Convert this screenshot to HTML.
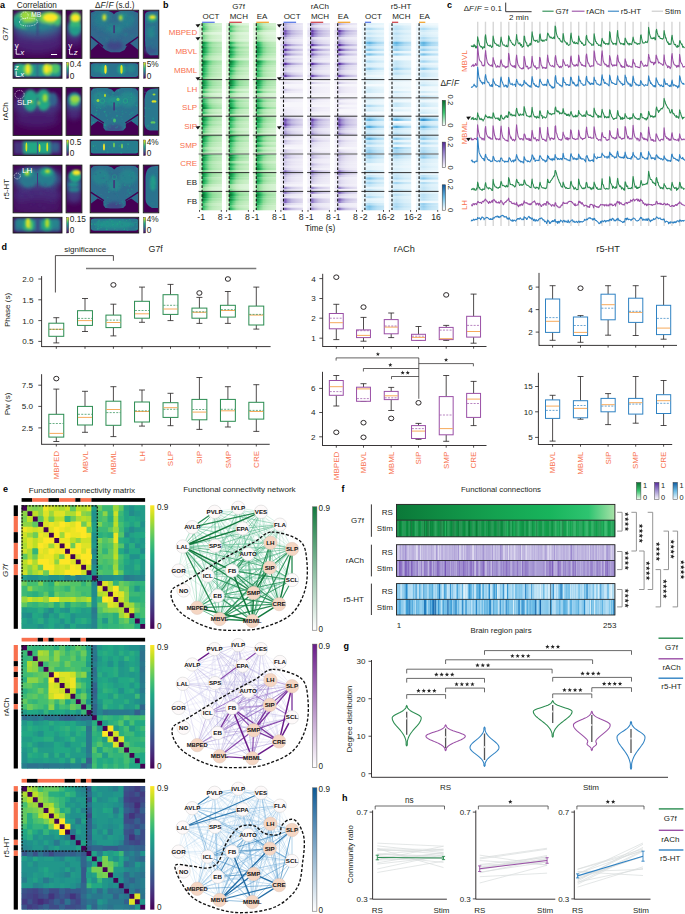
<!DOCTYPE html>
<html><head><meta charset="utf-8"><style>
html,body{margin:0;padding:0;background:#fff;}
body{width:685px;height:914px;overflow:hidden;}
svg{display:block;font-family:"Liberation Sans",sans-serif;}
</style></head><body>
<svg width="685" height="914" viewBox="0 0 685 914" font-size="8" fill="#231f20">
<defs><linearGradient id="rsg"><stop offset="0" stop-color="#0b7838"/><stop offset="0.2" stop-color="#0f8c43"/><stop offset="0.45" stop-color="#14a250"/><stop offset="0.7" stop-color="#18b45c"/><stop offset="0.88" stop-color="#2ec470"/><stop offset="1" stop-color="#a8e2a8"/></linearGradient><linearGradient id="mcb636" x1="0" y1="1" x2="0" y2="0"><stop offset="0" stop-color="#eefaed"/><stop offset="0.5" stop-color="#3cc470"/><stop offset="1" stop-color="#077130"/></linearGradient><linearGradient id="mcb654" x1="0" y1="1" x2="0" y2="0"><stop offset="0" stop-color="#f7f6fb"/><stop offset="0.5" stop-color="#a394d2"/><stop offset="1" stop-color="#56299c"/></linearGradient><linearGradient id="mcb673" x1="0" y1="1" x2="0" y2="0"><stop offset="0" stop-color="#f3fafd"/><stop offset="0.5" stop-color="#6cbce6"/><stop offset="1" stop-color="#0d5a9f"/></linearGradient><linearGradient id="vircb" x1="0" y1="1" x2="0" y2="0"><stop offset="0" stop-color="#440154"/><stop offset="0.1" stop-color="#482475"/><stop offset="0.2" stop-color="#414487"/><stop offset="0.3" stop-color="#355f8d"/><stop offset="0.4" stop-color="#2a788e"/><stop offset="0.5" stop-color="#21918c"/><stop offset="0.6" stop-color="#22a884"/><stop offset="0.7" stop-color="#44bf70"/><stop offset="0.8" stop-color="#7ad151"/><stop offset="0.9" stop-color="#bddf26"/><stop offset="1" stop-color="#fde725"/></linearGradient><clipPath id="cp1"><rect x="13.1" y="10.2" width="48.9" height="48.2"/></clipPath><filter id="b35" x="-30%" y="-30%" width="160%" height="160%"><feGaussianBlur stdDeviation="3.5"/></filter><filter id="b18" x="-30%" y="-30%" width="160%" height="160%"><feGaussianBlur stdDeviation="1.8"/></filter><filter id="b12" x="-30%" y="-30%" width="160%" height="160%"><feGaussianBlur stdDeviation="1.2"/></filter><clipPath id="cp2"><rect x="66.1" y="10.2" width="15.8" height="48.2"/></clipPath><filter id="b30" x="-30%" y="-30%" width="160%" height="160%"><feGaussianBlur stdDeviation="3"/></filter><filter id="b15" x="-30%" y="-30%" width="160%" height="160%"><feGaussianBlur stdDeviation="1.5"/></filter><filter id="b10" x="-30%" y="-30%" width="160%" height="160%"><feGaussianBlur stdDeviation="1"/></filter><clipPath id="cp3"><rect x="13.1" y="62.4" width="48.9" height="15.9"/></clipPath><filter id="b08" x="-30%" y="-30%" width="160%" height="160%"><feGaussianBlur stdDeviation="0.8"/></filter><clipPath id="bc4"><path d="M90.8,12.7 L95.2,11 L101.2,10.6 L108.2,11 L112.2,12.4 L114,14.2 L115.8,12.4 L120.2,11 L127.2,10.6 L133.2,11 L138,12.7 L138.4,50 L129,42.4 L124.5,50 L119.9,52.3 L110.8,52.3 L105.5,50 L98.3,43.6 L90.5,50.8Z"/></clipPath><clipPath id="cp5"><rect x="90.2" y="10.2" width="48.5" height="48.1"/></clipPath><filter id="b05" x="-30%" y="-30%" width="160%" height="160%"><feGaussianBlur stdDeviation="0.5"/></filter><filter id="b20" x="-30%" y="-30%" width="160%" height="160%"><feGaussianBlur stdDeviation="2"/></filter><clipPath id="cp6"><rect x="143.3" y="10.2" width="15.5" height="48.1"/></clipPath><filter id="b06" x="-30%" y="-30%" width="160%" height="160%"><feGaussianBlur stdDeviation="0.6"/></filter><clipPath id="cp7"><rect x="90.2" y="62.4" width="48.5" height="15.9"/></clipPath><clipPath id="cp8"><rect x="13.1" y="87.4" width="48.9" height="48"/></clipPath><filter id="b16" x="-30%" y="-30%" width="160%" height="160%"><feGaussianBlur stdDeviation="1.6"/></filter><clipPath id="cp9"><rect x="66.1" y="87.4" width="15.8" height="48"/></clipPath><filter id="b25" x="-30%" y="-30%" width="160%" height="160%"><feGaussianBlur stdDeviation="2.5"/></filter><clipPath id="cp10"><rect x="13.1" y="140" width="48.9" height="15.5"/></clipPath><clipPath id="bc11"><path d="M91,90.89 L93.2,88.6 L99.2,87.7 L107.2,88 L111.7,89.59 L114.2,91.88 L116.7,89.59 L121.2,88 L129.2,87.7 L135.7,88.6 L138,90.89 L138,125.94 L131.2,120.96 L125.8,123.75 L125.8,127.73 L123.2,130.52 L118.2,130.72 L110.2,130.72 L105.4,130.52 L103.4,127.73 L103.4,123.75 L97.7,120.96 L91,125.94Z"/></clipPath><clipPath id="cp12"><rect x="90.2" y="87.4" width="48.5" height="47.9"/></clipPath><filter id="b04" x="-30%" y="-30%" width="160%" height="160%"><feGaussianBlur stdDeviation="0.4"/></filter><clipPath id="cp13"><rect x="143.3" y="87.4" width="15.5" height="47.9"/></clipPath><clipPath id="cp14"><rect x="90.2" y="140" width="48.5" height="15.5"/></clipPath><clipPath id="cp15"><rect x="13.1" y="165.1" width="48.9" height="47.7"/></clipPath><clipPath id="cp16"><rect x="66.1" y="165.1" width="15.8" height="47.7"/></clipPath><clipPath id="cp17"><rect x="13.1" y="217.3" width="48.9" height="15.7"/></clipPath><clipPath id="bc18"><path d="M91,168.57 L93.2,166.29 L99.2,165.4 L107.2,165.7 L111.7,167.28 L114.2,169.56 L116.7,167.28 L121.2,165.7 L129.2,165.4 L135.7,166.29 L138,168.57 L138,203.48 L131.2,198.52 L125.8,201.3 L125.8,205.26 L123.2,208.04 L118.2,208.24 L110.2,208.24 L105.4,208.04 L103.4,205.26 L103.4,201.3 L97.7,198.52 L91,203.48Z"/></clipPath><clipPath id="cp19"><rect x="90.2" y="165.1" width="48.5" height="47.7"/></clipPath><clipPath id="cp20"><rect x="143.3" y="165.1" width="15.5" height="47.7"/></clipPath><clipPath id="cp21"><rect x="90.2" y="217.3" width="48.5" height="15.7"/></clipPath><linearGradient id="hmG79"><stop offset="0" stop-color="#e1f6df"/><stop offset="0.12" stop-color="#def5dc"/><stop offset="0.15" stop-color="#8adb96"/><stop offset="0.2" stop-color="#5acd7e"/><stop offset="0.3" stop-color="#8fdc99"/><stop offset="0.45" stop-color="#b5e8b5"/><stop offset="0.6" stop-color="#c5edc2"/><stop offset="0.8" stop-color="#cff0cb"/><stop offset="1" stop-color="#d4f2d1"/></linearGradient><linearGradient id="hmG710"><stop offset="0" stop-color="#dff5dd"/><stop offset="0.12" stop-color="#dcf4da"/><stop offset="0.15" stop-color="#7ad68e"/><stop offset="0.2" stop-color="#44c674"/><stop offset="0.3" stop-color="#80d891"/><stop offset="0.45" stop-color="#aee6b0"/><stop offset="0.6" stop-color="#c0ecbe"/><stop offset="0.8" stop-color="#cbefc7"/><stop offset="1" stop-color="#d1f1cd"/></linearGradient><linearGradient id="hmG711"><stop offset="0" stop-color="#ddf5db"/><stop offset="0.12" stop-color="#daf4d7"/><stop offset="0.15" stop-color="#6ad186"/><stop offset="0.2" stop-color="#36bf6b"/><stop offset="0.3" stop-color="#71d38a"/><stop offset="0.45" stop-color="#a7e4ab"/><stop offset="0.6" stop-color="#bbeaba"/><stop offset="0.8" stop-color="#c7eec3"/><stop offset="1" stop-color="#cdf0ca"/></linearGradient><linearGradient id="hmG74"><stop offset="0" stop-color="#eaf8e8"/><stop offset="0.12" stop-color="#e8f8e7"/><stop offset="0.15" stop-color="#c5edc2"/><stop offset="0.2" stop-color="#b5e8b6"/><stop offset="0.3" stop-color="#c7eec3"/><stop offset="0.45" stop-color="#d6f2d3"/><stop offset="0.6" stop-color="#ddf5db"/><stop offset="0.8" stop-color="#e1f6df"/><stop offset="1" stop-color="#e4f7e2"/></linearGradient><linearGradient id="hmG78"><stop offset="0" stop-color="#e3f6e0"/><stop offset="0.12" stop-color="#e0f5de"/><stop offset="0.15" stop-color="#97df9f"/><stop offset="0.2" stop-color="#6fd389"/><stop offset="0.3" stop-color="#9ae0a1"/><stop offset="0.45" stop-color="#bceabb"/><stop offset="0.6" stop-color="#caefc6"/><stop offset="0.8" stop-color="#d2f1cf"/><stop offset="1" stop-color="#d7f3d4"/></linearGradient><linearGradient id="hmG77"><stop offset="0" stop-color="#e4f7e2"/><stop offset="0.12" stop-color="#e2f6e0"/><stop offset="0.15" stop-color="#a2e2a7"/><stop offset="0.2" stop-color="#85d994"/><stop offset="0.3" stop-color="#a6e3aa"/><stop offset="0.45" stop-color="#c2ecc0"/><stop offset="0.6" stop-color="#cff0cb"/><stop offset="0.8" stop-color="#d6f2d3"/><stop offset="1" stop-color="#daf4d7"/></linearGradient><linearGradient id="hmG717"><stop offset="0" stop-color="#d3f1d0"/><stop offset="0.12" stop-color="#cef0ca"/><stop offset="0.15" stop-color="#24b05d"/><stop offset="0.2" stop-color="#0e9143"/><stop offset="0.3" stop-color="#29b561"/><stop offset="0.45" stop-color="#77d58d"/><stop offset="0.6" stop-color="#9de1a3"/><stop offset="0.8" stop-color="#afe6b1"/><stop offset="1" stop-color="#b9e9b9"/></linearGradient><linearGradient id="hmG715"><stop offset="0" stop-color="#d6f2d3"/><stop offset="0.12" stop-color="#d2f1cf"/><stop offset="0.15" stop-color="#33bd69"/><stop offset="0.2" stop-color="#149f4e"/><stop offset="0.3" stop-color="#38c06d"/><stop offset="0.45" stop-color="#8adb96"/><stop offset="0.6" stop-color="#a7e4ab"/><stop offset="0.8" stop-color="#b7e9b7"/><stop offset="1" stop-color="#c0ecbe"/></linearGradient><linearGradient id="hmG718"><stop offset="0" stop-color="#d1f1ce"/><stop offset="0.12" stop-color="#ccefc8"/><stop offset="0.15" stop-color="#1daa57"/><stop offset="0.2" stop-color="#0b893e"/><stop offset="0.3" stop-color="#22af5b"/><stop offset="0.45" stop-color="#6dd288"/><stop offset="0.6" stop-color="#98df9f"/><stop offset="0.8" stop-color="#abe5ae"/><stop offset="1" stop-color="#b6e8b6"/></linearGradient><linearGradient id="hmG716"><stop offset="0" stop-color="#d5f2d2"/><stop offset="0.12" stop-color="#d0f0cd"/><stop offset="0.15" stop-color="#2cb763"/><stop offset="0.2" stop-color="#119848"/><stop offset="0.3" stop-color="#30bb67"/><stop offset="0.45" stop-color="#80d891"/><stop offset="0.6" stop-color="#a2e2a7"/><stop offset="0.8" stop-color="#b3e7b4"/><stop offset="1" stop-color="#bdebbb"/></linearGradient><linearGradient id="hmG714"><stop offset="0" stop-color="#d8f3d5"/><stop offset="0.12" stop-color="#d4f2d1"/><stop offset="0.15" stop-color="#3bc36f"/><stop offset="0.2" stop-color="#18a653"/><stop offset="0.3" stop-color="#42c673"/><stop offset="0.45" stop-color="#92dd9b"/><stop offset="0.6" stop-color="#ace5af"/><stop offset="0.8" stop-color="#bbeaba"/><stop offset="1" stop-color="#c4edc1"/></linearGradient><linearGradient id="hmG720"><stop offset="0" stop-color="#cef0ca"/><stop offset="0.12" stop-color="#c8eec4"/><stop offset="0.15" stop-color="#149f4e"/><stop offset="0.2" stop-color="#087633"/><stop offset="0.3" stop-color="#15a351"/><stop offset="0.45" stop-color="#5acd7e"/><stop offset="0.6" stop-color="#8ddc98"/><stop offset="0.8" stop-color="#a3e3a8"/><stop offset="1" stop-color="#afe6b1"/></linearGradient><linearGradient id="hmG712"><stop offset="0" stop-color="#dcf4d9"/><stop offset="0.12" stop-color="#d8f3d5"/><stop offset="0.15" stop-color="#5acd7e"/><stop offset="0.2" stop-color="#2cb763"/><stop offset="0.3" stop-color="#61cf82"/><stop offset="0.45" stop-color="#a0e2a6"/><stop offset="0.6" stop-color="#b6e8b6"/><stop offset="0.8" stop-color="#c3ecc0"/><stop offset="1" stop-color="#caefc6"/></linearGradient><linearGradient id="hmG76"><stop offset="0" stop-color="#e6f7e4"/><stop offset="0.12" stop-color="#e4f7e2"/><stop offset="0.15" stop-color="#aee6b0"/><stop offset="0.2" stop-color="#97df9f"/><stop offset="0.3" stop-color="#b1e7b2"/><stop offset="0.45" stop-color="#c9eec5"/><stop offset="0.6" stop-color="#d4f2d1"/><stop offset="0.8" stop-color="#daf4d7"/><stop offset="1" stop-color="#ddf5db"/></linearGradient><linearGradient id="hmG713"><stop offset="0" stop-color="#daf4d7"/><stop offset="0.12" stop-color="#d6f2d3"/><stop offset="0.15" stop-color="#49c876"/><stop offset="0.2" stop-color="#22ae5b"/><stop offset="0.3" stop-color="#52ca7b"/><stop offset="0.45" stop-color="#99dfa0"/><stop offset="0.6" stop-color="#b1e7b3"/><stop offset="0.8" stop-color="#bfebbd"/><stop offset="1" stop-color="#c7eec3"/></linearGradient><linearGradient id="hmG75"><stop offset="0" stop-color="#e8f8e6"/><stop offset="0.12" stop-color="#e6f7e5"/><stop offset="0.15" stop-color="#b9e9b9"/><stop offset="0.2" stop-color="#a6e3aa"/><stop offset="0.3" stop-color="#bceabb"/><stop offset="0.45" stop-color="#d0f0cc"/><stop offset="0.6" stop-color="#d9f3d6"/><stop offset="0.8" stop-color="#def5db"/><stop offset="1" stop-color="#e1f6de"/></linearGradient><linearGradient id="hmG719"><stop offset="0" stop-color="#cff0cc"/><stop offset="0.12" stop-color="#caefc6"/><stop offset="0.15" stop-color="#16a451"/><stop offset="0.2" stop-color="#098038"/><stop offset="0.3" stop-color="#1ba956"/><stop offset="0.45" stop-color="#63cf83"/><stop offset="0.6" stop-color="#93dd9c"/><stop offset="0.8" stop-color="#a7e4ab"/><stop offset="1" stop-color="#b3e7b4"/></linearGradient><linearGradient id="hmrA8"><stop offset="0" stop-color="#edebf7"/><stop offset="0.12" stop-color="#edebf7"/><stop offset="0.15" stop-color="#c0b8e0"/><stop offset="0.22" stop-color="#b1a5d9"/><stop offset="0.32" stop-color="#c8c0e4"/><stop offset="0.5" stop-color="#dad5ed"/><stop offset="0.7" stop-color="#e3dff1"/><stop offset="1" stop-color="#eae7f5"/></linearGradient><linearGradient id="hmrA7"><stop offset="0" stop-color="#efecf7"/><stop offset="0.12" stop-color="#efecf7"/><stop offset="0.15" stop-color="#c8c0e4"/><stop offset="0.22" stop-color="#bbb1de"/><stop offset="0.32" stop-color="#cec7e7"/><stop offset="0.5" stop-color="#ded9ef"/><stop offset="0.7" stop-color="#e6e2f3"/><stop offset="1" stop-color="#ebe9f6"/></linearGradient><linearGradient id="hmrA15"><stop offset="0" stop-color="#e5e1f2"/><stop offset="0.12" stop-color="#e5e1f2"/><stop offset="0.15" stop-color="#8d75c5"/><stop offset="0.22" stop-color="#7554b6"/><stop offset="0.32" stop-color="#9a88cd"/><stop offset="0.5" stop-color="#bdb4df"/><stop offset="0.7" stop-color="#cec7e7"/><stop offset="1" stop-color="#ddd8ee"/></linearGradient><linearGradient id="hmrA16"><stop offset="0" stop-color="#e4dff2"/><stop offset="0.12" stop-color="#e4dff2"/><stop offset="0.15" stop-color="#866bc1"/><stop offset="0.22" stop-color="#6e4ab1"/><stop offset="0.32" stop-color="#947fc9"/><stop offset="0.5" stop-color="#b9afdd"/><stop offset="0.7" stop-color="#cbc4e5"/><stop offset="1" stop-color="#dbd6ed"/></linearGradient><linearGradient id="hmrA11"><stop offset="0" stop-color="#eae7f5"/><stop offset="0.12" stop-color="#eae7f5"/><stop offset="0.15" stop-color="#aa9cd5"/><stop offset="0.22" stop-color="#9682ca"/><stop offset="0.32" stop-color="#b4a9da"/><stop offset="0.5" stop-color="#cec7e7"/><stop offset="0.7" stop-color="#dad4ed"/><stop offset="1" stop-color="#e5e1f2"/></linearGradient><linearGradient id="hmrA5"><stop offset="0" stop-color="#f1eff8"/><stop offset="0.12" stop-color="#f1eff8"/><stop offset="0.15" stop-color="#d6d1eb"/><stop offset="0.22" stop-color="#cdc6e7"/><stop offset="0.32" stop-color="#dbd6ed"/><stop offset="0.5" stop-color="#e6e2f3"/><stop offset="0.7" stop-color="#ebe8f5"/><stop offset="1" stop-color="#efecf7"/></linearGradient><linearGradient id="hmrA17"><stop offset="0" stop-color="#e2def1"/><stop offset="0.12" stop-color="#e2def1"/><stop offset="0.15" stop-color="#8062bd"/><stop offset="0.22" stop-color="#663fab"/><stop offset="0.32" stop-color="#8e76c6"/><stop offset="0.5" stop-color="#b5a9db"/><stop offset="0.7" stop-color="#c8c0e4"/><stop offset="1" stop-color="#d9d3ec"/></linearGradient><linearGradient id="hmrA6"><stop offset="0" stop-color="#f0eef8"/><stop offset="0.12" stop-color="#f0eef8"/><stop offset="0.15" stop-color="#cfc8e8"/><stop offset="0.22" stop-color="#c4bce2"/><stop offset="0.32" stop-color="#d5cfea"/><stop offset="0.5" stop-color="#e2def1"/><stop offset="0.7" stop-color="#e8e5f4"/><stop offset="1" stop-color="#edebf6"/></linearGradient><linearGradient id="hmrA18"><stop offset="0" stop-color="#e1dcf0"/><stop offset="0.12" stop-color="#e1dcf0"/><stop offset="0.15" stop-color="#7a5ab9"/><stop offset="0.22" stop-color="#5e34a3"/><stop offset="0.32" stop-color="#886dc2"/><stop offset="0.5" stop-color="#b0a4d9"/><stop offset="0.7" stop-color="#c5bde2"/><stop offset="1" stop-color="#d7d1eb"/></linearGradient><linearGradient id="hmrA4"><stop offset="0" stop-color="#f2f1f9"/><stop offset="0.12" stop-color="#f2f1f9"/><stop offset="0.15" stop-color="#ded9ef"/><stop offset="0.22" stop-color="#d6d1eb"/><stop offset="0.32" stop-color="#e1ddf1"/><stop offset="0.5" stop-color="#e9e6f5"/><stop offset="0.7" stop-color="#edebf6"/><stop offset="1" stop-color="#f1eef8"/></linearGradient><linearGradient id="hmrA19"><stop offset="0" stop-color="#dfdbf0"/><stop offset="0.12" stop-color="#dfdbf0"/><stop offset="0.15" stop-color="#7452b5"/><stop offset="0.22" stop-color="#56299c"/><stop offset="0.32" stop-color="#8265bf"/><stop offset="0.5" stop-color="#ac9fd6"/><stop offset="0.7" stop-color="#c2b9e1"/><stop offset="1" stop-color="#d5cfea"/></linearGradient><linearGradient id="hmrA9"><stop offset="0" stop-color="#ece9f6"/><stop offset="0.12" stop-color="#ece9f6"/><stop offset="0.15" stop-color="#b9afdd"/><stop offset="0.22" stop-color="#a89ad4"/><stop offset="0.32" stop-color="#c1b9e1"/><stop offset="0.5" stop-color="#d6d0eb"/><stop offset="0.7" stop-color="#e0dbf0"/><stop offset="1" stop-color="#e8e5f4"/></linearGradient><linearGradient id="hmrA1"><stop offset="0" stop-color="#f6f5fb"/><stop offset="0.12" stop-color="#f6f5fb"/><stop offset="0.15" stop-color="#f1eff8"/><stop offset="0.22" stop-color="#f0edf8"/><stop offset="0.32" stop-color="#f2f0f9"/><stop offset="0.5" stop-color="#f4f2fa"/><stop offset="0.7" stop-color="#f5f3fa"/><stop offset="1" stop-color="#f6f4fa"/></linearGradient><linearGradient id="hmrA3"><stop offset="0" stop-color="#f4f2fa"/><stop offset="0.12" stop-color="#f4f2fa"/><stop offset="0.15" stop-color="#e5e1f2"/><stop offset="0.22" stop-color="#e0dbf0"/><stop offset="0.32" stop-color="#e7e4f4"/><stop offset="0.5" stop-color="#edeaf6"/><stop offset="0.7" stop-color="#f0edf8"/><stop offset="1" stop-color="#f2f0f9"/></linearGradient><linearGradient id="hmrA0"><stop offset="0" stop-color="#f7f6fb"/><stop offset="0.12" stop-color="#f7f6fb"/><stop offset="0.15" stop-color="#f7f6fb"/><stop offset="0.22" stop-color="#f7f6fb"/><stop offset="0.32" stop-color="#f7f6fb"/><stop offset="0.5" stop-color="#f7f6fb"/><stop offset="0.7" stop-color="#f7f6fb"/><stop offset="1" stop-color="#f7f6fb"/></linearGradient><linearGradient id="hmrA2"><stop offset="0" stop-color="#f5f3fa"/><stop offset="0.12" stop-color="#f5f3fa"/><stop offset="0.15" stop-color="#ebe8f5"/><stop offset="0.22" stop-color="#e8e4f4"/><stop offset="0.32" stop-color="#edeaf6"/><stop offset="0.5" stop-color="#f0eef8"/><stop offset="0.7" stop-color="#f2f0f9"/><stop offset="1" stop-color="#f4f2fa"/></linearGradient><linearGradient id="hmrA14"><stop offset="0" stop-color="#e6e2f3"/><stop offset="0.12" stop-color="#e6e2f3"/><stop offset="0.15" stop-color="#947fc9"/><stop offset="0.22" stop-color="#7d5ebb"/><stop offset="0.32" stop-color="#a191d1"/><stop offset="0.5" stop-color="#c1b9e1"/><stop offset="0.7" stop-color="#d1cae8"/><stop offset="1" stop-color="#dfdaef"/></linearGradient><linearGradient id="hmrA10"><stop offset="0" stop-color="#ebe8f5"/><stop offset="0.12" stop-color="#ebe8f5"/><stop offset="0.15" stop-color="#b1a5d9"/><stop offset="0.22" stop-color="#9f8ed0"/><stop offset="0.32" stop-color="#bbb1de"/><stop offset="0.5" stop-color="#d2cce9"/><stop offset="0.7" stop-color="#ddd8ee"/><stop offset="1" stop-color="#e6e3f3"/></linearGradient><linearGradient id="hmrA13"><stop offset="0" stop-color="#e7e4f4"/><stop offset="0.12" stop-color="#e7e4f4"/><stop offset="0.15" stop-color="#9b89ce"/><stop offset="0.22" stop-color="#8468c0"/><stop offset="0.32" stop-color="#a799d4"/><stop offset="0.5" stop-color="#c6bee3"/><stop offset="0.7" stop-color="#d4ceea"/><stop offset="1" stop-color="#e1dcf0"/></linearGradient><linearGradient id="hmrA12"><stop offset="0" stop-color="#e9e5f4"/><stop offset="0.12" stop-color="#e9e5f4"/><stop offset="0.15" stop-color="#a293d2"/><stop offset="0.22" stop-color="#8d75c5"/><stop offset="0.32" stop-color="#aea1d7"/><stop offset="0.5" stop-color="#cac2e5"/><stop offset="0.7" stop-color="#d7d1eb"/><stop offset="1" stop-color="#e3dff1"/></linearGradient><linearGradient id="hmrA20"><stop offset="0" stop-color="#ded9ef"/><stop offset="0.12" stop-color="#ded9ef"/><stop offset="0.15" stop-color="#6e4ab1"/><stop offset="0.22" stop-color="#4e1f94"/><stop offset="0.32" stop-color="#7d5ebb"/><stop offset="0.5" stop-color="#a89ad4"/><stop offset="0.7" stop-color="#bfb5df"/><stop offset="1" stop-color="#d3cde9"/></linearGradient><linearGradient id="hmr53"><stop offset="0" stop-color="#f1f9fd"/><stop offset="0.12" stop-color="#f1f9fd"/><stop offset="0.16" stop-color="#e4f4fb"/><stop offset="0.25" stop-color="#dcf0fa"/><stop offset="0.35" stop-color="#d9eff9"/><stop offset="0.5" stop-color="#def1fa"/><stop offset="0.7" stop-color="#e4f4fb"/><stop offset="1" stop-color="#e8f6fc"/></linearGradient><linearGradient id="hmr52"><stop offset="0" stop-color="#f3fafd"/><stop offset="0.12" stop-color="#f3fafd"/><stop offset="0.16" stop-color="#eaf6fc"/><stop offset="0.25" stop-color="#e4f4fb"/><stop offset="0.35" stop-color="#e2f3fb"/><stop offset="0.5" stop-color="#e6f5fb"/><stop offset="0.7" stop-color="#eaf6fc"/><stop offset="1" stop-color="#edf7fc"/></linearGradient><linearGradient id="hmr57"><stop offset="0" stop-color="#ebf7fc"/><stop offset="0.12" stop-color="#ebf7fc"/><stop offset="0.16" stop-color="#cce9f7"/><stop offset="0.25" stop-color="#b5def4"/><stop offset="0.35" stop-color="#aedbf3"/><stop offset="0.5" stop-color="#bde2f5"/><stop offset="0.7" stop-color="#cce9f7"/><stop offset="1" stop-color="#d7eef9"/></linearGradient><linearGradient id="hmr55"><stop offset="0" stop-color="#eef8fd"/><stop offset="0.12" stop-color="#eef8fd"/><stop offset="0.16" stop-color="#d9eff9"/><stop offset="0.25" stop-color="#c9e8f7"/><stop offset="0.35" stop-color="#c3e5f6"/><stop offset="0.5" stop-color="#ceeaf8"/><stop offset="0.7" stop-color="#d9eff9"/><stop offset="1" stop-color="#e0f2fa"/></linearGradient><linearGradient id="hmr56"><stop offset="0" stop-color="#edf7fc"/><stop offset="0.12" stop-color="#edf7fc"/><stop offset="0.16" stop-color="#d2ecf8"/><stop offset="0.25" stop-color="#bfe3f6"/><stop offset="0.35" stop-color="#b9e0f5"/><stop offset="0.5" stop-color="#c6e6f6"/><stop offset="0.7" stop-color="#d2ecf8"/><stop offset="1" stop-color="#dcf0fa"/></linearGradient><linearGradient id="hmr513"><stop offset="0" stop-color="#e3f3fb"/><stop offset="0.12" stop-color="#e3f3fb"/><stop offset="0.16" stop-color="#a4d6f1"/><stop offset="0.25" stop-color="#6ebde6"/><stop offset="0.35" stop-color="#5db2e0"/><stop offset="0.5" stop-color="#80c5ea"/><stop offset="0.7" stop-color="#a4d6f1"/><stop offset="1" stop-color="#bae1f5"/></linearGradient><linearGradient id="hmr59"><stop offset="0" stop-color="#e8f6fc"/><stop offset="0.12" stop-color="#e8f6fc"/><stop offset="0.16" stop-color="#bfe3f6"/><stop offset="0.25" stop-color="#a0d4f0"/><stop offset="0.35" stop-color="#94ceee"/><stop offset="0.5" stop-color="#acdaf3"/><stop offset="0.7" stop-color="#bfe3f6"/><stop offset="1" stop-color="#ceeaf8"/></linearGradient><linearGradient id="hmr510"><stop offset="0" stop-color="#e7f5fb"/><stop offset="0.12" stop-color="#e7f5fb"/><stop offset="0.16" stop-color="#b9e0f5"/><stop offset="0.25" stop-color="#94ceee"/><stop offset="0.35" stop-color="#86c8eb"/><stop offset="0.5" stop-color="#a2d5f1"/><stop offset="0.7" stop-color="#b9e0f5"/><stop offset="1" stop-color="#c9e8f7"/></linearGradient><linearGradient id="hmr511"><stop offset="0" stop-color="#e6f4fb"/><stop offset="0.12" stop-color="#e6f4fb"/><stop offset="0.16" stop-color="#b2ddf4"/><stop offset="0.25" stop-color="#87c9eb"/><stop offset="0.35" stop-color="#78c1e8"/><stop offset="0.5" stop-color="#96d0ee"/><stop offset="0.7" stop-color="#b2ddf4"/><stop offset="1" stop-color="#c4e5f6"/></linearGradient><linearGradient id="hmr54"><stop offset="0" stop-color="#f0f9fd"/><stop offset="0.12" stop-color="#f0f9fd"/><stop offset="0.16" stop-color="#def1fa"/><stop offset="0.25" stop-color="#d2ecf8"/><stop offset="0.35" stop-color="#ceeaf8"/><stop offset="0.5" stop-color="#d7eef9"/><stop offset="0.7" stop-color="#def1fa"/><stop offset="1" stop-color="#e4f4fb"/></linearGradient><linearGradient id="hmr51"><stop offset="0" stop-color="#f4fafd"/><stop offset="0.12" stop-color="#f4fafd"/><stop offset="0.16" stop-color="#f0f9fd"/><stop offset="0.25" stop-color="#edf7fc"/><stop offset="0.35" stop-color="#ecf7fc"/><stop offset="0.5" stop-color="#eef8fc"/><stop offset="0.7" stop-color="#f0f9fd"/><stop offset="1" stop-color="#f1f9fd"/></linearGradient><linearGradient id="hmr50"><stop offset="0" stop-color="#f5fbfe"/><stop offset="0.12" stop-color="#f5fbfe"/><stop offset="0.16" stop-color="#f5fbfe"/><stop offset="0.25" stop-color="#f5fbfe"/><stop offset="0.35" stop-color="#f5fbfe"/><stop offset="0.5" stop-color="#f5fbfe"/><stop offset="0.7" stop-color="#f5fbfe"/><stop offset="1" stop-color="#f5fbfe"/></linearGradient><linearGradient id="hmr58"><stop offset="0" stop-color="#eaf6fc"/><stop offset="0.12" stop-color="#eaf6fc"/><stop offset="0.16" stop-color="#c6e6f6"/><stop offset="0.25" stop-color="#acdaf3"/><stop offset="0.35" stop-color="#a2d5f1"/><stop offset="0.5" stop-color="#b4def4"/><stop offset="0.7" stop-color="#c6e6f6"/><stop offset="1" stop-color="#d2ecf8"/></linearGradient><linearGradient id="hmr514"><stop offset="0" stop-color="#e1f3fb"/><stop offset="0.12" stop-color="#e1f3fb"/><stop offset="0.16" stop-color="#9cd2f0"/><stop offset="0.25" stop-color="#62b5e2"/><stop offset="0.35" stop-color="#50a9dc"/><stop offset="0.5" stop-color="#75c0e8"/><stop offset="0.7" stop-color="#9cd2f0"/><stop offset="1" stop-color="#b5def4"/></linearGradient><linearGradient id="hmr512"><stop offset="0" stop-color="#e4f4fb"/><stop offset="0.12" stop-color="#e4f4fb"/><stop offset="0.16" stop-color="#acdaf3"/><stop offset="0.25" stop-color="#7ac3e9"/><stop offset="0.35" stop-color="#6abae5"/><stop offset="0.5" stop-color="#8bcbec"/><stop offset="0.7" stop-color="#acdaf3"/><stop offset="1" stop-color="#bfe3f6"/></linearGradient><linearGradient id="hmr517"><stop offset="0" stop-color="#ddf1fa"/><stop offset="0.12" stop-color="#ddf1fa"/><stop offset="0.16" stop-color="#83c7eb"/><stop offset="0.25" stop-color="#3f9dd6"/><stop offset="0.35" stop-color="#2e8ecd"/><stop offset="0.5" stop-color="#55acde"/><stop offset="0.7" stop-color="#83c7eb"/><stop offset="1" stop-color="#a7d7f2"/></linearGradient><linearGradient id="cbG" x1="0" y1="1" x2="0" y2="0"><stop offset="0" stop-color="#ffffff"/><stop offset="0.5" stop-color="#3cc470"/><stop offset="1" stop-color="#066c2e"/></linearGradient><linearGradient id="cbP" x1="0" y1="1" x2="0" y2="0"><stop offset="0" stop-color="#ffffff"/><stop offset="0.5" stop-color="#a394d2"/><stop offset="1" stop-color="#532599"/></linearGradient><linearGradient id="cbB" x1="0" y1="1" x2="0" y2="0"><stop offset="0" stop-color="#ffffff"/><stop offset="0.5" stop-color="#6cbce6"/><stop offset="1" stop-color="#0c559b"/></linearGradient><linearGradient id="ngG" x1="0" y1="1" x2="0" y2="0"><stop offset="0" stop-color="#fff"/><stop offset="1" stop-color="#137a3e"/></linearGradient><linearGradient id="ngP" x1="0" y1="1" x2="0" y2="0"><stop offset="0" stop-color="#fff"/><stop offset="1" stop-color="#6a1b8a"/></linearGradient><linearGradient id="ngB" x1="0" y1="1" x2="0" y2="0"><stop offset="0" stop-color="#fff"/><stop offset="1" stop-color="#0d5a96"/></linearGradient></defs>
<text x="0" y="7.5" font-size="9" fill="#000" font-weight="bold">a</text>
<text x="163" y="7.5" font-size="9" fill="#000" font-weight="bold">b</text>
<text x="447" y="7.5" font-size="9" fill="#000" font-weight="bold">c</text>
<text x="1.5" y="250" font-size="9" fill="#000" font-weight="bold">d</text>
<text x="3" y="491.5" font-size="9" fill="#000" font-weight="bold">e</text>
<text x="341.5" y="492" font-size="9" fill="#000" font-weight="bold">f</text>
<text x="343.5" y="649" font-size="9" fill="#000" font-weight="bold">g</text>
<text x="342" y="800.5" font-size="9" fill="#000" font-weight="bold">h</text>
<line x1="41.6" y1="276.1" x2="41.6" y2="347" stroke="#231f20" stroke-width="0.9"/>
<line x1="41.6" y1="346.6" x2="270.6" y2="346.6" stroke="#231f20" stroke-width="0.9"/>
<line x1="38.3" y1="279" x2="41.6" y2="279" stroke="#231f20" stroke-width="0.8"/>
<text x="33.4" y="281.9" text-anchor="end" font-size="8.1">2.0</text>
<line x1="38.3" y1="299.8" x2="41.6" y2="299.8" stroke="#231f20" stroke-width="0.8"/>
<text x="33.4" y="302.7" text-anchor="end" font-size="8.1">1.5</text>
<line x1="38.3" y1="320.6" x2="41.6" y2="320.6" stroke="#231f20" stroke-width="0.8"/>
<text x="33.4" y="323.5" text-anchor="end" font-size="8.1">1.0</text>
<line x1="38.3" y1="341.4" x2="41.6" y2="341.4" stroke="#231f20" stroke-width="0.8"/>
<text x="33.4" y="344.3" text-anchor="end" font-size="8.1">0.5</text>
<line x1="56.3" y1="346.6" x2="56.3" y2="348.8" stroke="#231f20" stroke-width="0.8"/>
<line x1="85" y1="346.6" x2="85" y2="348.8" stroke="#231f20" stroke-width="0.8"/>
<line x1="113.4" y1="346.6" x2="113.4" y2="348.8" stroke="#231f20" stroke-width="0.8"/>
<line x1="142" y1="346.6" x2="142" y2="348.8" stroke="#231f20" stroke-width="0.8"/>
<line x1="170.5" y1="346.6" x2="170.5" y2="348.8" stroke="#231f20" stroke-width="0.8"/>
<line x1="199.4" y1="346.6" x2="199.4" y2="348.8" stroke="#231f20" stroke-width="0.8"/>
<line x1="227.9" y1="346.6" x2="227.9" y2="348.8" stroke="#231f20" stroke-width="0.8"/>
<line x1="256.3" y1="346.6" x2="256.3" y2="348.8" stroke="#231f20" stroke-width="0.8"/>
<line x1="41.6" y1="374.2" x2="41.6" y2="444.7" stroke="#231f20" stroke-width="0.9"/>
<line x1="41.6" y1="444.3" x2="269.7" y2="444.3" stroke="#231f20" stroke-width="0.9"/>
<line x1="38.3" y1="385.2" x2="41.6" y2="385.2" stroke="#231f20" stroke-width="0.8"/>
<text x="33" y="388.1" text-anchor="end" font-size="8.1">7.5</text>
<line x1="38.3" y1="406.4" x2="41.6" y2="406.4" stroke="#231f20" stroke-width="0.8"/>
<text x="33" y="409.3" text-anchor="end" font-size="8.1">5.0</text>
<line x1="38.3" y1="427.9" x2="41.6" y2="427.9" stroke="#231f20" stroke-width="0.8"/>
<text x="33" y="430.8" text-anchor="end" font-size="8.1">2.5</text>
<line x1="56.3" y1="444.3" x2="56.3" y2="446.5" stroke="#231f20" stroke-width="0.8"/>
<line x1="85" y1="444.3" x2="85" y2="446.5" stroke="#231f20" stroke-width="0.8"/>
<line x1="113.4" y1="444.3" x2="113.4" y2="446.5" stroke="#231f20" stroke-width="0.8"/>
<line x1="142" y1="444.3" x2="142" y2="446.5" stroke="#231f20" stroke-width="0.8"/>
<line x1="170.5" y1="444.3" x2="170.5" y2="446.5" stroke="#231f20" stroke-width="0.8"/>
<line x1="199.4" y1="444.3" x2="199.4" y2="446.5" stroke="#231f20" stroke-width="0.8"/>
<line x1="227.9" y1="444.3" x2="227.9" y2="446.5" stroke="#231f20" stroke-width="0.8"/>
<line x1="256.3" y1="444.3" x2="256.3" y2="446.5" stroke="#231f20" stroke-width="0.8"/>
<line x1="56.3" y1="317.7" x2="56.3" y2="323.2" stroke="#231f20" stroke-width="0.8"/>
<line x1="56.3" y1="336.3" x2="56.3" y2="342.9" stroke="#231f20" stroke-width="0.8"/>
<line x1="53.3" y1="317.7" x2="59.3" y2="317.7" stroke="#231f20" stroke-width="0.8"/>
<line x1="53.3" y1="342.9" x2="59.3" y2="342.9" stroke="#231f20" stroke-width="0.8"/>
<rect x="48.85" y="323.2" width="14.9" height="13.1" fill="#fff" stroke="#2a8c50" stroke-width="1"/>
<line x1="49.25" y1="329.3" x2="63.35" y2="329.3" stroke="#f5a04a" stroke-width="0.9"/>
<line x1="49.25" y1="329.3" x2="63.35" y2="329.3" stroke="#2a8c50" stroke-width="0.7" stroke-dasharray="2 1.3"/>
<line x1="56.3" y1="389.1" x2="56.3" y2="414.3" stroke="#231f20" stroke-width="0.8"/>
<line x1="56.3" y1="437.1" x2="56.3" y2="441.5" stroke="#231f20" stroke-width="0.8"/>
<line x1="53.3" y1="389.1" x2="59.3" y2="389.1" stroke="#231f20" stroke-width="0.8"/>
<line x1="53.3" y1="441.5" x2="59.3" y2="441.5" stroke="#231f20" stroke-width="0.8"/>
<rect x="48.85" y="414.3" width="14.9" height="22.8" fill="#fff" stroke="#2a8c50" stroke-width="1"/>
<line x1="49.25" y1="433.4" x2="63.35" y2="433.4" stroke="#f5a04a" stroke-width="0.9"/>
<line x1="49.25" y1="423.5" x2="63.35" y2="423.5" stroke="#2a8c50" stroke-width="0.7" stroke-dasharray="2 1.3"/>
<ellipse cx="56.3" cy="378.6" rx="2.6" ry="2.3" fill="none" stroke="#231f20" stroke-width="0.95"/>
<text x="59.1" y="451" text-anchor="end" fill="#f8704e" transform="rotate(-90 59.1 451)">MBPED</text>
<line x1="85" y1="298.5" x2="85" y2="310.7" stroke="#231f20" stroke-width="0.8"/>
<line x1="85" y1="325.4" x2="85" y2="331.5" stroke="#231f20" stroke-width="0.8"/>
<line x1="82" y1="298.5" x2="88" y2="298.5" stroke="#231f20" stroke-width="0.8"/>
<line x1="82" y1="331.5" x2="88" y2="331.5" stroke="#231f20" stroke-width="0.8"/>
<rect x="77.55" y="310.7" width="14.9" height="14.7" fill="#fff" stroke="#2a8c50" stroke-width="1"/>
<line x1="77.95" y1="320.6" x2="92.05" y2="320.6" stroke="#f5a04a" stroke-width="0.9"/>
<line x1="77.95" y1="318.4" x2="92.05" y2="318.4" stroke="#2a8c50" stroke-width="0.7" stroke-dasharray="2 1.3"/>
<line x1="85" y1="391.3" x2="85" y2="406.4" stroke="#231f20" stroke-width="0.8"/>
<line x1="85" y1="425" x2="85" y2="432.3" stroke="#231f20" stroke-width="0.8"/>
<line x1="82" y1="391.3" x2="88" y2="391.3" stroke="#231f20" stroke-width="0.8"/>
<line x1="82" y1="432.3" x2="88" y2="432.3" stroke="#231f20" stroke-width="0.8"/>
<rect x="77.55" y="406.4" width="14.9" height="18.6" fill="#fff" stroke="#2a8c50" stroke-width="1"/>
<line x1="77.95" y1="417.4" x2="92.05" y2="417.4" stroke="#f5a04a" stroke-width="0.9"/>
<line x1="77.95" y1="414.3" x2="92.05" y2="414.3" stroke="#2a8c50" stroke-width="0.7" stroke-dasharray="2 1.3"/>
<text x="87.8" y="451" text-anchor="end" fill="#f8704e" transform="rotate(-90 87.8 451)">MBVL</text>
<line x1="113.4" y1="304.2" x2="113.4" y2="315.1" stroke="#231f20" stroke-width="0.8"/>
<line x1="113.4" y1="327.6" x2="113.4" y2="335.9" stroke="#231f20" stroke-width="0.8"/>
<line x1="110.4" y1="304.2" x2="116.4" y2="304.2" stroke="#231f20" stroke-width="0.8"/>
<line x1="110.4" y1="335.9" x2="116.4" y2="335.9" stroke="#231f20" stroke-width="0.8"/>
<rect x="105.95" y="315.1" width="14.9" height="12.5" fill="#fff" stroke="#2a8c50" stroke-width="1"/>
<line x1="106.35" y1="322.5" x2="120.45" y2="322.5" stroke="#f5a04a" stroke-width="0.9"/>
<line x1="106.35" y1="320.1" x2="120.45" y2="320.1" stroke="#2a8c50" stroke-width="0.7" stroke-dasharray="2 1.3"/>
<ellipse cx="113.4" cy="284.9" rx="2.6" ry="2.3" fill="none" stroke="#231f20" stroke-width="0.95"/>
<line x1="113.4" y1="386.7" x2="113.4" y2="401.2" stroke="#231f20" stroke-width="0.8"/>
<line x1="113.4" y1="425.3" x2="113.4" y2="436.6" stroke="#231f20" stroke-width="0.8"/>
<line x1="110.4" y1="386.7" x2="116.4" y2="386.7" stroke="#231f20" stroke-width="0.8"/>
<line x1="110.4" y1="436.6" x2="116.4" y2="436.6" stroke="#231f20" stroke-width="0.8"/>
<rect x="105.95" y="401.2" width="14.9" height="24.1" fill="#fff" stroke="#2a8c50" stroke-width="1"/>
<line x1="106.35" y1="409.5" x2="120.45" y2="409.5" stroke="#f5a04a" stroke-width="0.9"/>
<line x1="106.35" y1="412.6" x2="120.45" y2="412.6" stroke="#2a8c50" stroke-width="0.7" stroke-dasharray="2 1.3"/>
<text x="116.2" y="451" text-anchor="end" fill="#f8704e" transform="rotate(-90 116.2 451)">MBML</text>
<line x1="142" y1="287.1" x2="142" y2="301.3" stroke="#231f20" stroke-width="0.8"/>
<line x1="142" y1="318.2" x2="142" y2="322.3" stroke="#231f20" stroke-width="0.8"/>
<line x1="139" y1="287.1" x2="145" y2="287.1" stroke="#231f20" stroke-width="0.8"/>
<line x1="139" y1="322.3" x2="145" y2="322.3" stroke="#231f20" stroke-width="0.8"/>
<rect x="134.55" y="301.3" width="14.9" height="16.9" fill="#fff" stroke="#2a8c50" stroke-width="1"/>
<line x1="134.95" y1="313.8" x2="149.05" y2="313.8" stroke="#f5a04a" stroke-width="0.9"/>
<line x1="134.95" y1="310.5" x2="149.05" y2="310.5" stroke="#2a8c50" stroke-width="0.7" stroke-dasharray="2 1.3"/>
<line x1="142" y1="390" x2="142" y2="402" stroke="#231f20" stroke-width="0.8"/>
<line x1="142" y1="422" x2="142" y2="426.1" stroke="#231f20" stroke-width="0.8"/>
<line x1="139" y1="390" x2="145" y2="390" stroke="#231f20" stroke-width="0.8"/>
<line x1="139" y1="426.1" x2="145" y2="426.1" stroke="#231f20" stroke-width="0.8"/>
<rect x="134.55" y="402" width="14.9" height="20" fill="#fff" stroke="#2a8c50" stroke-width="1"/>
<line x1="134.95" y1="411.5" x2="149.05" y2="411.5" stroke="#f5a04a" stroke-width="0.9"/>
<line x1="134.95" y1="410.8" x2="149.05" y2="410.8" stroke="#2a8c50" stroke-width="0.7" stroke-dasharray="2 1.3"/>
<text x="144.8" y="451" text-anchor="end" fill="#f8704e" transform="rotate(-90 144.8 451)">LH</text>
<line x1="170.5" y1="284.4" x2="170.5" y2="294.7" stroke="#231f20" stroke-width="0.8"/>
<line x1="170.5" y1="314.4" x2="170.5" y2="320.6" stroke="#231f20" stroke-width="0.8"/>
<line x1="167.5" y1="284.4" x2="173.5" y2="284.4" stroke="#231f20" stroke-width="0.8"/>
<line x1="167.5" y1="320.6" x2="173.5" y2="320.6" stroke="#231f20" stroke-width="0.8"/>
<rect x="163.05" y="294.7" width="14.9" height="19.7" fill="#fff" stroke="#2a8c50" stroke-width="1"/>
<line x1="163.45" y1="309" x2="177.55" y2="309" stroke="#f5a04a" stroke-width="0.9"/>
<line x1="163.45" y1="305.3" x2="177.55" y2="305.3" stroke="#2a8c50" stroke-width="0.7" stroke-dasharray="2 1.3"/>
<line x1="170.5" y1="393.3" x2="170.5" y2="402.7" stroke="#231f20" stroke-width="0.8"/>
<line x1="170.5" y1="417.4" x2="170.5" y2="425.7" stroke="#231f20" stroke-width="0.8"/>
<line x1="167.5" y1="393.3" x2="173.5" y2="393.3" stroke="#231f20" stroke-width="0.8"/>
<line x1="167.5" y1="425.7" x2="173.5" y2="425.7" stroke="#231f20" stroke-width="0.8"/>
<rect x="163.05" y="402.7" width="14.9" height="14.7" fill="#fff" stroke="#2a8c50" stroke-width="1"/>
<line x1="163.45" y1="407.7" x2="177.55" y2="407.7" stroke="#f5a04a" stroke-width="0.9"/>
<line x1="163.45" y1="409.3" x2="177.55" y2="409.3" stroke="#2a8c50" stroke-width="0.7" stroke-dasharray="2 1.3"/>
<text x="173.3" y="451" text-anchor="end" fill="#f8704e" transform="rotate(-90 173.3 451)">SLP</text>
<line x1="199.4" y1="297.4" x2="199.4" y2="308.1" stroke="#231f20" stroke-width="0.8"/>
<line x1="199.4" y1="318.2" x2="199.4" y2="323.4" stroke="#231f20" stroke-width="0.8"/>
<line x1="196.4" y1="297.4" x2="202.4" y2="297.4" stroke="#231f20" stroke-width="0.8"/>
<line x1="196.4" y1="323.4" x2="202.4" y2="323.4" stroke="#231f20" stroke-width="0.8"/>
<rect x="191.95" y="308.1" width="14.9" height="10.1" fill="#fff" stroke="#2a8c50" stroke-width="1"/>
<line x1="192.35" y1="312.3" x2="206.45" y2="312.3" stroke="#f5a04a" stroke-width="0.9"/>
<line x1="192.35" y1="311.8" x2="206.45" y2="311.8" stroke="#2a8c50" stroke-width="0.7" stroke-dasharray="2 1.3"/>
<ellipse cx="199.4" cy="293" rx="2.6" ry="2.3" fill="none" stroke="#231f20" stroke-width="0.95"/>
<line x1="199.4" y1="377.5" x2="199.4" y2="399.4" stroke="#231f20" stroke-width="0.8"/>
<line x1="199.4" y1="419.8" x2="199.4" y2="429.4" stroke="#231f20" stroke-width="0.8"/>
<line x1="196.4" y1="377.5" x2="202.4" y2="377.5" stroke="#231f20" stroke-width="0.8"/>
<line x1="196.4" y1="429.4" x2="202.4" y2="429.4" stroke="#231f20" stroke-width="0.8"/>
<rect x="191.95" y="399.4" width="14.9" height="20.4" fill="#fff" stroke="#2a8c50" stroke-width="1"/>
<line x1="192.35" y1="412.1" x2="206.45" y2="412.1" stroke="#f5a04a" stroke-width="0.9"/>
<line x1="192.35" y1="409.5" x2="206.45" y2="409.5" stroke="#2a8c50" stroke-width="0.7" stroke-dasharray="2 1.3"/>
<text x="202.2" y="451" text-anchor="end" fill="#f8704e" transform="rotate(-90 202.2 451)">SIP</text>
<line x1="227.9" y1="291.5" x2="227.9" y2="305.3" stroke="#231f20" stroke-width="0.8"/>
<line x1="227.9" y1="317.1" x2="227.9" y2="323.4" stroke="#231f20" stroke-width="0.8"/>
<line x1="224.9" y1="291.5" x2="230.9" y2="291.5" stroke="#231f20" stroke-width="0.8"/>
<line x1="224.9" y1="323.4" x2="230.9" y2="323.4" stroke="#231f20" stroke-width="0.8"/>
<rect x="220.45" y="305.3" width="14.9" height="11.8" fill="#fff" stroke="#2a8c50" stroke-width="1"/>
<line x1="220.85" y1="310.5" x2="234.95" y2="310.5" stroke="#f5a04a" stroke-width="0.9"/>
<line x1="220.85" y1="309.6" x2="234.95" y2="309.6" stroke="#2a8c50" stroke-width="0.7" stroke-dasharray="2 1.3"/>
<ellipse cx="227.9" cy="279" rx="2.6" ry="2.3" fill="none" stroke="#231f20" stroke-width="0.95"/>
<line x1="227.9" y1="386.7" x2="227.9" y2="399.4" stroke="#231f20" stroke-width="0.8"/>
<line x1="227.9" y1="421.3" x2="227.9" y2="427" stroke="#231f20" stroke-width="0.8"/>
<line x1="224.9" y1="386.7" x2="230.9" y2="386.7" stroke="#231f20" stroke-width="0.8"/>
<line x1="224.9" y1="427" x2="230.9" y2="427" stroke="#231f20" stroke-width="0.8"/>
<rect x="220.45" y="399.4" width="14.9" height="21.9" fill="#fff" stroke="#2a8c50" stroke-width="1"/>
<line x1="220.85" y1="410.8" x2="234.95" y2="410.8" stroke="#f5a04a" stroke-width="0.9"/>
<line x1="220.85" y1="409.3" x2="234.95" y2="409.3" stroke="#2a8c50" stroke-width="0.7" stroke-dasharray="2 1.3"/>
<text x="230.7" y="451" text-anchor="end" fill="#f8704e" transform="rotate(-90 230.7 451)">SMP</text>
<line x1="256.3" y1="287.1" x2="256.3" y2="306.1" stroke="#231f20" stroke-width="0.8"/>
<line x1="256.3" y1="325" x2="256.3" y2="329.1" stroke="#231f20" stroke-width="0.8"/>
<line x1="253.3" y1="287.1" x2="259.3" y2="287.1" stroke="#231f20" stroke-width="0.8"/>
<line x1="253.3" y1="329.1" x2="259.3" y2="329.1" stroke="#231f20" stroke-width="0.8"/>
<rect x="248.85" y="306.1" width="14.9" height="18.9" fill="#fff" stroke="#2a8c50" stroke-width="1"/>
<line x1="249.25" y1="315.1" x2="263.35" y2="315.1" stroke="#f5a04a" stroke-width="0.9"/>
<line x1="249.25" y1="314.4" x2="263.35" y2="314.4" stroke="#2a8c50" stroke-width="0.7" stroke-dasharray="2 1.3"/>
<line x1="256.3" y1="384.7" x2="256.3" y2="402.3" stroke="#231f20" stroke-width="0.8"/>
<line x1="256.3" y1="419.1" x2="256.3" y2="431.4" stroke="#231f20" stroke-width="0.8"/>
<line x1="253.3" y1="384.7" x2="259.3" y2="384.7" stroke="#231f20" stroke-width="0.8"/>
<line x1="253.3" y1="431.4" x2="259.3" y2="431.4" stroke="#231f20" stroke-width="0.8"/>
<rect x="248.85" y="402.3" width="14.9" height="16.8" fill="#fff" stroke="#2a8c50" stroke-width="1"/>
<line x1="249.25" y1="411.5" x2="263.35" y2="411.5" stroke="#f5a04a" stroke-width="0.9"/>
<line x1="249.25" y1="410.4" x2="263.35" y2="410.4" stroke="#2a8c50" stroke-width="0.7" stroke-dasharray="2 1.3"/>
<text x="259.1" y="451" text-anchor="end" fill="#f8704e" transform="rotate(-90 259.1 451)">CRE</text>
<text x="10" y="310" text-anchor="middle" transform="rotate(-90 10 310)">Phase (s)</text>
<text x="10" y="404" text-anchor="middle" transform="rotate(-90 10 404)">Pw (s)</text>
<text x="155.7" y="252.2" text-anchor="middle" font-size="8.9">G7f</text>
<text x="85.2" y="252.3" text-anchor="middle">significance</text>
<polyline points="55.4,292.5 55.4,255.6 113.4,255.6 113.4,260.8" stroke="#231f20" stroke-width="0.8" fill="none"/>
<line x1="86" y1="268.5" x2="256.3" y2="268.5" stroke="#7a7a7a" stroke-width="1.3"/>
<line x1="322.7" y1="273.8" x2="322.7" y2="346.9" stroke="#231f20" stroke-width="0.9"/>
<line x1="322.7" y1="346.5" x2="486.5" y2="346.5" stroke="#231f20" stroke-width="0.9"/>
<line x1="319.4" y1="278.6" x2="322.7" y2="278.6" stroke="#231f20" stroke-width="0.8"/>
<text x="315.7" y="281.5" text-anchor="end" font-size="8.1">4</text>
<line x1="319.4" y1="298.5" x2="322.7" y2="298.5" stroke="#231f20" stroke-width="0.8"/>
<text x="315.7" y="301.4" text-anchor="end" font-size="8.1">3</text>
<line x1="319.4" y1="318.2" x2="322.7" y2="318.2" stroke="#231f20" stroke-width="0.8"/>
<text x="315.7" y="321.1" text-anchor="end" font-size="8.1">2</text>
<line x1="319.4" y1="338.2" x2="322.7" y2="338.2" stroke="#231f20" stroke-width="0.8"/>
<text x="315.7" y="341.1" text-anchor="end" font-size="8.1">1</text>
<line x1="336.3" y1="346.5" x2="336.3" y2="348.7" stroke="#231f20" stroke-width="0.8"/>
<line x1="363.5" y1="346.5" x2="363.5" y2="348.7" stroke="#231f20" stroke-width="0.8"/>
<line x1="391.2" y1="346.5" x2="391.2" y2="348.7" stroke="#231f20" stroke-width="0.8"/>
<line x1="418.5" y1="346.5" x2="418.5" y2="348.7" stroke="#231f20" stroke-width="0.8"/>
<line x1="446.2" y1="346.5" x2="446.2" y2="348.7" stroke="#231f20" stroke-width="0.8"/>
<line x1="473.6" y1="346.5" x2="473.6" y2="348.7" stroke="#231f20" stroke-width="0.8"/>
<line x1="322.5" y1="371.8" x2="322.5" y2="445.9" stroke="#231f20" stroke-width="0.9"/>
<line x1="322.5" y1="445.5" x2="486.5" y2="445.5" stroke="#231f20" stroke-width="0.9"/>
<line x1="319.2" y1="388.4" x2="322.5" y2="388.4" stroke="#231f20" stroke-width="0.8"/>
<text x="315.5" y="391.3" text-anchor="end" font-size="8.1">6</text>
<line x1="319.2" y1="412.5" x2="322.5" y2="412.5" stroke="#231f20" stroke-width="0.8"/>
<text x="315.5" y="415.4" text-anchor="end" font-size="8.1">4</text>
<line x1="319.2" y1="436.8" x2="322.5" y2="436.8" stroke="#231f20" stroke-width="0.8"/>
<text x="315.5" y="439.7" text-anchor="end" font-size="8.1">2</text>
<line x1="336.3" y1="445.5" x2="336.3" y2="447.7" stroke="#231f20" stroke-width="0.8"/>
<line x1="363.5" y1="445.5" x2="363.5" y2="447.7" stroke="#231f20" stroke-width="0.8"/>
<line x1="391.2" y1="445.5" x2="391.2" y2="447.7" stroke="#231f20" stroke-width="0.8"/>
<line x1="418.5" y1="445.5" x2="418.5" y2="447.7" stroke="#231f20" stroke-width="0.8"/>
<line x1="446.2" y1="445.5" x2="446.2" y2="447.7" stroke="#231f20" stroke-width="0.8"/>
<line x1="473.6" y1="445.5" x2="473.6" y2="447.7" stroke="#231f20" stroke-width="0.8"/>
<line x1="336.3" y1="304.3" x2="336.3" y2="313.5" stroke="#231f20" stroke-width="0.8"/>
<line x1="336.3" y1="328.8" x2="336.3" y2="339.6" stroke="#231f20" stroke-width="0.8"/>
<line x1="333.3" y1="304.3" x2="339.3" y2="304.3" stroke="#231f20" stroke-width="0.8"/>
<line x1="333.3" y1="339.6" x2="339.3" y2="339.6" stroke="#231f20" stroke-width="0.8"/>
<rect x="329.35" y="313.5" width="13.9" height="15.3" fill="#fff" stroke="#9a4fa6" stroke-width="1"/>
<line x1="329.75" y1="322.7" x2="342.85" y2="322.7" stroke="#f5a04a" stroke-width="0.9"/>
<line x1="329.75" y1="318.2" x2="342.85" y2="318.2" stroke="#9a4fa6" stroke-width="0.7" stroke-dasharray="2 1.3"/>
<ellipse cx="336.3" cy="277.2" rx="2.6" ry="2.3" fill="none" stroke="#231f20" stroke-width="0.95"/>
<line x1="336.3" y1="375.5" x2="336.3" y2="380.5" stroke="#231f20" stroke-width="0.8"/>
<line x1="336.3" y1="395.3" x2="336.3" y2="406" stroke="#231f20" stroke-width="0.8"/>
<line x1="333.3" y1="375.5" x2="339.3" y2="375.5" stroke="#231f20" stroke-width="0.8"/>
<line x1="333.3" y1="406" x2="339.3" y2="406" stroke="#231f20" stroke-width="0.8"/>
<rect x="329.35" y="380.5" width="13.9" height="14.8" fill="#fff" stroke="#9a4fa6" stroke-width="1"/>
<line x1="329.75" y1="386.7" x2="342.85" y2="386.7" stroke="#f5a04a" stroke-width="0.9"/>
<line x1="329.75" y1="391.6" x2="342.85" y2="391.6" stroke="#9a4fa6" stroke-width="0.7" stroke-dasharray="2 1.3"/>
<ellipse cx="336.3" cy="432.3" rx="2.6" ry="2.3" fill="none" stroke="#231f20" stroke-width="0.95"/>
<text x="339.1" y="451.7" text-anchor="end" fill="#f8704e" transform="rotate(-90 339.1 451.7)">MBPED</text>
<line x1="363.5" y1="317.4" x2="363.5" y2="329.9" stroke="#231f20" stroke-width="0.8"/>
<line x1="363.5" y1="337.6" x2="363.5" y2="341.2" stroke="#231f20" stroke-width="0.8"/>
<line x1="360.5" y1="317.4" x2="366.5" y2="317.4" stroke="#231f20" stroke-width="0.8"/>
<line x1="360.5" y1="341.2" x2="366.5" y2="341.2" stroke="#231f20" stroke-width="0.8"/>
<rect x="356.55" y="329.9" width="13.9" height="7.7" fill="#fff" stroke="#9a4fa6" stroke-width="1"/>
<line x1="356.95" y1="335.4" x2="370.05" y2="335.4" stroke="#f5a04a" stroke-width="0.9"/>
<line x1="356.95" y1="330.7" x2="370.05" y2="330.7" stroke="#9a4fa6" stroke-width="0.7" stroke-dasharray="2 1.3"/>
<ellipse cx="363.5" cy="307.1" rx="2.6" ry="2.3" fill="none" stroke="#231f20" stroke-width="0.95"/>
<line x1="363.5" y1="383.7" x2="363.5" y2="387.2" stroke="#231f20" stroke-width="0.8"/>
<line x1="363.5" y1="401.3" x2="363.5" y2="401.3" stroke="#231f20" stroke-width="0.8"/>
<line x1="360.5" y1="383.7" x2="366.5" y2="383.7" stroke="#231f20" stroke-width="0.8"/>
<line x1="360.5" y1="401.3" x2="366.5" y2="401.3" stroke="#231f20" stroke-width="0.8"/>
<rect x="356.55" y="387.2" width="13.9" height="14.1" fill="#fff" stroke="#9a4fa6" stroke-width="1"/>
<line x1="356.95" y1="388.9" x2="370.05" y2="388.9" stroke="#f5a04a" stroke-width="0.9"/>
<line x1="356.95" y1="398.6" x2="370.05" y2="398.6" stroke="#9a4fa6" stroke-width="0.7" stroke-dasharray="2 1.3"/>
<ellipse cx="363.5" cy="422.7" rx="2.6" ry="2.3" fill="none" stroke="#231f20" stroke-width="0.95"/>
<ellipse cx="363.5" cy="437.3" rx="2.6" ry="2.3" fill="none" stroke="#231f20" stroke-width="0.95"/>
<text x="366.3" y="451.7" text-anchor="end" fill="#f8704e" transform="rotate(-90 366.3 451.7)">MBVL</text>
<line x1="391.2" y1="313" x2="391.2" y2="319.6" stroke="#231f20" stroke-width="0.8"/>
<line x1="391.2" y1="333.8" x2="391.2" y2="337.6" stroke="#231f20" stroke-width="0.8"/>
<line x1="388.2" y1="313" x2="394.2" y2="313" stroke="#231f20" stroke-width="0.8"/>
<line x1="388.2" y1="337.6" x2="394.2" y2="337.6" stroke="#231f20" stroke-width="0.8"/>
<rect x="384.25" y="319.6" width="13.9" height="14.2" fill="#fff" stroke="#9a4fa6" stroke-width="1"/>
<line x1="384.65" y1="327.1" x2="397.75" y2="327.1" stroke="#f5a04a" stroke-width="0.9"/>
<line x1="384.65" y1="326" x2="397.75" y2="326" stroke="#9a4fa6" stroke-width="0.7" stroke-dasharray="2 1.3"/>
<line x1="391.2" y1="387.4" x2="391.2" y2="391.4" stroke="#231f20" stroke-width="0.8"/>
<line x1="391.2" y1="399.6" x2="391.2" y2="410.5" stroke="#231f20" stroke-width="0.8"/>
<line x1="388.2" y1="387.4" x2="394.2" y2="387.4" stroke="#231f20" stroke-width="0.8"/>
<line x1="388.2" y1="410.5" x2="394.2" y2="410.5" stroke="#231f20" stroke-width="0.8"/>
<rect x="384.25" y="391.4" width="13.9" height="8.2" fill="#fff" stroke="#9a4fa6" stroke-width="1"/>
<line x1="384.65" y1="395.8" x2="397.75" y2="395.8" stroke="#f5a04a" stroke-width="0.9"/>
<line x1="384.65" y1="397.8" x2="397.75" y2="397.8" stroke="#9a4fa6" stroke-width="0.7" stroke-dasharray="2 1.3"/>
<ellipse cx="391.2" cy="418.4" rx="2.6" ry="2.3" fill="none" stroke="#231f20" stroke-width="0.95"/>
<text x="394" y="451.7" text-anchor="end" fill="#f8704e" transform="rotate(-90 394 451.7)">MBML</text>
<line x1="418.5" y1="326.5" x2="418.5" y2="334.3" stroke="#231f20" stroke-width="0.8"/>
<line x1="418.5" y1="340.4" x2="418.5" y2="340.4" stroke="#231f20" stroke-width="0.8"/>
<line x1="415.5" y1="326.5" x2="421.5" y2="326.5" stroke="#231f20" stroke-width="0.8"/>
<line x1="415.5" y1="340.4" x2="421.5" y2="340.4" stroke="#231f20" stroke-width="0.8"/>
<rect x="411.55" y="334.3" width="13.9" height="6.1" fill="#fff" stroke="#9a4fa6" stroke-width="1"/>
<line x1="411.95" y1="337.4" x2="425.05" y2="337.4" stroke="#f5a04a" stroke-width="0.9"/>
<line x1="411.95" y1="336.2" x2="425.05" y2="336.2" stroke="#9a4fa6" stroke-width="0.7" stroke-dasharray="2 1.3"/>
<line x1="418.5" y1="423.4" x2="418.5" y2="425.6" stroke="#231f20" stroke-width="0.8"/>
<line x1="418.5" y1="438.5" x2="418.5" y2="439.3" stroke="#231f20" stroke-width="0.8"/>
<line x1="415.5" y1="423.4" x2="421.5" y2="423.4" stroke="#231f20" stroke-width="0.8"/>
<line x1="415.5" y1="439.3" x2="421.5" y2="439.3" stroke="#231f20" stroke-width="0.8"/>
<rect x="411.55" y="425.6" width="13.9" height="12.9" fill="#fff" stroke="#9a4fa6" stroke-width="1"/>
<line x1="411.95" y1="431.1" x2="425.05" y2="431.1" stroke="#f5a04a" stroke-width="0.9"/>
<line x1="411.95" y1="428.6" x2="425.05" y2="428.6" stroke="#9a4fa6" stroke-width="0.7" stroke-dasharray="2 1.3"/>
<ellipse cx="418.5" cy="402.8" rx="2.6" ry="2.3" fill="none" stroke="#231f20" stroke-width="0.95"/>
<text x="421.3" y="451.7" text-anchor="end" fill="#f8704e" transform="rotate(-90 421.3 451.7)">SIP</text>
<line x1="446.2" y1="325.4" x2="446.2" y2="327.4" stroke="#231f20" stroke-width="0.8"/>
<line x1="446.2" y1="339.6" x2="446.2" y2="340.4" stroke="#231f20" stroke-width="0.8"/>
<line x1="443.2" y1="325.4" x2="449.2" y2="325.4" stroke="#231f20" stroke-width="0.8"/>
<line x1="443.2" y1="340.4" x2="449.2" y2="340.4" stroke="#231f20" stroke-width="0.8"/>
<rect x="439.25" y="327.4" width="13.9" height="12.2" fill="#fff" stroke="#9a4fa6" stroke-width="1"/>
<line x1="439.65" y1="338.7" x2="452.75" y2="338.7" stroke="#f5a04a" stroke-width="0.9"/>
<line x1="439.65" y1="330.1" x2="452.75" y2="330.1" stroke="#9a4fa6" stroke-width="0.7" stroke-dasharray="2 1.3"/>
<ellipse cx="446.2" cy="294.9" rx="2.6" ry="2.3" fill="none" stroke="#231f20" stroke-width="0.95"/>
<line x1="446.2" y1="375.5" x2="446.2" y2="396.6" stroke="#231f20" stroke-width="0.8"/>
<line x1="446.2" y1="434.8" x2="446.2" y2="441.3" stroke="#231f20" stroke-width="0.8"/>
<line x1="443.2" y1="375.5" x2="449.2" y2="375.5" stroke="#231f20" stroke-width="0.8"/>
<line x1="443.2" y1="441.3" x2="449.2" y2="441.3" stroke="#231f20" stroke-width="0.8"/>
<rect x="439.25" y="396.6" width="13.9" height="38.2" fill="#fff" stroke="#9a4fa6" stroke-width="1"/>
<line x1="439.65" y1="428.6" x2="452.75" y2="428.6" stroke="#f5a04a" stroke-width="0.9"/>
<line x1="439.65" y1="415" x2="452.75" y2="415" stroke="#9a4fa6" stroke-width="0.7" stroke-dasharray="2 1.3"/>
<text x="449" y="451.7" text-anchor="end" fill="#f8704e" transform="rotate(-90 449 451.7)">SMP</text>
<line x1="473.6" y1="294.1" x2="473.6" y2="316.3" stroke="#231f20" stroke-width="0.8"/>
<line x1="473.6" y1="337.1" x2="473.6" y2="343.2" stroke="#231f20" stroke-width="0.8"/>
<line x1="470.6" y1="294.1" x2="476.6" y2="294.1" stroke="#231f20" stroke-width="0.8"/>
<line x1="470.6" y1="343.2" x2="476.6" y2="343.2" stroke="#231f20" stroke-width="0.8"/>
<rect x="466.65" y="316.3" width="13.9" height="20.8" fill="#fff" stroke="#9a4fa6" stroke-width="1"/>
<line x1="467.05" y1="331.5" x2="480.15" y2="331.5" stroke="#f5a04a" stroke-width="0.9"/>
<line x1="467.05" y1="325.4" x2="480.15" y2="325.4" stroke="#9a4fa6" stroke-width="0.7" stroke-dasharray="2 1.3"/>
<line x1="473.6" y1="381.4" x2="473.6" y2="393.4" stroke="#231f20" stroke-width="0.8"/>
<line x1="473.6" y1="417.4" x2="473.6" y2="425.6" stroke="#231f20" stroke-width="0.8"/>
<line x1="470.6" y1="381.4" x2="476.6" y2="381.4" stroke="#231f20" stroke-width="0.8"/>
<line x1="470.6" y1="425.6" x2="476.6" y2="425.6" stroke="#231f20" stroke-width="0.8"/>
<rect x="466.65" y="393.4" width="13.9" height="24" fill="#fff" stroke="#9a4fa6" stroke-width="1"/>
<line x1="467.05" y1="399.1" x2="480.15" y2="399.1" stroke="#f5a04a" stroke-width="0.9"/>
<line x1="467.05" y1="403.5" x2="480.15" y2="403.5" stroke="#9a4fa6" stroke-width="0.7" stroke-dasharray="2 1.3"/>
<text x="476.4" y="451.7" text-anchor="end" fill="#f8704e" transform="rotate(-90 476.4 451.7)">CRE</text>
<text x="404.3" y="252.2" text-anchor="middle" font-size="9.2">rACh</text>
<polyline points="336.1,360.6 336.1,357.9 418.8,357.9 418.8,398.8" stroke="#231f20" stroke-width="0.7" fill="none"/>
<polyline points="363.4,371.5 363.4,368.5 418.8,368.5" stroke="#231f20" stroke-width="0.7" fill="none"/>
<polyline points="391.5,379.2 391.5,376.5 418.8,376.5" stroke="#231f20" stroke-width="0.7" fill="none"/>
<polyline points="418.8,363.6 473.4,363.6 473.4,366.3" stroke="#231f20" stroke-width="0.7" fill="none"/>
<path d="M377.9,352 L378.44,353.45 L379.99,353.52 L378.78,354.49 L379.19,355.98 L377.9,355.12 L376.61,355.98 L377.02,354.49 L375.81,353.52 L377.36,353.45Z" fill="#222"/>
<path d="M390.3,362.8 L390.84,364.25 L392.39,364.32 L391.18,365.29 L391.59,366.78 L390.3,365.92 L389.01,366.78 L389.42,365.29 L388.21,364.32 L389.76,364.25Z" fill="#222"/>
<path d="M402.65,370.6 L403.19,372.05 L404.74,372.12 L403.53,373.09 L403.94,374.58 L402.65,373.72 L401.36,374.58 L401.77,373.09 L400.56,372.12 L402.11,372.05ZM407.75,370.6 L408.29,372.05 L409.84,372.12 L408.63,373.09 L409.04,374.58 L407.75,373.72 L406.46,374.58 L406.87,373.09 L405.66,372.12 L407.21,372.05Z" fill="#222"/>
<path d="M446.1,357.7 L446.64,359.15 L448.19,359.22 L446.98,360.19 L447.39,361.68 L446.1,360.82 L444.81,361.68 L445.22,360.19 L444.01,359.22 L445.56,359.15Z" fill="#222"/>
<line x1="539" y1="272.9" x2="539" y2="345.8" stroke="#231f20" stroke-width="0.9"/>
<line x1="539" y1="345.4" x2="677" y2="345.4" stroke="#231f20" stroke-width="0.9"/>
<line x1="535.7" y1="287.1" x2="539" y2="287.1" stroke="#231f20" stroke-width="0.8"/>
<text x="532.7" y="290" text-anchor="end" font-size="8.1">6</text>
<line x1="535.7" y1="309.6" x2="539" y2="309.6" stroke="#231f20" stroke-width="0.8"/>
<text x="532.7" y="312.5" text-anchor="end" font-size="8.1">4</text>
<line x1="535.7" y1="332.1" x2="539" y2="332.1" stroke="#231f20" stroke-width="0.8"/>
<text x="532.7" y="335" text-anchor="end" font-size="8.1">2</text>
<line x1="552.6" y1="345.4" x2="552.6" y2="347.6" stroke="#231f20" stroke-width="0.8"/>
<line x1="580.5" y1="345.4" x2="580.5" y2="347.6" stroke="#231f20" stroke-width="0.8"/>
<line x1="608.1" y1="345.4" x2="608.1" y2="347.6" stroke="#231f20" stroke-width="0.8"/>
<line x1="635.7" y1="345.4" x2="635.7" y2="347.6" stroke="#231f20" stroke-width="0.8"/>
<line x1="663.6" y1="345.4" x2="663.6" y2="347.6" stroke="#231f20" stroke-width="0.8"/>
<line x1="538.4" y1="372.8" x2="538.4" y2="444.9" stroke="#231f20" stroke-width="0.9"/>
<line x1="538.4" y1="444.5" x2="672.2" y2="444.5" stroke="#231f20" stroke-width="0.9"/>
<line x1="535.1" y1="386.5" x2="538.4" y2="386.5" stroke="#231f20" stroke-width="0.8"/>
<text x="532.7" y="389.4" text-anchor="end" font-size="8.1">15</text>
<line x1="535.1" y1="411.8" x2="538.4" y2="411.8" stroke="#231f20" stroke-width="0.8"/>
<text x="532.7" y="414.7" text-anchor="end" font-size="8.1">10</text>
<line x1="535.1" y1="437.4" x2="538.4" y2="437.4" stroke="#231f20" stroke-width="0.8"/>
<text x="532.7" y="440.3" text-anchor="end" font-size="8.1">5</text>
<line x1="552.6" y1="444.5" x2="552.6" y2="446.7" stroke="#231f20" stroke-width="0.8"/>
<line x1="580.5" y1="444.5" x2="580.5" y2="446.7" stroke="#231f20" stroke-width="0.8"/>
<line x1="608.1" y1="444.5" x2="608.1" y2="446.7" stroke="#231f20" stroke-width="0.8"/>
<line x1="635.7" y1="444.5" x2="635.7" y2="446.7" stroke="#231f20" stroke-width="0.8"/>
<line x1="663.6" y1="444.5" x2="663.6" y2="446.7" stroke="#231f20" stroke-width="0.8"/>
<line x1="552.6" y1="285.7" x2="552.6" y2="299" stroke="#231f20" stroke-width="0.8"/>
<line x1="552.6" y1="332.4" x2="552.6" y2="340.3" stroke="#231f20" stroke-width="0.8"/>
<line x1="549.6" y1="285.7" x2="555.6" y2="285.7" stroke="#231f20" stroke-width="0.8"/>
<line x1="549.6" y1="340.3" x2="555.6" y2="340.3" stroke="#231f20" stroke-width="0.8"/>
<rect x="545.5" y="299" width="14.2" height="33.4" fill="#fff" stroke="#2f82c3" stroke-width="1"/>
<line x1="545.9" y1="321.3" x2="559.3" y2="321.3" stroke="#f5a04a" stroke-width="0.9"/>
<line x1="545.9" y1="317.6" x2="559.3" y2="317.6" stroke="#2f82c3" stroke-width="0.7" stroke-dasharray="2 1.3"/>
<line x1="552.6" y1="395.3" x2="552.6" y2="399.9" stroke="#231f20" stroke-width="0.8"/>
<line x1="552.6" y1="418.4" x2="552.6" y2="441.1" stroke="#231f20" stroke-width="0.8"/>
<line x1="549.6" y1="395.3" x2="555.6" y2="395.3" stroke="#231f20" stroke-width="0.8"/>
<line x1="549.6" y1="441.1" x2="555.6" y2="441.1" stroke="#231f20" stroke-width="0.8"/>
<rect x="545.5" y="399.9" width="14.2" height="18.5" fill="#fff" stroke="#2f82c3" stroke-width="1"/>
<line x1="545.9" y1="406.1" x2="559.3" y2="406.1" stroke="#f5a04a" stroke-width="0.9"/>
<line x1="545.9" y1="410.4" x2="559.3" y2="410.4" stroke="#2f82c3" stroke-width="0.7" stroke-dasharray="2 1.3"/>
<text x="555.4" y="451.7" text-anchor="end" fill="#f8704e" transform="rotate(-90 555.4 451.7)">MBVL</text>
<line x1="580.5" y1="315.6" x2="580.5" y2="317" stroke="#231f20" stroke-width="0.8"/>
<line x1="580.5" y1="335.5" x2="580.5" y2="342.3" stroke="#231f20" stroke-width="0.8"/>
<line x1="577.5" y1="315.6" x2="583.5" y2="315.6" stroke="#231f20" stroke-width="0.8"/>
<line x1="577.5" y1="342.3" x2="583.5" y2="342.3" stroke="#231f20" stroke-width="0.8"/>
<rect x="573.4" y="317" width="14.2" height="18.5" fill="#fff" stroke="#2f82c3" stroke-width="1"/>
<line x1="573.8" y1="332.4" x2="587.2" y2="332.4" stroke="#f5a04a" stroke-width="0.9"/>
<line x1="573.8" y1="325.5" x2="587.2" y2="325.5" stroke="#2f82c3" stroke-width="0.7" stroke-dasharray="2 1.3"/>
<ellipse cx="580.5" cy="288.2" rx="2.6" ry="2.3" fill="none" stroke="#231f20" stroke-width="0.95"/>
<line x1="580.5" y1="376.5" x2="580.5" y2="400.7" stroke="#231f20" stroke-width="0.8"/>
<line x1="580.5" y1="417.8" x2="580.5" y2="419.2" stroke="#231f20" stroke-width="0.8"/>
<line x1="577.5" y1="376.5" x2="583.5" y2="376.5" stroke="#231f20" stroke-width="0.8"/>
<line x1="577.5" y1="419.2" x2="583.5" y2="419.2" stroke="#231f20" stroke-width="0.8"/>
<rect x="573.4" y="400.7" width="14.2" height="17.1" fill="#fff" stroke="#2f82c3" stroke-width="1"/>
<line x1="573.8" y1="408.4" x2="587.2" y2="408.4" stroke="#f5a04a" stroke-width="0.9"/>
<line x1="573.8" y1="405.5" x2="587.2" y2="405.5" stroke="#2f82c3" stroke-width="0.7" stroke-dasharray="2 1.3"/>
<text x="583.3" y="451.7" text-anchor="end" fill="#f8704e" transform="rotate(-90 583.3 451.7)">MBML</text>
<line x1="608.1" y1="285.7" x2="608.1" y2="294.2" stroke="#231f20" stroke-width="0.8"/>
<line x1="608.1" y1="319.8" x2="608.1" y2="335.2" stroke="#231f20" stroke-width="0.8"/>
<line x1="605.1" y1="285.7" x2="611.1" y2="285.7" stroke="#231f20" stroke-width="0.8"/>
<line x1="605.1" y1="335.2" x2="611.1" y2="335.2" stroke="#231f20" stroke-width="0.8"/>
<rect x="601" y="294.2" width="14.2" height="25.6" fill="#fff" stroke="#2f82c3" stroke-width="1"/>
<line x1="601.4" y1="304.7" x2="614.8" y2="304.7" stroke="#f5a04a" stroke-width="0.9"/>
<line x1="601.4" y1="308.2" x2="614.8" y2="308.2" stroke="#2f82c3" stroke-width="0.7" stroke-dasharray="2 1.3"/>
<line x1="608.1" y1="393.6" x2="608.1" y2="398.4" stroke="#231f20" stroke-width="0.8"/>
<line x1="608.1" y1="411.8" x2="608.1" y2="424.6" stroke="#231f20" stroke-width="0.8"/>
<line x1="605.1" y1="393.6" x2="611.1" y2="393.6" stroke="#231f20" stroke-width="0.8"/>
<line x1="605.1" y1="424.6" x2="611.1" y2="424.6" stroke="#231f20" stroke-width="0.8"/>
<rect x="601" y="398.4" width="14.2" height="13.4" fill="#fff" stroke="#2f82c3" stroke-width="1"/>
<line x1="601.4" y1="404.7" x2="614.8" y2="404.7" stroke="#f5a04a" stroke-width="0.9"/>
<line x1="601.4" y1="406.1" x2="614.8" y2="406.1" stroke="#2f82c3" stroke-width="0.7" stroke-dasharray="2 1.3"/>
<text x="610.9" y="451.7" text-anchor="end" fill="#f8704e" transform="rotate(-90 610.9 451.7)">SIP</text>
<line x1="635.7" y1="285.7" x2="635.7" y2="298.2" stroke="#231f20" stroke-width="0.8"/>
<line x1="635.7" y1="322.4" x2="635.7" y2="335.5" stroke="#231f20" stroke-width="0.8"/>
<line x1="632.7" y1="285.7" x2="638.7" y2="285.7" stroke="#231f20" stroke-width="0.8"/>
<line x1="632.7" y1="335.5" x2="638.7" y2="335.5" stroke="#231f20" stroke-width="0.8"/>
<rect x="628.6" y="298.2" width="14.2" height="24.2" fill="#fff" stroke="#2f82c3" stroke-width="1"/>
<line x1="629" y1="312.4" x2="642.4" y2="312.4" stroke="#f5a04a" stroke-width="0.9"/>
<line x1="629" y1="311.3" x2="642.4" y2="311.3" stroke="#2f82c3" stroke-width="0.7" stroke-dasharray="2 1.3"/>
<line x1="635.7" y1="376.5" x2="635.7" y2="398.4" stroke="#231f20" stroke-width="0.8"/>
<line x1="635.7" y1="414.1" x2="635.7" y2="423.2" stroke="#231f20" stroke-width="0.8"/>
<line x1="632.7" y1="376.5" x2="638.7" y2="376.5" stroke="#231f20" stroke-width="0.8"/>
<line x1="632.7" y1="423.2" x2="638.7" y2="423.2" stroke="#231f20" stroke-width="0.8"/>
<rect x="628.6" y="398.4" width="14.2" height="15.7" fill="#fff" stroke="#2f82c3" stroke-width="1"/>
<line x1="629" y1="402.7" x2="642.4" y2="402.7" stroke="#f5a04a" stroke-width="0.9"/>
<line x1="629" y1="404.1" x2="642.4" y2="404.1" stroke="#2f82c3" stroke-width="0.7" stroke-dasharray="2 1.3"/>
<text x="638.5" y="451.7" text-anchor="end" fill="#f8704e" transform="rotate(-90 638.5 451.7)">SMP</text>
<line x1="663.6" y1="276.3" x2="663.6" y2="305.3" stroke="#231f20" stroke-width="0.8"/>
<line x1="663.6" y1="334.6" x2="663.6" y2="339.2" stroke="#231f20" stroke-width="0.8"/>
<line x1="660.6" y1="276.3" x2="666.6" y2="276.3" stroke="#231f20" stroke-width="0.8"/>
<line x1="660.6" y1="339.2" x2="666.6" y2="339.2" stroke="#231f20" stroke-width="0.8"/>
<rect x="656.5" y="305.3" width="14.2" height="29.3" fill="#fff" stroke="#2f82c3" stroke-width="1"/>
<line x1="656.9" y1="328.1" x2="670.3" y2="328.1" stroke="#f5a04a" stroke-width="0.9"/>
<line x1="656.9" y1="318.4" x2="670.3" y2="318.4" stroke="#2f82c3" stroke-width="0.7" stroke-dasharray="2 1.3"/>
<line x1="663.6" y1="380.5" x2="663.6" y2="394.7" stroke="#231f20" stroke-width="0.8"/>
<line x1="663.6" y1="413.5" x2="663.6" y2="425.5" stroke="#231f20" stroke-width="0.8"/>
<line x1="660.6" y1="380.5" x2="666.6" y2="380.5" stroke="#231f20" stroke-width="0.8"/>
<line x1="660.6" y1="425.5" x2="666.6" y2="425.5" stroke="#231f20" stroke-width="0.8"/>
<rect x="656.5" y="394.7" width="14.2" height="18.8" fill="#fff" stroke="#2f82c3" stroke-width="1"/>
<line x1="656.9" y1="400.7" x2="670.3" y2="400.7" stroke="#f5a04a" stroke-width="0.9"/>
<line x1="656.9" y1="403.3" x2="670.3" y2="403.3" stroke="#2f82c3" stroke-width="0.7" stroke-dasharray="2 1.3"/>
<text x="666.4" y="451.7" text-anchor="end" fill="#f8704e" transform="rotate(-90 666.4 451.7)">CRE</text>
<text x="608.1" y="252.4" text-anchor="middle" font-size="9.2">r5-HT</text>
<text x="501" y="492" text-anchor="middle" font-size="7.8">Functional connections</text>
<rect x="396.5" y="504.4" width="218.4" height="15.8" fill="url(#rsg)"/>
<path fill="#077432" d="M396.5 520.2h1.16v16.6h-1.16zM422.4 520.2h1.16v16.6h-1.16zM440.53 520.2h1.16v16.6h-1.16zM460.38 520.2h1.16v16.6h-1.16z"/>
<path fill="#0a8139" d="M397.36 520.2h1.16v16.6h-1.16zM399.95 520.2h1.16v16.6h-1.16zM402.54 520.2h1.16v16.6h-1.16zM416.35 520.2h1.16v16.6h-1.16zM441.39 520.2h1.16v16.6h-1.16zM472.47 520.2h1.16v16.6h-1.16zM479.37 520.2h1.16v16.6h-1.16zM503.54 520.2h1.16v16.6h-1.16zM508.72 520.2h1.16v16.6h-1.16z"/>
<path fill="#0a863c" d="M398.23 520.2h1.16v16.6h-1.16zM399.09 520.2h1.16v16.6h-1.16zM406.86 520.2h1.16v16.6h-1.16zM413.76 520.2h1.16v16.6h-1.16zM429.3 520.2h1.16v16.6h-1.16zM430.17 520.2h1.16v16.6h-1.16zM433.62 520.2h1.16v16.6h-1.16zM436.21 520.2h1.16v16.6h-1.16zM449.16 520.2h1.16v16.6h-1.16zM450.88 520.2h1.16v16.6h-1.16zM467.29 520.2h1.16v16.6h-1.16zM468.15 520.2h1.16v16.6h-1.16zM487.14 520.2h1.16v16.6h-1.16zM490.59 520.2h1.16v16.6h-1.16zM499.23 520.2h1.16v16.6h-1.16zM509.58 520.2h1.16v16.6h-1.16z"/>
<path fill="#0c8d40" d="M400.82 520.2h1.16v16.6h-1.16zM407.72 520.2h1.16v16.6h-1.16zM418.94 520.2h1.16v16.6h-1.16zM421.53 520.2h1.16v16.6h-1.16zM431.03 520.2h1.16v16.6h-1.16zM437.94 520.2h1.16v16.6h-1.16zM442.25 520.2h1.16v16.6h-1.16zM456.06 520.2h1.16v16.6h-1.16zM459.52 520.2h1.16v16.6h-1.16zM463.83 520.2h1.16v16.6h-1.16zM465.56 520.2h1.16v16.6h-1.16zM478.51 520.2h1.16v16.6h-1.16zM482.82 520.2h1.16v16.6h-1.16zM492.32 520.2h1.16v16.6h-1.16zM500.09 520.2h1.16v16.6h-1.16zM517.35 520.2h1.16v16.6h-1.16zM532.03 520.2h1.16v16.6h-1.16zM554.47 520.2h1.16v16.6h-1.16zM563.11 520.2h1.16v16.6h-1.16zM597.64 520.2h1.16v16.6h-1.16zM599.36 520.2h1.16v16.6h-1.16z"/>
<path fill="#109848" d="M401.68 520.2h1.16v16.6h-1.16zM412.04 520.2h1.16v16.6h-1.16zM415.49 520.2h1.16v16.6h-1.16zM417.22 520.2h1.16v16.6h-1.16zM448.29 520.2h1.16v16.6h-1.16zM466.42 520.2h1.16v16.6h-1.16zM473.33 520.2h1.16v16.6h-1.16zM480.23 520.2h1.16v16.6h-1.16zM488.87 520.2h1.16v16.6h-1.16zM498.36 520.2h1.16v16.6h-1.16zM506.13 520.2h1.16v16.6h-1.16zM514.76 520.2h1.16v16.6h-1.16zM516.49 520.2h1.16v16.6h-1.16zM520.81 520.2h1.16v16.6h-1.16zM524.26 520.2h1.16v16.6h-1.16zM531.17 520.2h1.16v16.6h-1.16zM533.76 520.2h1.16v16.6h-1.16zM542.39 520.2h1.16v16.6h-1.16zM551.02 520.2h1.16v16.6h-1.16zM553.61 520.2h1.16v16.6h-1.16zM574.33 520.2h1.16v16.6h-1.16zM579.51 520.2h1.16v16.6h-1.16zM582.96 520.2h1.16v16.6h-1.16zM594.18 520.2h1.16v16.6h-1.16zM602.81 520.2h1.16v16.6h-1.16z"/>
<path fill="#0e9143" d="M403.41 520.2h1.16v16.6h-1.16zM408.59 520.2h1.16v16.6h-1.16zM423.26 520.2h1.16v16.6h-1.16zM428.44 520.2h1.16v16.6h-1.16zM437.07 520.2h1.16v16.6h-1.16zM443.98 520.2h1.16v16.6h-1.16zM447.43 520.2h1.16v16.6h-1.16zM450.02 520.2h1.16v16.6h-1.16zM455.2 520.2h1.16v16.6h-1.16zM458.65 520.2h1.16v16.6h-1.16zM461.24 520.2h1.16v16.6h-1.16zM462.97 520.2h1.16v16.6h-1.16zM470.74 520.2h1.16v16.6h-1.16zM474.19 520.2h1.16v16.6h-1.16zM481.1 520.2h1.16v16.6h-1.16zM491.46 520.2h1.16v16.6h-1.16zM493.18 520.2h1.16v16.6h-1.16zM494.05 520.2h1.16v16.6h-1.16zM494.91 520.2h1.16v16.6h-1.16zM504.41 520.2h1.16v16.6h-1.16zM507.86 520.2h1.16v16.6h-1.16zM511.31 520.2h1.16v16.6h-1.16zM512.17 520.2h1.16v16.6h-1.16zM539.8 520.2h1.16v16.6h-1.16zM544.11 520.2h1.16v16.6h-1.16zM551.88 520.2h1.16v16.6h-1.16zM562.24 520.2h1.16v16.6h-1.16zM565.7 520.2h1.16v16.6h-1.16zM576.05 520.2h1.16v16.6h-1.16zM593.32 520.2h1.16v16.6h-1.16zM609.72 520.2h1.16v16.6h-1.16z"/>
<path fill="#0b8a3e" d="M404.27 520.2h1.16v16.6h-1.16zM406 520.2h1.16v16.6h-1.16zM409.45 520.2h1.16v16.6h-1.16zM410.31 520.2h1.16v16.6h-1.16zM412.9 520.2h1.16v16.6h-1.16zM418.08 520.2h1.16v16.6h-1.16zM425.85 520.2h1.16v16.6h-1.16zM431.89 520.2h1.16v16.6h-1.16zM432.76 520.2h1.16v16.6h-1.16zM445.7 520.2h1.16v16.6h-1.16zM446.57 520.2h1.16v16.6h-1.16zM454.34 520.2h1.16v16.6h-1.16zM462.11 520.2h1.16v16.6h-1.16zM464.7 520.2h1.16v16.6h-1.16zM471.6 520.2h1.16v16.6h-1.16zM476.78 520.2h1.16v16.6h-1.16zM484.55 520.2h1.16v16.6h-1.16zM488 520.2h1.16v16.6h-1.16zM489.73 520.2h1.16v16.6h-1.16zM495.77 520.2h1.16v16.6h-1.16zM500.95 520.2h1.16v16.6h-1.16zM501.82 520.2h1.16v16.6h-1.16zM515.63 520.2h1.16v16.6h-1.16zM527.71 520.2h1.16v16.6h-1.16zM588.14 520.2h1.16v16.6h-1.16z"/>
<path fill="#0f9446" d="M405.13 520.2h1.16v16.6h-1.16zM419.81 520.2h1.16v16.6h-1.16zM420.67 520.2h1.16v16.6h-1.16zM434.48 520.2h1.16v16.6h-1.16zM451.75 520.2h1.16v16.6h-1.16zM456.93 520.2h1.16v16.6h-1.16zM475.05 520.2h1.16v16.6h-1.16zM477.64 520.2h1.16v16.6h-1.16zM481.96 520.2h1.16v16.6h-1.16zM483.69 520.2h1.16v16.6h-1.16zM502.68 520.2h1.16v16.6h-1.16zM521.67 520.2h1.16v16.6h-1.16zM522.53 520.2h1.16v16.6h-1.16zM523.4 520.2h1.16v16.6h-1.16zM525.99 520.2h1.16v16.6h-1.16zM526.85 520.2h1.16v16.6h-1.16zM535.48 520.2h1.16v16.6h-1.16zM549.29 520.2h1.16v16.6h-1.16zM558.79 520.2h1.16v16.6h-1.16zM572.6 520.2h1.16v16.6h-1.16zM600.22 520.2h1.16v16.6h-1.16zM611.45 520.2h1.16v16.6h-1.16z"/>
<path fill="#066f2f" d="M411.18 520.2h1.16v16.6h-1.16zM424.12 520.2h1.16v16.6h-1.16zM427.58 520.2h1.16v16.6h-1.16z"/>
<path fill="#15a250" d="M414.63 520.2h1.16v16.6h-1.16zM510.45 520.2h1.16v16.6h-1.16zM534.62 520.2h1.16v16.6h-1.16zM538.07 520.2h1.16v16.6h-1.16zM543.25 520.2h1.16v16.6h-1.16zM544.98 520.2h1.16v16.6h-1.16zM559.65 520.2h1.16v16.6h-1.16zM570.01 520.2h1.16v16.6h-1.16zM577.78 520.2h1.16v16.6h-1.16zM581.23 520.2h1.16v16.6h-1.16zM595.05 520.2h1.16v16.6h-1.16zM596.77 520.2h1.16v16.6h-1.16zM601.09 520.2h1.16v16.6h-1.16zM608.86 520.2h1.16v16.6h-1.16zM613.17 520.2h1.16v16.6h-1.16z"/>
<path fill="#129b4a" d="M424.99 520.2h1.16v16.6h-1.16zM435.35 520.2h1.16v16.6h-1.16zM438.8 520.2h1.16v16.6h-1.16zM469.88 520.2h1.16v16.6h-1.16zM485.41 520.2h1.16v16.6h-1.16zM486.28 520.2h1.16v16.6h-1.16zM496.64 520.2h1.16v16.6h-1.16zM505.27 520.2h1.16v16.6h-1.16zM529.44 520.2h1.16v16.6h-1.16zM538.93 520.2h1.16v16.6h-1.16zM540.66 520.2h1.16v16.6h-1.16zM541.52 520.2h1.16v16.6h-1.16zM545.84 520.2h1.16v16.6h-1.16zM546.7 520.2h1.16v16.6h-1.16zM547.57 520.2h1.16v16.6h-1.16zM548.43 520.2h1.16v16.6h-1.16zM552.75 520.2h1.16v16.6h-1.16zM569.15 520.2h1.16v16.6h-1.16zM582.1 520.2h1.16v16.6h-1.16zM595.91 520.2h1.16v16.6h-1.16zM598.5 520.2h1.16v16.6h-1.16zM607.13 520.2h1.16v16.6h-1.16z"/>
<path fill="#087834" d="M426.71 520.2h1.16v16.6h-1.16zM439.66 520.2h1.16v16.6h-1.16zM452.61 520.2h1.16v16.6h-1.16zM469.01 520.2h1.16v16.6h-1.16zM536.35 520.2h1.16v16.6h-1.16z"/>
<path fill="#097c36" d="M443.12 520.2h1.16v16.6h-1.16zM453.47 520.2h1.16v16.6h-1.16zM457.79 520.2h1.16v16.6h-1.16zM475.92 520.2h1.16v16.6h-1.16zM497.5 520.2h1.16v16.6h-1.16zM561.38 520.2h1.16v16.6h-1.16z"/>
<path fill="#24b15d" d="M444.84 520.2h1.16v16.6h-1.16zM506.99 520.2h1.16v16.6h-1.16zM555.34 520.2h1.16v16.6h-1.16zM573.46 520.2h1.16v16.6h-1.16zM591.59 520.2h1.16v16.6h-1.16zM605.4 520.2h1.16v16.6h-1.16z"/>
<path fill="#139e4d" d="M513.04 520.2h1.16v16.6h-1.16zM519.08 520.2h1.16v16.6h-1.16zM519.94 520.2h1.16v16.6h-1.16zM525.12 520.2h1.16v16.6h-1.16zM530.3 520.2h1.16v16.6h-1.16zM532.89 520.2h1.16v16.6h-1.16zM537.21 520.2h1.16v16.6h-1.16zM550.16 520.2h1.16v16.6h-1.16zM556.2 520.2h1.16v16.6h-1.16zM563.97 520.2h1.16v16.6h-1.16zM564.83 520.2h1.16v16.6h-1.16zM571.74 520.2h1.16v16.6h-1.16zM580.37 520.2h1.16v16.6h-1.16zM589 520.2h1.16v16.6h-1.16zM589.87 520.2h1.16v16.6h-1.16zM607.99 520.2h1.16v16.6h-1.16zM612.31 520.2h1.16v16.6h-1.16z"/>
<path fill="#1ba956" d="M513.9 520.2h1.16v16.6h-1.16zM567.42 520.2h1.16v16.6h-1.16zM568.28 520.2h1.16v16.6h-1.16zM576.92 520.2h1.16v16.6h-1.16zM584.69 520.2h1.16v16.6h-1.16zM603.68 520.2h1.16v16.6h-1.16zM610.58 520.2h1.16v16.6h-1.16z"/>
<path fill="#16a552" d="M518.22 520.2h1.16v16.6h-1.16zM557.06 520.2h1.16v16.6h-1.16zM578.64 520.2h1.16v16.6h-1.16zM586.41 520.2h1.16v16.6h-1.16zM592.46 520.2h1.16v16.6h-1.16zM614.04 520.2h1.16v16.6h-1.16z"/>
<path fill="#20ad5a" d="M528.58 520.2h1.16v16.6h-1.16zM557.93 520.2h1.16v16.6h-1.16zM560.52 520.2h1.16v16.6h-1.16zM570.87 520.2h1.16v16.6h-1.16zM575.19 520.2h1.16v16.6h-1.16zM583.82 520.2h1.16v16.6h-1.16zM585.55 520.2h1.16v16.6h-1.16zM587.28 520.2h1.16v16.6h-1.16zM590.73 520.2h1.16v16.6h-1.16zM601.95 520.2h1.16v16.6h-1.16zM606.27 520.2h1.16v16.6h-1.16z"/>
<path fill="#29b461" d="M566.56 520.2h1.16v16.6h-1.16zM604.54 520.2h1.16v16.6h-1.16z"/>
<path fill="#ab9ed6" d="M396.5 544.7h1.16v15.8h-1.16zM403.41 544.7h1.16v15.8h-1.16zM418.94 544.7h1.16v15.8h-1.16zM461.24 544.7h1.16v15.8h-1.16zM474.19 544.7h1.16v15.8h-1.16zM491.46 544.7h1.16v15.8h-1.16zM492.32 544.7h1.16v15.8h-1.16zM533.76 544.7h1.16v15.8h-1.16zM538.07 544.7h1.16v15.8h-1.16zM544.98 544.7h1.16v15.8h-1.16zM560.52 544.7h1.16v15.8h-1.16zM589.87 544.7h1.16v15.8h-1.16zM595.91 544.7h1.16v15.8h-1.16zM597.64 544.7h1.16v15.8h-1.16z"/>
<path fill="#c8c0e4" d="M397.36 544.7h1.16v15.8h-1.16zM422.4 544.7h1.16v15.8h-1.16zM424.12 544.7h1.16v15.8h-1.16zM442.25 544.7h1.16v15.8h-1.16zM443.98 544.7h1.16v15.8h-1.16zM448.29 544.7h1.16v15.8h-1.16zM455.2 544.7h1.16v15.8h-1.16zM465.56 544.7h1.16v15.8h-1.16zM481.1 544.7h1.16v15.8h-1.16zM513.04 544.7h1.16v15.8h-1.16zM532.89 544.7h1.16v15.8h-1.16zM534.62 544.7h1.16v15.8h-1.16zM551.02 544.7h1.16v15.8h-1.16zM555.34 544.7h1.16v15.8h-1.16zM571.74 544.7h1.16v15.8h-1.16zM583.82 544.7h1.16v15.8h-1.16zM596.77 544.7h1.16v15.8h-1.16zM599.36 544.7h1.16v15.8h-1.16z"/>
<path fill="#d0cae8" d="M398.23 544.7h1.16v15.8h-1.16zM456.93 544.7h1.16v15.8h-1.16zM458.65 544.7h1.16v15.8h-1.16zM502.68 544.7h1.16v15.8h-1.16zM514.76 544.7h1.16v15.8h-1.16zM527.71 544.7h1.16v15.8h-1.16zM549.29 544.7h1.16v15.8h-1.16zM564.83 544.7h1.16v15.8h-1.16zM569.15 544.7h1.16v15.8h-1.16zM580.37 544.7h1.16v15.8h-1.16z"/>
<path fill="#c4bce2" d="M399.09 544.7h1.16v15.8h-1.16zM414.63 544.7h1.16v15.8h-1.16zM415.49 544.7h1.16v15.8h-1.16zM417.22 544.7h1.16v15.8h-1.16zM430.17 544.7h1.16v15.8h-1.16zM437.07 544.7h1.16v15.8h-1.16zM438.8 544.7h1.16v15.8h-1.16zM443.12 544.7h1.16v15.8h-1.16zM450.02 544.7h1.16v15.8h-1.16zM460.38 544.7h1.16v15.8h-1.16zM464.7 544.7h1.16v15.8h-1.16zM469.88 544.7h1.16v15.8h-1.16zM475.05 544.7h1.16v15.8h-1.16zM476.78 544.7h1.16v15.8h-1.16zM499.23 544.7h1.16v15.8h-1.16zM526.85 544.7h1.16v15.8h-1.16zM530.3 544.7h1.16v15.8h-1.16zM539.8 544.7h1.16v15.8h-1.16zM543.25 544.7h1.16v15.8h-1.16zM554.47 544.7h1.16v15.8h-1.16zM557.93 544.7h1.16v15.8h-1.16zM562.24 544.7h1.16v15.8h-1.16zM577.78 544.7h1.16v15.8h-1.16zM594.18 544.7h1.16v15.8h-1.16zM601.09 544.7h1.16v15.8h-1.16zM611.45 544.7h1.16v15.8h-1.16z"/>
<path fill="#afa3d8" d="M399.95 544.7h1.16v15.8h-1.16zM409.45 544.7h1.16v15.8h-1.16zM418.08 544.7h1.16v15.8h-1.16zM451.75 544.7h1.16v15.8h-1.16zM475.92 544.7h1.16v15.8h-1.16zM480.23 544.7h1.16v15.8h-1.16zM483.69 544.7h1.16v15.8h-1.16zM506.99 544.7h1.16v15.8h-1.16zM509.58 544.7h1.16v15.8h-1.16zM516.49 544.7h1.16v15.8h-1.16zM524.26 544.7h1.16v15.8h-1.16zM540.66 544.7h1.16v15.8h-1.16zM556.2 544.7h1.16v15.8h-1.16zM576.92 544.7h1.16v15.8h-1.16zM590.73 544.7h1.16v15.8h-1.16z"/>
<path fill="#ccc5e6" d="M400.82 544.7h1.16v15.8h-1.16zM426.71 544.7h1.16v15.8h-1.16zM493.18 544.7h1.16v15.8h-1.16zM494.05 544.7h1.16v15.8h-1.16zM495.77 544.7h1.16v15.8h-1.16zM519.08 544.7h1.16v15.8h-1.16zM525.12 544.7h1.16v15.8h-1.16zM529.44 544.7h1.16v15.8h-1.16zM542.39 544.7h1.16v15.8h-1.16zM558.79 544.7h1.16v15.8h-1.16zM576.05 544.7h1.16v15.8h-1.16zM591.59 544.7h1.16v15.8h-1.16zM613.17 544.7h1.16v15.8h-1.16z"/>
<path fill="#bcb2de" d="M401.68 544.7h1.16v15.8h-1.16zM406 544.7h1.16v15.8h-1.16zM424.99 544.7h1.16v15.8h-1.16zM444.84 544.7h1.16v15.8h-1.16zM446.57 544.7h1.16v15.8h-1.16zM452.61 544.7h1.16v15.8h-1.16zM478.51 544.7h1.16v15.8h-1.16zM498.36 544.7h1.16v15.8h-1.16zM504.41 544.7h1.16v15.8h-1.16zM511.31 544.7h1.16v15.8h-1.16zM515.63 544.7h1.16v15.8h-1.16zM528.58 544.7h1.16v15.8h-1.16zM532.03 544.7h1.16v15.8h-1.16zM544.11 544.7h1.16v15.8h-1.16zM551.88 544.7h1.16v15.8h-1.16zM557.06 544.7h1.16v15.8h-1.16zM563.97 544.7h1.16v15.8h-1.16zM573.46 544.7h1.16v15.8h-1.16zM578.64 544.7h1.16v15.8h-1.16zM587.28 544.7h1.16v15.8h-1.16zM588.14 544.7h1.16v15.8h-1.16zM598.5 544.7h1.16v15.8h-1.16zM607.99 544.7h1.16v15.8h-1.16zM612.31 544.7h1.16v15.8h-1.16zM614.04 544.7h1.16v15.8h-1.16z"/>
<path fill="#a799d4" d="M402.54 544.7h1.16v15.8h-1.16zM435.35 544.7h1.16v15.8h-1.16zM436.21 544.7h1.16v15.8h-1.16zM518.22 544.7h1.16v15.8h-1.16zM519.94 544.7h1.16v15.8h-1.16zM567.42 544.7h1.16v15.8h-1.16zM572.6 544.7h1.16v15.8h-1.16zM606.27 544.7h1.16v15.8h-1.16zM607.13 544.7h1.16v15.8h-1.16z"/>
<path fill="#b4a8da" d="M404.27 544.7h1.16v15.8h-1.16zM412.04 544.7h1.16v15.8h-1.16zM423.26 544.7h1.16v15.8h-1.16zM431.03 544.7h1.16v15.8h-1.16zM439.66 544.7h1.16v15.8h-1.16zM449.16 544.7h1.16v15.8h-1.16zM453.47 544.7h1.16v15.8h-1.16zM467.29 544.7h1.16v15.8h-1.16zM468.15 544.7h1.16v15.8h-1.16zM469.01 544.7h1.16v15.8h-1.16zM470.74 544.7h1.16v15.8h-1.16zM487.14 544.7h1.16v15.8h-1.16zM500.95 544.7h1.16v15.8h-1.16zM501.82 544.7h1.16v15.8h-1.16zM505.27 544.7h1.16v15.8h-1.16zM508.72 544.7h1.16v15.8h-1.16zM523.4 544.7h1.16v15.8h-1.16zM545.84 544.7h1.16v15.8h-1.16zM563.11 544.7h1.16v15.8h-1.16zM565.7 544.7h1.16v15.8h-1.16zM570.01 544.7h1.16v15.8h-1.16zM574.33 544.7h1.16v15.8h-1.16zM581.23 544.7h1.16v15.8h-1.16zM600.22 544.7h1.16v15.8h-1.16zM602.81 544.7h1.16v15.8h-1.16zM608.86 544.7h1.16v15.8h-1.16zM609.72 544.7h1.16v15.8h-1.16z"/>
<path fill="#9b89ce" d="M405.13 544.7h1.16v15.8h-1.16zM500.09 544.7h1.16v15.8h-1.16zM553.61 544.7h1.16v15.8h-1.16zM570.87 544.7h1.16v15.8h-1.16z"/>
<path fill="#c0b7e0" d="M406.86 544.7h1.16v15.8h-1.16zM410.31 544.7h1.16v15.8h-1.16zM411.18 544.7h1.16v15.8h-1.16zM413.76 544.7h1.16v15.8h-1.16zM420.67 544.7h1.16v15.8h-1.16zM421.53 544.7h1.16v15.8h-1.16zM425.85 544.7h1.16v15.8h-1.16zM427.58 544.7h1.16v15.8h-1.16zM428.44 544.7h1.16v15.8h-1.16zM431.89 544.7h1.16v15.8h-1.16zM432.76 544.7h1.16v15.8h-1.16zM433.62 544.7h1.16v15.8h-1.16zM450.88 544.7h1.16v15.8h-1.16zM471.6 544.7h1.16v15.8h-1.16zM473.33 544.7h1.16v15.8h-1.16zM484.55 544.7h1.16v15.8h-1.16zM490.59 544.7h1.16v15.8h-1.16zM496.64 544.7h1.16v15.8h-1.16zM497.5 544.7h1.16v15.8h-1.16zM506.13 544.7h1.16v15.8h-1.16zM512.17 544.7h1.16v15.8h-1.16zM517.35 544.7h1.16v15.8h-1.16zM521.67 544.7h1.16v15.8h-1.16zM531.17 544.7h1.16v15.8h-1.16zM535.48 544.7h1.16v15.8h-1.16zM537.21 544.7h1.16v15.8h-1.16zM538.93 544.7h1.16v15.8h-1.16zM546.7 544.7h1.16v15.8h-1.16zM552.75 544.7h1.16v15.8h-1.16zM559.65 544.7h1.16v15.8h-1.16zM568.28 544.7h1.16v15.8h-1.16zM575.19 544.7h1.16v15.8h-1.16zM582.96 544.7h1.16v15.8h-1.16zM586.41 544.7h1.16v15.8h-1.16zM593.32 544.7h1.16v15.8h-1.16zM603.68 544.7h1.16v15.8h-1.16z"/>
<path fill="#d8d2ec" d="M407.72 544.7h1.16v15.8h-1.16zM434.48 544.7h1.16v15.8h-1.16z"/>
<path fill="#b8addc" d="M408.59 544.7h1.16v15.8h-1.16zM412.9 544.7h1.16v15.8h-1.16zM429.3 544.7h1.16v15.8h-1.16zM445.7 544.7h1.16v15.8h-1.16zM447.43 544.7h1.16v15.8h-1.16zM456.06 544.7h1.16v15.8h-1.16zM462.11 544.7h1.16v15.8h-1.16zM463.83 544.7h1.16v15.8h-1.16zM477.64 544.7h1.16v15.8h-1.16zM479.37 544.7h1.16v15.8h-1.16zM481.96 544.7h1.16v15.8h-1.16zM485.41 544.7h1.16v15.8h-1.16zM486.28 544.7h1.16v15.8h-1.16zM488 544.7h1.16v15.8h-1.16zM488.87 544.7h1.16v15.8h-1.16zM489.73 544.7h1.16v15.8h-1.16zM494.91 544.7h1.16v15.8h-1.16zM522.53 544.7h1.16v15.8h-1.16zM536.35 544.7h1.16v15.8h-1.16zM541.52 544.7h1.16v15.8h-1.16zM548.43 544.7h1.16v15.8h-1.16zM561.38 544.7h1.16v15.8h-1.16zM566.56 544.7h1.16v15.8h-1.16zM579.51 544.7h1.16v15.8h-1.16zM582.1 544.7h1.16v15.8h-1.16zM584.69 544.7h1.16v15.8h-1.16zM585.55 544.7h1.16v15.8h-1.16zM595.05 544.7h1.16v15.8h-1.16zM601.95 544.7h1.16v15.8h-1.16z"/>
<path fill="#e0dcf0" d="M416.35 544.7h1.16v15.8h-1.16zM507.86 544.7h1.16v15.8h-1.16zM547.57 544.7h1.16v15.8h-1.16z"/>
<path fill="#dcd7ee" d="M419.81 544.7h1.16v15.8h-1.16zM437.94 544.7h1.16v15.8h-1.16zM513.9 544.7h1.16v15.8h-1.16zM520.81 544.7h1.16v15.8h-1.16zM525.99 544.7h1.16v15.8h-1.16z"/>
<path fill="#e4e0f2" d="M440.53 544.7h1.16v15.8h-1.16zM472.47 544.7h1.16v15.8h-1.16z"/>
<path fill="#9f8ed0" d="M441.39 544.7h1.16v15.8h-1.16zM466.42 544.7h1.16v15.8h-1.16zM592.46 544.7h1.16v15.8h-1.16z"/>
<path fill="#a394d2" d="M454.34 544.7h1.16v15.8h-1.16zM457.79 544.7h1.16v15.8h-1.16zM482.82 544.7h1.16v15.8h-1.16zM605.4 544.7h1.16v15.8h-1.16z"/>
<path fill="#d4ceea" d="M459.52 544.7h1.16v15.8h-1.16zM462.97 544.7h1.16v15.8h-1.16zM503.54 544.7h1.16v15.8h-1.16zM510.45 544.7h1.16v15.8h-1.16zM550.16 544.7h1.16v15.8h-1.16zM589 544.7h1.16v15.8h-1.16zM604.54 544.7h1.16v15.8h-1.16zM610.58 544.7h1.16v15.8h-1.16z"/>
<path fill="#8c73c4" d="M396.5 560.5h1.16v15.9h-1.16zM429.3 560.5h1.16v15.9h-1.16zM437.94 560.5h1.16v15.9h-1.16zM446.57 560.5h1.16v15.9h-1.16zM454.34 560.5h1.16v15.9h-1.16zM456.93 560.5h1.16v15.9h-1.16zM464.7 560.5h1.16v15.9h-1.16zM469.88 560.5h1.16v15.9h-1.16zM475.92 560.5h1.16v15.9h-1.16zM477.64 560.5h1.16v15.9h-1.16zM492.32 560.5h1.16v15.9h-1.16zM521.67 560.5h1.16v15.9h-1.16zM522.53 560.5h1.16v15.9h-1.16zM542.39 560.5h1.16v15.9h-1.16zM550.16 560.5h1.16v15.9h-1.16zM560.52 560.5h1.16v15.9h-1.16zM596.77 560.5h1.16v15.9h-1.16zM598.5 560.5h1.16v15.9h-1.16zM605.4 560.5h1.16v15.9h-1.16z"/>
<path fill="#9b89ce" d="M397.36 560.5h1.16v15.9h-1.16zM410.31 560.5h1.16v15.9h-1.16zM424.99 560.5h1.16v15.9h-1.16zM443.98 560.5h1.16v15.9h-1.16zM445.7 560.5h1.16v15.9h-1.16zM471.6 560.5h1.16v15.9h-1.16zM480.23 560.5h1.16v15.9h-1.16zM481.1 560.5h1.16v15.9h-1.16zM500.09 560.5h1.16v15.9h-1.16zM523.4 560.5h1.16v15.9h-1.16zM525.99 560.5h1.16v15.9h-1.16zM526.85 560.5h1.16v15.9h-1.16zM532.89 560.5h1.16v15.9h-1.16zM533.76 560.5h1.16v15.9h-1.16zM545.84 560.5h1.16v15.9h-1.16zM558.79 560.5h1.16v15.9h-1.16zM562.24 560.5h1.16v15.9h-1.16zM566.56 560.5h1.16v15.9h-1.16zM569.15 560.5h1.16v15.9h-1.16zM591.59 560.5h1.16v15.9h-1.16zM592.46 560.5h1.16v15.9h-1.16zM595.91 560.5h1.16v15.9h-1.16zM597.64 560.5h1.16v15.9h-1.16zM602.81 560.5h1.16v15.9h-1.16z"/>
<path fill="#ab9ed6" d="M398.23 560.5h1.16v15.9h-1.16zM436.21 560.5h1.16v15.9h-1.16zM453.47 560.5h1.16v15.9h-1.16zM457.79 560.5h1.16v15.9h-1.16zM462.11 560.5h1.16v15.9h-1.16zM499.23 560.5h1.16v15.9h-1.16zM514.76 560.5h1.16v15.9h-1.16zM519.08 560.5h1.16v15.9h-1.16zM532.03 560.5h1.16v15.9h-1.16zM538.07 560.5h1.16v15.9h-1.16zM538.93 560.5h1.16v15.9h-1.16zM571.74 560.5h1.16v15.9h-1.16zM580.37 560.5h1.16v15.9h-1.16zM581.23 560.5h1.16v15.9h-1.16z"/>
<path fill="#7a5ab9" d="M399.09 560.5h1.16v15.9h-1.16zM407.72 560.5h1.16v15.9h-1.16z"/>
<path fill="#8468c0" d="M399.95 560.5h1.16v15.9h-1.16zM426.71 560.5h1.16v15.9h-1.16zM459.52 560.5h1.16v15.9h-1.16zM461.24 560.5h1.16v15.9h-1.16zM462.97 560.5h1.16v15.9h-1.16zM470.74 560.5h1.16v15.9h-1.16zM487.14 560.5h1.16v15.9h-1.16zM502.68 560.5h1.16v15.9h-1.16zM525.12 560.5h1.16v15.9h-1.16zM548.43 560.5h1.16v15.9h-1.16zM568.28 560.5h1.16v15.9h-1.16zM587.28 560.5h1.16v15.9h-1.16zM604.54 560.5h1.16v15.9h-1.16z"/>
<path fill="#9078c7" d="M400.82 560.5h1.16v15.9h-1.16zM403.41 560.5h1.16v15.9h-1.16zM423.26 560.5h1.16v15.9h-1.16zM448.29 560.5h1.16v15.9h-1.16zM466.42 560.5h1.16v15.9h-1.16zM476.78 560.5h1.16v15.9h-1.16zM497.5 560.5h1.16v15.9h-1.16zM504.41 560.5h1.16v15.9h-1.16zM508.72 560.5h1.16v15.9h-1.16zM516.49 560.5h1.16v15.9h-1.16zM517.35 560.5h1.16v15.9h-1.16zM527.71 560.5h1.16v15.9h-1.16zM531.17 560.5h1.16v15.9h-1.16zM557.06 560.5h1.16v15.9h-1.16zM559.65 560.5h1.16v15.9h-1.16zM574.33 560.5h1.16v15.9h-1.16zM575.19 560.5h1.16v15.9h-1.16zM578.64 560.5h1.16v15.9h-1.16zM590.73 560.5h1.16v15.9h-1.16zM601.95 560.5h1.16v15.9h-1.16zM610.58 560.5h1.16v15.9h-1.16z"/>
<path fill="#886ec2" d="M401.68 560.5h1.16v15.9h-1.16zM406 560.5h1.16v15.9h-1.16zM408.59 560.5h1.16v15.9h-1.16zM420.67 560.5h1.16v15.9h-1.16zM424.12 560.5h1.16v15.9h-1.16zM435.35 560.5h1.16v15.9h-1.16zM467.29 560.5h1.16v15.9h-1.16zM482.82 560.5h1.16v15.9h-1.16zM491.46 560.5h1.16v15.9h-1.16zM554.47 560.5h1.16v15.9h-1.16zM557.93 560.5h1.16v15.9h-1.16zM606.27 560.5h1.16v15.9h-1.16zM607.13 560.5h1.16v15.9h-1.16z"/>
<path fill="#afa3d8" d="M402.54 560.5h1.16v15.9h-1.16zM418.94 560.5h1.16v15.9h-1.16zM433.62 560.5h1.16v15.9h-1.16zM485.41 560.5h1.16v15.9h-1.16zM498.36 560.5h1.16v15.9h-1.16zM530.3 560.5h1.16v15.9h-1.16zM563.97 560.5h1.16v15.9h-1.16zM579.51 560.5h1.16v15.9h-1.16zM582.1 560.5h1.16v15.9h-1.16zM584.69 560.5h1.16v15.9h-1.16zM585.55 560.5h1.16v15.9h-1.16zM609.72 560.5h1.16v15.9h-1.16zM613.17 560.5h1.16v15.9h-1.16z"/>
<path fill="#947ec9" d="M404.27 560.5h1.16v15.9h-1.16zM416.35 560.5h1.16v15.9h-1.16zM417.22 560.5h1.16v15.9h-1.16zM421.53 560.5h1.16v15.9h-1.16zM428.44 560.5h1.16v15.9h-1.16zM432.76 560.5h1.16v15.9h-1.16zM438.8 560.5h1.16v15.9h-1.16zM441.39 560.5h1.16v15.9h-1.16zM449.16 560.5h1.16v15.9h-1.16zM452.61 560.5h1.16v15.9h-1.16zM463.83 560.5h1.16v15.9h-1.16zM481.96 560.5h1.16v15.9h-1.16zM489.73 560.5h1.16v15.9h-1.16zM495.77 560.5h1.16v15.9h-1.16zM505.27 560.5h1.16v15.9h-1.16zM509.58 560.5h1.16v15.9h-1.16zM512.17 560.5h1.16v15.9h-1.16zM524.26 560.5h1.16v15.9h-1.16zM546.7 560.5h1.16v15.9h-1.16zM552.75 560.5h1.16v15.9h-1.16zM563.11 560.5h1.16v15.9h-1.16zM564.83 560.5h1.16v15.9h-1.16zM599.36 560.5h1.16v15.9h-1.16zM614.04 560.5h1.16v15.9h-1.16z"/>
<path fill="#7452b5" d="M405.13 560.5h1.16v15.9h-1.16zM483.69 560.5h1.16v15.9h-1.16z"/>
<path fill="#9784cb" d="M406.86 560.5h1.16v15.9h-1.16zM413.76 560.5h1.16v15.9h-1.16zM415.49 560.5h1.16v15.9h-1.16zM425.85 560.5h1.16v15.9h-1.16zM431.03 560.5h1.16v15.9h-1.16zM439.66 560.5h1.16v15.9h-1.16zM442.25 560.5h1.16v15.9h-1.16zM447.43 560.5h1.16v15.9h-1.16zM450.88 560.5h1.16v15.9h-1.16zM465.56 560.5h1.16v15.9h-1.16zM472.47 560.5h1.16v15.9h-1.16zM479.37 560.5h1.16v15.9h-1.16zM488.87 560.5h1.16v15.9h-1.16zM496.64 560.5h1.16v15.9h-1.16zM500.95 560.5h1.16v15.9h-1.16zM503.54 560.5h1.16v15.9h-1.16zM513.04 560.5h1.16v15.9h-1.16zM529.44 560.5h1.16v15.9h-1.16zM536.35 560.5h1.16v15.9h-1.16zM543.25 560.5h1.16v15.9h-1.16zM573.46 560.5h1.16v15.9h-1.16zM589.87 560.5h1.16v15.9h-1.16z"/>
<path fill="#9f8ed0" d="M409.45 560.5h1.16v15.9h-1.16zM412.04 560.5h1.16v15.9h-1.16zM412.9 560.5h1.16v15.9h-1.16zM434.48 560.5h1.16v15.9h-1.16zM460.38 560.5h1.16v15.9h-1.16zM469.01 560.5h1.16v15.9h-1.16zM507.86 560.5h1.16v15.9h-1.16zM515.63 560.5h1.16v15.9h-1.16zM518.22 560.5h1.16v15.9h-1.16zM540.66 560.5h1.16v15.9h-1.16zM547.57 560.5h1.16v15.9h-1.16zM567.42 560.5h1.16v15.9h-1.16zM583.82 560.5h1.16v15.9h-1.16zM586.41 560.5h1.16v15.9h-1.16zM588.14 560.5h1.16v15.9h-1.16zM594.18 560.5h1.16v15.9h-1.16zM600.22 560.5h1.16v15.9h-1.16zM608.86 560.5h1.16v15.9h-1.16z"/>
<path fill="#704db2" d="M411.18 560.5h1.16v15.9h-1.16z"/>
<path fill="#a394d2" d="M414.63 560.5h1.16v15.9h-1.16zM440.53 560.5h1.16v15.9h-1.16zM451.75 560.5h1.16v15.9h-1.16zM455.2 560.5h1.16v15.9h-1.16zM493.18 560.5h1.16v15.9h-1.16zM494.05 560.5h1.16v15.9h-1.16zM494.91 560.5h1.16v15.9h-1.16zM506.99 560.5h1.16v15.9h-1.16zM511.31 560.5h1.16v15.9h-1.16zM513.9 560.5h1.16v15.9h-1.16zM519.94 560.5h1.16v15.9h-1.16zM537.21 560.5h1.16v15.9h-1.16zM541.52 560.5h1.16v15.9h-1.16zM544.11 560.5h1.16v15.9h-1.16zM551.02 560.5h1.16v15.9h-1.16zM570.01 560.5h1.16v15.9h-1.16zM582.96 560.5h1.16v15.9h-1.16zM607.99 560.5h1.16v15.9h-1.16z"/>
<path fill="#bcb2de" d="M418.08 560.5h1.16v15.9h-1.16zM484.55 560.5h1.16v15.9h-1.16zM520.81 560.5h1.16v15.9h-1.16zM553.61 560.5h1.16v15.9h-1.16zM561.38 560.5h1.16v15.9h-1.16zM570.87 560.5h1.16v15.9h-1.16z"/>
<path fill="#b4a8da" d="M419.81 560.5h1.16v15.9h-1.16zM450.02 560.5h1.16v15.9h-1.16zM456.06 560.5h1.16v15.9h-1.16zM486.28 560.5h1.16v15.9h-1.16zM510.45 560.5h1.16v15.9h-1.16zM534.62 560.5h1.16v15.9h-1.16zM589 560.5h1.16v15.9h-1.16zM595.05 560.5h1.16v15.9h-1.16z"/>
<path fill="#c0b7e0" d="M422.4 560.5h1.16v15.9h-1.16zM427.58 560.5h1.16v15.9h-1.16zM544.98 560.5h1.16v15.9h-1.16zM603.68 560.5h1.16v15.9h-1.16z"/>
<path fill="#7e5fbc" d="M430.17 560.5h1.16v15.9h-1.16zM473.33 560.5h1.16v15.9h-1.16zM551.88 560.5h1.16v15.9h-1.16z"/>
<path fill="#b8addc" d="M431.89 560.5h1.16v15.9h-1.16zM474.19 560.5h1.16v15.9h-1.16zM478.51 560.5h1.16v15.9h-1.16zM555.34 560.5h1.16v15.9h-1.16zM556.2 560.5h1.16v15.9h-1.16zM576.05 560.5h1.16v15.9h-1.16zM601.09 560.5h1.16v15.9h-1.16z"/>
<path fill="#8164be" d="M437.07 560.5h1.16v15.9h-1.16zM458.65 560.5h1.16v15.9h-1.16zM506.13 560.5h1.16v15.9h-1.16zM549.29 560.5h1.16v15.9h-1.16zM572.6 560.5h1.16v15.9h-1.16zM612.31 560.5h1.16v15.9h-1.16z"/>
<path fill="#a799d4" d="M443.12 560.5h1.16v15.9h-1.16zM468.15 560.5h1.16v15.9h-1.16zM488 560.5h1.16v15.9h-1.16zM501.82 560.5h1.16v15.9h-1.16zM528.58 560.5h1.16v15.9h-1.16zM535.48 560.5h1.16v15.9h-1.16zM539.8 560.5h1.16v15.9h-1.16zM565.7 560.5h1.16v15.9h-1.16zM576.92 560.5h1.16v15.9h-1.16zM577.78 560.5h1.16v15.9h-1.16zM593.32 560.5h1.16v15.9h-1.16zM611.45 560.5h1.16v15.9h-1.16z"/>
<path fill="#7756b7" d="M444.84 560.5h1.16v15.9h-1.16z"/>
<path fill="#c4bce2" d="M475.05 560.5h1.16v15.9h-1.16zM490.59 560.5h1.16v15.9h-1.16z"/>
<path fill="#5eb2e1" d="M396.5 583.6h1.16v15.8h-1.16zM402.54 583.6h1.16v15.8h-1.16zM406.86 583.6h1.16v15.8h-1.16zM428.44 583.6h1.16v15.8h-1.16z"/>
<path fill="#74c0e8" d="M397.36 583.6h1.16v15.8h-1.16zM480.23 583.6h1.16v15.8h-1.16zM512.17 583.6h1.16v15.8h-1.16zM514.76 583.6h1.16v15.8h-1.16zM543.25 583.6h1.16v15.8h-1.16zM551.02 583.6h1.16v15.8h-1.16zM568.28 583.6h1.16v15.8h-1.16zM569.15 583.6h1.16v15.8h-1.16zM596.77 583.6h1.16v15.8h-1.16z"/>
<path fill="#8acaec" d="M398.23 583.6h1.16v15.8h-1.16zM416.35 583.6h1.16v15.8h-1.16zM432.76 583.6h1.16v15.8h-1.16zM437.94 583.6h1.16v15.8h-1.16zM516.49 583.6h1.16v15.8h-1.16zM522.53 583.6h1.16v15.8h-1.16zM527.71 583.6h1.16v15.8h-1.16zM530.3 583.6h1.16v15.8h-1.16zM546.7 583.6h1.16v15.8h-1.16zM556.2 583.6h1.16v15.8h-1.16zM563.97 583.6h1.16v15.8h-1.16zM584.69 583.6h1.16v15.8h-1.16zM598.5 583.6h1.16v15.8h-1.16z"/>
<path fill="#7bc3e9" d="M399.09 583.6h1.16v15.8h-1.16zM409.45 583.6h1.16v15.8h-1.16zM424.99 583.6h1.16v15.8h-1.16zM431.03 583.6h1.16v15.8h-1.16zM444.84 583.6h1.16v15.8h-1.16zM458.65 583.6h1.16v15.8h-1.16zM477.64 583.6h1.16v15.8h-1.16zM503.54 583.6h1.16v15.8h-1.16zM509.58 583.6h1.16v15.8h-1.16zM517.35 583.6h1.16v15.8h-1.16zM532.89 583.6h1.16v15.8h-1.16zM536.35 583.6h1.16v15.8h-1.16zM562.24 583.6h1.16v15.8h-1.16zM572.6 583.6h1.16v15.8h-1.16zM581.23 583.6h1.16v15.8h-1.16zM585.55 583.6h1.16v15.8h-1.16zM592.46 583.6h1.16v15.8h-1.16z"/>
<path fill="#a8d8f2" d="M399.95 583.6h1.16v15.8h-1.16zM407.72 583.6h1.16v15.8h-1.16zM414.63 583.6h1.16v15.8h-1.16zM426.71 583.6h1.16v15.8h-1.16zM467.29 583.6h1.16v15.8h-1.16zM525.99 583.6h1.16v15.8h-1.16z"/>
<path fill="#d6eef9" d="M400.82 583.6h1.16v15.8h-1.16zM421.53 583.6h1.16v15.8h-1.16zM595.05 583.6h1.16v15.8h-1.16z"/>
<path fill="#92ceee" d="M401.68 583.6h1.16v15.8h-1.16zM420.67 583.6h1.16v15.8h-1.16zM454.34 583.6h1.16v15.8h-1.16zM461.24 583.6h1.16v15.8h-1.16zM471.6 583.6h1.16v15.8h-1.16zM519.94 583.6h1.16v15.8h-1.16zM521.67 583.6h1.16v15.8h-1.16zM544.11 583.6h1.16v15.8h-1.16zM557.93 583.6h1.16v15.8h-1.16zM566.56 583.6h1.16v15.8h-1.16zM575.19 583.6h1.16v15.8h-1.16zM577.78 583.6h1.16v15.8h-1.16zM589 583.6h1.16v15.8h-1.16zM591.59 583.6h1.16v15.8h-1.16zM595.91 583.6h1.16v15.8h-1.16zM602.81 583.6h1.16v15.8h-1.16z"/>
<path fill="#99d1ef" d="M403.41 583.6h1.16v15.8h-1.16zM413.76 583.6h1.16v15.8h-1.16zM422.4 583.6h1.16v15.8h-1.16zM424.12 583.6h1.16v15.8h-1.16zM443.12 583.6h1.16v15.8h-1.16zM447.43 583.6h1.16v15.8h-1.16zM449.16 583.6h1.16v15.8h-1.16zM457.79 583.6h1.16v15.8h-1.16zM459.52 583.6h1.16v15.8h-1.16zM472.47 583.6h1.16v15.8h-1.16zM483.69 583.6h1.16v15.8h-1.16zM486.28 583.6h1.16v15.8h-1.16zM498.36 583.6h1.16v15.8h-1.16zM507.86 583.6h1.16v15.8h-1.16zM511.31 583.6h1.16v15.8h-1.16zM513.04 583.6h1.16v15.8h-1.16zM549.29 583.6h1.16v15.8h-1.16zM551.88 583.6h1.16v15.8h-1.16zM564.83 583.6h1.16v15.8h-1.16zM570.87 583.6h1.16v15.8h-1.16zM574.33 583.6h1.16v15.8h-1.16zM589.87 583.6h1.16v15.8h-1.16zM605.4 583.6h1.16v15.8h-1.16z"/>
<path fill="#65b7e4" d="M404.27 583.6h1.16v15.8h-1.16zM412.9 583.6h1.16v15.8h-1.16zM435.35 583.6h1.16v15.8h-1.16zM451.75 583.6h1.16v15.8h-1.16zM470.74 583.6h1.16v15.8h-1.16zM475.92 583.6h1.16v15.8h-1.16zM500.09 583.6h1.16v15.8h-1.16zM515.63 583.6h1.16v15.8h-1.16zM565.7 583.6h1.16v15.8h-1.16zM567.42 583.6h1.16v15.8h-1.16zM583.82 583.6h1.16v15.8h-1.16zM593.32 583.6h1.16v15.8h-1.16z"/>
<path fill="#50a9dc" d="M405.13 583.6h1.16v15.8h-1.16zM462.11 583.6h1.16v15.8h-1.16zM561.38 583.6h1.16v15.8h-1.16zM587.28 583.6h1.16v15.8h-1.16zM612.31 583.6h1.16v15.8h-1.16z"/>
<path fill="#2988c9" d="M406 583.6h1.16v15.8h-1.16zM469.01 583.6h1.16v15.8h-1.16zM502.68 583.6h1.16v15.8h-1.16z"/>
<path fill="#aedbf3" d="M408.59 583.6h1.16v15.8h-1.16zM411.18 583.6h1.16v15.8h-1.16zM412.04 583.6h1.16v15.8h-1.16zM417.22 583.6h1.16v15.8h-1.16zM436.21 583.6h1.16v15.8h-1.16zM464.7 583.6h1.16v15.8h-1.16zM484.55 583.6h1.16v15.8h-1.16zM487.14 583.6h1.16v15.8h-1.16zM494.91 583.6h1.16v15.8h-1.16zM504.41 583.6h1.16v15.8h-1.16zM523.4 583.6h1.16v15.8h-1.16zM538.93 583.6h1.16v15.8h-1.16zM553.61 583.6h1.16v15.8h-1.16zM555.34 583.6h1.16v15.8h-1.16zM580.37 583.6h1.16v15.8h-1.16zM590.73 583.6h1.16v15.8h-1.16zM613.17 583.6h1.16v15.8h-1.16z"/>
<path fill="#b4def4" d="M410.31 583.6h1.16v15.8h-1.16zM433.62 583.6h1.16v15.8h-1.16zM450.88 583.6h1.16v15.8h-1.16zM453.47 583.6h1.16v15.8h-1.16zM460.38 583.6h1.16v15.8h-1.16zM466.42 583.6h1.16v15.8h-1.16zM492.32 583.6h1.16v15.8h-1.16zM506.13 583.6h1.16v15.8h-1.16zM510.45 583.6h1.16v15.8h-1.16zM533.76 583.6h1.16v15.8h-1.16zM538.07 583.6h1.16v15.8h-1.16zM576.92 583.6h1.16v15.8h-1.16zM582.1 583.6h1.16v15.8h-1.16zM601.09 583.6h1.16v15.8h-1.16zM603.68 583.6h1.16v15.8h-1.16z"/>
<path fill="#3596d2" d="M415.49 583.6h1.16v15.8h-1.16zM445.7 583.6h1.16v15.8h-1.16zM450.02 583.6h1.16v15.8h-1.16zM478.51 583.6h1.16v15.8h-1.16zM479.37 583.6h1.16v15.8h-1.16zM506.99 583.6h1.16v15.8h-1.16zM607.13 583.6h1.16v15.8h-1.16z"/>
<path fill="#bfe3f6" d="M418.08 583.6h1.16v15.8h-1.16zM455.2 583.6h1.16v15.8h-1.16zM475.05 583.6h1.16v15.8h-1.16zM489.73 583.6h1.16v15.8h-1.16zM499.23 583.6h1.16v15.8h-1.16zM529.44 583.6h1.16v15.8h-1.16zM545.84 583.6h1.16v15.8h-1.16zM547.57 583.6h1.16v15.8h-1.16zM550.16 583.6h1.16v15.8h-1.16zM557.06 583.6h1.16v15.8h-1.16zM594.18 583.6h1.16v15.8h-1.16zM609.72 583.6h1.16v15.8h-1.16z"/>
<path fill="#57aede" d="M418.94 583.6h1.16v15.8h-1.16zM429.3 583.6h1.16v15.8h-1.16zM431.89 583.6h1.16v15.8h-1.16zM468.15 583.6h1.16v15.8h-1.16zM469.88 583.6h1.16v15.8h-1.16zM473.33 583.6h1.16v15.8h-1.16zM476.78 583.6h1.16v15.8h-1.16zM481.96 583.6h1.16v15.8h-1.16zM482.82 583.6h1.16v15.8h-1.16zM542.39 583.6h1.16v15.8h-1.16zM559.65 583.6h1.16v15.8h-1.16z"/>
<path fill="#82c6ea" d="M419.81 583.6h1.16v15.8h-1.16zM425.85 583.6h1.16v15.8h-1.16zM439.66 583.6h1.16v15.8h-1.16zM440.53 583.6h1.16v15.8h-1.16zM456.06 583.6h1.16v15.8h-1.16zM485.41 583.6h1.16v15.8h-1.16zM488 583.6h1.16v15.8h-1.16zM491.46 583.6h1.16v15.8h-1.16zM501.82 583.6h1.16v15.8h-1.16zM518.22 583.6h1.16v15.8h-1.16zM519.08 583.6h1.16v15.8h-1.16zM520.81 583.6h1.16v15.8h-1.16zM526.85 583.6h1.16v15.8h-1.16zM540.66 583.6h1.16v15.8h-1.16z"/>
<path fill="#43a0d7" d="M423.26 583.6h1.16v15.8h-1.16z"/>
<path fill="#a0d4f0" d="M427.58 583.6h1.16v15.8h-1.16zM434.48 583.6h1.16v15.8h-1.16zM441.39 583.6h1.16v15.8h-1.16zM452.61 583.6h1.16v15.8h-1.16zM500.95 583.6h1.16v15.8h-1.16zM508.72 583.6h1.16v15.8h-1.16zM524.26 583.6h1.16v15.8h-1.16zM528.58 583.6h1.16v15.8h-1.16zM579.51 583.6h1.16v15.8h-1.16zM588.14 583.6h1.16v15.8h-1.16zM599.36 583.6h1.16v15.8h-1.16zM601.95 583.6h1.16v15.8h-1.16z"/>
<path fill="#6cbce6" d="M430.17 583.6h1.16v15.8h-1.16zM437.07 583.6h1.16v15.8h-1.16zM558.79 583.6h1.16v15.8h-1.16zM578.64 583.6h1.16v15.8h-1.16zM607.99 583.6h1.16v15.8h-1.16z"/>
<path fill="#1d7bc0" d="M438.8 583.6h1.16v15.8h-1.16z"/>
<path fill="#c5e6f6" d="M442.25 583.6h1.16v15.8h-1.16zM446.57 583.6h1.16v15.8h-1.16zM462.97 583.6h1.16v15.8h-1.16zM481.1 583.6h1.16v15.8h-1.16zM513.9 583.6h1.16v15.8h-1.16zM535.48 583.6h1.16v15.8h-1.16zM541.52 583.6h1.16v15.8h-1.16zM570.01 583.6h1.16v15.8h-1.16zM608.86 583.6h1.16v15.8h-1.16zM611.45 583.6h1.16v15.8h-1.16z"/>
<path fill="#4aa4da" d="M443.98 583.6h1.16v15.8h-1.16zM456.93 583.6h1.16v15.8h-1.16zM493.18 583.6h1.16v15.8h-1.16z"/>
<path fill="#b9e0f5" d="M448.29 583.6h1.16v15.8h-1.16zM534.62 583.6h1.16v15.8h-1.16zM571.74 583.6h1.16v15.8h-1.16zM573.46 583.6h1.16v15.8h-1.16zM576.05 583.6h1.16v15.8h-1.16zM582.96 583.6h1.16v15.8h-1.16zM606.27 583.6h1.16v15.8h-1.16z"/>
<path fill="#e0f2fa" d="M463.83 583.6h1.16v15.8h-1.16zM496.64 583.6h1.16v15.8h-1.16zM610.58 583.6h1.16v15.8h-1.16z"/>
<path fill="#d0ebf8" d="M465.56 583.6h1.16v15.8h-1.16zM497.5 583.6h1.16v15.8h-1.16z"/>
<path fill="#cae8f7" d="M474.19 583.6h1.16v15.8h-1.16zM490.59 583.6h1.16v15.8h-1.16zM505.27 583.6h1.16v15.8h-1.16zM532.03 583.6h1.16v15.8h-1.16zM537.21 583.6h1.16v15.8h-1.16zM544.98 583.6h1.16v15.8h-1.16zM554.47 583.6h1.16v15.8h-1.16zM563.11 583.6h1.16v15.8h-1.16zM604.54 583.6h1.16v15.8h-1.16zM614.04 583.6h1.16v15.8h-1.16z"/>
<path fill="#2d8dcc" d="M488.87 583.6h1.16v15.8h-1.16zM552.75 583.6h1.16v15.8h-1.16z"/>
<path fill="#3c9bd4" d="M494.05 583.6h1.16v15.8h-1.16zM495.77 583.6h1.16v15.8h-1.16zM531.17 583.6h1.16v15.8h-1.16zM600.22 583.6h1.16v15.8h-1.16z"/>
<path fill="#2180c3" d="M525.12 583.6h1.16v15.8h-1.16z"/>
<path fill="#dbf0fa" d="M539.8 583.6h1.16v15.8h-1.16zM548.43 583.6h1.16v15.8h-1.16zM597.64 583.6h1.16v15.8h-1.16z"/>
<path fill="#1976bd" d="M560.52 583.6h1.16v15.8h-1.16z"/>
<path fill="#2584c6" d="M586.41 583.6h1.16v15.8h-1.16z"/>
<path fill="#8acaec" d="M396.5 599.4h1.16v15.6h-1.16zM400.82 599.4h1.16v15.6h-1.16zM411.18 599.4h1.16v15.6h-1.16zM415.49 599.4h1.16v15.6h-1.16zM418.94 599.4h1.16v15.6h-1.16zM440.53 599.4h1.16v15.6h-1.16zM445.7 599.4h1.16v15.6h-1.16zM468.15 599.4h1.16v15.6h-1.16zM473.33 599.4h1.16v15.6h-1.16zM492.32 599.4h1.16v15.6h-1.16zM509.58 599.4h1.16v15.6h-1.16zM538.07 599.4h1.16v15.6h-1.16zM540.66 599.4h1.16v15.6h-1.16zM544.11 599.4h1.16v15.6h-1.16zM544.98 599.4h1.16v15.6h-1.16zM545.84 599.4h1.16v15.6h-1.16zM557.06 599.4h1.16v15.6h-1.16zM576.92 599.4h1.16v15.6h-1.16zM578.64 599.4h1.16v15.6h-1.16zM582.1 599.4h1.16v15.6h-1.16zM591.59 599.4h1.16v15.6h-1.16zM603.68 599.4h1.16v15.6h-1.16z"/>
<path fill="#50a9dc" d="M397.36 599.4h1.16v15.6h-1.16zM423.26 599.4h1.16v15.6h-1.16zM427.58 599.4h1.16v15.6h-1.16zM446.57 599.4h1.16v15.6h-1.16zM450.02 599.4h1.16v15.6h-1.16zM456.06 599.4h1.16v15.6h-1.16zM457.79 599.4h1.16v15.6h-1.16zM461.24 599.4h1.16v15.6h-1.16zM502.68 599.4h1.16v15.6h-1.16z"/>
<path fill="#65b7e4" d="M398.23 599.4h1.16v15.6h-1.16zM399.95 599.4h1.16v15.6h-1.16zM407.72 599.4h1.16v15.6h-1.16zM409.45 599.4h1.16v15.6h-1.16zM425.85 599.4h1.16v15.6h-1.16zM438.8 599.4h1.16v15.6h-1.16zM464.7 599.4h1.16v15.6h-1.16zM466.42 599.4h1.16v15.6h-1.16zM472.47 599.4h1.16v15.6h-1.16zM481.96 599.4h1.16v15.6h-1.16zM490.59 599.4h1.16v15.6h-1.16zM513.9 599.4h1.16v15.6h-1.16zM523.4 599.4h1.16v15.6h-1.16zM524.26 599.4h1.16v15.6h-1.16zM547.57 599.4h1.16v15.6h-1.16zM560.52 599.4h1.16v15.6h-1.16zM564.83 599.4h1.16v15.6h-1.16zM569.15 599.4h1.16v15.6h-1.16zM595.05 599.4h1.16v15.6h-1.16zM597.64 599.4h1.16v15.6h-1.16z"/>
<path fill="#4aa4da" d="M399.09 599.4h1.16v15.6h-1.16zM412.04 599.4h1.16v15.6h-1.16zM429.3 599.4h1.16v15.6h-1.16zM500.09 599.4h1.16v15.6h-1.16zM530.3 599.4h1.16v15.6h-1.16zM551.02 599.4h1.16v15.6h-1.16zM563.11 599.4h1.16v15.6h-1.16z"/>
<path fill="#92ceee" d="M401.68 599.4h1.16v15.6h-1.16zM412.9 599.4h1.16v15.6h-1.16zM419.81 599.4h1.16v15.6h-1.16zM420.67 599.4h1.16v15.6h-1.16zM437.07 599.4h1.16v15.6h-1.16zM451.75 599.4h1.16v15.6h-1.16zM454.34 599.4h1.16v15.6h-1.16zM456.93 599.4h1.16v15.6h-1.16zM459.52 599.4h1.16v15.6h-1.16zM471.6 599.4h1.16v15.6h-1.16zM503.54 599.4h1.16v15.6h-1.16zM536.35 599.4h1.16v15.6h-1.16zM542.39 599.4h1.16v15.6h-1.16zM549.29 599.4h1.16v15.6h-1.16zM572.6 599.4h1.16v15.6h-1.16zM573.46 599.4h1.16v15.6h-1.16zM579.51 599.4h1.16v15.6h-1.16zM582.96 599.4h1.16v15.6h-1.16zM586.41 599.4h1.16v15.6h-1.16zM596.77 599.4h1.16v15.6h-1.16zM599.36 599.4h1.16v15.6h-1.16zM601.09 599.4h1.16v15.6h-1.16z"/>
<path fill="#74c0e8" d="M402.54 599.4h1.16v15.6h-1.16zM428.44 599.4h1.16v15.6h-1.16zM433.62 599.4h1.16v15.6h-1.16zM444.84 599.4h1.16v15.6h-1.16zM469.88 599.4h1.16v15.6h-1.16zM475.05 599.4h1.16v15.6h-1.16zM481.1 599.4h1.16v15.6h-1.16zM484.55 599.4h1.16v15.6h-1.16zM485.41 599.4h1.16v15.6h-1.16zM495.77 599.4h1.16v15.6h-1.16zM496.64 599.4h1.16v15.6h-1.16zM520.81 599.4h1.16v15.6h-1.16zM525.99 599.4h1.16v15.6h-1.16zM531.17 599.4h1.16v15.6h-1.16zM559.65 599.4h1.16v15.6h-1.16zM584.69 599.4h1.16v15.6h-1.16zM589 599.4h1.16v15.6h-1.16zM593.32 599.4h1.16v15.6h-1.16zM608.86 599.4h1.16v15.6h-1.16z"/>
<path fill="#99d1ef" d="M403.41 599.4h1.16v15.6h-1.16zM448.29 599.4h1.16v15.6h-1.16zM452.61 599.4h1.16v15.6h-1.16zM458.65 599.4h1.16v15.6h-1.16zM462.97 599.4h1.16v15.6h-1.16zM467.29 599.4h1.16v15.6h-1.16zM474.19 599.4h1.16v15.6h-1.16zM478.51 599.4h1.16v15.6h-1.16zM488 599.4h1.16v15.6h-1.16zM491.46 599.4h1.16v15.6h-1.16zM494.05 599.4h1.16v15.6h-1.16zM500.95 599.4h1.16v15.6h-1.16zM548.43 599.4h1.16v15.6h-1.16zM557.93 599.4h1.16v15.6h-1.16zM571.74 599.4h1.16v15.6h-1.16zM604.54 599.4h1.16v15.6h-1.16zM612.31 599.4h1.16v15.6h-1.16z"/>
<path fill="#a8d8f2" d="M404.27 599.4h1.16v15.6h-1.16zM414.63 599.4h1.16v15.6h-1.16zM426.71 599.4h1.16v15.6h-1.16zM460.38 599.4h1.16v15.6h-1.16zM463.83 599.4h1.16v15.6h-1.16zM476.78 599.4h1.16v15.6h-1.16zM514.76 599.4h1.16v15.6h-1.16zM552.75 599.4h1.16v15.6h-1.16zM587.28 599.4h1.16v15.6h-1.16zM602.81 599.4h1.16v15.6h-1.16zM607.13 599.4h1.16v15.6h-1.16zM607.99 599.4h1.16v15.6h-1.16z"/>
<path fill="#82c6ea" d="M405.13 599.4h1.16v15.6h-1.16zM413.76 599.4h1.16v15.6h-1.16zM421.53 599.4h1.16v15.6h-1.16zM422.4 599.4h1.16v15.6h-1.16zM431.03 599.4h1.16v15.6h-1.16zM494.91 599.4h1.16v15.6h-1.16zM501.82 599.4h1.16v15.6h-1.16zM506.99 599.4h1.16v15.6h-1.16zM511.31 599.4h1.16v15.6h-1.16zM512.17 599.4h1.16v15.6h-1.16zM515.63 599.4h1.16v15.6h-1.16zM517.35 599.4h1.16v15.6h-1.16zM527.71 599.4h1.16v15.6h-1.16zM543.25 599.4h1.16v15.6h-1.16zM555.34 599.4h1.16v15.6h-1.16zM574.33 599.4h1.16v15.6h-1.16zM595.91 599.4h1.16v15.6h-1.16zM614.04 599.4h1.16v15.6h-1.16z"/>
<path fill="#43a0d7" d="M406 599.4h1.16v15.6h-1.16zM410.31 599.4h1.16v15.6h-1.16zM416.35 599.4h1.16v15.6h-1.16zM450.88 599.4h1.16v15.6h-1.16zM493.18 599.4h1.16v15.6h-1.16zM506.13 599.4h1.16v15.6h-1.16zM535.48 599.4h1.16v15.6h-1.16z"/>
<path fill="#3c9bd4" d="M406.86 599.4h1.16v15.6h-1.16zM437.94 599.4h1.16v15.6h-1.16zM453.47 599.4h1.16v15.6h-1.16zM488.87 599.4h1.16v15.6h-1.16zM550.16 599.4h1.16v15.6h-1.16z"/>
<path fill="#1572ba" d="M408.59 599.4h1.16v15.6h-1.16zM435.35 599.4h1.16v15.6h-1.16z"/>
<path fill="#6cbce6" d="M417.22 599.4h1.16v15.6h-1.16zM418.08 599.4h1.16v15.6h-1.16zM510.45 599.4h1.16v15.6h-1.16zM516.49 599.4h1.16v15.6h-1.16zM532.03 599.4h1.16v15.6h-1.16zM532.89 599.4h1.16v15.6h-1.16zM538.93 599.4h1.16v15.6h-1.16zM562.24 599.4h1.16v15.6h-1.16zM567.42 599.4h1.16v15.6h-1.16zM592.46 599.4h1.16v15.6h-1.16zM610.58 599.4h1.16v15.6h-1.16zM611.45 599.4h1.16v15.6h-1.16z"/>
<path fill="#146eb5" d="M424.12 599.4h1.16v15.6h-1.16z"/>
<path fill="#2180c3" d="M424.99 599.4h1.16v15.6h-1.16zM489.73 599.4h1.16v15.6h-1.16zM499.23 599.4h1.16v15.6h-1.16zM505.27 599.4h1.16v15.6h-1.16zM613.17 599.4h1.16v15.6h-1.16z"/>
<path fill="#2d8dcc" d="M430.17 599.4h1.16v15.6h-1.16zM443.12 599.4h1.16v15.6h-1.16zM583.82 599.4h1.16v15.6h-1.16z"/>
<path fill="#3596d2" d="M431.89 599.4h1.16v15.6h-1.16zM465.56 599.4h1.16v15.6h-1.16zM519.08 599.4h1.16v15.6h-1.16z"/>
<path fill="#1165ac" d="M432.76 599.4h1.16v15.6h-1.16zM447.43 599.4h1.16v15.6h-1.16z"/>
<path fill="#1060a7" d="M434.48 599.4h1.16v15.6h-1.16zM534.62 599.4h1.16v15.6h-1.16zM539.8 599.4h1.16v15.6h-1.16z"/>
<path fill="#7bc3e9" d="M436.21 599.4h1.16v15.6h-1.16zM439.66 599.4h1.16v15.6h-1.16zM443.98 599.4h1.16v15.6h-1.16zM477.64 599.4h1.16v15.6h-1.16zM497.5 599.4h1.16v15.6h-1.16zM508.72 599.4h1.16v15.6h-1.16zM528.58 599.4h1.16v15.6h-1.16zM541.52 599.4h1.16v15.6h-1.16zM546.7 599.4h1.16v15.6h-1.16zM556.2 599.4h1.16v15.6h-1.16zM566.56 599.4h1.16v15.6h-1.16zM575.19 599.4h1.16v15.6h-1.16zM576.05 599.4h1.16v15.6h-1.16zM581.23 599.4h1.16v15.6h-1.16zM600.22 599.4h1.16v15.6h-1.16z"/>
<path fill="#c5e6f6" d="M441.39 599.4h1.16v15.6h-1.16z"/>
<path fill="#5eb2e1" d="M442.25 599.4h1.16v15.6h-1.16zM487.14 599.4h1.16v15.6h-1.16zM507.86 599.4h1.16v15.6h-1.16zM533.76 599.4h1.16v15.6h-1.16zM558.79 599.4h1.16v15.6h-1.16zM565.7 599.4h1.16v15.6h-1.16zM570.01 599.4h1.16v15.6h-1.16zM570.87 599.4h1.16v15.6h-1.16zM601.95 599.4h1.16v15.6h-1.16z"/>
<path fill="#57aede" d="M449.16 599.4h1.16v15.6h-1.16zM479.37 599.4h1.16v15.6h-1.16zM483.69 599.4h1.16v15.6h-1.16zM486.28 599.4h1.16v15.6h-1.16zM526.85 599.4h1.16v15.6h-1.16zM529.44 599.4h1.16v15.6h-1.16zM563.97 599.4h1.16v15.6h-1.16zM577.78 599.4h1.16v15.6h-1.16zM590.73 599.4h1.16v15.6h-1.16z"/>
<path fill="#2988c9" d="M455.2 599.4h1.16v15.6h-1.16zM475.92 599.4h1.16v15.6h-1.16z"/>
<path fill="#2584c6" d="M462.11 599.4h1.16v15.6h-1.16zM518.22 599.4h1.16v15.6h-1.16zM522.53 599.4h1.16v15.6h-1.16z"/>
<path fill="#a0d4f0" d="M469.01 599.4h1.16v15.6h-1.16zM480.23 599.4h1.16v15.6h-1.16zM482.82 599.4h1.16v15.6h-1.16zM504.41 599.4h1.16v15.6h-1.16zM519.94 599.4h1.16v15.6h-1.16zM537.21 599.4h1.16v15.6h-1.16zM561.38 599.4h1.16v15.6h-1.16zM580.37 599.4h1.16v15.6h-1.16zM598.5 599.4h1.16v15.6h-1.16zM605.4 599.4h1.16v15.6h-1.16zM609.72 599.4h1.16v15.6h-1.16z"/>
<path fill="#b9e0f5" d="M470.74 599.4h1.16v15.6h-1.16z"/>
<path fill="#d0ebf8" d="M498.36 599.4h1.16v15.6h-1.16zM589.87 599.4h1.16v15.6h-1.16z"/>
<path fill="#d6eef9" d="M513.04 599.4h1.16v15.6h-1.16zM594.18 599.4h1.16v15.6h-1.16z"/>
<path fill="#3192cf" d="M521.67 599.4h1.16v15.6h-1.16z"/>
<path fill="#b4def4" d="M525.12 599.4h1.16v15.6h-1.16zM553.61 599.4h1.16v15.6h-1.16zM585.55 599.4h1.16v15.6h-1.16z"/>
<path fill="#aedbf3" d="M551.88 599.4h1.16v15.6h-1.16zM554.47 599.4h1.16v15.6h-1.16zM588.14 599.4h1.16v15.6h-1.16zM606.27 599.4h1.16v15.6h-1.16z"/>
<path fill="#cae8f7" d="M568.28 599.4h1.16v15.6h-1.16z"/>
<line x1="550.5" y1="583.6" x2="550.5" y2="615" stroke="#123" stroke-width="0.5"/>
<rect x="396.5" y="504.4" width="218.4" height="32.4" fill="none" stroke="#222" stroke-width="0.9"/>
<line x1="396.5" y1="520.2" x2="614.9" y2="520.2" stroke="#222" stroke-width="0.9"/>
<rect x="396.5" y="544.7" width="218.4" height="31.7" fill="none" stroke="#222" stroke-width="0.9"/>
<line x1="396.5" y1="560.5" x2="614.9" y2="560.5" stroke="#222" stroke-width="0.9"/>
<rect x="396.5" y="583.6" width="218.4" height="31.4" fill="none" stroke="#222" stroke-width="0.9"/>
<line x1="396.5" y1="599.4" x2="614.9" y2="599.4" stroke="#222" stroke-width="0.9"/>
<line x1="371.4" y1="504.4" x2="371.4" y2="536.8" stroke="#231f20" stroke-width="0.9"/>
<text x="364" y="523" text-anchor="end">G7f</text>
<text x="392.8" y="515.1" text-anchor="end">RS</text>
<text x="392.8" y="531.3" text-anchor="end">Stim</text>
<line x1="371.4" y1="544.7" x2="371.4" y2="576.4" stroke="#231f20" stroke-width="0.9"/>
<text x="364" y="563.3" text-anchor="end">rACh</text>
<text x="392.8" y="555.4" text-anchor="end">RS</text>
<text x="392.8" y="571.25" text-anchor="end">Stim</text>
<line x1="371.4" y1="583.6" x2="371.4" y2="615" stroke="#231f20" stroke-width="0.9"/>
<text x="364" y="602.2" text-anchor="end">r5-HT</text>
<text x="392.8" y="594.3" text-anchor="end">RS</text>
<text x="392.8" y="610" text-anchor="end">Stim</text>
<text x="398.9" y="628" text-anchor="middle">1</text>
<text x="609.8" y="628" text-anchor="middle">253</text>
<text x="501" y="632.5" text-anchor="middle" font-size="7.8">Brain region pairs</text>
<rect x="636.4" y="482.4" width="4.5" height="17" fill="url(#mcb636)" stroke="#444" stroke-width="0.5"/>
<text x="642.9" y="487.5" font-size="7.4">1</text>
<text x="642.9" y="499.5" font-size="7.4">0</text>
<rect x="654.5" y="482.4" width="4.5" height="17" fill="url(#mcb654)" stroke="#444" stroke-width="0.5"/>
<text x="661" y="487.5" font-size="7.4">1</text>
<text x="661" y="499.5" font-size="7.4">0</text>
<rect x="673" y="482.4" width="4.5" height="17" fill="url(#mcb673)" stroke="#444" stroke-width="0.5"/>
<text x="679.5" y="487.5" font-size="7.4">1</text>
<text x="679.5" y="499.5" font-size="7.4">0</text>
<polyline points="617.1,512.3 622.1,512.3 622.1,531.1 617.1,531.1" stroke="#8a8a8a" stroke-width="0.9" fill="none"/>
<path d="M629.15,514.25 L627.53,514.85 L627.46,516.58 L626.38,515.23 L624.72,515.69 L625.67,514.25 L624.72,512.81 L626.38,513.27 L627.46,511.92 L627.53,513.65ZM629.15,519.15 L627.53,519.75 L627.46,521.48 L626.38,520.13 L624.72,520.59 L625.67,519.15 L624.72,517.71 L626.38,518.17 L627.46,516.82 L627.53,518.55ZM629.15,524.05 L627.53,524.65 L627.46,526.38 L626.38,525.03 L624.72,525.49 L625.67,524.05 L624.72,522.61 L626.38,523.07 L627.46,521.72 L627.53,523.45ZM629.15,528.95 L627.53,529.55 L627.46,531.28 L626.38,529.93 L624.72,530.39 L625.67,528.95 L624.72,527.51 L626.38,527.97 L627.46,526.62 L627.53,528.35Z" fill="#222"/>
<polyline points="617.1,551.5 622.1,551.5 622.1,569.6 617.1,569.6" stroke="#8a8a8a" stroke-width="0.9" fill="none"/>
<path d="M629.15,553.15 L627.53,553.75 L627.46,555.48 L626.38,554.13 L624.72,554.59 L625.67,553.15 L624.72,551.71 L626.38,552.17 L627.46,550.82 L627.53,552.55ZM629.15,558.05 L627.53,558.65 L627.46,560.38 L626.38,559.03 L624.72,559.49 L625.67,558.05 L624.72,556.61 L626.38,557.07 L627.46,555.72 L627.53,557.45ZM629.15,562.95 L627.53,563.55 L627.46,565.28 L626.38,563.93 L624.72,564.39 L625.67,562.95 L624.72,561.51 L626.38,561.97 L627.46,560.62 L627.53,562.35ZM629.15,567.85 L627.53,568.45 L627.46,570.18 L626.38,568.83 L624.72,569.29 L625.67,567.85 L624.72,566.41 L626.38,566.87 L627.46,565.52 L627.53,567.25Z" fill="#222"/>
<polyline points="617.1,589.5 622.1,589.5 622.1,606.9 617.1,606.9" stroke="#8a8a8a" stroke-width="0.9" fill="none"/>
<path d="M629.15,590.85 L627.53,591.45 L627.46,593.18 L626.38,591.83 L624.72,592.29 L625.67,590.85 L624.72,589.41 L626.38,589.87 L627.46,588.52 L627.53,590.25ZM629.15,595.75 L627.53,596.35 L627.46,598.08 L626.38,596.73 L624.72,597.19 L625.67,595.75 L624.72,594.31 L626.38,594.77 L627.46,593.42 L627.53,595.15ZM629.15,600.65 L627.53,601.25 L627.46,602.98 L626.38,601.63 L624.72,602.09 L625.67,600.65 L624.72,599.21 L626.38,599.67 L627.46,598.32 L627.53,600.05ZM629.15,605.55 L627.53,606.15 L627.46,607.88 L626.38,606.53 L624.72,606.99 L625.67,605.55 L624.72,604.11 L626.38,604.57 L627.46,603.22 L627.53,604.95Z" fill="#222"/>
<polyline points="631.4,512.3 636.4,512.3 636.4,551 631.4,551" stroke="#8a8a8a" stroke-width="0.9" fill="none"/>
<path d="M643.35,526.05 L641.73,526.65 L641.66,528.38 L640.58,527.03 L638.92,527.49 L639.87,526.05 L638.92,524.61 L640.58,525.07 L641.66,523.72 L641.73,525.45ZM643.35,530.95 L641.73,531.55 L641.66,533.28 L640.58,531.93 L638.92,532.39 L639.87,530.95 L638.92,529.51 L640.58,529.97 L641.66,528.62 L641.73,530.35ZM643.35,535.85 L641.73,536.45 L641.66,538.18 L640.58,536.83 L638.92,537.29 L639.87,535.85 L638.92,534.41 L640.58,534.87 L641.66,533.52 L641.73,535.25ZM643.35,540.75 L641.73,541.35 L641.66,543.08 L640.58,541.73 L638.92,542.19 L639.87,540.75 L638.92,539.31 L640.58,539.77 L641.66,538.42 L641.73,540.15Z" fill="#222"/>
<polyline points="639.1,551 644.1,551 644.1,589.5 639.1,589.5" stroke="#8a8a8a" stroke-width="0.9" fill="none"/>
<path d="M650.35,563.35 L648.73,563.95 L648.66,565.68 L647.58,564.33 L645.92,564.79 L646.87,563.35 L645.92,561.91 L647.58,562.37 L648.66,561.02 L648.73,562.75ZM650.35,568.25 L648.73,568.85 L648.66,570.58 L647.58,569.23 L645.92,569.69 L646.87,568.25 L645.92,566.81 L647.58,567.27 L648.66,565.92 L648.73,567.65ZM650.35,573.15 L648.73,573.75 L648.66,575.48 L647.58,574.13 L645.92,574.59 L646.87,573.15 L645.92,571.71 L647.58,572.17 L648.66,570.82 L648.73,572.55ZM650.35,578.05 L648.73,578.65 L648.66,580.38 L647.58,579.03 L645.92,579.49 L646.87,578.05 L645.92,576.61 L647.58,577.07 L648.66,575.72 L648.73,577.45Z" fill="#222"/>
<polyline points="647.7,512.3 652.7,512.3 652.7,589.5 647.7,589.5" stroke="#8a8a8a" stroke-width="0.9" fill="none"/>
<path d="M660.35,544.15 L658.73,544.75 L658.66,546.48 L657.58,545.13 L655.92,545.59 L656.87,544.15 L655.92,542.71 L657.58,543.17 L658.66,541.82 L658.73,543.55ZM660.35,549.05 L658.73,549.65 L658.66,551.38 L657.58,550.03 L655.92,550.49 L656.87,549.05 L655.92,547.61 L657.58,548.07 L658.66,546.72 L658.73,548.45ZM660.35,553.95 L658.73,554.55 L658.66,556.28 L657.58,554.93 L655.92,555.39 L656.87,553.95 L655.92,552.51 L657.58,552.97 L658.66,551.62 L658.73,553.35ZM660.35,558.85 L658.73,559.45 L658.66,561.18 L657.58,559.83 L655.92,560.29 L656.87,558.85 L655.92,557.41 L657.58,557.87 L658.66,556.52 L658.73,558.25Z" fill="#222"/>
<polyline points="655.6,569.6 660.6,569.6 660.6,606.9 655.6,606.9" stroke="#8a8a8a" stroke-width="0.9" fill="none"/>
<path d="M667.35,581.45 L665.73,582.05 L665.66,583.78 L664.58,582.43 L662.92,582.89 L663.87,581.45 L662.92,580.01 L664.58,580.47 L665.66,579.12 L665.73,580.85ZM667.35,586.35 L665.73,586.95 L665.66,588.68 L664.58,587.33 L662.92,587.79 L663.87,586.35 L662.92,584.91 L664.58,585.37 L665.66,584.02 L665.73,585.75ZM667.35,591.25 L665.73,591.85 L665.66,593.58 L664.58,592.23 L662.92,592.69 L663.87,591.25 L662.92,589.81 L664.58,590.27 L665.66,588.92 L665.73,590.65ZM667.35,596.15 L665.73,596.75 L665.66,598.48 L664.58,597.13 L662.92,597.59 L663.87,596.15 L662.92,594.71 L664.58,595.17 L665.66,593.82 L665.73,595.55Z" fill="#222"/>
<polyline points="663.5,531.1 668.5,531.1 668.5,569.6 663.5,569.6" stroke="#8a8a8a" stroke-width="0.9" fill="none"/>
<path d="M674.85,541.85 L673.23,542.45 L673.16,544.18 L672.08,542.83 L670.42,543.29 L671.37,541.85 L670.42,540.41 L672.08,540.87 L673.16,539.52 L673.23,541.25ZM674.85,546.75 L673.23,547.35 L673.16,549.08 L672.08,547.73 L670.42,548.19 L671.37,546.75 L670.42,545.31 L672.08,545.77 L673.16,544.42 L673.23,546.15ZM674.85,551.65 L673.23,552.25 L673.16,553.98 L672.08,552.63 L670.42,553.09 L671.37,551.65 L670.42,550.21 L672.08,550.67 L673.16,549.32 L673.23,551.05ZM674.85,556.55 L673.23,557.15 L673.16,558.88 L672.08,557.53 L670.42,557.99 L671.37,556.55 L670.42,555.11 L672.08,555.57 L673.16,554.22 L673.23,555.95Z" fill="#222"/>
<polyline points="672.6,531.1 677.6,531.1 677.6,606.9 672.6,606.9" stroke="#8a8a8a" stroke-width="0.9" fill="none"/>
<path d="M684.85,562.25 L683.23,562.85 L683.16,564.58 L682.08,563.23 L680.42,563.69 L681.37,562.25 L680.42,560.81 L682.08,561.27 L683.16,559.92 L683.23,561.65ZM684.85,567.15 L683.23,567.75 L683.16,569.48 L682.08,568.13 L680.42,568.59 L681.37,567.15 L680.42,565.71 L682.08,566.17 L683.16,564.82 L683.23,566.55ZM684.85,572.05 L683.23,572.65 L683.16,574.38 L682.08,573.03 L680.42,573.49 L681.37,572.05 L680.42,570.61 L682.08,571.07 L683.16,569.72 L683.23,571.45ZM684.85,576.95 L683.23,577.55 L683.16,579.28 L682.08,577.93 L680.42,578.39 L681.37,576.95 L680.42,575.51 L682.08,575.97 L683.16,574.62 L683.23,576.35Z" fill="#222"/>
<line x1="371.5" y1="660" x2="371.5" y2="777.3" stroke="#231f20" stroke-width="0.9"/>
<line x1="371.5" y1="777.3" x2="668" y2="777.3" stroke="#231f20" stroke-width="0.9"/>
<line x1="368.5" y1="773.7" x2="371.5" y2="773.7" stroke="#231f20" stroke-width="0.8"/>
<text x="365.5" y="776.5" text-anchor="end">0</text>
<line x1="368.5" y1="736.23" x2="371.5" y2="736.23" stroke="#231f20" stroke-width="0.8"/>
<text x="365.5" y="739.03" text-anchor="end">10</text>
<line x1="368.5" y1="698.76" x2="371.5" y2="698.76" stroke="#231f20" stroke-width="0.8"/>
<text x="365.5" y="701.56" text-anchor="end">20</text>
<line x1="368.5" y1="661.29" x2="371.5" y2="661.29" stroke="#231f20" stroke-width="0.8"/>
<text x="365.5" y="664.09" text-anchor="end">30</text>
<text x="352.3" y="719" text-anchor="middle" transform="rotate(-90 352.3 719)">Degree distribution</text>
<text x="445.6" y="789.5" text-anchor="middle">RS</text>
<text x="591" y="789.5" text-anchor="middle">Stim</text>
<path d="M406.7,705.4 L407.3,706.41 L407.33,707.42 L407.94,708.44 L408.84,709.45 L410.07,710.46 L411.65,711.48 L413.52,712.49 L415.56,713.5 L417.58,714.51 L419.34,715.52 L420.6,716.54 L421.18,717.55 L421.16,718.56 L420.97,719.57 L420.63,720.59 L420.16,721.6 L419.56,722.61 L418.87,723.62 L418.09,724.64 L417.24,725.65 L416.35,726.66 L415.44,727.67 L414.53,728.69 L413.64,729.7 L412.78,730.71 L411.96,731.73 L411.2,732.74 L410.5,733.75 L409.87,734.76 L409.3,735.77 L408.81,736.79 L408.38,737.8 L408.01,738.81 L407.69,739.82 L407.43,740.84 L407.3,741.85 L407.3,742.86 L407.3,743.88 L407.3,744.89 L406.7,745.9 L406.7,745.9 L406.1,744.89 L406.1,743.88 L406.1,742.86 L406.1,741.85 L405.97,740.84 L405.71,739.82 L405.39,738.81 L405.02,737.8 L404.59,736.79 L404.1,735.77 L403.53,734.76 L402.9,733.75 L402.2,732.74 L401.44,731.73 L400.62,730.71 L399.76,729.7 L398.87,728.69 L397.96,727.67 L397.05,726.66 L396.16,725.65 L395.31,724.64 L394.53,723.62 L393.84,722.61 L393.24,721.6 L392.77,720.59 L392.43,719.57 L392.24,718.56 L392.22,717.55 L392.8,716.54 L394.06,715.52 L395.82,714.51 L397.84,713.5 L399.88,712.49 L401.75,711.48 L403.33,710.46 L404.56,709.45 L405.46,708.44 L406.07,707.42 L406.1,706.41 L406.7,705.4Z" fill="#fff" stroke="#2a8c50" stroke-width="1.05" stroke-linejoin="round"/>
<line x1="406.7" y1="711.7" x2="406.7" y2="734.8" stroke="#555" stroke-width="1.3"/>
<circle cx="406.7" cy="718.5" r="0.9" fill="#ddd"/>
<path d="M445.6,724.9 L446.2,725.54 L446.2,726.18 L446.51,726.83 L447.08,727.47 L447.82,728.11 L448.77,728.75 L449.94,729.4 L451.35,730.04 L452.97,730.68 L454.76,731.33 L456.68,731.97 L458.63,732.61 L460.52,733.25 L462.22,733.89 L463.64,734.54 L464.66,735.18 L465.21,735.82 L465.27,736.47 L464.98,737.11 L464.39,737.75 L463.52,738.39 L462.42,739.03 L461.12,739.68 L459.7,740.32 L458.19,740.96 L456.65,741.61 L455.14,742.25 L453.7,742.89 L452.35,743.53 L451.12,744.17 L450.02,744.82 L449.07,745.46 L448.26,746.1 L447.58,746.75 L447.03,747.39 L446.58,748.03 L446.23,748.67 L446.2,749.32 L446.2,749.96 L445.6,750.6 L445.6,750.6 L445,749.96 L445,749.32 L444.97,748.67 L444.62,748.03 L444.17,747.39 L443.62,746.75 L442.94,746.1 L442.13,745.46 L441.18,744.82 L440.08,744.17 L438.85,743.53 L437.5,742.89 L436.06,742.25 L434.55,741.61 L433.01,740.96 L431.5,740.32 L430.08,739.68 L428.78,739.03 L427.68,738.39 L426.81,737.75 L426.22,737.11 L425.93,736.47 L425.99,735.82 L426.54,735.18 L427.56,734.54 L428.98,733.89 L430.68,733.25 L432.57,732.61 L434.52,731.97 L436.44,731.33 L438.23,730.68 L439.85,730.04 L441.26,729.4 L442.43,728.75 L443.38,728.11 L444.12,727.47 L444.69,726.83 L445,726.18 L445,725.54 L445.6,724.9Z" fill="#fff" stroke="#9a4fa6" stroke-width="1.05" stroke-linejoin="round"/>
<line x1="445.6" y1="728.5" x2="445.6" y2="748" stroke="#555" stroke-width="1.3"/>
<circle cx="445.6" cy="737" r="0.9" fill="#ddd"/>
<path d="M484.5,727 L485.1,727.99 L485.1,728.97 L485.1,729.96 L485.32,730.94 L485.7,731.92 L486.18,732.91 L486.77,733.89 L487.47,734.88 L488.3,735.87 L489.25,736.85 L490.3,737.84 L491.44,738.82 L492.64,739.8 L493.85,740.79 L495.04,741.77 L496.16,742.76 L497.14,743.75 L497.96,744.73 L498.56,745.72 L498.91,746.7 L498.99,747.68 L498.78,748.67 L498.25,749.65 L497.46,750.64 L496.44,751.62 L495.26,752.61 L493.97,753.6 L492.66,754.58 L491.36,755.56 L490.13,756.55 L489.01,757.53 L488.02,758.52 L487.17,759.5 L486.46,760.49 L485.89,761.48 L485.43,762.46 L485.1,763.44 L485.1,764.43 L485.1,765.41 L484.5,766.4 L484.5,766.4 L483.9,765.41 L483.9,764.43 L483.9,763.44 L483.57,762.46 L483.11,761.48 L482.54,760.49 L481.83,759.5 L480.98,758.52 L479.99,757.53 L478.87,756.55 L477.64,755.56 L476.34,754.58 L475.03,753.6 L473.74,752.61 L472.56,751.62 L471.54,750.64 L470.75,749.65 L470.22,748.67 L470.01,747.68 L470.09,746.7 L470.44,745.72 L471.04,744.73 L471.86,743.75 L472.84,742.76 L473.96,741.77 L475.15,740.79 L476.36,739.8 L477.56,738.82 L478.7,737.84 L479.75,736.85 L480.7,735.87 L481.53,734.88 L482.23,733.89 L482.82,732.91 L483.3,731.92 L483.68,730.94 L483.9,729.96 L483.9,728.97 L483.9,727.99 L484.5,727Z" fill="#fff" stroke="#2f82c3" stroke-width="1.05" stroke-linejoin="round"/>
<line x1="484.5" y1="733.5" x2="484.5" y2="760" stroke="#555" stroke-width="1.3"/>
<circle cx="484.5" cy="747" r="0.9" fill="#ddd"/>
<path d="M552.7,700.6 L553.3,701.51 L553.59,702.43 L554.46,703.34 L555.76,704.25 L557.54,705.16 L559.81,706.08 L562.47,706.99 L565.32,707.9 L568.05,708.81 L570.29,709.73 L571.71,710.64 L572.1,711.55 L571.97,712.46 L571.64,713.38 L571.13,714.29 L570.45,715.2 L569.61,716.11 L568.65,717.02 L567.59,717.94 L566.46,718.85 L565.28,719.76 L564.08,720.68 L562.88,721.59 L561.71,722.5 L560.59,723.41 L559.52,724.33 L558.54,725.24 L557.63,726.15 L556.81,727.06 L556.08,727.98 L555.44,728.89 L554.88,729.8 L554.4,730.71 L554,731.62 L553.66,732.54 L553.38,733.45 L553.3,734.36 L553.3,735.27 L553.3,736.19 L552.7,737.1 L552.7,737.1 L552.1,736.19 L552.1,735.27 L552.1,734.36 L552.02,733.45 L551.74,732.54 L551.4,731.62 L551,730.71 L550.52,729.8 L549.96,728.89 L549.32,727.98 L548.59,727.06 L547.77,726.15 L546.86,725.24 L545.88,724.33 L544.81,723.41 L543.69,722.5 L542.52,721.59 L541.32,720.68 L540.12,719.76 L538.94,718.85 L537.81,717.94 L536.75,717.02 L535.79,716.11 L534.95,715.2 L534.27,714.29 L533.76,713.38 L533.43,712.46 L533.3,711.55 L533.69,710.64 L535.11,709.73 L537.35,708.81 L540.08,707.9 L542.93,706.99 L545.59,706.08 L547.86,705.16 L549.64,704.25 L550.94,703.34 L551.81,702.43 L552.1,701.51 L552.7,700.6Z" fill="#fff" stroke="#2a8c50" stroke-width="1.05" stroke-linejoin="round"/>
<line x1="552.7" y1="705" x2="552.7" y2="723" stroke="#555" stroke-width="1.3"/>
<circle cx="552.7" cy="711.5" r="0.9" fill="#ddd"/>
<path d="M591.8,711.2 L592.4,712.19 L592.46,713.17 L593.06,714.16 L593.92,715.14 L595.09,716.12 L596.6,717.11 L598.44,718.1 L600.56,719.08 L602.85,720.07 L605.12,721.05 L607.19,722.04 L608.84,723.02 L609.88,724 L610.2,724.99 L610.07,725.98 L609.72,726.96 L609.18,727.95 L608.44,728.93 L607.55,729.92 L606.53,730.9 L605.4,731.88 L604.21,732.87 L602.99,733.86 L601.76,734.84 L600.55,735.83 L599.4,736.81 L598.31,737.8 L597.31,738.78 L596.48,739.76 L595.93,740.75 L595.85,741.74 L596.23,742.72 L596.62,743.71 L596.36,744.69 L595.3,745.68 L593.94,746.66 L592.87,747.64 L592.4,748.63 L592.4,749.62 L591.81,750.6 L591.79,750.6 L591.2,749.62 L591.2,748.63 L590.73,747.64 L589.66,746.66 L588.3,745.68 L587.24,744.69 L586.98,743.71 L587.37,742.72 L587.75,741.74 L587.67,740.75 L587.12,739.76 L586.29,738.78 L585.29,737.8 L584.2,736.81 L583.05,735.83 L581.84,734.84 L580.61,733.86 L579.39,732.87 L578.2,731.88 L577.07,730.9 L576.05,729.92 L575.16,728.93 L574.42,727.95 L573.88,726.96 L573.53,725.98 L573.4,724.99 L573.72,724 L574.76,723.02 L576.41,722.04 L578.48,721.05 L580.75,720.07 L583.04,719.08 L585.16,718.1 L587,717.11 L588.51,716.12 L589.68,715.14 L590.54,714.16 L591.14,713.17 L591.2,712.19 L591.8,711.2Z" fill="#fff" stroke="#9a4fa6" stroke-width="1.05" stroke-linejoin="round"/>
<line x1="591.8" y1="715" x2="591.8" y2="742" stroke="#555" stroke-width="1.3"/>
<circle cx="591.8" cy="725" r="0.9" fill="#ddd"/>
<path d="M631,721.4 L631.6,722.6 L631.6,723.79 L632.06,724.99 L632.8,726.18 L633.81,727.38 L635.12,728.57 L636.7,729.76 L638.47,730.96 L640.33,732.15 L642.09,733.35 L643.57,734.54 L644.58,735.74 L644.99,736.93 L644.94,738.13 L644.73,739.33 L644.37,740.52 L643.87,741.72 L643.25,742.91 L642.53,744.11 L641.72,745.3 L640.86,746.5 L639.97,747.69 L639.06,748.88 L638.15,750.08 L637.28,751.27 L636.44,752.47 L635.65,753.66 L634.93,754.86 L634.27,756.06 L633.69,757.25 L633.17,758.45 L632.72,759.64 L632.34,760.84 L632.02,762.03 L631.75,763.23 L631.6,764.42 L631.6,765.62 L631.6,766.81 L631.6,768 L631,769.2 L631,769.2 L630.4,768 L630.4,766.81 L630.4,765.62 L630.4,764.42 L630.25,763.23 L629.98,762.03 L629.66,760.84 L629.28,759.64 L628.83,758.45 L628.31,757.25 L627.73,756.06 L627.07,754.86 L626.35,753.66 L625.56,752.47 L624.72,751.27 L623.85,750.08 L622.94,748.88 L622.03,747.69 L621.14,746.5 L620.28,745.3 L619.47,744.11 L618.75,742.91 L618.13,741.72 L617.63,740.52 L617.27,739.33 L617.06,738.13 L617.01,736.93 L617.42,735.74 L618.43,734.54 L619.91,733.35 L621.67,732.15 L623.53,730.96 L625.3,729.76 L626.88,728.57 L628.19,727.38 L629.2,726.18 L629.94,724.99 L630.4,723.79 L630.4,722.6 L631,721.4Z" fill="#fff" stroke="#2f82c3" stroke-width="1.05" stroke-linejoin="round"/>
<line x1="631" y1="729" x2="631" y2="753" stroke="#555" stroke-width="1.3"/>
<circle cx="631" cy="738.5" r="0.9" fill="#ddd"/>
<polyline points="406.7,698.8 406.7,694.6 445.6,694.6 445.6,698.8" stroke="#444" stroke-width="0.8" fill="none"/>
<path d="M418.45,688.5 L419.02,690.02 L420.64,690.09 L419.37,691.1 L419.8,692.66 L418.45,691.77 L417.1,692.66 L417.53,691.1 L416.26,690.09 L417.88,690.02ZM423.75,688.5 L424.32,690.02 L425.94,690.09 L424.67,691.1 L425.1,692.66 L423.75,691.77 L422.4,692.66 L422.83,691.1 L421.56,690.09 L423.18,690.02ZM429.05,688.5 L429.62,690.02 L431.24,690.09 L429.97,691.1 L430.4,692.66 L429.05,691.77 L427.7,692.66 L428.13,691.1 L426.86,690.09 L428.48,690.02ZM434.35,688.5 L434.92,690.02 L436.54,690.09 L435.27,691.1 L435.7,692.66 L434.35,691.77 L433,692.66 L433.43,691.1 L432.16,690.09 L433.78,690.02Z" fill="#222"/>
<polyline points="445.6,692.3 445.6,688.1 484.5,688.1 484.5,692.3" stroke="#444" stroke-width="0.8" fill="none"/>
<path d="M456.55,682 L457.12,683.52 L458.74,683.59 L457.47,684.6 L457.9,686.16 L456.55,685.27 L455.2,686.16 L455.63,684.6 L454.36,683.59 L455.98,683.52ZM461.85,682 L462.42,683.52 L464.04,683.59 L462.77,684.6 L463.2,686.16 L461.85,685.27 L460.5,686.16 L460.93,684.6 L459.66,683.59 L461.28,683.52ZM467.15,682 L467.72,683.52 L469.34,683.59 L468.07,684.6 L468.5,686.16 L467.15,685.27 L465.8,686.16 L466.23,684.6 L464.96,683.59 L466.58,683.52ZM472.45,682 L473.02,683.52 L474.64,683.59 L473.37,684.6 L473.8,686.16 L472.45,685.27 L471.1,686.16 L471.53,684.6 L470.26,683.59 L471.88,683.52Z" fill="#222"/>
<polyline points="406.7,682.6 406.7,678.4 484.5,678.4 484.5,682.6" stroke="#444" stroke-width="0.8" fill="none"/>
<path d="M436.35,672.3 L436.92,673.82 L438.54,673.89 L437.27,674.9 L437.7,676.46 L436.35,675.57 L435,676.46 L435.43,674.9 L434.16,673.89 L435.78,673.82ZM441.65,672.3 L442.22,673.82 L443.84,673.89 L442.57,674.9 L443,676.46 L441.65,675.57 L440.3,676.46 L440.73,674.9 L439.46,673.89 L441.08,673.82ZM446.95,672.3 L447.52,673.82 L449.14,673.89 L447.87,674.9 L448.3,676.46 L446.95,675.57 L445.6,676.46 L446.03,674.9 L444.76,673.89 L446.38,673.82ZM452.25,672.3 L452.82,673.82 L454.44,673.89 L453.17,674.9 L453.6,676.46 L452.25,675.57 L450.9,676.46 L451.33,674.9 L450.06,673.89 L451.68,673.82Z" fill="#222"/>
<polyline points="406.7,673.4 406.7,669.2 552.1,669.2 552.1,673.4" stroke="#444" stroke-width="0.8" fill="none"/>
<path d="M477.5,663.1 L478.07,664.62 L479.69,664.69 L478.42,665.7 L478.85,667.26 L477.5,666.37 L476.15,667.26 L476.58,665.7 L475.31,664.69 L476.93,664.62ZM482.8,663.1 L483.37,664.62 L484.99,664.69 L483.72,665.7 L484.15,667.26 L482.8,666.37 L481.45,667.26 L481.88,665.7 L480.61,664.69 L482.23,664.62ZM488.1,663.1 L488.67,664.62 L490.29,664.69 L489.02,665.7 L489.45,667.26 L488.1,666.37 L486.75,667.26 L487.18,665.7 L485.91,664.69 L487.53,664.62Z" fill="#222"/>
<polyline points="445.6,664 445.6,659.8 592.6,659.8 592.6,664" stroke="#444" stroke-width="0.8" fill="none"/>
<path d="M512.35,653.7 L512.92,655.22 L514.54,655.29 L513.27,656.3 L513.7,657.86 L512.35,656.97 L511,657.86 L511.43,656.3 L510.16,655.29 L511.78,655.22ZM517.65,653.7 L518.22,655.22 L519.84,655.29 L518.57,656.3 L519,657.86 L517.65,656.97 L516.3,657.86 L516.73,656.3 L515.46,655.29 L517.08,655.22ZM522.95,653.7 L523.52,655.22 L525.14,655.29 L523.87,656.3 L524.3,657.86 L522.95,656.97 L521.6,657.86 L522.03,656.3 L520.76,655.29 L522.38,655.22ZM528.25,653.7 L528.82,655.22 L530.44,655.29 L529.17,656.3 L529.6,657.86 L528.25,656.97 L526.9,657.86 L527.33,656.3 L526.06,655.29 L527.68,655.22Z" fill="#222"/>
<polyline points="484.5,654.8 484.5,650.6 631.5,650.6 631.5,654.8" stroke="#444" stroke-width="0.8" fill="none"/>
<path d="M547.4,644.5 L547.97,646.02 L549.59,646.09 L548.32,647.1 L548.75,648.66 L547.4,647.77 L546.05,648.66 L546.48,647.1 L545.21,646.09 L546.83,646.02ZM552.7,644.5 L553.27,646.02 L554.89,646.09 L553.62,647.1 L554.05,648.66 L552.7,647.77 L551.35,648.66 L551.78,647.1 L550.51,646.09 L552.13,646.02ZM558,644.5 L558.57,646.02 L560.19,646.09 L558.92,647.1 L559.35,648.66 L558,647.77 L556.65,648.66 L557.08,647.1 L555.81,646.09 L557.43,646.02Z" fill="#222"/>
<polyline points="552.7,681.6 552.7,677.4 631.5,677.4 631.5,681.6" stroke="#444" stroke-width="0.8" fill="none"/>
<path d="M582.55,671.3 L583.12,672.82 L584.74,672.89 L583.47,673.9 L583.9,675.46 L582.55,674.57 L581.2,675.46 L581.63,673.9 L580.36,672.89 L581.98,672.82ZM587.85,671.3 L588.42,672.82 L590.04,672.89 L588.77,673.9 L589.2,675.46 L587.85,674.57 L586.5,675.46 L586.93,673.9 L585.66,672.89 L587.28,672.82ZM593.15,671.3 L593.72,672.82 L595.34,672.89 L594.07,673.9 L594.5,675.46 L593.15,674.57 L591.8,675.46 L592.23,673.9 L590.96,672.89 L592.58,672.82ZM598.45,671.3 L599.02,672.82 L600.64,672.89 L599.37,673.9 L599.8,675.46 L598.45,674.57 L597.1,675.46 L597.53,673.9 L596.26,672.89 L597.88,672.82Z" fill="#222"/>
<polyline points="591.8,691.9 591.8,687.7 631.5,687.7 631.5,691.9" stroke="#444" stroke-width="0.8" fill="none"/>
<path d="M604.15,681.6 L604.72,683.12 L606.34,683.19 L605.07,684.2 L605.5,685.76 L604.15,684.87 L602.8,685.76 L603.23,684.2 L601.96,683.19 L603.58,683.12ZM609.45,681.6 L610.02,683.12 L611.64,683.19 L610.37,684.2 L610.8,685.76 L609.45,684.87 L608.1,685.76 L608.53,684.2 L607.26,683.19 L608.88,683.12ZM614.75,681.6 L615.32,683.12 L616.94,683.19 L615.67,684.2 L616.1,685.76 L614.75,684.87 L613.4,685.76 L613.83,684.2 L612.56,683.19 L614.18,683.12ZM620.05,681.6 L620.62,683.12 L622.24,683.19 L620.97,684.2 L621.4,685.76 L620.05,684.87 L618.7,685.76 L619.13,684.2 L617.86,683.19 L619.48,683.12Z" fill="#222"/>
<polyline points="552.7,698.1 552.7,693.9 591.8,693.9 591.8,698.1" stroke="#444" stroke-width="0.8" fill="none"/>
<path d="M564.45,687.8 L565.02,689.32 L566.64,689.39 L565.37,690.4 L565.8,691.96 L564.45,691.07 L563.1,691.96 L563.53,690.4 L562.26,689.39 L563.88,689.32ZM569.75,687.8 L570.32,689.32 L571.94,689.39 L570.67,690.4 L571.1,691.96 L569.75,691.07 L568.4,691.96 L568.83,690.4 L567.56,689.39 L569.18,689.32ZM575.05,687.8 L575.62,689.32 L577.24,689.39 L575.97,690.4 L576.4,691.96 L575.05,691.07 L573.7,691.96 L574.13,690.4 L572.86,689.39 L574.48,689.32ZM580.35,687.8 L580.92,689.32 L582.54,689.39 L581.27,690.4 L581.7,691.96 L580.35,691.07 L579,691.96 L579.43,690.4 L578.16,689.39 L579.78,689.32Z" fill="#222"/>
<line x1="658.5" y1="638.2" x2="683.1" y2="638.2" stroke="#2a8c50" stroke-width="1.4"/>
<text x="671.5" y="650" text-anchor="middle">G7f</text>
<line x1="658.5" y1="658.8" x2="683.1" y2="658.8" stroke="#9a4fa6" stroke-width="1.4"/>
<text x="671.5" y="670.2" text-anchor="middle">rACh</text>
<line x1="658.5" y1="678.2" x2="683.1" y2="678.2" stroke="#2f82c3" stroke-width="1.4"/>
<text x="671.5" y="689.1" text-anchor="middle">r5-HT</text>
<line x1="372.6" y1="810.4" x2="372.6" y2="899.2" stroke="#231f20" stroke-width="0.9"/>
<line x1="372.6" y1="899.2" x2="446.9" y2="899.2" stroke="#231f20" stroke-width="0.9"/>
<line x1="369.6" y1="812.1" x2="372.6" y2="812.1" stroke="#231f20" stroke-width="0.8"/>
<text x="367.6" y="814.9" text-anchor="end">0.7</text>
<line x1="369.6" y1="898.9" x2="372.6" y2="898.9" stroke="#231f20" stroke-width="0.8"/>
<text x="367.6" y="901.7" text-anchor="end">0.3</text>
<line x1="377.3" y1="859.1" x2="443.5" y2="853.43" stroke="#d9dcdc" stroke-width="0.7"/>
<line x1="377.3" y1="860.03" x2="443.5" y2="858.12" stroke="#d9dcdc" stroke-width="0.7"/>
<line x1="377.3" y1="859.71" x2="443.5" y2="846.21" stroke="#d9dcdc" stroke-width="0.7"/>
<line x1="377.3" y1="848.96" x2="443.5" y2="849.38" stroke="#d9dcdc" stroke-width="0.7"/>
<line x1="377.3" y1="845.89" x2="443.5" y2="852.66" stroke="#d9dcdc" stroke-width="0.7"/>
<line x1="377.3" y1="849.03" x2="443.5" y2="854.05" stroke="#d9dcdc" stroke-width="0.7"/>
<line x1="377.3" y1="843.15" x2="443.5" y2="846.21" stroke="#d9dcdc" stroke-width="0.7"/>
<line x1="377.3" y1="850.5" x2="443.5" y2="850.69" stroke="#d9dcdc" stroke-width="0.7"/>
<line x1="377.3" y1="856.84" x2="443.5" y2="857.59" stroke="#d9dcdc" stroke-width="0.7"/>
<line x1="377.3" y1="862.78" x2="443.5" y2="852.28" stroke="#d9dcdc" stroke-width="0.7"/>
<line x1="377.3" y1="854.16" x2="443.5" y2="855.98" stroke="#d9dcdc" stroke-width="0.7"/>
<line x1="377.3" y1="854.13" x2="443.5" y2="849.17" stroke="#d9dcdc" stroke-width="0.7"/>
<line x1="377.3" y1="872.49" x2="443.5" y2="861.09" stroke="#d9dcdc" stroke-width="0.7"/>
<line x1="377.3" y1="868.99" x2="443.5" y2="854.57" stroke="#d9dcdc" stroke-width="0.7"/>
<line x1="377.3" y1="855.49" x2="443.5" y2="862.44" stroke="#d9dcdc" stroke-width="0.7"/>
<line x1="377.3" y1="854.28" x2="443.5" y2="857.38" stroke="#d9dcdc" stroke-width="0.7"/>
<line x1="377.3" y1="848.6" x2="443.5" y2="867.55" stroke="#d9dcdc" stroke-width="0.7"/>
<line x1="377.3" y1="864.08" x2="443.5" y2="856.69" stroke="#d9dcdc" stroke-width="0.7"/>
<line x1="377.3" y1="857.5" x2="443.5" y2="858" stroke="#2a8c50" stroke-width="1.1"/>
<line x1="377.3" y1="855.2" x2="377.3" y2="859.8" stroke="#2a8c50" stroke-width="0.9"/>
<line x1="375.7" y1="855.2" x2="378.9" y2="855.2" stroke="#2a8c50" stroke-width="0.9"/>
<line x1="375.7" y1="859.8" x2="378.9" y2="859.8" stroke="#2a8c50" stroke-width="0.9"/>
<line x1="443.5" y1="856.4" x2="443.5" y2="859.6" stroke="#2a8c50" stroke-width="0.9"/>
<line x1="441.9" y1="856.4" x2="445.1" y2="856.4" stroke="#2a8c50" stroke-width="0.9"/>
<line x1="441.9" y1="859.6" x2="445.1" y2="859.6" stroke="#2a8c50" stroke-width="0.9"/>
<text x="377.3" y="912.5" text-anchor="middle">RS</text>
<text x="441.5" y="912.5" text-anchor="middle">Stim</text>
<polyline points="375.2,809.4 375.2,806 444.5,806 444.5,809.4" stroke="#444" stroke-width="0.8" fill="none"/>
<text x="409.3" y="803" text-anchor="middle" font-size="8.2">ns</text>
<line x1="475.8" y1="810.4" x2="475.8" y2="899.2" stroke="#231f20" stroke-width="0.9"/>
<line x1="475.8" y1="899.2" x2="555.3" y2="899.2" stroke="#231f20" stroke-width="0.9"/>
<line x1="472.8" y1="812.1" x2="475.8" y2="812.1" stroke="#231f20" stroke-width="0.8"/>
<text x="470.8" y="814.9" text-anchor="end">0.7</text>
<line x1="472.8" y1="898.9" x2="475.8" y2="898.9" stroke="#231f20" stroke-width="0.8"/>
<text x="470.8" y="901.7" text-anchor="end">0.3</text>
<line x1="479.7" y1="868.79" x2="547.1" y2="856.64" stroke="#d9dcdc" stroke-width="0.7"/>
<line x1="479.7" y1="872.18" x2="547.1" y2="862.01" stroke="#d9dcdc" stroke-width="0.7"/>
<line x1="479.7" y1="865.13" x2="547.1" y2="862.34" stroke="#d9dcdc" stroke-width="0.7"/>
<line x1="479.7" y1="883" x2="547.1" y2="865.27" stroke="#d9dcdc" stroke-width="0.7"/>
<line x1="479.7" y1="864.53" x2="547.1" y2="857.25" stroke="#d9dcdc" stroke-width="0.7"/>
<line x1="479.7" y1="872.78" x2="547.1" y2="858.93" stroke="#d9dcdc" stroke-width="0.7"/>
<line x1="479.7" y1="860.59" x2="547.1" y2="864.88" stroke="#d9dcdc" stroke-width="0.7"/>
<line x1="479.7" y1="858.99" x2="547.1" y2="849.18" stroke="#d9dcdc" stroke-width="0.7"/>
<line x1="479.7" y1="866.9" x2="547.1" y2="860.27" stroke="#d9dcdc" stroke-width="0.7"/>
<line x1="479.7" y1="857.88" x2="547.1" y2="848.26" stroke="#d9dcdc" stroke-width="0.7"/>
<line x1="479.7" y1="869.63" x2="547.1" y2="858.29" stroke="#d9dcdc" stroke-width="0.7"/>
<line x1="479.7" y1="855.14" x2="547.1" y2="865.04" stroke="#d9dcdc" stroke-width="0.7"/>
<line x1="479.7" y1="876.71" x2="547.1" y2="873.15" stroke="#d9dcdc" stroke-width="0.7"/>
<line x1="479.7" y1="868.28" x2="547.1" y2="855.44" stroke="#d9dcdc" stroke-width="0.7"/>
<line x1="479.7" y1="868.7" x2="547.1" y2="860.5" stroke="#9a4fa6" stroke-width="1.1"/>
<line x1="479.7" y1="865.9" x2="479.7" y2="871.5" stroke="#9a4fa6" stroke-width="0.9"/>
<line x1="478.1" y1="865.9" x2="481.3" y2="865.9" stroke="#9a4fa6" stroke-width="0.9"/>
<line x1="478.1" y1="871.5" x2="481.3" y2="871.5" stroke="#9a4fa6" stroke-width="0.9"/>
<line x1="547.1" y1="857.7" x2="547.1" y2="863.3" stroke="#9a4fa6" stroke-width="0.9"/>
<line x1="545.5" y1="857.7" x2="548.7" y2="857.7" stroke="#9a4fa6" stroke-width="0.9"/>
<line x1="545.5" y1="863.3" x2="548.7" y2="863.3" stroke="#9a4fa6" stroke-width="0.9"/>
<text x="479.7" y="912.5" text-anchor="middle">RS</text>
<text x="545.1" y="912.5" text-anchor="middle">Stim</text>
<polyline points="478.4,809.4 478.4,806 548.1,806 548.1,809.4" stroke="#444" stroke-width="0.8" fill="none"/>
<path d="M510.3,799.5 L510.87,801.02 L512.49,801.09 L511.22,802.1 L511.65,803.66 L510.3,802.77 L508.95,803.66 L509.38,802.1 L508.11,801.09 L509.73,801.02Z" fill="#222"/>
<line x1="574.3" y1="810.4" x2="574.3" y2="899.2" stroke="#231f20" stroke-width="0.9"/>
<line x1="574.3" y1="899.2" x2="650.5" y2="899.2" stroke="#231f20" stroke-width="0.9"/>
<line x1="571.3" y1="812.1" x2="574.3" y2="812.1" stroke="#231f20" stroke-width="0.8"/>
<text x="569.3" y="814.9" text-anchor="end">0.7</text>
<line x1="571.3" y1="898.9" x2="574.3" y2="898.9" stroke="#231f20" stroke-width="0.8"/>
<text x="569.3" y="901.7" text-anchor="end">0.3</text>
<line x1="577.6" y1="871.78" x2="643" y2="869.32" stroke="#d9dcdc" stroke-width="0.7"/>
<line x1="577.6" y1="873.88" x2="643" y2="842.96" stroke="#d9dcdc" stroke-width="0.7"/>
<line x1="577.6" y1="882.04" x2="643" y2="868.36" stroke="#d9dcdc" stroke-width="0.7"/>
<line x1="577.6" y1="869.14" x2="643" y2="848.97" stroke="#d9dcdc" stroke-width="0.7"/>
<line x1="577.6" y1="881.27" x2="643" y2="844.21" stroke="#d9dcdc" stroke-width="0.7"/>
<line x1="577.6" y1="878.93" x2="643" y2="856.04" stroke="#d9dcdc" stroke-width="0.7"/>
<line x1="577.6" y1="882.72" x2="643" y2="850.45" stroke="#d9dcdc" stroke-width="0.7"/>
<line x1="577.6" y1="873.65" x2="643" y2="850.15" stroke="#d9dcdc" stroke-width="0.7"/>
<line x1="577.6" y1="887.07" x2="643" y2="866.83" stroke="#d9dcdc" stroke-width="0.7"/>
<line x1="577.6" y1="869.32" x2="643" y2="850.91" stroke="#d9dcdc" stroke-width="0.7"/>
<line x1="577.6" y1="877.54" x2="643" y2="856.52" stroke="#d9dcdc" stroke-width="0.7"/>
<line x1="577.6" y1="879.69" x2="643" y2="847.46" stroke="#d9dcdc" stroke-width="0.7"/>
<line x1="577.6" y1="871.78" x2="643" y2="875.53" stroke="#d9dcdc" stroke-width="0.7"/>
<line x1="577.6" y1="884.26" x2="643" y2="851.38" stroke="#d9dcdc" stroke-width="0.7"/>
<line x1="577.6" y1="875.9" x2="643" y2="856.2" stroke="#2f82c3" stroke-width="1.1"/>
<line x1="577.6" y1="873.9" x2="577.6" y2="877.9" stroke="#2f82c3" stroke-width="0.9"/>
<line x1="576" y1="873.9" x2="579.2" y2="873.9" stroke="#2f82c3" stroke-width="0.9"/>
<line x1="576" y1="877.9" x2="579.2" y2="877.9" stroke="#2f82c3" stroke-width="0.9"/>
<line x1="643" y1="851.2" x2="643" y2="861.2" stroke="#2f82c3" stroke-width="0.9"/>
<line x1="641.4" y1="851.2" x2="644.6" y2="851.2" stroke="#2f82c3" stroke-width="0.9"/>
<line x1="641.4" y1="861.2" x2="644.6" y2="861.2" stroke="#2f82c3" stroke-width="0.9"/>
<text x="577.6" y="912.5" text-anchor="middle">RS</text>
<text x="641" y="912.5" text-anchor="middle">Stim</text>
<polyline points="576.9,809.4 576.9,806 644,806 644,809.4" stroke="#444" stroke-width="0.8" fill="none"/>
<path d="M607.8,799.5 L608.37,801.02 L609.99,801.09 L608.72,802.1 L609.15,803.66 L607.8,802.77 L606.45,803.66 L606.88,802.1 L605.61,801.09 L607.23,801.02ZM613.2,799.5 L613.77,801.02 L615.39,801.09 L614.12,802.1 L614.55,803.66 L613.2,802.77 L611.85,803.66 L612.28,802.1 L611.01,801.09 L612.63,801.02Z" fill="#222"/>
<text x="353.5" y="854.1" text-anchor="middle" transform="rotate(-90 353.5 854.1)">Community ratio</text>
<line x1="658.8" y1="808.9" x2="683.4" y2="808.9" stroke="#2a8c50" stroke-width="1.4"/>
<text x="670.3" y="820.6" text-anchor="middle">G7f</text>
<line x1="658.8" y1="830.3" x2="683.4" y2="830.3" stroke="#9a4fa6" stroke-width="1.4"/>
<text x="670.3" y="841.9" text-anchor="middle">rACh</text>
<line x1="658.8" y1="850" x2="683.4" y2="850" stroke="#2f82c3" stroke-width="1.4"/>
<text x="670.3" y="861" text-anchor="middle">r5-HT</text>
<text x="36.8" y="8.2" text-anchor="middle" font-size="8.2">Correlation</text>
<text x="95" y="8.2" font-size="8.2">&#916;<tspan font-style="italic">F</tspan><tspan dx="0.5">/</tspan><tspan font-style="italic" dx="0.2">F</tspan> (s.d.)</text>
<text x="8.5" y="34.3" text-anchor="middle" font-style="italic" transform="rotate(-90 8.5 34.3)">G7f</text>
<text x="8.5" y="111.3" text-anchor="middle" transform="rotate(-90 8.5 111.3)">rACh</text>
<text x="8.5" y="189" text-anchor="middle" transform="rotate(-90 8.5 189)">r5-HT</text>
<g clip-path="url(#cp1)"><rect x="13.1" y="10.2" width="48.9" height="48.2" fill="#440154"/>
<g filter="url(#b35)">
<ellipse cx="37.5" cy="42" rx="26" ry="12" fill="#482475"/>
<ellipse cx="37.5" cy="30" rx="26" ry="9" fill="#414487"/>
<ellipse cx="37.5" cy="22" rx="25" ry="11" fill="#2a788e"/>
</g>
<g filter="url(#b18)">
<ellipse cx="25.5" cy="20" rx="12.5" ry="9" fill="#3dba74"/>
<ellipse cx="28.5" cy="16.5" rx="8" ry="5.5" fill="#95d740"/>
<ellipse cx="50" cy="18" rx="11.5" ry="6.5" fill="#6fcd57"/>
<ellipse cx="57.5" cy="21" rx="3.5" ry="5" fill="#44bf70"/>
<ellipse cx="37.5" cy="26" rx="14" ry="3.5" fill="#26848d"/>
<ellipse cx="18" cy="22" rx="4.5" ry="6" fill="#229c88"/>
</g>
<g filter="url(#b12)">
<ellipse cx="50.5" cy="17.6" rx="7.5" ry="4" fill="#fde725"/>
<ellipse cx="25.5" cy="14.5" rx="3" ry="2.5" fill="#9cd83c"/>
<rect x="37" y="23" width="1.2" height="13" fill="#44347e"/>
</g>
</g>
<rect x="13.1" y="10.2" width="48.9" height="48.2" fill="none" stroke="#1a1a1a" stroke-width="0.9"/>
<ellipse cx="24.6" cy="15.4" rx="3.6" ry="3.3" fill="none" stroke="#fff" stroke-width="0.7" stroke-dasharray="0.9 0.9"/>
<path d="M19.5,22 C19.5,18.5 26,17.8 30,18.2 C34,18.5 37.5,19 37.4,21.5 C37.3,24.5 33,26 28,26 C23,26 19.5,25 19.5,22 Z" fill="none" stroke="#fff" stroke-width="0.7" stroke-dasharray="0.9 0.9"/>
<text x="31.3" y="16.8" font-size="6.6" fill="#fff">MB</text>
<text x="14.8" y="47.7" font-size="7.8" fill="#fff">y</text>
<path d="M16.2,48.9 V54.2 H19.8" stroke="#fff" stroke-width="0.9" fill="none"/>
<text x="20.3" y="54.7" font-size="7.8" fill="#fff" font-style="italic">x</text>
<line x1="51" y1="54.5" x2="57.1" y2="54.5" stroke="#fff" stroke-width="1"/>
<g clip-path="url(#cp2)"><rect x="66.1" y="10.2" width="15.8" height="48.2" fill="#440154"/>
<g filter="url(#b30)">
<ellipse cx="74" cy="38" rx="9" ry="8" fill="#482475"/>
<ellipse cx="74.5" cy="29" rx="8" ry="7" fill="#355f8d"/>
</g>
<g filter="url(#b15)">
<ellipse cx="75" cy="27" rx="6.5" ry="9" fill="#229c88"/>
<ellipse cx="75.5" cy="18" rx="6" ry="6.5" fill="#5fc860"/>
<ellipse cx="75.5" cy="24" rx="5.5" ry="4" fill="#36b678"/>
<ellipse cx="76" cy="30" rx="5" ry="3.5" fill="#229c88"/>
</g>
<g filter="url(#b10)">
<ellipse cx="75.5" cy="18" rx="4.3" ry="3.8" fill="#fde725"/>
<ellipse cx="68" cy="12" rx="3" ry="3" fill="#440154"/>
</g>
</g>
<rect x="66.1" y="10.2" width="15.8" height="48.2" fill="none" stroke="#1a1a1a" stroke-width="0.9"/>
<text x="68.2" y="47.7" font-size="7.8" fill="#fff">y</text>
<path d="M69.6,48.9 V54.2 H73.2" stroke="#fff" stroke-width="0.9" fill="none"/>
<text x="73.7" y="54.7" font-size="7.8" fill="#fff" font-style="italic">z</text>
<g clip-path="url(#cp3)"><rect x="13.1" y="62.4" width="48.9" height="15.9" fill="#440154"/>
<g filter="url(#b12)">
<rect x="13.8" y="63.7" width="47.5" height="13.4" fill="#21968a" rx="3"/>
<ellipse cx="20" cy="68.4" rx="5" ry="5" fill="#29ad80"/>
<ellipse cx="28" cy="69.4" rx="4.5" ry="6" fill="#7ad151"/>
<ellipse cx="47.5" cy="69.4" rx="5" ry="6" fill="#87d448"/>
<ellipse cx="55" cy="68.4" rx="4.5" ry="5" fill="#4fc36a"/>
<rect x="36.5" y="63.4" width="1.8" height="14" fill="#355f8d"/>
</g>
<g filter="url(#b08)">
<ellipse cx="27.8" cy="68.9" rx="2" ry="4.5" fill="#fde725"/>
<ellipse cx="46.5" cy="68.9" rx="2.3" ry="4.2" fill="#fde725"/>
<ellipse cx="50.5" cy="68.4" rx="1.5" ry="3.5" fill="#dde326"/>
</g>
</g>
<rect x="13.1" y="62.4" width="48.9" height="15.9" fill="none" stroke="#1a1a1a" stroke-width="0.9"/>
<text x="14.8" y="70" font-size="7.8" fill="#fff" font-style="italic">z</text>
<path d="M16.2,71.2 V76.5 H19.8" stroke="#fff" stroke-width="0.9" fill="none"/>
<text x="20.3" y="77" font-size="7.8" fill="#fff" font-style="italic">x</text>
<rect x="66.6" y="62.4" width="2.1" height="15.9" fill="url(#vircb)" stroke="#333" stroke-width="0.4"/>
<text x="69.8" y="67.4" font-size="8.3">0.4</text>
<text x="69.8" y="78.7" font-size="8.3">0</text>
<g clip-path="url(#cp5)"><rect x="90.2" y="10.2" width="48.5" height="48.1" fill="#440154"/>
<g filter="url(#b05)">
<path d="M90.8,12.7 L95.2,11 L101.2,10.6 L108.2,11 L112.2,12.4 L114,14.2 L115.8,12.4 L120.2,11 L127.2,10.6 L133.2,11 L138,12.7 L138.4,50 L129,42.4 L124.5,50 L119.9,52.3 L110.8,52.3 L105.5,50 L98.3,43.6 L90.5,50.8Z" fill="#31698d"/>
</g>
<g clip-path="url(#bc4)">
<g filter="url(#b20)">
<ellipse cx="114.5" cy="46" rx="9" ry="5" fill="#414487"/>
<ellipse cx="101" cy="20" rx="8" ry="8" fill="#287d8e"/>
<ellipse cx="127" cy="20" rx="8" ry="8" fill="#287d8e"/>
<ellipse cx="114.5" cy="29" rx="9" ry="5" fill="#26848d"/>
<ellipse cx="106" cy="16" rx="4" ry="3" fill="#21968a"/>
<ellipse cx="122" cy="16" rx="4" ry="3" fill="#21968a"/>
</g>
</g>
<g clip-path="url(#bc4)">
<g filter="url(#b08)">
<ellipse cx="134.98" cy="40.63" rx="0.48" ry="0.36" fill="#24898d" opacity="0.79"/>
<ellipse cx="121.81" cy="21.44" rx="0.78" ry="0.83" fill="#297c8e" opacity="0.56"/>
<ellipse cx="110.81" cy="24.01" rx="0.85" ry="1.1" fill="#228e8c" opacity="0.72"/>
<ellipse cx="111.46" cy="20.25" rx="0.47" ry="0.34" fill="#2b768e" opacity="0.63"/>
<ellipse cx="108.48" cy="38.95" rx="0.74" ry="0.77" fill="#306b8d" opacity="0.51"/>
<ellipse cx="105.96" cy="16.3" rx="0.73" ry="0.95" fill="#27818d" opacity="0.57"/>
<ellipse cx="132.1" cy="36.1" rx="0.85" ry="1.06" fill="#25858d" opacity="0.82"/>
<ellipse cx="107.27" cy="41.63" rx="0.98" ry="0.78" fill="#25858d" opacity="0.79"/>
<ellipse cx="112.22" cy="28.11" rx="0.72" ry="0.9" fill="#2a788e" opacity="0.83"/>
<ellipse cx="107.28" cy="38.69" rx="0.94" ry="0.92" fill="#297b8e" opacity="0.87"/>
<ellipse cx="124.29" cy="26.8" rx="0.57" ry="0.51" fill="#26828d" opacity="0.57"/>
<ellipse cx="132.77" cy="20.24" rx="0.95" ry="0.84" fill="#228f8c" opacity="0.78"/>
<ellipse cx="114.2" cy="27.73" rx="0.81" ry="0.85" fill="#2e6f8e" opacity="0.58"/>
<ellipse cx="114.55" cy="40.22" rx="0.79" ry="0.59" fill="#24888d" opacity="0.79"/>
<ellipse cx="132.75" cy="17.94" rx="0.86" ry="0.63" fill="#27808d" opacity="0.61"/>
<ellipse cx="101.42" cy="38.46" rx="0.51" ry="0.52" fill="#248a8d" opacity="0.6"/>
<ellipse cx="100.68" cy="38.62" rx="0.68" ry="0.77" fill="#34618d" opacity="0.64"/>
<ellipse cx="98.91" cy="32.38" rx="0.5" ry="0.63" fill="#34608d" opacity="0.79"/>
<ellipse cx="91.97" cy="19.87" rx="0.9" ry="0.71" fill="#31688d" opacity="0.78"/>
<ellipse cx="108.74" cy="13.49" rx="0.99" ry="0.79" fill="#34618d" opacity="0.64"/>
<ellipse cx="119.3" cy="34.47" rx="0.51" ry="0.46" fill="#34618d" opacity="0.68"/>
<ellipse cx="126.23" cy="34.4" rx="0.95" ry="1.09" fill="#238a8d" opacity="0.78"/>
<ellipse cx="112.75" cy="18.97" rx="0.81" ry="0.72" fill="#33648d" opacity="0.68"/>
<ellipse cx="131.24" cy="16.03" rx="0.77" ry="0.72" fill="#2a798e" opacity="0.56"/>
<ellipse cx="135.15" cy="19.97" rx="0.78" ry="0.75" fill="#35608d" opacity="0.72"/>
<ellipse cx="97.47" cy="13.9" rx="0.47" ry="0.37" fill="#33648d" opacity="0.75"/>
<ellipse cx="114.38" cy="41.7" rx="0.96" ry="1.25" fill="#306b8d" opacity="0.68"/>
<ellipse cx="102.54" cy="29.94" rx="0.79" ry="0.94" fill="#26828d" opacity="0.6"/>
<ellipse cx="110.46" cy="27.99" rx="0.45" ry="0.33" fill="#2c738e" opacity="0.54"/>
<ellipse cx="124.29" cy="19.43" rx="0.5" ry="0.41" fill="#306b8d" opacity="0.59"/>
<ellipse cx="114.95" cy="26.13" rx="0.62" ry="0.67" fill="#306a8d" opacity="0.86"/>
<ellipse cx="135.3" cy="34.07" rx="0.69" ry="0.69" fill="#297c8e" opacity="0.52"/>
<ellipse cx="110.23" cy="27.95" rx="0.55" ry="0.42" fill="#25878d" opacity="0.65"/>
<ellipse cx="114.88" cy="39.84" rx="0.79" ry="0.69" fill="#21908c" opacity="0.65"/>
<ellipse cx="91.88" cy="32.76" rx="0.51" ry="0.45" fill="#24898d" opacity="0.77"/>
<ellipse cx="91.72" cy="25.74" rx="0.68" ry="0.67" fill="#30698d" opacity="0.74"/>
<ellipse cx="94.39" cy="20.73" rx="0.66" ry="0.83" fill="#33638d" opacity="0.8"/>
<ellipse cx="99.85" cy="29.35" rx="0.67" ry="0.65" fill="#25858d" opacity="0.66"/>
<ellipse cx="96.6" cy="15.85" rx="0.49" ry="0.6" fill="#277f8d" opacity="0.88"/>
<ellipse cx="122.86" cy="12.94" rx="0.81" ry="0.95" fill="#26838d" opacity="0.7"/>
<ellipse cx="107.45" cy="25.91" rx="0.89" ry="0.77" fill="#2a798e" opacity="0.69"/>
<ellipse cx="134.92" cy="36.33" rx="0.96" ry="1.16" fill="#2e6e8e" opacity="0.59"/>
<ellipse cx="113.48" cy="19.98" rx="0.69" ry="0.76" fill="#228d8c" opacity="0.73"/>
<ellipse cx="128.62" cy="15.08" rx="0.65" ry="0.84" fill="#32668d" opacity="0.67"/>
<ellipse cx="94.07" cy="14.78" rx="0.94" ry="1.22" fill="#277f8d" opacity="0.55"/>
<ellipse cx="104.63" cy="19.15" rx="0.82" ry="0.91" fill="#2b758e" opacity="0.71"/>
<ellipse cx="96.16" cy="28.43" rx="0.97" ry="1.12" fill="#33648d" opacity="0.71"/>
<ellipse cx="123.91" cy="19.92" rx="0.94" ry="0.92" fill="#26828d" opacity="0.66"/>
<ellipse cx="136.78" cy="35.68" rx="0.77" ry="0.6" fill="#2b758e" opacity="0.51"/>
<ellipse cx="118.38" cy="38.65" rx="0.55" ry="0.55" fill="#2a778e" opacity="0.66"/>
<ellipse cx="123.68" cy="40.3" rx="0.84" ry="0.82" fill="#228f8c" opacity="0.63"/>
<ellipse cx="125.3" cy="31.95" rx="0.87" ry="1.05" fill="#306a8d" opacity="0.75"/>
<ellipse cx="109.53" cy="32.21" rx="0.99" ry="1.07" fill="#35608d" opacity="0.69"/>
<ellipse cx="123.73" cy="38.7" rx="0.81" ry="0.96" fill="#35608d" opacity="0.88"/>
<ellipse cx="124.56" cy="30.39" rx="0.95" ry="1.17" fill="#33648d" opacity="0.83"/>
<ellipse cx="126.28" cy="18.19" rx="0.86" ry="0.9" fill="#31698d" opacity="0.82"/>
<ellipse cx="97.34" cy="30.57" rx="0.69" ry="0.59" fill="#297b8e" opacity="0.69"/>
<ellipse cx="100.43" cy="41.2" rx="0.49" ry="0.34" fill="#2a778e" opacity="0.83"/>
<ellipse cx="121.29" cy="34.84" rx="0.72" ry="0.79" fill="#2e708e" opacity="0.61"/>
<ellipse cx="114.13" cy="13.03" rx="0.49" ry="0.57" fill="#31688d" opacity="0.8"/>
<ellipse cx="127.08" cy="24.33" rx="0.82" ry="0.96" fill="#238a8d" opacity="0.55"/>
<ellipse cx="98.48" cy="23.65" rx="0.71" ry="0.62" fill="#35608d" opacity="0.72"/>
<ellipse cx="135.48" cy="23.19" rx="0.75" ry="0.69" fill="#2b758e" opacity="0.85"/>
<ellipse cx="105.19" cy="31.67" rx="0.72" ry="0.73" fill="#238d8c" opacity="0.53"/>
<ellipse cx="128.92" cy="21.33" rx="0.81" ry="0.95" fill="#27808d" opacity="0.66"/>
<ellipse cx="129.67" cy="14.99" rx="0.8" ry="0.75" fill="#297a8e" opacity="0.84"/>
<ellipse cx="127.7" cy="31.07" rx="0.62" ry="0.52" fill="#2b768e" opacity="0.59"/>
<ellipse cx="103.76" cy="40.93" rx="0.51" ry="0.61" fill="#2d728e" opacity="0.65"/>
<ellipse cx="105.65" cy="14.52" rx="0.7" ry="0.56" fill="#2b758e" opacity="0.62"/>
<ellipse cx="132.15" cy="39.85" rx="0.69" ry="0.75" fill="#228d8c" opacity="0.63"/>
<ellipse cx="95.58" cy="19.34" rx="0.55" ry="0.61" fill="#2d728e" opacity="0.64"/>
<ellipse cx="127.57" cy="19.2" rx="0.89" ry="0.97" fill="#2c738e" opacity="0.83"/>
<ellipse cx="106.74" cy="38.56" rx="0.96" ry="0.96" fill="#27818d" opacity="0.88"/>
<ellipse cx="125.16" cy="34.73" rx="0.93" ry="1.17" fill="#25858d" opacity="0.89"/>
<ellipse cx="104.41" cy="30.87" rx="0.82" ry="0.75" fill="#2c738e" opacity="0.57"/>
<ellipse cx="135.05" cy="22.82" rx="0.71" ry="0.88" fill="#31688d" opacity="0.88"/>
<ellipse cx="96.84" cy="13.04" rx="0.64" ry="0.59" fill="#228d8c" opacity="0.85"/>
<ellipse cx="126.03" cy="25.29" rx="0.75" ry="0.63" fill="#24898d" opacity="0.66"/>
<ellipse cx="104.09" cy="31.33" rx="0.53" ry="0.47" fill="#228d8c" opacity="0.54"/>
<ellipse cx="97.54" cy="18.33" rx="0.59" ry="0.56" fill="#2f6c8e" opacity="0.64"/>
<ellipse cx="104.3" cy="17.4" rx="1.8" ry="3.2" fill="#dde326"/>
<ellipse cx="120.6" cy="17.8" rx="1.8" ry="2.8" fill="#b0dc2f"/>
</g>
</g>
<g filter="url(#b05)">
<path d="M90.6,36.4 L103,46.4 M138.4,36.7 L125.8,45.6" stroke="#440154" stroke-width="1.4" fill="none"/>
<rect x="113.4" y="25.2" width="1.4" height="8" fill="#472a79"/>
</g>
</g>
<rect x="90.2" y="10.2" width="48.5" height="48.1" fill="none" stroke="#1a1a1a" stroke-width="0.9"/>
<g clip-path="url(#cp6)"><rect x="143.3" y="10.2" width="15.5" height="48.1" fill="#440154"/>
<g filter="url(#b06)">
<path d="M145,14.2 Q146,11.2 151,11.2 L158.8,11.2 L158.8,55.2 L150,55.2 Q145,52.2 145,40.2 Z" fill="#2e6e8e"/>
</g>
<g filter="url(#b15)">
<ellipse cx="152" cy="18.2" rx="5" ry="4" fill="#22a884"/>
<ellipse cx="151" cy="32.2" rx="4" ry="6" fill="#26848d"/>
<ellipse cx="151" cy="50.2" rx="6" ry="4" fill="#375a8c"/>
</g>
<g filter="url(#b08)">
<ellipse cx="152.5" cy="17.2" rx="3.2" ry="1.9" fill="#fde725"/>
<ellipse cx="148.09" cy="37.44" rx="0.65" ry="0.69" fill="#25868d" opacity="0.53"/>
<ellipse cx="145.17" cy="45.65" rx="0.59" ry="0.5" fill="#219c88" opacity="0.69"/>
<ellipse cx="155.87" cy="35.54" rx="0.8" ry="0.63" fill="#25878d" opacity="0.85"/>
<ellipse cx="151.8" cy="42.96" rx="0.82" ry="0.6" fill="#228e8c" opacity="0.74"/>
<ellipse cx="148.92" cy="23.07" rx="0.93" ry="0.91" fill="#238c8c" opacity="0.85"/>
<ellipse cx="154.28" cy="47.99" rx="0.67" ry="0.79" fill="#297b8e" opacity="0.87"/>
<ellipse cx="156.43" cy="24.93" rx="0.52" ry="0.44" fill="#219b89" opacity="0.67"/>
<ellipse cx="153.15" cy="30.63" rx="0.73" ry="0.68" fill="#2b758e" opacity="0.73"/>
<ellipse cx="152.6" cy="47.52" rx="0.83" ry="1.04" fill="#21948b" opacity="0.9"/>
<ellipse cx="153.73" cy="26.77" rx="0.92" ry="1.18" fill="#21978a" opacity="0.73"/>
</g>
</g>
<rect x="143.3" y="10.2" width="15.5" height="48.1" fill="none" stroke="#1a1a1a" stroke-width="0.9"/>
<g clip-path="url(#cp7)"><rect x="90.2" y="62.4" width="48.5" height="15.9" fill="#440154"/>
<g filter="url(#b06)">
<rect x="90.6" y="63.2" width="47.7" height="13.8" fill="#2c738e" rx="3"/>
</g>
<g filter="url(#b12)">
<ellipse cx="104" cy="69.4" rx="4" ry="5" fill="#229c88"/>
<ellipse cx="121.5" cy="69.4" rx="4" ry="5" fill="#229c88"/>
<ellipse cx="97" cy="68.4" rx="4" ry="4" fill="#26848d"/>
<ellipse cx="131" cy="68.4" rx="4" ry="4" fill="#26848d"/>
</g>
<g filter="url(#b06)">
<ellipse cx="105.5" cy="69.4" rx="1.2" ry="4.3" fill="#fde725"/>
<ellipse cx="121.5" cy="69.4" rx="1.2" ry="4.3" fill="#dde326"/>
</g>
</g>
<rect x="90.2" y="62.4" width="48.5" height="15.9" fill="none" stroke="#1a1a1a" stroke-width="0.9"/>
<rect x="143.5" y="62.4" width="2.1" height="15.9" fill="url(#vircb)" stroke="#333" stroke-width="0.4"/>
<text x="146.7" y="67.4" font-size="8.3">5%</text>
<text x="146.7" y="78.7" font-size="8.3">0</text>
<g clip-path="url(#cp8)"><rect x="13.1" y="87.4" width="48.9" height="48" fill="#440154"/>
<g filter="url(#b30)">
<ellipse cx="37" cy="105.4" rx="24" ry="12" fill="#44347e"/>
<ellipse cx="37" cy="119.4" rx="22" ry="8" fill="#471d6e"/>
</g>
<g filter="url(#b16)">
<ellipse cx="30.5" cy="100.4" rx="7.5" ry="11" fill="#229f87"/>
<ellipse cx="43.5" cy="99.9" rx="7.5" ry="11" fill="#22a884"/>
<ellipse cx="53" cy="99.4" rx="4.5" ry="7" fill="#33648d"/>
</g>
<g filter="url(#b10)">
<ellipse cx="45" cy="97.9" rx="2.5" ry="4" fill="#9cd83c"/>
<ellipse cx="38.5" cy="102.9" rx="1.5" ry="1.5" fill="#bddf26"/>
<ellipse cx="31.5" cy="101.9" rx="1.5" ry="1.5" fill="#9cd83c"/>
<rect x="37" y="97.4" width="1" height="15" fill="#44347e"/>
</g>
</g>
<rect x="13.1" y="87.4" width="48.9" height="48" fill="none" stroke="#1a1a1a" stroke-width="0.9"/>
<ellipse cx="19.6" cy="94.6" rx="4.6" ry="4.2" fill="none" stroke="#fff" stroke-width="0.7" stroke-dasharray="0.9 0.9"/>
<text x="17" y="105" fill="#fff">SLP</text>
<g clip-path="url(#cp9)"><rect x="66.1" y="87.4" width="15.8" height="48" fill="#440154"/>
<g filter="url(#b25)">
<ellipse cx="74" cy="103.4" rx="8" ry="10" fill="#355f8d"/>
<ellipse cx="74" cy="113.4" rx="7" ry="6" fill="#472a79"/>
</g>
<g filter="url(#b12)">
<ellipse cx="74.5" cy="99.4" rx="6.5" ry="7" fill="#21918c"/>
<ellipse cx="75" cy="98.9" rx="4.5" ry="3.5" fill="#9cd83c"/>
<ellipse cx="74" cy="103.4" rx="4" ry="1.5" fill="#5fc860"/>
</g>
</g>
<rect x="66.1" y="87.4" width="15.8" height="48" fill="none" stroke="#1a1a1a" stroke-width="0.9"/>
<g clip-path="url(#cp10)"><rect x="13.1" y="140" width="48.9" height="15.5" fill="#440154"/>
<g filter="url(#b15)">
<rect x="14" y="141.5" width="47" height="12.5" fill="#44347e"/>
<rect x="23.5" y="141" width="27" height="13.5" fill="#22a884"/>
<ellipse cx="55" cy="147" rx="4" ry="5" fill="#355f8d"/>
</g>
<g filter="url(#b06)">
<ellipse cx="26.4" cy="147" rx="0.9" ry="4.5" fill="#dde326"/>
<ellipse cx="39.6" cy="148" rx="0.9" ry="4" fill="#dde326"/>
<ellipse cx="47.2" cy="147" rx="0.9" ry="4.5" fill="#dde326"/>
<rect x="36.9" y="141.5" width="1" height="13" fill="#3b528a"/>
</g>
</g>
<rect x="13.1" y="140" width="48.9" height="15.5" fill="none" stroke="#1a1a1a" stroke-width="0.9"/>
<rect x="66.6" y="140" width="2.1" height="15.5" fill="url(#vircb)" stroke="#333" stroke-width="0.4"/>
<text x="69.8" y="145" font-size="8.3">0.5</text>
<text x="69.8" y="155.9" font-size="8.3">0</text>
<g clip-path="url(#cp12)"><rect x="90.2" y="87.4" width="48.5" height="47.9" fill="#440154"/>
<g filter="url(#b05)">
<path d="M91,90.89 L93.2,88.6 L99.2,87.7 L107.2,88 L111.7,89.59 L114.2,91.88 L116.7,89.59 L121.2,88 L129.2,87.7 L135.7,88.6 L138,90.89 L138,125.94 L131.2,120.96 L125.8,123.75 L125.8,127.73 L123.2,130.52 L118.2,130.72 L110.2,130.72 L105.4,130.52 L103.4,127.73 L103.4,123.75 L97.7,120.96 L91,125.94Z" fill="#2c738e"/>
</g>
<g clip-path="url(#bc11)">
<g filter="url(#b18)">
<ellipse cx="114.5" cy="128.4" rx="8" ry="4" fill="#3b528a"/>
<ellipse cx="101" cy="99.4" rx="9" ry="8" fill="#25878d"/>
<ellipse cx="128" cy="99.4" rx="9" ry="8" fill="#25878d"/>
<ellipse cx="114.5" cy="101.4" rx="7" ry="5" fill="#21918c"/>
</g>
</g>
<g clip-path="url(#bc11)">
<g filter="url(#b06)">
<ellipse cx="101.86" cy="93.53" rx="0.67" ry="0.53" fill="#2d718e" opacity="0.66"/>
<ellipse cx="133.23" cy="121.42" rx="0.87" ry="0.73" fill="#24898d" opacity="0.61"/>
<ellipse cx="98.94" cy="93.65" rx="0.57" ry="0.71" fill="#21978a" opacity="0.82"/>
<ellipse cx="127.82" cy="97.14" rx="0.62" ry="0.67" fill="#21928b" opacity="0.84"/>
<ellipse cx="131.48" cy="92.87" rx="0.78" ry="0.86" fill="#24878d" opacity="0.57"/>
<ellipse cx="112.79" cy="92.97" rx="0.96" ry="1.18" fill="#24898d" opacity="0.62"/>
<ellipse cx="132.81" cy="112.29" rx="0.94" ry="1.13" fill="#24878d" opacity="0.67"/>
<ellipse cx="118.55" cy="106.64" rx="0.54" ry="0.48" fill="#21968a" opacity="0.52"/>
<ellipse cx="93.13" cy="114.45" rx="0.6" ry="0.62" fill="#25868d" opacity="0.64"/>
<ellipse cx="136.87" cy="97.22" rx="0.68" ry="0.56" fill="#228e8c" opacity="0.61"/>
<ellipse cx="107.37" cy="119.28" rx="0.63" ry="0.65" fill="#219a89" opacity="0.54"/>
<ellipse cx="93.83" cy="98.55" rx="0.87" ry="0.93" fill="#297a8e" opacity="0.63"/>
<ellipse cx="99.17" cy="107.76" rx="0.47" ry="0.53" fill="#219a89" opacity="0.88"/>
<ellipse cx="124.8" cy="127.79" rx="0.46" ry="0.4" fill="#229d88" opacity="0.81"/>
<ellipse cx="109.88" cy="127.13" rx="0.79" ry="0.94" fill="#287d8e" opacity="0.58"/>
<ellipse cx="111.43" cy="94.86" rx="0.66" ry="0.84" fill="#287f8d" opacity="0.5"/>
<ellipse cx="93.06" cy="96.18" rx="0.88" ry="0.81" fill="#287d8e" opacity="0.54"/>
<ellipse cx="136.16" cy="106.36" rx="0.56" ry="0.42" fill="#2d718e" opacity="0.57"/>
<ellipse cx="122.13" cy="95.39" rx="0.47" ry="0.47" fill="#297a8e" opacity="0.9"/>
<ellipse cx="96.62" cy="110.57" rx="0.88" ry="0.83" fill="#229e87" opacity="0.69"/>
<ellipse cx="102.13" cy="105.82" rx="0.47" ry="0.45" fill="#297a8e" opacity="0.86"/>
<ellipse cx="129.23" cy="109.34" rx="0.47" ry="0.4" fill="#297a8e" opacity="0.58"/>
<ellipse cx="101.65" cy="124.19" rx="0.53" ry="0.39" fill="#219b88" opacity="0.73"/>
<ellipse cx="136.57" cy="105.52" rx="0.95" ry="1.03" fill="#21958b" opacity="0.8"/>
<ellipse cx="113.74" cy="93.12" rx="0.57" ry="0.69" fill="#219a89" opacity="0.87"/>
<ellipse cx="106.48" cy="115.68" rx="0.89" ry="0.97" fill="#21968a" opacity="0.71"/>
<ellipse cx="121.12" cy="116.84" rx="0.6" ry="0.75" fill="#229d88" opacity="0.53"/>
<ellipse cx="135.67" cy="127.87" rx="0.82" ry="0.59" fill="#219a89" opacity="0.55"/>
<ellipse cx="135.55" cy="116.09" rx="0.48" ry="0.39" fill="#228e8c" opacity="0.73"/>
<ellipse cx="125.34" cy="126.5" rx="0.57" ry="0.4" fill="#219b88" opacity="0.51"/>
<ellipse cx="131.32" cy="94.04" rx="0.9" ry="1.05" fill="#219989" opacity="0.72"/>
<ellipse cx="131.42" cy="97.47" rx="0.82" ry="0.74" fill="#219a89" opacity="0.81"/>
<ellipse cx="112.69" cy="110.46" rx="0.46" ry="0.33" fill="#238c8c" opacity="0.7"/>
<ellipse cx="130.78" cy="113.73" rx="0.53" ry="0.48" fill="#21948b" opacity="0.71"/>
<ellipse cx="91.49" cy="122.91" rx="0.91" ry="0.68" fill="#24898d" opacity="0.65"/>
<ellipse cx="127.22" cy="101.85" rx="0.58" ry="0.57" fill="#229d88" opacity="0.54"/>
<ellipse cx="96.26" cy="114.24" rx="0.94" ry="0.94" fill="#26848d" opacity="0.84"/>
<ellipse cx="126.72" cy="92.08" rx="0.93" ry="0.76" fill="#287d8e" opacity="0.83"/>
<ellipse cx="110.43" cy="121.33" rx="0.54" ry="0.66" fill="#2b778e" opacity="0.56"/>
<ellipse cx="113.74" cy="102.94" rx="0.75" ry="0.93" fill="#21918c" opacity="0.5"/>
<ellipse cx="105.34" cy="111.2" rx="0.72" ry="0.81" fill="#25868d" opacity="0.53"/>
<ellipse cx="102.29" cy="123.3" rx="0.65" ry="0.75" fill="#229e87" opacity="0.75"/>
<ellipse cx="122.13" cy="113.78" rx="0.62" ry="0.78" fill="#25858d" opacity="0.86"/>
<ellipse cx="105.06" cy="124.1" rx="0.88" ry="0.94" fill="#26848d" opacity="0.56"/>
<ellipse cx="126.47" cy="103.89" rx="0.81" ry="0.63" fill="#2d728e" opacity="0.56"/>
<ellipse cx="128.22" cy="96.51" rx="0.95" ry="0.87" fill="#238b8c" opacity="0.64"/>
<ellipse cx="119.56" cy="93.14" rx="0.67" ry="0.85" fill="#2a778e" opacity="0.76"/>
<ellipse cx="106.03" cy="101.42" rx="0.46" ry="0.33" fill="#219c88" opacity="0.83"/>
<ellipse cx="127.85" cy="121.69" rx="0.97" ry="0.77" fill="#238b8c" opacity="0.7"/>
<ellipse cx="117.4" cy="126.92" rx="0.87" ry="1.11" fill="#2c748e" opacity="0.76"/>
<ellipse cx="122.07" cy="119.21" rx="0.79" ry="0.95" fill="#287d8e" opacity="0.87"/>
<ellipse cx="109.68" cy="113.36" rx="0.94" ry="1.06" fill="#287d8e" opacity="0.59"/>
<ellipse cx="106.02" cy="114.47" rx="1" ry="1.24" fill="#26828d" opacity="0.66"/>
<ellipse cx="128.6" cy="100.75" rx="0.68" ry="0.48" fill="#2a778e" opacity="0.72"/>
<ellipse cx="122.89" cy="113.99" rx="0.65" ry="0.83" fill="#228d8c" opacity="0.56"/>
<ellipse cx="94.11" cy="128.35" rx="0.99" ry="1.24" fill="#238c8c" opacity="0.62"/>
<ellipse cx="95.2" cy="99.72" rx="0.57" ry="0.72" fill="#219a89" opacity="0.81"/>
<ellipse cx="97.84" cy="98.93" rx="0.61" ry="0.78" fill="#2b768e" opacity="0.82"/>
<ellipse cx="122.31" cy="111.29" rx="0.98" ry="0.84" fill="#24888d" opacity="0.56"/>
<ellipse cx="95.45" cy="90.67" rx="0.62" ry="0.48" fill="#2d718e" opacity="0.9"/>
<ellipse cx="104.3" cy="125.01" rx="0.84" ry="0.95" fill="#228f8c" opacity="0.88"/>
<ellipse cx="131.41" cy="118.18" rx="0.76" ry="0.85" fill="#21928c" opacity="0.72"/>
<ellipse cx="114.12" cy="95.57" rx="0.91" ry="0.91" fill="#2d718e" opacity="0.57"/>
<ellipse cx="131.24" cy="99.64" rx="0.67" ry="0.74" fill="#219889" opacity="0.63"/>
<ellipse cx="108.79" cy="106.32" rx="0.47" ry="0.57" fill="#2e6f8e" opacity="0.88"/>
<ellipse cx="98.02" cy="95.67" rx="0.92" ry="1.09" fill="#297a8e" opacity="0.72"/>
<ellipse cx="112.93" cy="118.14" rx="0.55" ry="0.66" fill="#229f87" opacity="0.78"/>
<ellipse cx="133.38" cy="126.88" rx="0.66" ry="0.8" fill="#21978a" opacity="0.73"/>
<ellipse cx="95.93" cy="114.17" rx="0.95" ry="0.84" fill="#228e8c" opacity="0.86"/>
<ellipse cx="118.6" cy="90.89" rx="0.8" ry="0.68" fill="#219889" opacity="0.76"/>
<ellipse cx="105.14" cy="125.23" rx="0.79" ry="0.72" fill="#21978a" opacity="0.86"/>
<ellipse cx="132.09" cy="124.73" rx="0.81" ry="0.91" fill="#238c8c" opacity="0.71"/>
<ellipse cx="136.42" cy="103.52" rx="0.49" ry="0.56" fill="#25878d" opacity="0.72"/>
<ellipse cx="118.5" cy="99.39" rx="0.56" ry="0.42" fill="#21958b" opacity="0.86"/>
<ellipse cx="123.05" cy="94.07" rx="0.99" ry="1.18" fill="#24878d" opacity="0.5"/>
<ellipse cx="129.82" cy="114.33" rx="0.79" ry="0.56" fill="#21938b" opacity="0.51"/>
<ellipse cx="112.99" cy="95.19" rx="0.65" ry="0.8" fill="#21938b" opacity="0.83"/>
<ellipse cx="104.71" cy="104.94" rx="0.78" ry="0.56" fill="#26838d" opacity="0.89"/>
<ellipse cx="125.69" cy="123.91" rx="0.61" ry="0.68" fill="#21958b" opacity="0.78"/>
<ellipse cx="111.12" cy="96.39" rx="0.46" ry="0.57" fill="#219c88" opacity="0.61"/>
<ellipse cx="125.77" cy="105.68" rx="0.8" ry="0.96" fill="#287e8e" opacity="0.75"/>
<ellipse cx="102.78" cy="109.84" rx="0.47" ry="0.4" fill="#287c8e" opacity="0.87"/>
<ellipse cx="97.09" cy="119.73" rx="0.5" ry="0.64" fill="#2b768e" opacity="0.54"/>
<ellipse cx="100.73" cy="126.72" rx="0.82" ry="1.01" fill="#25878d" opacity="0.55"/>
<ellipse cx="106.66" cy="107.63" rx="0.99" ry="0.8" fill="#297a8e" opacity="0.84"/>
<ellipse cx="96.24" cy="128.26" rx="0.61" ry="0.64" fill="#228f8c" opacity="0.86"/>
<ellipse cx="94.48" cy="123.27" rx="0.55" ry="0.62" fill="#2e6f8e" opacity="0.81"/>
<ellipse cx="99.33" cy="97.65" rx="0.47" ry="0.42" fill="#287e8d" opacity="0.89"/>
<ellipse cx="118.91" cy="103.97" rx="0.99" ry="0.8" fill="#2a798e" opacity="0.88"/>
<ellipse cx="134.77" cy="116.76" rx="0.99" ry="0.73" fill="#219a89" opacity="0.78"/>
<ellipse cx="121.73" cy="123.12" rx="0.51" ry="0.42" fill="#2b758e" opacity="0.69"/>
<ellipse cx="116.12" cy="111.02" rx="0.65" ry="0.74" fill="#21978a" opacity="0.8"/>
<ellipse cx="92.74" cy="95.52" rx="0.57" ry="0.48" fill="#238b8d" opacity="0.58"/>
<ellipse cx="119.73" cy="103.16" rx="0.65" ry="0.73" fill="#219c88" opacity="0.58"/>
<ellipse cx="107.02" cy="128.66" rx="0.57" ry="0.41" fill="#2a788e" opacity="0.83"/>
<ellipse cx="124.64" cy="126.94" rx="0.72" ry="0.52" fill="#287d8e" opacity="0.79"/>
<ellipse cx="109.07" cy="94.98" rx="0.66" ry="0.64" fill="#27808d" opacity="0.68"/>
<ellipse cx="97.27" cy="90.59" rx="0.88" ry="1" fill="#26838d" opacity="0.55"/>
<ellipse cx="104.59" cy="111.73" rx="0.94" ry="0.93" fill="#229e88" opacity="0.71"/>
<ellipse cx="99.33" cy="114" rx="0.78" ry="0.83" fill="#21928c" opacity="0.51"/>
<ellipse cx="111.1" cy="121.41" rx="0.53" ry="0.38" fill="#2a778e" opacity="0.61"/>
<ellipse cx="111.02" cy="101.97" rx="0.8" ry="0.64" fill="#277f8d" opacity="0.77"/>
<ellipse cx="116.04" cy="127.75" rx="0.96" ry="0.82" fill="#287f8d" opacity="0.72"/>
<ellipse cx="116.03" cy="104.03" rx="0.92" ry="0.76" fill="#25868d" opacity="0.55"/>
<ellipse cx="131.62" cy="113.23" rx="0.99" ry="0.78" fill="#21928c" opacity="0.74"/>
<ellipse cx="93.37" cy="122.2" rx="0.93" ry="0.7" fill="#219c88" opacity="0.81"/>
<ellipse cx="118.81" cy="111.15" rx="0.59" ry="0.44" fill="#25868d" opacity="0.85"/>
<ellipse cx="100.62" cy="108.3" rx="0.61" ry="0.67" fill="#229d88" opacity="0.86"/>
<ellipse cx="104.24" cy="106.08" rx="0.45" ry="0.46" fill="#21988a" opacity="0.84"/>
<ellipse cx="94.31" cy="106.74" rx="0.49" ry="0.47" fill="#219b89" opacity="0.61"/>
<ellipse cx="129.9" cy="127.61" rx="0.9" ry="0.74" fill="#219b89" opacity="0.87"/>
<ellipse cx="136.93" cy="89.82" rx="0.45" ry="0.4" fill="#24888d" opacity="0.67"/>
<ellipse cx="95.25" cy="115.02" rx="0.82" ry="0.88" fill="#24888d" opacity="0.72"/>
<ellipse cx="122.73" cy="91.98" rx="0.69" ry="0.54" fill="#2c738e" opacity="0.8"/>
<ellipse cx="105.92" cy="102.97" rx="0.6" ry="0.63" fill="#2c748e" opacity="0.76"/>
<ellipse cx="94.24" cy="127.61" rx="0.54" ry="0.62" fill="#24898d" opacity="0.67"/>
<ellipse cx="104.99" cy="103.77" rx="0.87" ry="0.88" fill="#24898d" opacity="0.6"/>
<ellipse cx="119.74" cy="96.22" rx="0.72" ry="0.78" fill="#24898d" opacity="0.73"/>
<ellipse cx="117.23" cy="97.16" rx="0.98" ry="1.08" fill="#21928c" opacity="0.88"/>
<ellipse cx="111.78" cy="102.71" rx="0.62" ry="0.55" fill="#287d8e" opacity="0.63"/>
<ellipse cx="100.62" cy="108.76" rx="0.61" ry="0.56" fill="#228f8c" opacity="0.63"/>
<ellipse cx="130.72" cy="121.3" rx="0.63" ry="0.76" fill="#2b778e" opacity="0.54"/>
<ellipse cx="136.76" cy="90.72" rx="0.45" ry="0.55" fill="#2e6e8e" opacity="0.76"/>
<ellipse cx="116.57" cy="98.31" rx="0.59" ry="0.75" fill="#27828d" opacity="0.6"/>
<ellipse cx="111.31" cy="118.69" rx="0.61" ry="0.46" fill="#21958b" opacity="0.54"/>
<ellipse cx="93.55" cy="89.59" rx="1" ry="0.96" fill="#21938b" opacity="0.72"/>
<ellipse cx="135.84" cy="103.13" rx="0.64" ry="0.71" fill="#2e6e8e" opacity="0.65"/>
<ellipse cx="125.93" cy="112.31" rx="0.72" ry="0.91" fill="#26848d" opacity="0.79"/>
<ellipse cx="109.05" cy="92.86" rx="0.66" ry="0.55" fill="#2e6f8e" opacity="0.61"/>
<ellipse cx="96.81" cy="107.66" rx="0.86" ry="0.99" fill="#219989" opacity="0.63"/>
<ellipse cx="121.8" cy="124.97" rx="0.67" ry="0.83" fill="#2c738e" opacity="0.87"/>
<ellipse cx="131.53" cy="128.6" rx="0.91" ry="1.02" fill="#26848d" opacity="0.79"/>
<ellipse cx="131.41" cy="112.43" rx="0.79" ry="0.99" fill="#287c8e" opacity="0.63"/>
<ellipse cx="92.63" cy="124.51" rx="0.8" ry="0.88" fill="#297a8e" opacity="0.57"/>
<ellipse cx="113.02" cy="124.48" rx="0.65" ry="0.61" fill="#26838d" opacity="0.84"/>
<ellipse cx="96.7" cy="124.02" rx="0.46" ry="0.51" fill="#21948b" opacity="0.69"/>
<ellipse cx="125.12" cy="100.62" rx="0.53" ry="0.48" fill="#297b8e" opacity="0.79"/>
<ellipse cx="116.95" cy="115.83" rx="0.99" ry="1.15" fill="#21958b" opacity="0.89"/>
<ellipse cx="133.72" cy="119.06" rx="0.64" ry="0.64" fill="#21948b" opacity="0.81"/>
<ellipse cx="132.39" cy="119.09" rx="0.82" ry="0.7" fill="#228d8c" opacity="0.57"/>
<ellipse cx="98" cy="100.4" rx="1.5" ry="1.5" fill="#9cd83c"/>
<ellipse cx="105" cy="95.4" rx="0.9" ry="1.7" fill="#bddf26"/>
<ellipse cx="118" cy="99.4" rx="1.6" ry="1.6" fill="#5fc860"/>
<ellipse cx="114.5" cy="120.4" rx="1.5" ry="2" fill="#44bf70"/>
</g>
</g>
<g clip-path="url(#bc11)">
<g filter="url(#b04)">
<circle cx="102.3" cy="100.9" r="2.3" fill="none" stroke="#22a884" stroke-width="0.7"/>
<circle cx="125.5" cy="100.9" r="2.3" fill="none" stroke="#22a884" stroke-width="0.7"/>
</g>
</g>
<g filter="url(#b05)">
<path d="M90.6,114.4 L103.8,123 M138.4,114.4 L125.4,123" stroke="#440154" stroke-width="1.4" fill="none"/>
<rect x="113.4" y="102.4" width="1.4" height="8" fill="#472a79"/>
</g>
</g>
<rect x="90.2" y="87.4" width="48.5" height="47.9" fill="none" stroke="#1a1a1a" stroke-width="0.9"/>
<g clip-path="url(#cp13)"><rect x="143.3" y="87.4" width="15.5" height="47.9" fill="#440154"/>
<g filter="url(#b06)">
<path d="M148,90.4 Q150,88.4 156,88.4 L158.8,88.4 L158.8,130.4 L150,130.4 Q144.5,129.4 144.5,123.4 L144.5,99.4 Q145,92.4 148,90.4 Z" fill="#2a788e"/>
</g>
<g filter="url(#b06)">
<ellipse cx="153.1" cy="118.59" rx="0.89" ry="1.12" fill="#21928c" opacity="0.87"/>
<ellipse cx="145.38" cy="108.09" rx="0.97" ry="1.06" fill="#219989" opacity="0.55"/>
<ellipse cx="151.1" cy="99.77" rx="0.75" ry="0.78" fill="#2c748e" opacity="0.59"/>
<ellipse cx="148.63" cy="125.22" rx="0.87" ry="0.69" fill="#21958b" opacity="0.56"/>
<ellipse cx="153.03" cy="95.21" rx="0.45" ry="0.55" fill="#297c8e" opacity="0.59"/>
<ellipse cx="157.77" cy="123.55" rx="0.61" ry="0.78" fill="#248a8d" opacity="0.77"/>
<ellipse cx="147.66" cy="126.16" rx="0.83" ry="1.06" fill="#219889" opacity="0.62"/>
<ellipse cx="149.7" cy="96.71" rx="0.53" ry="0.39" fill="#27808d" opacity="0.74"/>
<ellipse cx="145.04" cy="116.16" rx="0.64" ry="0.56" fill="#21958a" opacity="0.69"/>
<ellipse cx="149.11" cy="108.69" rx="0.84" ry="0.61" fill="#219c88" opacity="0.51"/>
<ellipse cx="154.75" cy="122.51" rx="0.46" ry="0.54" fill="#26838d" opacity="0.73"/>
<ellipse cx="145.12" cy="92.18" rx="0.55" ry="0.7" fill="#297b8e" opacity="0.8"/>
<ellipse cx="157.09" cy="126.2" rx="0.64" ry="0.58" fill="#24898d" opacity="0.81"/>
<ellipse cx="146.4" cy="118.84" rx="0.89" ry="1.08" fill="#2c758e" opacity="0.88"/>
<ellipse cx="146.19" cy="103.35" rx="0.79" ry="0.98" fill="#27818d" opacity="0.87"/>
<ellipse cx="152.09" cy="102.27" rx="0.62" ry="0.5" fill="#2b768e" opacity="0.56"/>
<ellipse cx="153.96" cy="128.28" rx="0.54" ry="0.39" fill="#219c88" opacity="0.71"/>
<ellipse cx="150.28" cy="99.42" rx="0.78" ry="0.93" fill="#25868d" opacity="0.67"/>
<ellipse cx="145.72" cy="125.21" rx="0.47" ry="0.47" fill="#21968a" opacity="0.55"/>
<ellipse cx="154.51" cy="126.49" rx="0.8" ry="0.93" fill="#2a788e" opacity="0.67"/>
<ellipse cx="154" cy="101.4" rx="2.5" ry="1.2" fill="#dde326"/>
<ellipse cx="154" cy="94.4" rx="1.5" ry="1" fill="#9cd83c"/>
<ellipse cx="153" cy="122.4" rx="2.5" ry="1.2" fill="#5fc860"/>
</g>
</g>
<rect x="143.3" y="87.4" width="15.5" height="47.9" fill="none" stroke="#1a1a1a" stroke-width="0.9"/>
<g clip-path="url(#cp14)"><rect x="90.2" y="140" width="48.5" height="15.5" fill="#440154"/>
<g filter="url(#b06)">
<rect x="90.5" y="140.5" width="48" height="13" fill="#287d8e" rx="3"/>
</g>
<g filter="url(#b06)">
<ellipse cx="127.49" cy="150.86" rx="0.72" ry="0.61" fill="#2a788e" opacity="0.77"/>
<ellipse cx="112.63" cy="150.12" rx="0.66" ry="0.76" fill="#24898d" opacity="0.82"/>
<ellipse cx="124.57" cy="145.97" rx="0.75" ry="0.83" fill="#26848d" opacity="0.72"/>
<ellipse cx="128.04" cy="144.19" rx="0.89" ry="0.99" fill="#26ab82" opacity="0.63"/>
<ellipse cx="95.28" cy="150.6" rx="0.89" ry="0.86" fill="#287e8e" opacity="0.58"/>
<ellipse cx="120.21" cy="144.49" rx="0.97" ry="1.02" fill="#25858d" opacity="0.76"/>
<ellipse cx="107.58" cy="152.19" rx="0.95" ry="0.96" fill="#229f87" opacity="0.78"/>
<ellipse cx="128.05" cy="152.72" rx="0.47" ry="0.43" fill="#229d88" opacity="0.62"/>
<ellipse cx="118.1" cy="142.08" rx="0.93" ry="0.95" fill="#277f8d" opacity="0.77"/>
<ellipse cx="105.36" cy="143.35" rx="0.72" ry="0.56" fill="#25858d" opacity="0.85"/>
<ellipse cx="123.12" cy="141.15" rx="0.88" ry="0.62" fill="#238d8c" opacity="0.86"/>
<ellipse cx="119.53" cy="144.67" rx="0.66" ry="0.61" fill="#27808d" opacity="0.9"/>
<ellipse cx="93.48" cy="146.07" rx="0.86" ry="0.81" fill="#31b27b" opacity="0.6"/>
<ellipse cx="136.05" cy="151.71" rx="0.82" ry="1.01" fill="#21948b" opacity="0.83"/>
<ellipse cx="127.62" cy="147.2" rx="0.71" ry="0.8" fill="#21928c" opacity="0.53"/>
<ellipse cx="125.34" cy="144.19" rx="0.72" ry="0.84" fill="#26838d" opacity="0.51"/>
<ellipse cx="96.68" cy="148.07" rx="0.65" ry="0.55" fill="#21948b" opacity="0.87"/>
<ellipse cx="102.72" cy="145.93" rx="0.93" ry="1" fill="#24898d" opacity="0.69"/>
<ellipse cx="113.01" cy="142.71" rx="0.66" ry="0.58" fill="#22a884" opacity="0.63"/>
<ellipse cx="121.33" cy="152.65" rx="0.96" ry="0.89" fill="#229d88" opacity="0.63"/>
<ellipse cx="109.32" cy="146.86" rx="0.89" ry="1.12" fill="#238a8d" opacity="0.5"/>
<ellipse cx="111.67" cy="141.69" rx="0.47" ry="0.54" fill="#277f8d" opacity="0.79"/>
<ellipse cx="107.65" cy="152.26" rx="0.92" ry="0.68" fill="#26848d" opacity="0.88"/>
<ellipse cx="119.22" cy="146.07" rx="0.88" ry="1.05" fill="#21968a" opacity="0.69"/>
<ellipse cx="95.61" cy="145.34" rx="0.53" ry="0.57" fill="#229d88" opacity="0.56"/>
<ellipse cx="104" cy="147" rx="0.9" ry="3.5" fill="#fde725"/>
<ellipse cx="114" cy="145" rx="0.9" ry="2.5" fill="#7ad151"/>
<ellipse cx="122" cy="146" rx="0.9" ry="2.5" fill="#7ad151"/>
</g>
</g>
<rect x="90.2" y="140" width="48.5" height="15.5" fill="none" stroke="#1a1a1a" stroke-width="0.9"/>
<rect x="143.5" y="140" width="2.1" height="15.5" fill="url(#vircb)" stroke="#333" stroke-width="0.4"/>
<text x="146.7" y="145" font-size="8.3">4%</text>
<text x="146.7" y="155.9" font-size="8.3">0</text>
<g clip-path="url(#cp15)"><rect x="13.1" y="165.1" width="48.9" height="47.7" fill="#440154"/>
<g filter="url(#b30)">
<ellipse cx="37" cy="179.1" rx="25" ry="12" fill="#375a8c"/>
<ellipse cx="37" cy="195.1" rx="25" ry="10" fill="#472a79"/>
<ellipse cx="37" cy="207.1" rx="25" ry="8" fill="#461668"/>
</g>
<g filter="url(#b16)">
<ellipse cx="28.5" cy="178.1" rx="9" ry="10" fill="#2a788e"/>
<ellipse cx="46" cy="177.1" rx="9.5" ry="10" fill="#287d8e"/>
<ellipse cx="27.5" cy="173.1" rx="5" ry="3.5" fill="#22a884"/>
<ellipse cx="47" cy="172.1" rx="6" ry="4" fill="#22a884"/>
</g>
<g filter="url(#b08)">
<ellipse cx="27" cy="173.1" rx="2" ry="2.5" fill="#cae126"/>
<ellipse cx="47.5" cy="171.3" rx="2.5" ry="1.8" fill="#cae126"/>
<ellipse cx="29.57" cy="186.87" rx="0.81" ry="0.6" fill="#433b82" opacity="0.65"/>
<ellipse cx="17.61" cy="195.79" rx="0.47" ry="0.45" fill="#482172" opacity="0.54"/>
<ellipse cx="34.1" cy="203.77" rx="0.52" ry="0.43" fill="#424085" opacity="0.88"/>
<ellipse cx="40.97" cy="193.02" rx="0.99" ry="0.72" fill="#3e4b89" opacity="0.62"/>
<ellipse cx="21.49" cy="186.04" rx="0.62" ry="0.74" fill="#472777" opacity="0.73"/>
<ellipse cx="43.75" cy="192.41" rx="0.75" ry="0.55" fill="#482172" opacity="0.58"/>
<ellipse cx="45.62" cy="193.79" rx="0.62" ry="0.65" fill="#44367f" opacity="0.62"/>
<ellipse cx="50.75" cy="200.57" rx="0.58" ry="0.61" fill="#433a81" opacity="0.85"/>
<ellipse cx="47.83" cy="190.3" rx="0.99" ry="0.76" fill="#44347e" opacity="0.8"/>
<ellipse cx="21.84" cy="195.32" rx="0.47" ry="0.52" fill="#404788" opacity="0.73"/>
<ellipse cx="54.4" cy="190.94" rx="0.83" ry="0.88" fill="#423d83" opacity="0.68"/>
<ellipse cx="52.8" cy="206.72" rx="0.71" ry="0.78" fill="#482172" opacity="0.78"/>
<ellipse cx="44.12" cy="207.93" rx="0.9" ry="0.79" fill="#45337d" opacity="0.77"/>
<ellipse cx="16.02" cy="194.64" rx="0.54" ry="0.42" fill="#482172" opacity="0.81"/>
<ellipse cx="20.82" cy="189.29" rx="0.67" ry="0.81" fill="#482273" opacity="0.68"/>
<ellipse cx="39.72" cy="205.18" rx="0.9" ry="1.1" fill="#462d7a" opacity="0.67"/>
<ellipse cx="31.14" cy="205.2" rx="0.98" ry="0.77" fill="#472777" opacity="0.59"/>
<ellipse cx="25.5" cy="195.22" rx="0.77" ry="0.66" fill="#471d6f" opacity="0.67"/>
<ellipse cx="31.62" cy="197.26" rx="0.97" ry="1.09" fill="#433a81" opacity="0.75"/>
<ellipse cx="45.43" cy="184.45" rx="0.94" ry="1.1" fill="#3e4c89" opacity="0.82"/>
<ellipse cx="32.66" cy="193.07" rx="0.51" ry="0.55" fill="#482172" opacity="0.53"/>
<ellipse cx="24.39" cy="187.16" rx="0.64" ry="0.47" fill="#471d6e" opacity="0.56"/>
<ellipse cx="19.57" cy="192.19" rx="0.46" ry="0.57" fill="#423f84" opacity="0.56"/>
<ellipse cx="26.35" cy="191.78" rx="0.65" ry="0.5" fill="#3e4b88" opacity="0.9"/>
<ellipse cx="35.97" cy="195.2" rx="0.5" ry="0.38" fill="#45307c" opacity="0.61"/>
<ellipse cx="52.3" cy="187.14" rx="0.46" ry="0.59" fill="#433a82" opacity="0.56"/>
<ellipse cx="39.44" cy="183.78" rx="0.74" ry="0.95" fill="#3e4b89" opacity="0.78"/>
<ellipse cx="26.75" cy="192.27" rx="0.54" ry="0.63" fill="#433b82" opacity="0.81"/>
<ellipse cx="29.83" cy="188.68" rx="0.9" ry="1.16" fill="#3e4b88" opacity="0.82"/>
<ellipse cx="51.82" cy="201.6" rx="0.57" ry="0.58" fill="#45317c" opacity="0.51"/>
</g>
<g filter="url(#b05)">
<rect x="37" y="173.1" width="1" height="16" fill="#44347e"/>
</g>
</g>
<rect x="13.1" y="165.1" width="48.9" height="47.7" fill="none" stroke="#1a1a1a" stroke-width="0.9"/>
<ellipse cx="17.3" cy="176" rx="3.1" ry="2.9" fill="none" stroke="#fff" stroke-width="0.7" stroke-dasharray="0.9 0.9"/>
<text x="22" y="173.1" fill="#fff">LH</text>
<g clip-path="url(#cp16)"><rect x="66.1" y="165.1" width="15.8" height="47.7" fill="#440154"/>
<g filter="url(#b25)">
<ellipse cx="74" cy="185.1" rx="9" ry="10" fill="#355f8d"/>
<ellipse cx="74" cy="197.1" rx="8" ry="6" fill="#44347e"/>
</g>
<g filter="url(#b12)">
<ellipse cx="75" cy="176.1" rx="6.5" ry="6" fill="#22a884"/>
<ellipse cx="73.5" cy="184.6" rx="5" ry="2" fill="#21918c"/>
<ellipse cx="74" cy="189.6" rx="5" ry="2" fill="#26848d"/>
</g>
<g filter="url(#b08)">
<ellipse cx="76.5" cy="172.6" rx="4" ry="2.6" fill="#fde725"/>
</g>
</g>
<rect x="66.1" y="165.1" width="15.8" height="47.7" fill="none" stroke="#1a1a1a" stroke-width="0.9"/>
<g clip-path="url(#cp17)"><rect x="13.1" y="217.3" width="48.9" height="15.7" fill="#440154"/>
<g filter="url(#b15)">
<rect x="14" y="218.3" width="47" height="13.5" fill="#2e6e8e" rx="3"/>
<ellipse cx="28.5" cy="224.8" rx="6" ry="7" fill="#29ad80"/>
<ellipse cx="47" cy="224.8" rx="5.5" ry="7" fill="#22a884"/>
<ellipse cx="20" cy="223.3" rx="4" ry="5" fill="#26848d"/>
<ellipse cx="55" cy="223.3" rx="4" ry="5" fill="#26848d"/>
</g>
<g filter="url(#b08)">
<ellipse cx="28" cy="223.3" rx="2.2" ry="5" fill="#dde326"/>
<ellipse cx="30.5" cy="225.3" rx="1.5" ry="4" fill="#7ad151"/>
<ellipse cx="47.2" cy="223.3" rx="2" ry="4.5" fill="#b0dc2f"/>
<rect x="36.9" y="218.8" width="1.5" height="13" fill="#44347e"/>
</g>
</g>
<rect x="13.1" y="217.3" width="48.9" height="15.7" fill="none" stroke="#1a1a1a" stroke-width="0.9"/>
<rect x="66.6" y="217.3" width="2.1" height="15.7" fill="url(#vircb)" stroke="#333" stroke-width="0.4"/>
<text x="69.8" y="222.3" font-size="8.3">0.15</text>
<text x="69.8" y="233.4" font-size="8.3">0</text>
<g clip-path="url(#cp19)"><rect x="90.2" y="165.1" width="48.5" height="47.7" fill="#440154"/>
<g filter="url(#b05)">
<path d="M91,168.57 L93.2,166.29 L99.2,165.4 L107.2,165.7 L111.7,167.28 L114.2,169.56 L116.7,167.28 L121.2,165.7 L129.2,165.4 L135.7,166.29 L138,168.57 L138,203.48 L131.2,198.52 L125.8,201.3 L125.8,205.26 L123.2,208.04 L118.2,208.24 L110.2,208.24 L105.4,208.04 L103.4,205.26 L103.4,201.3 L97.7,198.52 L91,203.48Z" fill="#2e6e8e"/>
</g>
<g clip-path="url(#bc18)">
<g filter="url(#b18)">
<ellipse cx="114.5" cy="206.1" rx="8" ry="4" fill="#3f4988"/>
<ellipse cx="101" cy="177.1" rx="9" ry="8" fill="#26828d"/>
<ellipse cx="128" cy="177.1" rx="9" ry="8" fill="#26828d"/>
<ellipse cx="114.5" cy="185.1" rx="7" ry="6" fill="#25878d"/>
</g>
</g>
<g clip-path="url(#bc18)">
<g filter="url(#b06)">
<ellipse cx="101.43" cy="203.67" rx="0.52" ry="0.58" fill="#31688d" opacity="0.6"/>
<ellipse cx="136.96" cy="175.06" rx="0.8" ry="0.78" fill="#2a788e" opacity="0.7"/>
<ellipse cx="99.84" cy="198.66" rx="0.5" ry="0.42" fill="#32658d" opacity="0.61"/>
<ellipse cx="109.75" cy="201.38" rx="0.66" ry="0.51" fill="#2e708e" opacity="0.9"/>
<ellipse cx="93.9" cy="190.67" rx="0.66" ry="0.72" fill="#2c738e" opacity="0.78"/>
<ellipse cx="113.89" cy="191.79" rx="0.95" ry="0.99" fill="#306a8d" opacity="0.53"/>
<ellipse cx="134.52" cy="185.67" rx="0.56" ry="0.71" fill="#287e8e" opacity="0.79"/>
<ellipse cx="131.52" cy="177.95" rx="0.65" ry="0.79" fill="#306a8d" opacity="0.81"/>
<ellipse cx="95.49" cy="193.33" rx="0.84" ry="1.06" fill="#248a8d" opacity="0.7"/>
<ellipse cx="100.09" cy="172.81" rx="0.74" ry="0.75" fill="#31678d" opacity="0.86"/>
<ellipse cx="114.34" cy="193.75" rx="0.57" ry="0.48" fill="#33658d" opacity="0.64"/>
<ellipse cx="103.27" cy="183.19" rx="0.66" ry="0.79" fill="#238c8c" opacity="0.57"/>
<ellipse cx="109.23" cy="173.41" rx="0.81" ry="1.05" fill="#2f6d8e" opacity="0.81"/>
<ellipse cx="104.8" cy="167.6" rx="0.87" ry="0.79" fill="#2f6c8e" opacity="0.67"/>
<ellipse cx="101.66" cy="182.68" rx="0.7" ry="0.66" fill="#287e8d" opacity="0.62"/>
<ellipse cx="95.38" cy="170.34" rx="0.51" ry="0.51" fill="#2c748e" opacity="0.82"/>
<ellipse cx="114.23" cy="194.01" rx="0.99" ry="0.73" fill="#32658d" opacity="0.56"/>
<ellipse cx="108.77" cy="188.9" rx="0.86" ry="0.78" fill="#228f8c" opacity="0.5"/>
<ellipse cx="129.44" cy="175.08" rx="0.93" ry="0.67" fill="#228f8c" opacity="0.8"/>
<ellipse cx="136.56" cy="189.14" rx="0.55" ry="0.7" fill="#2a788e" opacity="0.53"/>
<ellipse cx="118.85" cy="185.99" rx="0.71" ry="0.56" fill="#30698d" opacity="0.73"/>
<ellipse cx="111.82" cy="171.91" rx="0.69" ry="0.79" fill="#26848d" opacity="0.69"/>
<ellipse cx="109.11" cy="180.81" rx="0.57" ry="0.47" fill="#2a788e" opacity="0.54"/>
<ellipse cx="124.36" cy="194.02" rx="0.79" ry="0.56" fill="#2c748e" opacity="0.67"/>
<ellipse cx="95.29" cy="203.88" rx="0.87" ry="0.87" fill="#26848d" opacity="0.58"/>
<ellipse cx="101.55" cy="187.08" rx="0.86" ry="0.94" fill="#33648d" opacity="0.75"/>
<ellipse cx="132.81" cy="195.35" rx="0.96" ry="1.24" fill="#2e6e8e" opacity="0.62"/>
<ellipse cx="116.18" cy="204.22" rx="0.65" ry="0.83" fill="#238a8d" opacity="0.71"/>
<ellipse cx="119.76" cy="203.47" rx="0.88" ry="0.77" fill="#238a8d" opacity="0.58"/>
<ellipse cx="108.02" cy="203.53" rx="0.92" ry="0.81" fill="#2d718e" opacity="0.75"/>
<ellipse cx="129.76" cy="193.1" rx="0.96" ry="1.1" fill="#24898d" opacity="0.74"/>
<ellipse cx="107.66" cy="183.35" rx="0.72" ry="0.73" fill="#248a8d" opacity="0.61"/>
<ellipse cx="94.16" cy="194.96" rx="0.6" ry="0.57" fill="#30698d" opacity="0.83"/>
<ellipse cx="103.6" cy="178.18" rx="0.89" ry="0.89" fill="#2d708e" opacity="0.86"/>
<ellipse cx="109.94" cy="180.83" rx="0.98" ry="1.15" fill="#25868d" opacity="0.6"/>
<ellipse cx="128.41" cy="189.77" rx="0.91" ry="0.83" fill="#25878d" opacity="0.82"/>
<ellipse cx="108.85" cy="191.98" rx="0.88" ry="1.14" fill="#228d8c" opacity="0.81"/>
<ellipse cx="97.29" cy="190.29" rx="0.83" ry="0.62" fill="#2a798e" opacity="0.85"/>
<ellipse cx="132.65" cy="202.26" rx="0.5" ry="0.53" fill="#238b8c" opacity="0.76"/>
<ellipse cx="105.72" cy="168.57" rx="0.96" ry="1.16" fill="#27818d" opacity="0.65"/>
<ellipse cx="129.11" cy="198.06" rx="0.85" ry="0.9" fill="#2c728e" opacity="0.62"/>
<ellipse cx="107.44" cy="179.52" rx="0.74" ry="0.57" fill="#26848d" opacity="0.64"/>
<ellipse cx="98.35" cy="176.79" rx="0.66" ry="0.64" fill="#25878d" opacity="0.54"/>
<ellipse cx="101.24" cy="178.24" rx="0.55" ry="0.63" fill="#31698d" opacity="0.52"/>
<ellipse cx="116.57" cy="195.07" rx="0.9" ry="0.94" fill="#2c738e" opacity="0.85"/>
<ellipse cx="124.86" cy="185.3" rx="0.76" ry="0.96" fill="#21918c" opacity="0.87"/>
<ellipse cx="97.1" cy="179.52" rx="0.67" ry="0.54" fill="#25868d" opacity="0.52"/>
<ellipse cx="131.82" cy="189.35" rx="0.79" ry="0.75" fill="#228e8c" opacity="0.73"/>
<ellipse cx="132.24" cy="202.16" rx="0.83" ry="1.07" fill="#297a8e" opacity="0.65"/>
<ellipse cx="129.82" cy="187.16" rx="0.62" ry="0.69" fill="#29798e" opacity="0.55"/>
<ellipse cx="129.54" cy="186.1" rx="0.98" ry="1" fill="#228e8c" opacity="0.62"/>
<ellipse cx="101" cy="187.11" rx="0.87" ry="1.04" fill="#27818d" opacity="0.55"/>
<ellipse cx="109.13" cy="168.43" rx="0.65" ry="0.83" fill="#2c748e" opacity="0.78"/>
<ellipse cx="119.59" cy="172.54" rx="0.83" ry="0.62" fill="#2f6c8e" opacity="0.73"/>
<ellipse cx="96.86" cy="203.75" rx="0.68" ry="0.74" fill="#228f8c" opacity="0.54"/>
<ellipse cx="136.96" cy="168.6" rx="0.78" ry="0.85" fill="#21908c" opacity="0.64"/>
<ellipse cx="134.55" cy="191.81" rx="0.71" ry="0.57" fill="#2e6f8e" opacity="0.65"/>
<ellipse cx="106.93" cy="181.23" rx="0.89" ry="0.83" fill="#27808d" opacity="0.52"/>
<ellipse cx="97.47" cy="194.08" rx="0.94" ry="0.83" fill="#32658d" opacity="0.59"/>
<ellipse cx="107.58" cy="181.02" rx="0.76" ry="0.67" fill="#27818d" opacity="0.81"/>
<ellipse cx="127.03" cy="195.27" rx="0.77" ry="0.66" fill="#248a8d" opacity="0.62"/>
<ellipse cx="130.56" cy="184.09" rx="0.8" ry="0.8" fill="#27818d" opacity="0.64"/>
<ellipse cx="117.61" cy="195.09" rx="0.65" ry="0.69" fill="#2a798e" opacity="0.69"/>
<ellipse cx="108.65" cy="187.87" rx="0.84" ry="0.68" fill="#306b8d" opacity="0.83"/>
<ellipse cx="95.07" cy="197.24" rx="0.87" ry="0.72" fill="#27818d" opacity="0.6"/>
<ellipse cx="131.56" cy="174.6" rx="0.51" ry="0.37" fill="#26848d" opacity="0.58"/>
<ellipse cx="105.46" cy="204.22" rx="0.85" ry="0.98" fill="#287e8e" opacity="0.76"/>
<ellipse cx="91.51" cy="197.98" rx="0.63" ry="0.77" fill="#2b778e" opacity="0.86"/>
<ellipse cx="91.02" cy="204.36" rx="0.5" ry="0.51" fill="#297a8e" opacity="0.89"/>
<ellipse cx="123.97" cy="204.41" rx="0.95" ry="0.91" fill="#306b8d" opacity="0.56"/>
<ellipse cx="123.63" cy="203.25" rx="0.82" ry="0.74" fill="#287f8d" opacity="0.76"/>
<ellipse cx="102.64" cy="193.47" rx="0.56" ry="0.4" fill="#32678d" opacity="0.7"/>
<ellipse cx="123.02" cy="175.67" rx="0.67" ry="0.75" fill="#2e708e" opacity="0.71"/>
<ellipse cx="118.73" cy="182.53" rx="0.56" ry="0.63" fill="#26848d" opacity="0.58"/>
<ellipse cx="128.14" cy="192" rx="0.93" ry="1.08" fill="#297a8e" opacity="0.79"/>
<ellipse cx="105.47" cy="191.93" rx="0.5" ry="0.45" fill="#297b8e" opacity="0.85"/>
<ellipse cx="122.46" cy="201.64" rx="0.93" ry="1.19" fill="#27808d" opacity="0.75"/>
<ellipse cx="112.57" cy="175.51" rx="0.89" ry="0.95" fill="#306b8d" opacity="0.6"/>
<ellipse cx="101.16" cy="194.56" rx="0.78" ry="0.64" fill="#26838d" opacity="0.73"/>
<ellipse cx="103.26" cy="183.99" rx="1" ry="0.78" fill="#2e6f8e" opacity="0.74"/>
<ellipse cx="129.64" cy="202.12" rx="0.67" ry="0.78" fill="#30698d" opacity="0.65"/>
<ellipse cx="130.42" cy="192.37" rx="0.7" ry="0.74" fill="#297a8e" opacity="0.72"/>
<ellipse cx="131.67" cy="204.17" rx="0.56" ry="0.65" fill="#228f8c" opacity="0.74"/>
<ellipse cx="114.02" cy="181.26" rx="0.72" ry="0.75" fill="#27808d" opacity="0.55"/>
<ellipse cx="136.95" cy="177.59" rx="0.75" ry="0.62" fill="#27808d" opacity="0.53"/>
<ellipse cx="106.43" cy="181.72" rx="0.62" ry="0.62" fill="#306b8d" opacity="0.7"/>
<ellipse cx="127.6" cy="190.99" rx="0.98" ry="1.25" fill="#29798e" opacity="0.69"/>
<ellipse cx="126.07" cy="200.53" rx="0.75" ry="0.82" fill="#26838d" opacity="0.71"/>
<ellipse cx="114.38" cy="182.34" rx="0.7" ry="0.69" fill="#24888d" opacity="0.56"/>
<ellipse cx="96.41" cy="202.19" rx="0.73" ry="0.82" fill="#228d8c" opacity="0.79"/>
<ellipse cx="117.06" cy="203.28" rx="0.79" ry="0.77" fill="#2f6c8e" opacity="0.56"/>
<ellipse cx="127.45" cy="201.17" rx="0.65" ry="0.66" fill="#26838d" opacity="0.74"/>
<ellipse cx="103.67" cy="201.73" rx="0.75" ry="0.85" fill="#26838d" opacity="0.68"/>
<ellipse cx="123.26" cy="174.32" rx="0.75" ry="0.82" fill="#27808d" opacity="0.62"/>
<ellipse cx="99.35" cy="170.95" rx="0.52" ry="0.42" fill="#297a8e" opacity="0.73"/>
<ellipse cx="123.48" cy="183.74" rx="0.87" ry="0.63" fill="#2c748e" opacity="0.55"/>
<ellipse cx="114.76" cy="188.85" rx="0.77" ry="0.74" fill="#2c758e" opacity="0.63"/>
<ellipse cx="95.89" cy="174.45" rx="0.72" ry="0.75" fill="#31698d" opacity="0.84"/>
<ellipse cx="92.28" cy="171.89" rx="0.7" ry="0.63" fill="#297b8e" opacity="0.78"/>
<ellipse cx="118.36" cy="196.93" rx="0.71" ry="0.78" fill="#2b778e" opacity="0.55"/>
<ellipse cx="94.41" cy="174.01" rx="0.69" ry="0.6" fill="#287d8e" opacity="0.77"/>
<ellipse cx="133.29" cy="172.79" rx="0.98" ry="0.68" fill="#238c8c" opacity="0.89"/>
<ellipse cx="107.8" cy="197.44" rx="0.73" ry="0.75" fill="#238b8d" opacity="0.88"/>
<ellipse cx="104.81" cy="175.45" rx="0.95" ry="1.01" fill="#238d8c" opacity="0.59"/>
<ellipse cx="130.06" cy="173.16" rx="0.53" ry="0.46" fill="#228e8c" opacity="0.65"/>
<ellipse cx="111.25" cy="178.08" rx="0.49" ry="0.47" fill="#297a8e" opacity="0.63"/>
<ellipse cx="124.61" cy="178.87" rx="0.99" ry="1.23" fill="#287e8e" opacity="0.54"/>
<ellipse cx="116.75" cy="190.7" rx="0.81" ry="0.77" fill="#25858d" opacity="0.9"/>
<ellipse cx="123.31" cy="168.66" rx="0.8" ry="0.85" fill="#287d8e" opacity="0.88"/>
<ellipse cx="93.41" cy="167.75" rx="0.85" ry="0.64" fill="#306a8d" opacity="0.83"/>
</g>
</g>
<g clip-path="url(#bc18)">
<g filter="url(#b04)">
<circle cx="114.5" cy="177.1" r="2.3" fill="none" stroke="#229c88" stroke-width="0.6"/>
</g>
</g>
<g filter="url(#b05)">
<path d="M90.6,192.1 L103.8,200.7 M138.4,192.1 L125.4,200.7" stroke="#440154" stroke-width="1.4" fill="none"/>
<rect x="113.4" y="180.1" width="1.4" height="8" fill="#472a79"/>
</g>
</g>
<rect x="90.2" y="165.1" width="48.5" height="47.7" fill="none" stroke="#1a1a1a" stroke-width="0.9"/>
<g clip-path="url(#cp20)"><rect x="143.3" y="165.1" width="15.5" height="47.7" fill="#440154"/>
<g filter="url(#b06)">
<path d="M149,168.1 Q151,166.1 156,166.1 L158.5,166.1 L158.5,208.1 L152,208.1 Q145.5,205.1 145.5,199.1 L145.5,177.1 Q146,170.1 149,168.1 Z" fill="#2c738e"/>
</g>
<g filter="url(#b12)">
<ellipse cx="153" cy="183.1" rx="3" ry="8" fill="#229c88"/>
<ellipse cx="151.56" cy="182.29" rx="0.53" ry="0.64" fill="#2f6c8e" opacity="0.7"/>
<ellipse cx="156.78" cy="171.17" rx="0.75" ry="0.81" fill="#2f6e8e" opacity="0.65"/>
<ellipse cx="154.44" cy="185.28" rx="0.85" ry="0.67" fill="#2a778e" opacity="0.54"/>
<ellipse cx="152.08" cy="203.21" rx="0.77" ry="0.9" fill="#287f8d" opacity="0.8"/>
<ellipse cx="147.22" cy="179.16" rx="0.82" ry="0.93" fill="#27818d" opacity="0.54"/>
<ellipse cx="149.2" cy="176.08" rx="0.6" ry="0.72" fill="#2b758e" opacity="0.85"/>
<ellipse cx="156.55" cy="170.18" rx="0.66" ry="0.66" fill="#2f6d8e" opacity="0.67"/>
<ellipse cx="156.88" cy="172.36" rx="0.78" ry="0.6" fill="#24888d" opacity="0.86"/>
<ellipse cx="148.44" cy="168.41" rx="0.5" ry="0.51" fill="#2f6c8e" opacity="0.53"/>
<ellipse cx="151.96" cy="203.1" rx="0.68" ry="0.64" fill="#238b8c" opacity="0.54"/>
<ellipse cx="152.96" cy="174.66" rx="0.78" ry="1" fill="#2e6e8e" opacity="0.72"/>
<ellipse cx="153.28" cy="173.77" rx="0.6" ry="0.78" fill="#219c88" opacity="0.55"/>
<ellipse cx="154.47" cy="204.24" rx="0.58" ry="0.62" fill="#2f6e8e" opacity="0.65"/>
<ellipse cx="154.09" cy="190.53" rx="0.88" ry="0.66" fill="#287d8e" opacity="0.85"/>
<ellipse cx="153.01" cy="185.25" rx="0.67" ry="0.87" fill="#24888d" opacity="0.51"/>
</g>
</g>
<rect x="143.3" y="165.1" width="15.5" height="47.7" fill="none" stroke="#1a1a1a" stroke-width="0.9"/>
<g clip-path="url(#cp21)"><rect x="90.2" y="217.3" width="48.5" height="15.7" fill="#440154"/>
<g filter="url(#b06)">
<rect x="90.5" y="218.5" width="48" height="12.3" fill="#2a788e" rx="4"/>
</g>
<g filter="url(#b12)">
<ellipse cx="114.5" cy="224.3" rx="20" ry="4" fill="#21918c"/>
</g>
<g filter="url(#b06)">
<ellipse cx="117.28" cy="224.02" rx="0.77" ry="0.63" fill="#22a485" opacity="0.83"/>
<ellipse cx="121.06" cy="221.06" rx="0.74" ry="0.66" fill="#24898d" opacity="0.88"/>
<ellipse cx="136.84" cy="219.79" rx="0.92" ry="0.98" fill="#21908c" opacity="0.61"/>
<ellipse cx="122.05" cy="224.33" rx="0.83" ry="0.91" fill="#26848d" opacity="0.81"/>
<ellipse cx="136.19" cy="229.96" rx="0.79" ry="0.57" fill="#287d8e" opacity="0.55"/>
<ellipse cx="134.29" cy="222.63" rx="0.65" ry="0.81" fill="#238d8c" opacity="0.72"/>
<ellipse cx="111.06" cy="220.01" rx="0.77" ry="0.93" fill="#25858d" opacity="0.59"/>
<ellipse cx="109.99" cy="219.71" rx="0.72" ry="0.86" fill="#229d88" opacity="0.71"/>
<ellipse cx="130.34" cy="220.95" rx="0.76" ry="0.7" fill="#219a89" opacity="0.55"/>
<ellipse cx="126.67" cy="220.36" rx="0.54" ry="0.64" fill="#25aa82" opacity="0.67"/>
<ellipse cx="110.05" cy="222" rx="0.6" ry="0.64" fill="#25868d" opacity="0.55"/>
<ellipse cx="111.96" cy="221.11" rx="0.81" ry="0.96" fill="#22a286" opacity="0.69"/>
<ellipse cx="106.99" cy="224.08" rx="0.45" ry="0.51" fill="#228e8c" opacity="0.63"/>
<ellipse cx="94.68" cy="224.23" rx="0.77" ry="0.72" fill="#22a784" opacity="0.77"/>
<ellipse cx="102.1" cy="225.08" rx="0.95" ry="0.96" fill="#219a89" opacity="0.53"/>
<ellipse cx="113.51" cy="224.38" rx="0.67" ry="0.64" fill="#219a89" opacity="0.72"/>
<ellipse cx="113.54" cy="221.12" rx="0.69" ry="0.89" fill="#21928c" opacity="0.51"/>
<ellipse cx="91.13" cy="225.19" rx="0.48" ry="0.36" fill="#26828d" opacity="0.68"/>
<ellipse cx="136.66" cy="224.64" rx="0.7" ry="0.68" fill="#21968a" opacity="0.68"/>
<ellipse cx="124.41" cy="229.18" rx="0.83" ry="0.8" fill="#219c88" opacity="0.86"/>
<ellipse cx="98.07" cy="221.91" rx="0.79" ry="0.88" fill="#219c88" opacity="0.74"/>
<ellipse cx="129.15" cy="224.57" rx="0.89" ry="1.14" fill="#21938b" opacity="0.84"/>
<ellipse cx="124.04" cy="229.08" rx="0.48" ry="0.59" fill="#22a286" opacity="0.88"/>
<ellipse cx="136.14" cy="222.44" rx="0.82" ry="0.64" fill="#219a89" opacity="0.87"/>
<ellipse cx="99.83" cy="223.15" rx="0.49" ry="0.4" fill="#24878d" opacity="0.54"/>
<ellipse cx="136.99" cy="229.06" rx="0.71" ry="0.81" fill="#229f87" opacity="0.71"/>
<ellipse cx="110.48" cy="226.6" rx="0.76" ry="0.65" fill="#228f8c" opacity="0.75"/>
<ellipse cx="119.85" cy="221.61" rx="0.79" ry="0.96" fill="#22a784" opacity="0.76"/>
<ellipse cx="94.23" cy="223.96" rx="0.5" ry="0.37" fill="#248a8d" opacity="0.68"/>
<ellipse cx="125.93" cy="226.22" rx="0.61" ry="0.68" fill="#21968a" opacity="0.7"/>
<ellipse cx="103.13" cy="224.16" rx="0.64" ry="0.72" fill="#21958b" opacity="0.68"/>
<ellipse cx="112.94" cy="224.58" rx="0.83" ry="0.94" fill="#22a386" opacity="0.66"/>
<ellipse cx="127.5" cy="229.91" rx="1" ry="1.13" fill="#27808d" opacity="0.84"/>
<ellipse cx="129.48" cy="219.48" rx="0.63" ry="0.56" fill="#22a187" opacity="0.74"/>
<ellipse cx="103.99" cy="221.35" rx="0.54" ry="0.41" fill="#22a386" opacity="0.87"/>
<ellipse cx="101.11" cy="227.49" rx="0.97" ry="0.79" fill="#219989" opacity="0.68"/>
<ellipse cx="135.84" cy="228.87" rx="0.46" ry="0.38" fill="#22a685" opacity="0.73"/>
<ellipse cx="115.05" cy="228.21" rx="0.87" ry="1.11" fill="#228d8c" opacity="0.52"/>
<ellipse cx="122.85" cy="219.85" rx="0.76" ry="0.93" fill="#21918c" opacity="0.74"/>
<ellipse cx="98.89" cy="221.04" rx="0.78" ry="0.95" fill="#29ad80" opacity="0.51"/>
<ellipse cx="133.37" cy="224.92" rx="0.64" ry="0.6" fill="#219989" opacity="0.64"/>
<ellipse cx="97.69" cy="228.82" rx="0.84" ry="0.89" fill="#22a087" opacity="0.89"/>
<ellipse cx="99.05" cy="228.37" rx="0.9" ry="0.82" fill="#219889" opacity="0.68"/>
<ellipse cx="99.94" cy="224.06" rx="0.53" ry="0.67" fill="#25868d" opacity="0.75"/>
<ellipse cx="117.22" cy="230.02" rx="0.89" ry="0.81" fill="#21908c" opacity="0.52"/>
<ellipse cx="93.38" cy="222.72" rx="0.97" ry="0.71" fill="#25868d" opacity="0.75"/>
<ellipse cx="107.58" cy="221.34" rx="0.97" ry="0.7" fill="#219a89" opacity="0.67"/>
<ellipse cx="106.89" cy="221.44" rx="0.54" ry="0.51" fill="#22a186" opacity="0.69"/>
<ellipse cx="126.76" cy="228.97" rx="0.55" ry="0.67" fill="#219989" opacity="0.67"/>
<ellipse cx="114.61" cy="229.09" rx="0.67" ry="0.5" fill="#26ab82" opacity="0.55"/>
<ellipse cx="95.91" cy="227.24" rx="0.62" ry="0.54" fill="#219c88" opacity="0.86"/>
<ellipse cx="106.9" cy="229.28" rx="0.79" ry="0.84" fill="#21978a" opacity="0.5"/>
<ellipse cx="98.27" cy="226.75" rx="0.83" ry="0.63" fill="#219c88" opacity="0.69"/>
<ellipse cx="117.54" cy="223.69" rx="0.57" ry="0.52" fill="#27ab81" opacity="0.58"/>
<ellipse cx="130.67" cy="225.14" rx="0.49" ry="0.58" fill="#287e8e" opacity="0.83"/>
<ellipse cx="106.57" cy="229.4" rx="0.85" ry="0.78" fill="#219b88" opacity="0.89"/>
<ellipse cx="98.87" cy="221.56" rx="0.61" ry="0.73" fill="#24898d" opacity="0.6"/>
<ellipse cx="119.28" cy="225.73" rx="0.68" ry="0.7" fill="#287f8d" opacity="0.5"/>
<ellipse cx="92.27" cy="219.91" rx="0.87" ry="1.13" fill="#26838d" opacity="0.65"/>
<ellipse cx="91.67" cy="224.07" rx="0.81" ry="0.87" fill="#22a884" opacity="0.72"/>
</g>
</g>
<rect x="90.2" y="217.3" width="48.5" height="15.7" fill="none" stroke="#1a1a1a" stroke-width="0.9"/>
<rect x="143.5" y="217.3" width="2.1" height="15.7" fill="url(#vircb)" stroke="#333" stroke-width="0.4"/>
<text x="146.7" y="222.3" font-size="8.3">4%</text>
<text x="146.7" y="233.4" font-size="8.3">0</text>
<text x="197.2" y="35.25" text-anchor="end" fill="#f8704e">MBPED</text>
<text x="197.2" y="53.9" text-anchor="end" fill="#f8704e">MBVL</text>
<text x="197.2" y="72.85" text-anchor="end" fill="#f8704e">MBML</text>
<text x="197.2" y="91.6" text-anchor="end" fill="#f8704e">LH</text>
<text x="197.2" y="109.9" text-anchor="end" fill="#f8704e">SLP</text>
<text x="197.2" y="128.6" text-anchor="end" fill="#f8704e">SIP</text>
<text x="197.2" y="147.5" text-anchor="end" fill="#f8704e">SMP</text>
<text x="197.2" y="166.2" text-anchor="end" fill="#f8704e">CRE</text>
<text x="197.2" y="184.9" text-anchor="end">EB</text>
<text x="197.2" y="203.6" text-anchor="end">FB</text>
<rect x="198.9" y="23" width="23" height="2.64" fill="url(#hmG79)"/>
<rect x="198.9" y="25.34" width="23" height="2.64" fill="url(#hmG710)"/>
<rect x="198.9" y="27.68" width="23" height="2.64" fill="url(#hmG711)"/>
<rect x="198.9" y="30.01" width="23" height="2.64" fill="url(#hmG79)"/>
<rect x="198.9" y="32.35" width="23" height="2.64" fill="url(#hmG74)"/>
<rect x="198.9" y="34.69" width="23" height="2.64" fill="url(#hmG78)"/>
<rect x="198.9" y="37.03" width="23" height="2.64" fill="url(#hmG78)"/>
<rect x="198.9" y="39.36" width="23" height="2.64" fill="url(#hmG77)"/>
<rect x="198.9" y="41.7" width="23" height="2.62" fill="url(#hmG717)"/>
<rect x="198.9" y="44.03" width="23" height="2.62" fill="url(#hmG715)"/>
<rect x="198.9" y="46.35" width="23" height="2.62" fill="url(#hmG718)"/>
<rect x="198.9" y="48.67" width="23" height="2.62" fill="url(#hmG716)"/>
<rect x="198.9" y="51" width="23" height="2.62" fill="url(#hmG717)"/>
<rect x="198.9" y="53.33" width="23" height="2.62" fill="url(#hmG714)"/>
<rect x="198.9" y="55.65" width="23" height="2.62" fill="url(#hmG710)"/>
<rect x="198.9" y="57.97" width="23" height="2.62" fill="url(#hmG79)"/>
<rect x="198.9" y="60.3" width="23" height="2.71" fill="url(#hmG720)"/>
<rect x="198.9" y="62.71" width="23" height="2.71" fill="url(#hmG718)"/>
<rect x="198.9" y="65.12" width="23" height="2.71" fill="url(#hmG715)"/>
<rect x="198.9" y="67.54" width="23" height="2.71" fill="url(#hmG714)"/>
<rect x="198.9" y="69.95" width="23" height="2.71" fill="url(#hmG714)"/>
<rect x="198.9" y="72.36" width="23" height="2.71" fill="url(#hmG714)"/>
<rect x="198.9" y="74.77" width="23" height="2.71" fill="url(#hmG712)"/>
<rect x="198.9" y="77.19" width="23" height="2.71" fill="url(#hmG710)"/>
<rect x="198.9" y="79.6" width="23" height="2.58" fill="url(#hmG716)"/>
<rect x="198.9" y="81.88" width="23" height="2.58" fill="url(#hmG717)"/>
<rect x="198.9" y="84.15" width="23" height="2.58" fill="url(#hmG718)"/>
<rect x="198.9" y="86.42" width="23" height="2.58" fill="url(#hmG715)"/>
<rect x="198.9" y="88.7" width="23" height="2.58" fill="url(#hmG79)"/>
<rect x="198.9" y="90.97" width="23" height="2.58" fill="url(#hmG712)"/>
<rect x="198.9" y="93.25" width="23" height="2.58" fill="url(#hmG76)"/>
<rect x="198.9" y="95.52" width="23" height="2.58" fill="url(#hmG710)"/>
<rect x="198.9" y="97.8" width="23" height="2.6" fill="url(#hmG713)"/>
<rect x="198.9" y="100.1" width="23" height="2.6" fill="url(#hmG713)"/>
<rect x="198.9" y="102.4" width="23" height="2.6" fill="url(#hmG714)"/>
<rect x="198.9" y="104.7" width="23" height="2.6" fill="url(#hmG717)"/>
<rect x="198.9" y="107" width="23" height="2.6" fill="url(#hmG720)"/>
<rect x="198.9" y="109.3" width="23" height="2.6" fill="url(#hmG710)"/>
<rect x="198.9" y="111.6" width="23" height="2.6" fill="url(#hmG712)"/>
<rect x="198.9" y="113.9" width="23" height="2.6" fill="url(#hmG76)"/>
<rect x="198.9" y="116.2" width="23" height="2.67" fill="url(#hmG718)"/>
<rect x="198.9" y="118.58" width="23" height="2.67" fill="url(#hmG718)"/>
<rect x="198.9" y="120.95" width="23" height="2.67" fill="url(#hmG714)"/>
<rect x="198.9" y="123.33" width="23" height="2.67" fill="url(#hmG716)"/>
<rect x="198.9" y="125.7" width="23" height="2.67" fill="url(#hmG712)"/>
<rect x="198.9" y="128.07" width="23" height="2.67" fill="url(#hmG710)"/>
<rect x="198.9" y="130.45" width="23" height="2.67" fill="url(#hmG710)"/>
<rect x="198.9" y="132.82" width="23" height="2.67" fill="url(#hmG76)"/>
<rect x="198.9" y="135.2" width="23" height="2.65" fill="url(#hmG720)"/>
<rect x="198.9" y="137.55" width="23" height="2.65" fill="url(#hmG715)"/>
<rect x="198.9" y="139.9" width="23" height="2.65" fill="url(#hmG716)"/>
<rect x="198.9" y="142.25" width="23" height="2.65" fill="url(#hmG713)"/>
<rect x="198.9" y="144.6" width="23" height="2.65" fill="url(#hmG712)"/>
<rect x="198.9" y="146.95" width="23" height="2.65" fill="url(#hmG78)"/>
<rect x="198.9" y="149.3" width="23" height="2.65" fill="url(#hmG711)"/>
<rect x="198.9" y="151.65" width="23" height="2.65" fill="url(#hmG77)"/>
<rect x="198.9" y="154" width="23" height="2.62" fill="url(#hmG720)"/>
<rect x="198.9" y="156.32" width="23" height="2.62" fill="url(#hmG717)"/>
<rect x="198.9" y="158.65" width="23" height="2.62" fill="url(#hmG716)"/>
<rect x="198.9" y="160.97" width="23" height="2.62" fill="url(#hmG712)"/>
<rect x="198.9" y="163.3" width="23" height="2.62" fill="url(#hmG714)"/>
<rect x="198.9" y="165.62" width="23" height="2.62" fill="url(#hmG713)"/>
<rect x="198.9" y="167.95" width="23" height="2.62" fill="url(#hmG715)"/>
<rect x="198.9" y="170.28" width="23" height="2.62" fill="url(#hmG79)"/>
<rect x="198.9" y="172.6" width="23" height="2.65" fill="url(#hmG717)"/>
<rect x="198.9" y="174.95" width="23" height="2.65" fill="url(#hmG716)"/>
<rect x="198.9" y="177.3" width="23" height="2.65" fill="url(#hmG713)"/>
<rect x="198.9" y="179.65" width="23" height="2.65" fill="url(#hmG715)"/>
<rect x="198.9" y="182" width="23" height="2.65" fill="url(#hmG714)"/>
<rect x="198.9" y="184.35" width="23" height="2.65" fill="url(#hmG79)"/>
<rect x="198.9" y="186.7" width="23" height="2.65" fill="url(#hmG76)"/>
<rect x="198.9" y="189.05" width="23" height="2.65" fill="url(#hmG76)"/>
<rect x="198.9" y="191.4" width="23" height="2.62" fill="url(#hmG718)"/>
<rect x="198.9" y="193.72" width="23" height="2.62" fill="url(#hmG720)"/>
<rect x="198.9" y="196.05" width="23" height="2.62" fill="url(#hmG720)"/>
<rect x="198.9" y="198.38" width="23" height="2.62" fill="url(#hmG717)"/>
<rect x="198.9" y="200.7" width="23" height="2.62" fill="url(#hmG713)"/>
<rect x="198.9" y="203.03" width="23" height="2.62" fill="url(#hmG710)"/>
<rect x="198.9" y="205.35" width="23" height="2.62" fill="url(#hmG712)"/>
<rect x="198.9" y="207.68" width="23" height="2.62" fill="url(#hmG711)"/>
<line x1="198.6" y1="79.6" x2="222.2" y2="79.6" stroke="#262626" stroke-width="0.95"/>
<line x1="198.6" y1="97.8" x2="222.2" y2="97.8" stroke="#7a7a7a" stroke-width="1.3"/>
<line x1="198.6" y1="116.2" x2="222.2" y2="116.2" stroke="#262626" stroke-width="0.95"/>
<line x1="198.6" y1="135.2" x2="222.2" y2="135.2" stroke="#262626" stroke-width="0.95"/>
<line x1="198.6" y1="154" x2="222.2" y2="154" stroke="#7a7a7a" stroke-width="1.3"/>
<line x1="198.6" y1="172.6" x2="222.2" y2="172.6" stroke="#262626" stroke-width="0.95"/>
<line x1="198.6" y1="191.4" x2="222.2" y2="191.4" stroke="#262626" stroke-width="0.95"/>
<line x1="202.1" y1="23.2" x2="202.1" y2="210" stroke="#111" stroke-width="1.1" stroke-dasharray="2.9 1.6"/>
<line x1="202.1" y1="22.3" x2="214.7" y2="22.3" stroke="#5b7be6" stroke-width="1.3"/>
<text x="210.9" y="19.3" text-anchor="middle">OCT</text>
<line x1="199.5" y1="210" x2="199.5" y2="211.8" stroke="#231f20" stroke-width="0.8"/>
<line x1="221.3" y1="210" x2="221.3" y2="211.8" stroke="#231f20" stroke-width="0.8"/>
<text x="201.2" y="219.8" text-anchor="middle" font-size="8.7">-1</text>
<text x="220.2" y="219.8" text-anchor="middle" font-size="8.7">8</text>
<rect x="226" y="23" width="23" height="2.64" fill="url(#hmG75)"/>
<rect x="226" y="25.34" width="23" height="2.64" fill="url(#hmG711)"/>
<rect x="226" y="27.68" width="23" height="2.64" fill="url(#hmG79)"/>
<rect x="226" y="30.01" width="23" height="2.64" fill="url(#hmG711)"/>
<rect x="226" y="32.35" width="23" height="2.64" fill="url(#hmG75)"/>
<rect x="226" y="34.69" width="23" height="2.64" fill="url(#hmG77)"/>
<rect x="226" y="37.03" width="23" height="2.64" fill="url(#hmG77)"/>
<rect x="226" y="39.36" width="23" height="2.64" fill="url(#hmG76)"/>
<rect x="226" y="41.7" width="23" height="2.62" fill="url(#hmG714)"/>
<rect x="226" y="44.03" width="23" height="2.62" fill="url(#hmG711)"/>
<rect x="226" y="46.35" width="23" height="2.62" fill="url(#hmG718)"/>
<rect x="226" y="48.67" width="23" height="2.62" fill="url(#hmG713)"/>
<rect x="226" y="51" width="23" height="2.62" fill="url(#hmG716)"/>
<rect x="226" y="53.33" width="23" height="2.62" fill="url(#hmG716)"/>
<rect x="226" y="55.65" width="23" height="2.62" fill="url(#hmG712)"/>
<rect x="226" y="57.97" width="23" height="2.62" fill="url(#hmG77)"/>
<rect x="226" y="60.3" width="23" height="2.71" fill="url(#hmG720)"/>
<rect x="226" y="62.71" width="23" height="2.71" fill="url(#hmG718)"/>
<rect x="226" y="65.12" width="23" height="2.71" fill="url(#hmG716)"/>
<rect x="226" y="67.54" width="23" height="2.71" fill="url(#hmG711)"/>
<rect x="226" y="69.95" width="23" height="2.71" fill="url(#hmG714)"/>
<rect x="226" y="72.36" width="23" height="2.71" fill="url(#hmG712)"/>
<rect x="226" y="74.77" width="23" height="2.71" fill="url(#hmG79)"/>
<rect x="226" y="77.19" width="23" height="2.71" fill="url(#hmG79)"/>
<rect x="226" y="79.6" width="23" height="2.58" fill="url(#hmG719)"/>
<rect x="226" y="81.88" width="23" height="2.58" fill="url(#hmG719)"/>
<rect x="226" y="84.15" width="23" height="2.58" fill="url(#hmG720)"/>
<rect x="226" y="86.42" width="23" height="2.58" fill="url(#hmG714)"/>
<rect x="226" y="88.7" width="23" height="2.58" fill="url(#hmG77)"/>
<rect x="226" y="90.97" width="23" height="2.58" fill="url(#hmG712)"/>
<rect x="226" y="93.25" width="23" height="2.58" fill="url(#hmG76)"/>
<rect x="226" y="95.52" width="23" height="2.58" fill="url(#hmG77)"/>
<rect x="226" y="97.8" width="23" height="2.6" fill="url(#hmG711)"/>
<rect x="226" y="100.1" width="23" height="2.6" fill="url(#hmG717)"/>
<rect x="226" y="102.4" width="23" height="2.6" fill="url(#hmG714)"/>
<rect x="226" y="104.7" width="23" height="2.6" fill="url(#hmG715)"/>
<rect x="226" y="107" width="23" height="2.6" fill="url(#hmG720)"/>
<rect x="226" y="109.3" width="23" height="2.6" fill="url(#hmG712)"/>
<rect x="226" y="111.6" width="23" height="2.6" fill="url(#hmG712)"/>
<rect x="226" y="113.9" width="23" height="2.6" fill="url(#hmG76)"/>
<rect x="226" y="116.2" width="23" height="2.67" fill="url(#hmG715)"/>
<rect x="226" y="118.58" width="23" height="2.67" fill="url(#hmG716)"/>
<rect x="226" y="120.95" width="23" height="2.67" fill="url(#hmG712)"/>
<rect x="226" y="123.33" width="23" height="2.67" fill="url(#hmG712)"/>
<rect x="226" y="125.7" width="23" height="2.67" fill="url(#hmG712)"/>
<rect x="226" y="128.07" width="23" height="2.67" fill="url(#hmG78)"/>
<rect x="226" y="130.45" width="23" height="2.67" fill="url(#hmG711)"/>
<rect x="226" y="132.82" width="23" height="2.67" fill="url(#hmG78)"/>
<rect x="226" y="135.2" width="23" height="2.65" fill="url(#hmG720)"/>
<rect x="226" y="137.55" width="23" height="2.65" fill="url(#hmG714)"/>
<rect x="226" y="139.9" width="23" height="2.65" fill="url(#hmG717)"/>
<rect x="226" y="142.25" width="23" height="2.65" fill="url(#hmG712)"/>
<rect x="226" y="144.6" width="23" height="2.65" fill="url(#hmG712)"/>
<rect x="226" y="146.95" width="23" height="2.65" fill="url(#hmG710)"/>
<rect x="226" y="149.3" width="23" height="2.65" fill="url(#hmG711)"/>
<rect x="226" y="151.65" width="23" height="2.65" fill="url(#hmG710)"/>
<rect x="226" y="154" width="23" height="2.62" fill="url(#hmG720)"/>
<rect x="226" y="156.32" width="23" height="2.62" fill="url(#hmG719)"/>
<rect x="226" y="158.65" width="23" height="2.62" fill="url(#hmG716)"/>
<rect x="226" y="160.97" width="23" height="2.62" fill="url(#hmG79)"/>
<rect x="226" y="163.3" width="23" height="2.62" fill="url(#hmG716)"/>
<rect x="226" y="165.62" width="23" height="2.62" fill="url(#hmG712)"/>
<rect x="226" y="167.95" width="23" height="2.62" fill="url(#hmG714)"/>
<rect x="226" y="170.28" width="23" height="2.62" fill="url(#hmG78)"/>
<rect x="226" y="172.6" width="23" height="2.65" fill="url(#hmG718)"/>
<rect x="226" y="174.95" width="23" height="2.65" fill="url(#hmG717)"/>
<rect x="226" y="177.3" width="23" height="2.65" fill="url(#hmG716)"/>
<rect x="226" y="179.65" width="23" height="2.65" fill="url(#hmG711)"/>
<rect x="226" y="182" width="23" height="2.65" fill="url(#hmG711)"/>
<rect x="226" y="184.35" width="23" height="2.65" fill="url(#hmG76)"/>
<rect x="226" y="186.7" width="23" height="2.65" fill="url(#hmG76)"/>
<rect x="226" y="189.05" width="23" height="2.65" fill="url(#hmG78)"/>
<rect x="226" y="191.4" width="23" height="2.62" fill="url(#hmG717)"/>
<rect x="226" y="193.72" width="23" height="2.62" fill="url(#hmG720)"/>
<rect x="226" y="196.05" width="23" height="2.62" fill="url(#hmG717)"/>
<rect x="226" y="198.38" width="23" height="2.62" fill="url(#hmG718)"/>
<rect x="226" y="200.7" width="23" height="2.62" fill="url(#hmG713)"/>
<rect x="226" y="203.03" width="23" height="2.62" fill="url(#hmG712)"/>
<rect x="226" y="205.35" width="23" height="2.62" fill="url(#hmG710)"/>
<rect x="226" y="207.68" width="23" height="2.62" fill="url(#hmG713)"/>
<line x1="225.7" y1="79.6" x2="249.3" y2="79.6" stroke="#262626" stroke-width="0.95"/>
<line x1="225.7" y1="97.8" x2="249.3" y2="97.8" stroke="#7a7a7a" stroke-width="1.3"/>
<line x1="225.7" y1="116.2" x2="249.3" y2="116.2" stroke="#262626" stroke-width="0.95"/>
<line x1="225.7" y1="135.2" x2="249.3" y2="135.2" stroke="#262626" stroke-width="0.95"/>
<line x1="225.7" y1="154" x2="249.3" y2="154" stroke="#7a7a7a" stroke-width="1.3"/>
<line x1="225.7" y1="172.6" x2="249.3" y2="172.6" stroke="#262626" stroke-width="0.95"/>
<line x1="225.7" y1="191.4" x2="249.3" y2="191.4" stroke="#262626" stroke-width="0.95"/>
<line x1="229.2" y1="23.2" x2="229.2" y2="210" stroke="#111" stroke-width="1.1" stroke-dasharray="2.9 1.6"/>
<line x1="229.2" y1="22.3" x2="241.8" y2="22.3" stroke="#d0484f" stroke-width="1.3"/>
<text x="238.8" y="19.3" text-anchor="middle">MCH</text>
<line x1="226.6" y1="210" x2="226.6" y2="211.8" stroke="#231f20" stroke-width="0.8"/>
<line x1="248.4" y1="210" x2="248.4" y2="211.8" stroke="#231f20" stroke-width="0.8"/>
<text x="228.3" y="219.8" text-anchor="middle" font-size="8.7">-1</text>
<text x="247.3" y="219.8" text-anchor="middle" font-size="8.7">8</text>
<rect x="253.1" y="23" width="23" height="2.64" fill="url(#hmG78)"/>
<rect x="253.1" y="25.34" width="23" height="2.64" fill="url(#hmG710)"/>
<rect x="253.1" y="27.68" width="23" height="2.64" fill="url(#hmG712)"/>
<rect x="253.1" y="30.01" width="23" height="2.64" fill="url(#hmG77)"/>
<rect x="253.1" y="32.35" width="23" height="2.64" fill="url(#hmG74)"/>
<rect x="253.1" y="34.69" width="23" height="2.64" fill="url(#hmG76)"/>
<rect x="253.1" y="37.03" width="23" height="2.64" fill="url(#hmG77)"/>
<rect x="253.1" y="39.36" width="23" height="2.64" fill="url(#hmG77)"/>
<rect x="253.1" y="41.7" width="23" height="2.62" fill="url(#hmG714)"/>
<rect x="253.1" y="44.03" width="23" height="2.62" fill="url(#hmG715)"/>
<rect x="253.1" y="46.35" width="23" height="2.62" fill="url(#hmG718)"/>
<rect x="253.1" y="48.67" width="23" height="2.62" fill="url(#hmG716)"/>
<rect x="253.1" y="51" width="23" height="2.62" fill="url(#hmG717)"/>
<rect x="253.1" y="53.33" width="23" height="2.62" fill="url(#hmG715)"/>
<rect x="253.1" y="55.65" width="23" height="2.62" fill="url(#hmG711)"/>
<rect x="253.1" y="57.97" width="23" height="2.62" fill="url(#hmG78)"/>
<rect x="253.1" y="60.3" width="23" height="2.71" fill="url(#hmG720)"/>
<rect x="253.1" y="62.71" width="23" height="2.71" fill="url(#hmG717)"/>
<rect x="253.1" y="65.12" width="23" height="2.71" fill="url(#hmG714)"/>
<rect x="253.1" y="67.54" width="23" height="2.71" fill="url(#hmG711)"/>
<rect x="253.1" y="69.95" width="23" height="2.71" fill="url(#hmG713)"/>
<rect x="253.1" y="72.36" width="23" height="2.71" fill="url(#hmG712)"/>
<rect x="253.1" y="74.77" width="23" height="2.71" fill="url(#hmG712)"/>
<rect x="253.1" y="77.19" width="23" height="2.71" fill="url(#hmG77)"/>
<rect x="253.1" y="79.6" width="23" height="2.58" fill="url(#hmG718)"/>
<rect x="253.1" y="81.88" width="23" height="2.58" fill="url(#hmG717)"/>
<rect x="253.1" y="84.15" width="23" height="2.58" fill="url(#hmG717)"/>
<rect x="253.1" y="86.42" width="23" height="2.58" fill="url(#hmG714)"/>
<rect x="253.1" y="88.7" width="23" height="2.58" fill="url(#hmG79)"/>
<rect x="253.1" y="90.97" width="23" height="2.58" fill="url(#hmG714)"/>
<rect x="253.1" y="93.25" width="23" height="2.58" fill="url(#hmG76)"/>
<rect x="253.1" y="95.52" width="23" height="2.58" fill="url(#hmG78)"/>
<rect x="253.1" y="97.8" width="23" height="2.6" fill="url(#hmG713)"/>
<rect x="253.1" y="100.1" width="23" height="2.6" fill="url(#hmG717)"/>
<rect x="253.1" y="102.4" width="23" height="2.6" fill="url(#hmG712)"/>
<rect x="253.1" y="104.7" width="23" height="2.6" fill="url(#hmG713)"/>
<rect x="253.1" y="107" width="23" height="2.6" fill="url(#hmG720)"/>
<rect x="253.1" y="109.3" width="23" height="2.6" fill="url(#hmG710)"/>
<rect x="253.1" y="111.6" width="23" height="2.6" fill="url(#hmG711)"/>
<rect x="253.1" y="113.9" width="23" height="2.6" fill="url(#hmG77)"/>
<rect x="253.1" y="116.2" width="23" height="2.67" fill="url(#hmG716)"/>
<rect x="253.1" y="118.58" width="23" height="2.67" fill="url(#hmG717)"/>
<rect x="253.1" y="120.95" width="23" height="2.67" fill="url(#hmG715)"/>
<rect x="253.1" y="123.33" width="23" height="2.67" fill="url(#hmG713)"/>
<rect x="253.1" y="125.7" width="23" height="2.67" fill="url(#hmG713)"/>
<rect x="253.1" y="128.07" width="23" height="2.67" fill="url(#hmG79)"/>
<rect x="253.1" y="130.45" width="23" height="2.67" fill="url(#hmG79)"/>
<rect x="253.1" y="132.82" width="23" height="2.67" fill="url(#hmG75)"/>
<rect x="253.1" y="135.2" width="23" height="2.65" fill="url(#hmG720)"/>
<rect x="253.1" y="137.55" width="23" height="2.65" fill="url(#hmG714)"/>
<rect x="253.1" y="139.9" width="23" height="2.65" fill="url(#hmG717)"/>
<rect x="253.1" y="142.25" width="23" height="2.65" fill="url(#hmG711)"/>
<rect x="253.1" y="144.6" width="23" height="2.65" fill="url(#hmG715)"/>
<rect x="253.1" y="146.95" width="23" height="2.65" fill="url(#hmG78)"/>
<rect x="253.1" y="149.3" width="23" height="2.65" fill="url(#hmG712)"/>
<rect x="253.1" y="151.65" width="23" height="2.65" fill="url(#hmG77)"/>
<rect x="253.1" y="154" width="23" height="2.62" fill="url(#hmG720)"/>
<rect x="253.1" y="156.32" width="23" height="2.62" fill="url(#hmG716)"/>
<rect x="253.1" y="158.65" width="23" height="2.62" fill="url(#hmG714)"/>
<rect x="253.1" y="160.97" width="23" height="2.62" fill="url(#hmG710)"/>
<rect x="253.1" y="163.3" width="23" height="2.62" fill="url(#hmG715)"/>
<rect x="253.1" y="165.62" width="23" height="2.62" fill="url(#hmG715)"/>
<rect x="253.1" y="167.95" width="23" height="2.62" fill="url(#hmG718)"/>
<rect x="253.1" y="170.28" width="23" height="2.62" fill="url(#hmG78)"/>
<rect x="253.1" y="172.6" width="23" height="2.65" fill="url(#hmG715)"/>
<rect x="253.1" y="174.95" width="23" height="2.65" fill="url(#hmG716)"/>
<rect x="253.1" y="177.3" width="23" height="2.65" fill="url(#hmG713)"/>
<rect x="253.1" y="179.65" width="23" height="2.65" fill="url(#hmG715)"/>
<rect x="253.1" y="182" width="23" height="2.65" fill="url(#hmG713)"/>
<rect x="253.1" y="184.35" width="23" height="2.65" fill="url(#hmG78)"/>
<rect x="253.1" y="186.7" width="23" height="2.65" fill="url(#hmG78)"/>
<rect x="253.1" y="189.05" width="23" height="2.65" fill="url(#hmG78)"/>
<rect x="253.1" y="191.4" width="23" height="2.62" fill="url(#hmG716)"/>
<rect x="253.1" y="193.72" width="23" height="2.62" fill="url(#hmG719)"/>
<rect x="253.1" y="196.05" width="23" height="2.62" fill="url(#hmG717)"/>
<rect x="253.1" y="198.38" width="23" height="2.62" fill="url(#hmG716)"/>
<rect x="253.1" y="200.7" width="23" height="2.62" fill="url(#hmG715)"/>
<rect x="253.1" y="203.03" width="23" height="2.62" fill="url(#hmG713)"/>
<rect x="253.1" y="205.35" width="23" height="2.62" fill="url(#hmG711)"/>
<rect x="253.1" y="207.68" width="23" height="2.62" fill="url(#hmG710)"/>
<line x1="252.8" y1="79.6" x2="276.4" y2="79.6" stroke="#262626" stroke-width="0.95"/>
<line x1="252.8" y1="97.8" x2="276.4" y2="97.8" stroke="#7a7a7a" stroke-width="1.3"/>
<line x1="252.8" y1="116.2" x2="276.4" y2="116.2" stroke="#262626" stroke-width="0.95"/>
<line x1="252.8" y1="135.2" x2="276.4" y2="135.2" stroke="#262626" stroke-width="0.95"/>
<line x1="252.8" y1="154" x2="276.4" y2="154" stroke="#7a7a7a" stroke-width="1.3"/>
<line x1="252.8" y1="172.6" x2="276.4" y2="172.6" stroke="#262626" stroke-width="0.95"/>
<line x1="252.8" y1="191.4" x2="276.4" y2="191.4" stroke="#262626" stroke-width="0.95"/>
<line x1="256.3" y1="23.2" x2="256.3" y2="210" stroke="#111" stroke-width="1.1" stroke-dasharray="2.9 1.6"/>
<line x1="256.3" y1="22.3" x2="268.9" y2="22.3" stroke="#f3a531" stroke-width="1.3"/>
<text x="262" y="19.3" text-anchor="middle">EA</text>
<line x1="253.7" y1="210" x2="253.7" y2="211.8" stroke="#231f20" stroke-width="0.8"/>
<line x1="275.5" y1="210" x2="275.5" y2="211.8" stroke="#231f20" stroke-width="0.8"/>
<text x="255.4" y="219.8" text-anchor="middle" font-size="8.7">-1</text>
<text x="274.4" y="219.8" text-anchor="middle" font-size="8.7">8</text>
<text x="238.6" y="8.6" text-anchor="middle">G7f</text>
<rect x="280.3" y="23" width="22.6" height="2.64" fill="url(#hmrA8)"/>
<rect x="280.3" y="25.34" width="22.6" height="2.64" fill="url(#hmrA7)"/>
<rect x="280.3" y="27.68" width="22.6" height="2.64" fill="url(#hmrA8)"/>
<rect x="280.3" y="30.01" width="22.6" height="2.64" fill="url(#hmrA15)"/>
<rect x="280.3" y="32.35" width="22.6" height="2.64" fill="url(#hmrA16)"/>
<rect x="280.3" y="34.69" width="22.6" height="2.64" fill="url(#hmrA11)"/>
<rect x="280.3" y="37.03" width="22.6" height="2.64" fill="url(#hmrA7)"/>
<rect x="280.3" y="39.36" width="22.6" height="2.64" fill="url(#hmrA5)"/>
<rect x="280.3" y="41.7" width="22.6" height="2.62" fill="url(#hmrA7)"/>
<rect x="280.3" y="44.03" width="22.6" height="2.62" fill="url(#hmrA17)"/>
<rect x="280.3" y="46.35" width="22.6" height="2.62" fill="url(#hmrA6)"/>
<rect x="280.3" y="48.67" width="22.6" height="2.62" fill="url(#hmrA18)"/>
<rect x="280.3" y="51" width="22.6" height="2.62" fill="url(#hmrA8)"/>
<rect x="280.3" y="53.33" width="22.6" height="2.62" fill="url(#hmrA16)"/>
<rect x="280.3" y="55.65" width="22.6" height="2.62" fill="url(#hmrA4)"/>
<rect x="280.3" y="57.97" width="22.6" height="2.62" fill="url(#hmrA7)"/>
<rect x="280.3" y="60.3" width="22.6" height="2.71" fill="url(#hmrA6)"/>
<rect x="280.3" y="62.71" width="22.6" height="2.71" fill="url(#hmrA19)"/>
<rect x="280.3" y="65.12" width="22.6" height="2.71" fill="url(#hmrA8)"/>
<rect x="280.3" y="67.54" width="22.6" height="2.71" fill="url(#hmrA5)"/>
<rect x="280.3" y="69.95" width="22.6" height="2.71" fill="url(#hmrA4)"/>
<rect x="280.3" y="72.36" width="22.6" height="2.71" fill="url(#hmrA9)"/>
<rect x="280.3" y="74.77" width="22.6" height="2.71" fill="url(#hmrA17)"/>
<rect x="280.3" y="77.19" width="22.6" height="2.71" fill="url(#hmrA5)"/>
<rect x="280.3" y="79.6" width="22.6" height="2.58" fill="url(#hmrA1)"/>
<rect x="280.3" y="81.88" width="22.6" height="2.58" fill="url(#hmrA3)"/>
<rect x="280.3" y="84.15" width="22.6" height="2.58" fill="url(#hmrA0)"/>
<rect x="280.3" y="86.42" width="22.6" height="2.58" fill="url(#hmrA1)"/>
<rect x="280.3" y="88.7" width="22.6" height="2.58" fill="url(#hmrA5)"/>
<rect x="280.3" y="90.97" width="22.6" height="2.58" fill="url(#hmrA3)"/>
<rect x="280.3" y="93.25" width="22.6" height="2.58" fill="url(#hmrA0)"/>
<rect x="280.3" y="95.52" width="22.6" height="2.58" fill="url(#hmrA0)"/>
<rect x="280.3" y="97.8" width="22.6" height="2.6" fill="url(#hmrA2)"/>
<rect x="280.3" y="100.1" width="22.6" height="2.6" fill="url(#hmrA2)"/>
<rect x="280.3" y="102.4" width="22.6" height="2.6" fill="url(#hmrA0)"/>
<rect x="280.3" y="104.7" width="22.6" height="2.6" fill="url(#hmrA0)"/>
<rect x="280.3" y="107" width="22.6" height="2.6" fill="url(#hmrA1)"/>
<rect x="280.3" y="109.3" width="22.6" height="2.6" fill="url(#hmrA2)"/>
<rect x="280.3" y="111.6" width="22.6" height="2.6" fill="url(#hmrA2)"/>
<rect x="280.3" y="113.9" width="22.6" height="2.6" fill="url(#hmrA2)"/>
<rect x="280.3" y="116.2" width="22.6" height="2.67" fill="url(#hmrA6)"/>
<rect x="280.3" y="118.58" width="22.6" height="2.67" fill="url(#hmrA16)"/>
<rect x="280.3" y="120.95" width="22.6" height="2.67" fill="url(#hmrA14)"/>
<rect x="280.3" y="123.33" width="22.6" height="2.67" fill="url(#hmrA18)"/>
<rect x="280.3" y="125.7" width="22.6" height="2.67" fill="url(#hmrA11)"/>
<rect x="280.3" y="128.07" width="22.6" height="2.67" fill="url(#hmrA6)"/>
<rect x="280.3" y="130.45" width="22.6" height="2.67" fill="url(#hmrA8)"/>
<rect x="280.3" y="132.82" width="22.6" height="2.67" fill="url(#hmrA10)"/>
<rect x="280.3" y="135.2" width="22.6" height="2.65" fill="url(#hmrA5)"/>
<rect x="280.3" y="137.55" width="22.6" height="2.65" fill="url(#hmrA2)"/>
<rect x="280.3" y="139.9" width="22.6" height="2.65" fill="url(#hmrA6)"/>
<rect x="280.3" y="142.25" width="22.6" height="2.65" fill="url(#hmrA5)"/>
<rect x="280.3" y="144.6" width="22.6" height="2.65" fill="url(#hmrA1)"/>
<rect x="280.3" y="146.95" width="22.6" height="2.65" fill="url(#hmrA0)"/>
<rect x="280.3" y="149.3" width="22.6" height="2.65" fill="url(#hmrA5)"/>
<rect x="280.3" y="151.65" width="22.6" height="2.65" fill="url(#hmrA5)"/>
<rect x="280.3" y="154" width="22.6" height="2.62" fill="url(#hmrA8)"/>
<rect x="280.3" y="156.32" width="22.6" height="2.62" fill="url(#hmrA8)"/>
<rect x="280.3" y="158.65" width="22.6" height="2.62" fill="url(#hmrA4)"/>
<rect x="280.3" y="160.97" width="22.6" height="2.62" fill="url(#hmrA5)"/>
<rect x="280.3" y="163.3" width="22.6" height="2.62" fill="url(#hmrA5)"/>
<rect x="280.3" y="165.62" width="22.6" height="2.62" fill="url(#hmrA3)"/>
<rect x="280.3" y="167.95" width="22.6" height="2.62" fill="url(#hmrA5)"/>
<rect x="280.3" y="170.28" width="22.6" height="2.62" fill="url(#hmrA13)"/>
<rect x="280.3" y="172.6" width="22.6" height="2.65" fill="url(#hmrA9)"/>
<rect x="280.3" y="174.95" width="22.6" height="2.65" fill="url(#hmrA6)"/>
<rect x="280.3" y="177.3" width="22.6" height="2.65" fill="url(#hmrA5)"/>
<rect x="280.3" y="179.65" width="22.6" height="2.65" fill="url(#hmrA5)"/>
<rect x="280.3" y="182" width="22.6" height="2.65" fill="url(#hmrA3)"/>
<rect x="280.3" y="184.35" width="22.6" height="2.65" fill="url(#hmrA1)"/>
<rect x="280.3" y="186.7" width="22.6" height="2.65" fill="url(#hmrA10)"/>
<rect x="280.3" y="189.05" width="22.6" height="2.65" fill="url(#hmrA5)"/>
<rect x="280.3" y="191.4" width="22.6" height="2.62" fill="url(#hmrA13)"/>
<rect x="280.3" y="193.72" width="22.6" height="2.62" fill="url(#hmrA4)"/>
<rect x="280.3" y="196.05" width="22.6" height="2.62" fill="url(#hmrA3)"/>
<rect x="280.3" y="198.38" width="22.6" height="2.62" fill="url(#hmrA14)"/>
<rect x="280.3" y="200.7" width="22.6" height="2.62" fill="url(#hmrA14)"/>
<rect x="280.3" y="203.03" width="22.6" height="2.62" fill="url(#hmrA6)"/>
<rect x="280.3" y="205.35" width="22.6" height="2.62" fill="url(#hmrA2)"/>
<rect x="280.3" y="207.68" width="22.6" height="2.62" fill="url(#hmrA13)"/>
<line x1="280" y1="79.6" x2="303.2" y2="79.6" stroke="#262626" stroke-width="0.95"/>
<line x1="280" y1="97.8" x2="303.2" y2="97.8" stroke="#7a7a7a" stroke-width="1.3"/>
<line x1="280" y1="116.2" x2="303.2" y2="116.2" stroke="#262626" stroke-width="0.95"/>
<line x1="280" y1="135.2" x2="303.2" y2="135.2" stroke="#262626" stroke-width="0.95"/>
<line x1="280" y1="154" x2="303.2" y2="154" stroke="#7a7a7a" stroke-width="1.3"/>
<line x1="280" y1="172.6" x2="303.2" y2="172.6" stroke="#262626" stroke-width="0.95"/>
<line x1="280" y1="191.4" x2="303.2" y2="191.4" stroke="#262626" stroke-width="0.95"/>
<line x1="283.5" y1="23.2" x2="283.5" y2="210" stroke="#111" stroke-width="1.1" stroke-dasharray="2.9 1.6"/>
<line x1="283.5" y1="22.3" x2="296.1" y2="22.3" stroke="#5b7be6" stroke-width="1.3"/>
<text x="292.1" y="19.3" text-anchor="middle">OCT</text>
<line x1="280.9" y1="210" x2="280.9" y2="211.8" stroke="#231f20" stroke-width="0.8"/>
<line x1="302.3" y1="210" x2="302.3" y2="211.8" stroke="#231f20" stroke-width="0.8"/>
<text x="282.6" y="219.8" text-anchor="middle" font-size="8.7">-1</text>
<text x="301.2" y="219.8" text-anchor="middle" font-size="8.7">8</text>
<rect x="307.4" y="23" width="22.6" height="2.64" fill="url(#hmrA9)"/>
<rect x="307.4" y="25.34" width="22.6" height="2.64" fill="url(#hmrA4)"/>
<rect x="307.4" y="27.68" width="22.6" height="2.64" fill="url(#hmrA10)"/>
<rect x="307.4" y="30.01" width="22.6" height="2.64" fill="url(#hmrA17)"/>
<rect x="307.4" y="32.35" width="22.6" height="2.64" fill="url(#hmrA17)"/>
<rect x="307.4" y="34.69" width="22.6" height="2.64" fill="url(#hmrA14)"/>
<rect x="307.4" y="37.03" width="22.6" height="2.64" fill="url(#hmrA4)"/>
<rect x="307.4" y="39.36" width="22.6" height="2.64" fill="url(#hmrA7)"/>
<rect x="307.4" y="41.7" width="22.6" height="2.62" fill="url(#hmrA9)"/>
<rect x="307.4" y="44.03" width="22.6" height="2.62" fill="url(#hmrA19)"/>
<rect x="307.4" y="46.35" width="22.6" height="2.62" fill="url(#hmrA4)"/>
<rect x="307.4" y="48.67" width="22.6" height="2.62" fill="url(#hmrA19)"/>
<rect x="307.4" y="51" width="22.6" height="2.62" fill="url(#hmrA8)"/>
<rect x="307.4" y="53.33" width="22.6" height="2.62" fill="url(#hmrA15)"/>
<rect x="307.4" y="55.65" width="22.6" height="2.62" fill="url(#hmrA7)"/>
<rect x="307.4" y="57.97" width="22.6" height="2.62" fill="url(#hmrA5)"/>
<rect x="307.4" y="60.3" width="22.6" height="2.71" fill="url(#hmrA4)"/>
<rect x="307.4" y="62.71" width="22.6" height="2.71" fill="url(#hmrA19)"/>
<rect x="307.4" y="65.12" width="22.6" height="2.71" fill="url(#hmrA8)"/>
<rect x="307.4" y="67.54" width="22.6" height="2.71" fill="url(#hmrA6)"/>
<rect x="307.4" y="69.95" width="22.6" height="2.71" fill="url(#hmrA4)"/>
<rect x="307.4" y="72.36" width="22.6" height="2.71" fill="url(#hmrA6)"/>
<rect x="307.4" y="74.77" width="22.6" height="2.71" fill="url(#hmrA17)"/>
<rect x="307.4" y="77.19" width="22.6" height="2.71" fill="url(#hmrA5)"/>
<rect x="307.4" y="79.6" width="22.6" height="2.58" fill="url(#hmrA0)"/>
<rect x="307.4" y="81.88" width="22.6" height="2.58" fill="url(#hmrA5)"/>
<rect x="307.4" y="84.15" width="22.6" height="2.58" fill="url(#hmrA0)"/>
<rect x="307.4" y="86.42" width="22.6" height="2.58" fill="url(#hmrA2)"/>
<rect x="307.4" y="88.7" width="22.6" height="2.58" fill="url(#hmrA2)"/>
<rect x="307.4" y="90.97" width="22.6" height="2.58" fill="url(#hmrA2)"/>
<rect x="307.4" y="93.25" width="22.6" height="2.58" fill="url(#hmrA1)"/>
<rect x="307.4" y="95.52" width="22.6" height="2.58" fill="url(#hmrA0)"/>
<rect x="307.4" y="97.8" width="22.6" height="2.6" fill="url(#hmrA5)"/>
<rect x="307.4" y="100.1" width="22.6" height="2.6" fill="url(#hmrA2)"/>
<rect x="307.4" y="102.4" width="22.6" height="2.6" fill="url(#hmrA1)"/>
<rect x="307.4" y="104.7" width="22.6" height="2.6" fill="url(#hmrA0)"/>
<rect x="307.4" y="107" width="22.6" height="2.6" fill="url(#hmrA3)"/>
<rect x="307.4" y="109.3" width="22.6" height="2.6" fill="url(#hmrA3)"/>
<rect x="307.4" y="111.6" width="22.6" height="2.6" fill="url(#hmrA1)"/>
<rect x="307.4" y="113.9" width="22.6" height="2.6" fill="url(#hmrA0)"/>
<rect x="307.4" y="116.2" width="22.6" height="2.67" fill="url(#hmrA6)"/>
<rect x="307.4" y="118.58" width="22.6" height="2.67" fill="url(#hmrA17)"/>
<rect x="307.4" y="120.95" width="22.6" height="2.67" fill="url(#hmrA13)"/>
<rect x="307.4" y="123.33" width="22.6" height="2.67" fill="url(#hmrA14)"/>
<rect x="307.4" y="125.7" width="22.6" height="2.67" fill="url(#hmrA11)"/>
<rect x="307.4" y="128.07" width="22.6" height="2.67" fill="url(#hmrA6)"/>
<rect x="307.4" y="130.45" width="22.6" height="2.67" fill="url(#hmrA7)"/>
<rect x="307.4" y="132.82" width="22.6" height="2.67" fill="url(#hmrA10)"/>
<rect x="307.4" y="135.2" width="22.6" height="2.65" fill="url(#hmrA3)"/>
<rect x="307.4" y="137.55" width="22.6" height="2.65" fill="url(#hmrA5)"/>
<rect x="307.4" y="139.9" width="22.6" height="2.65" fill="url(#hmrA8)"/>
<rect x="307.4" y="142.25" width="22.6" height="2.65" fill="url(#hmrA4)"/>
<rect x="307.4" y="144.6" width="22.6" height="2.65" fill="url(#hmrA3)"/>
<rect x="307.4" y="146.95" width="22.6" height="2.65" fill="url(#hmrA2)"/>
<rect x="307.4" y="149.3" width="22.6" height="2.65" fill="url(#hmrA2)"/>
<rect x="307.4" y="151.65" width="22.6" height="2.65" fill="url(#hmrA5)"/>
<rect x="307.4" y="154" width="22.6" height="2.62" fill="url(#hmrA7)"/>
<rect x="307.4" y="156.32" width="22.6" height="2.62" fill="url(#hmrA7)"/>
<rect x="307.4" y="158.65" width="22.6" height="2.62" fill="url(#hmrA3)"/>
<rect x="307.4" y="160.97" width="22.6" height="2.62" fill="url(#hmrA3)"/>
<rect x="307.4" y="163.3" width="22.6" height="2.62" fill="url(#hmrA7)"/>
<rect x="307.4" y="165.62" width="22.6" height="2.62" fill="url(#hmrA4)"/>
<rect x="307.4" y="167.95" width="22.6" height="2.62" fill="url(#hmrA2)"/>
<rect x="307.4" y="170.28" width="22.6" height="2.62" fill="url(#hmrA13)"/>
<rect x="307.4" y="172.6" width="22.6" height="2.65" fill="url(#hmrA10)"/>
<rect x="307.4" y="174.95" width="22.6" height="2.65" fill="url(#hmrA7)"/>
<rect x="307.4" y="177.3" width="22.6" height="2.65" fill="url(#hmrA6)"/>
<rect x="307.4" y="179.65" width="22.6" height="2.65" fill="url(#hmrA5)"/>
<rect x="307.4" y="182" width="22.6" height="2.65" fill="url(#hmrA4)"/>
<rect x="307.4" y="184.35" width="22.6" height="2.65" fill="url(#hmrA0)"/>
<rect x="307.4" y="186.7" width="22.6" height="2.65" fill="url(#hmrA11)"/>
<rect x="307.4" y="189.05" width="22.6" height="2.65" fill="url(#hmrA4)"/>
<rect x="307.4" y="191.4" width="22.6" height="2.62" fill="url(#hmrA14)"/>
<rect x="307.4" y="193.72" width="22.6" height="2.62" fill="url(#hmrA2)"/>
<rect x="307.4" y="196.05" width="22.6" height="2.62" fill="url(#hmrA3)"/>
<rect x="307.4" y="198.38" width="22.6" height="2.62" fill="url(#hmrA12)"/>
<rect x="307.4" y="200.7" width="22.6" height="2.62" fill="url(#hmrA12)"/>
<rect x="307.4" y="203.03" width="22.6" height="2.62" fill="url(#hmrA4)"/>
<rect x="307.4" y="205.35" width="22.6" height="2.62" fill="url(#hmrA5)"/>
<rect x="307.4" y="207.68" width="22.6" height="2.62" fill="url(#hmrA10)"/>
<line x1="307.1" y1="79.6" x2="330.3" y2="79.6" stroke="#262626" stroke-width="0.95"/>
<line x1="307.1" y1="97.8" x2="330.3" y2="97.8" stroke="#7a7a7a" stroke-width="1.3"/>
<line x1="307.1" y1="116.2" x2="330.3" y2="116.2" stroke="#262626" stroke-width="0.95"/>
<line x1="307.1" y1="135.2" x2="330.3" y2="135.2" stroke="#262626" stroke-width="0.95"/>
<line x1="307.1" y1="154" x2="330.3" y2="154" stroke="#7a7a7a" stroke-width="1.3"/>
<line x1="307.1" y1="172.6" x2="330.3" y2="172.6" stroke="#262626" stroke-width="0.95"/>
<line x1="307.1" y1="191.4" x2="330.3" y2="191.4" stroke="#262626" stroke-width="0.95"/>
<line x1="310.6" y1="23.2" x2="310.6" y2="210" stroke="#111" stroke-width="1.1" stroke-dasharray="2.9 1.6"/>
<line x1="310.6" y1="22.3" x2="323.2" y2="22.3" stroke="#d0484f" stroke-width="1.3"/>
<text x="320" y="19.3" text-anchor="middle">MCH</text>
<line x1="308" y1="210" x2="308" y2="211.8" stroke="#231f20" stroke-width="0.8"/>
<line x1="329.4" y1="210" x2="329.4" y2="211.8" stroke="#231f20" stroke-width="0.8"/>
<text x="309.7" y="219.8" text-anchor="middle" font-size="8.7">-1</text>
<text x="328.3" y="219.8" text-anchor="middle" font-size="8.7">8</text>
<rect x="334.5" y="23" width="22.6" height="2.64" fill="url(#hmrA7)"/>
<rect x="334.5" y="25.34" width="22.6" height="2.64" fill="url(#hmrA2)"/>
<rect x="334.5" y="27.68" width="22.6" height="2.64" fill="url(#hmrA7)"/>
<rect x="334.5" y="30.01" width="22.6" height="2.64" fill="url(#hmrA18)"/>
<rect x="334.5" y="32.35" width="22.6" height="2.64" fill="url(#hmrA15)"/>
<rect x="334.5" y="34.69" width="22.6" height="2.64" fill="url(#hmrA10)"/>
<rect x="334.5" y="37.03" width="22.6" height="2.64" fill="url(#hmrA4)"/>
<rect x="334.5" y="39.36" width="22.6" height="2.64" fill="url(#hmrA7)"/>
<rect x="334.5" y="41.7" width="22.6" height="2.62" fill="url(#hmrA10)"/>
<rect x="334.5" y="44.03" width="22.6" height="2.62" fill="url(#hmrA20)"/>
<rect x="334.5" y="46.35" width="22.6" height="2.62" fill="url(#hmrA7)"/>
<rect x="334.5" y="48.67" width="22.6" height="2.62" fill="url(#hmrA20)"/>
<rect x="334.5" y="51" width="22.6" height="2.62" fill="url(#hmrA7)"/>
<rect x="334.5" y="53.33" width="22.6" height="2.62" fill="url(#hmrA16)"/>
<rect x="334.5" y="55.65" width="22.6" height="2.62" fill="url(#hmrA4)"/>
<rect x="334.5" y="57.97" width="22.6" height="2.62" fill="url(#hmrA5)"/>
<rect x="334.5" y="60.3" width="22.6" height="2.71" fill="url(#hmrA5)"/>
<rect x="334.5" y="62.71" width="22.6" height="2.71" fill="url(#hmrA19)"/>
<rect x="334.5" y="65.12" width="22.6" height="2.71" fill="url(#hmrA9)"/>
<rect x="334.5" y="67.54" width="22.6" height="2.71" fill="url(#hmrA8)"/>
<rect x="334.5" y="69.95" width="22.6" height="2.71" fill="url(#hmrA5)"/>
<rect x="334.5" y="72.36" width="22.6" height="2.71" fill="url(#hmrA6)"/>
<rect x="334.5" y="74.77" width="22.6" height="2.71" fill="url(#hmrA17)"/>
<rect x="334.5" y="77.19" width="22.6" height="2.71" fill="url(#hmrA4)"/>
<rect x="334.5" y="79.6" width="22.6" height="2.58" fill="url(#hmrA1)"/>
<rect x="334.5" y="81.88" width="22.6" height="2.58" fill="url(#hmrA5)"/>
<rect x="334.5" y="84.15" width="22.6" height="2.58" fill="url(#hmrA0)"/>
<rect x="334.5" y="86.42" width="22.6" height="2.58" fill="url(#hmrA3)"/>
<rect x="334.5" y="88.7" width="22.6" height="2.58" fill="url(#hmrA3)"/>
<rect x="334.5" y="90.97" width="22.6" height="2.58" fill="url(#hmrA3)"/>
<rect x="334.5" y="93.25" width="22.6" height="2.58" fill="url(#hmrA1)"/>
<rect x="334.5" y="95.52" width="22.6" height="2.58" fill="url(#hmrA0)"/>
<rect x="334.5" y="97.8" width="22.6" height="2.6" fill="url(#hmrA4)"/>
<rect x="334.5" y="100.1" width="22.6" height="2.6" fill="url(#hmrA1)"/>
<rect x="334.5" y="102.4" width="22.6" height="2.6" fill="url(#hmrA3)"/>
<rect x="334.5" y="104.7" width="22.6" height="2.6" fill="url(#hmrA0)"/>
<rect x="334.5" y="107" width="22.6" height="2.6" fill="url(#hmrA2)"/>
<rect x="334.5" y="109.3" width="22.6" height="2.6" fill="url(#hmrA0)"/>
<rect x="334.5" y="111.6" width="22.6" height="2.6" fill="url(#hmrA0)"/>
<rect x="334.5" y="113.9" width="22.6" height="2.6" fill="url(#hmrA2)"/>
<rect x="334.5" y="116.2" width="22.6" height="2.67" fill="url(#hmrA9)"/>
<rect x="334.5" y="118.58" width="22.6" height="2.67" fill="url(#hmrA15)"/>
<rect x="334.5" y="120.95" width="22.6" height="2.67" fill="url(#hmrA14)"/>
<rect x="334.5" y="123.33" width="22.6" height="2.67" fill="url(#hmrA17)"/>
<rect x="334.5" y="125.7" width="22.6" height="2.67" fill="url(#hmrA12)"/>
<rect x="334.5" y="128.07" width="22.6" height="2.67" fill="url(#hmrA8)"/>
<rect x="334.5" y="130.45" width="22.6" height="2.67" fill="url(#hmrA6)"/>
<rect x="334.5" y="132.82" width="22.6" height="2.67" fill="url(#hmrA11)"/>
<rect x="334.5" y="135.2" width="22.6" height="2.65" fill="url(#hmrA3)"/>
<rect x="334.5" y="137.55" width="22.6" height="2.65" fill="url(#hmrA3)"/>
<rect x="334.5" y="139.9" width="22.6" height="2.65" fill="url(#hmrA6)"/>
<rect x="334.5" y="142.25" width="22.6" height="2.65" fill="url(#hmrA4)"/>
<rect x="334.5" y="144.6" width="22.6" height="2.65" fill="url(#hmrA3)"/>
<rect x="334.5" y="146.95" width="22.6" height="2.65" fill="url(#hmrA0)"/>
<rect x="334.5" y="149.3" width="22.6" height="2.65" fill="url(#hmrA3)"/>
<rect x="334.5" y="151.65" width="22.6" height="2.65" fill="url(#hmrA6)"/>
<rect x="334.5" y="154" width="22.6" height="2.62" fill="url(#hmrA8)"/>
<rect x="334.5" y="156.32" width="22.6" height="2.62" fill="url(#hmrA6)"/>
<rect x="334.5" y="158.65" width="22.6" height="2.62" fill="url(#hmrA5)"/>
<rect x="334.5" y="160.97" width="22.6" height="2.62" fill="url(#hmrA4)"/>
<rect x="334.5" y="163.3" width="22.6" height="2.62" fill="url(#hmrA4)"/>
<rect x="334.5" y="165.62" width="22.6" height="2.62" fill="url(#hmrA3)"/>
<rect x="334.5" y="167.95" width="22.6" height="2.62" fill="url(#hmrA5)"/>
<rect x="334.5" y="170.28" width="22.6" height="2.62" fill="url(#hmrA13)"/>
<rect x="334.5" y="172.6" width="22.6" height="2.65" fill="url(#hmrA11)"/>
<rect x="334.5" y="174.95" width="22.6" height="2.65" fill="url(#hmrA6)"/>
<rect x="334.5" y="177.3" width="22.6" height="2.65" fill="url(#hmrA3)"/>
<rect x="334.5" y="179.65" width="22.6" height="2.65" fill="url(#hmrA4)"/>
<rect x="334.5" y="182" width="22.6" height="2.65" fill="url(#hmrA4)"/>
<rect x="334.5" y="184.35" width="22.6" height="2.65" fill="url(#hmrA3)"/>
<rect x="334.5" y="186.7" width="22.6" height="2.65" fill="url(#hmrA11)"/>
<rect x="334.5" y="189.05" width="22.6" height="2.65" fill="url(#hmrA1)"/>
<rect x="334.5" y="191.4" width="22.6" height="2.62" fill="url(#hmrA15)"/>
<rect x="334.5" y="193.72" width="22.6" height="2.62" fill="url(#hmrA5)"/>
<rect x="334.5" y="196.05" width="22.6" height="2.62" fill="url(#hmrA4)"/>
<rect x="334.5" y="198.38" width="22.6" height="2.62" fill="url(#hmrA15)"/>
<rect x="334.5" y="200.7" width="22.6" height="2.62" fill="url(#hmrA12)"/>
<rect x="334.5" y="203.03" width="22.6" height="2.62" fill="url(#hmrA3)"/>
<rect x="334.5" y="205.35" width="22.6" height="2.62" fill="url(#hmrA4)"/>
<rect x="334.5" y="207.68" width="22.6" height="2.62" fill="url(#hmrA13)"/>
<line x1="334.2" y1="79.6" x2="357.4" y2="79.6" stroke="#262626" stroke-width="0.95"/>
<line x1="334.2" y1="97.8" x2="357.4" y2="97.8" stroke="#7a7a7a" stroke-width="1.3"/>
<line x1="334.2" y1="116.2" x2="357.4" y2="116.2" stroke="#262626" stroke-width="0.95"/>
<line x1="334.2" y1="135.2" x2="357.4" y2="135.2" stroke="#262626" stroke-width="0.95"/>
<line x1="334.2" y1="154" x2="357.4" y2="154" stroke="#7a7a7a" stroke-width="1.3"/>
<line x1="334.2" y1="172.6" x2="357.4" y2="172.6" stroke="#262626" stroke-width="0.95"/>
<line x1="334.2" y1="191.4" x2="357.4" y2="191.4" stroke="#262626" stroke-width="0.95"/>
<line x1="337.7" y1="23.2" x2="337.7" y2="210" stroke="#111" stroke-width="1.1" stroke-dasharray="2.9 1.6"/>
<line x1="337.7" y1="22.3" x2="350.3" y2="22.3" stroke="#f3a531" stroke-width="1.3"/>
<text x="343.2" y="19.3" text-anchor="middle">EA</text>
<line x1="335.1" y1="210" x2="335.1" y2="211.8" stroke="#231f20" stroke-width="0.8"/>
<line x1="356.5" y1="210" x2="356.5" y2="211.8" stroke="#231f20" stroke-width="0.8"/>
<text x="336.8" y="219.8" text-anchor="middle" font-size="8.7">-1</text>
<text x="355.4" y="219.8" text-anchor="middle" font-size="8.7">8</text>
<text x="319.8" y="8.6" text-anchor="middle">rACh</text>
<rect x="361.7" y="23" width="22.4" height="2.64" fill="url(#hmr53)"/>
<rect x="361.7" y="25.34" width="22.4" height="2.64" fill="url(#hmr52)"/>
<rect x="361.7" y="27.68" width="22.4" height="2.64" fill="url(#hmr57)"/>
<rect x="361.7" y="30.01" width="22.4" height="2.64" fill="url(#hmr53)"/>
<rect x="361.7" y="32.35" width="22.4" height="2.64" fill="url(#hmr55)"/>
<rect x="361.7" y="34.69" width="22.4" height="2.64" fill="url(#hmr53)"/>
<rect x="361.7" y="37.03" width="22.4" height="2.64" fill="url(#hmr56)"/>
<rect x="361.7" y="39.36" width="22.4" height="2.64" fill="url(#hmr56)"/>
<rect x="361.7" y="41.7" width="22.4" height="2.62" fill="url(#hmr513)"/>
<rect x="361.7" y="44.03" width="22.4" height="2.62" fill="url(#hmr59)"/>
<rect x="361.7" y="46.35" width="22.4" height="2.62" fill="url(#hmr55)"/>
<rect x="361.7" y="48.67" width="22.4" height="2.62" fill="url(#hmr510)"/>
<rect x="361.7" y="51" width="22.4" height="2.62" fill="url(#hmr53)"/>
<rect x="361.7" y="53.33" width="22.4" height="2.62" fill="url(#hmr511)"/>
<rect x="361.7" y="55.65" width="22.4" height="2.62" fill="url(#hmr52)"/>
<rect x="361.7" y="57.97" width="22.4" height="2.62" fill="url(#hmr53)"/>
<rect x="361.7" y="60.3" width="22.4" height="2.71" fill="url(#hmr57)"/>
<rect x="361.7" y="62.71" width="22.4" height="2.71" fill="url(#hmr53)"/>
<rect x="361.7" y="65.12" width="22.4" height="2.71" fill="url(#hmr53)"/>
<rect x="361.7" y="67.54" width="22.4" height="2.71" fill="url(#hmr59)"/>
<rect x="361.7" y="69.95" width="22.4" height="2.71" fill="url(#hmr54)"/>
<rect x="361.7" y="72.36" width="22.4" height="2.71" fill="url(#hmr53)"/>
<rect x="361.7" y="74.77" width="22.4" height="2.71" fill="url(#hmr51)"/>
<rect x="361.7" y="77.19" width="22.4" height="2.71" fill="url(#hmr53)"/>
<rect x="361.7" y="79.6" width="22.4" height="2.58" fill="url(#hmr52)"/>
<rect x="361.7" y="81.88" width="22.4" height="2.58" fill="url(#hmr52)"/>
<rect x="361.7" y="84.15" width="22.4" height="2.58" fill="url(#hmr50)"/>
<rect x="361.7" y="86.42" width="22.4" height="2.58" fill="url(#hmr53)"/>
<rect x="361.7" y="88.7" width="22.4" height="2.58" fill="url(#hmr54)"/>
<rect x="361.7" y="90.97" width="22.4" height="2.58" fill="url(#hmr54)"/>
<rect x="361.7" y="93.25" width="22.4" height="2.58" fill="url(#hmr51)"/>
<rect x="361.7" y="95.52" width="22.4" height="2.58" fill="url(#hmr52)"/>
<rect x="361.7" y="97.8" width="22.4" height="2.6" fill="url(#hmr54)"/>
<rect x="361.7" y="100.1" width="22.4" height="2.6" fill="url(#hmr52)"/>
<rect x="361.7" y="102.4" width="22.4" height="2.6" fill="url(#hmr52)"/>
<rect x="361.7" y="104.7" width="22.4" height="2.6" fill="url(#hmr57)"/>
<rect x="361.7" y="107" width="22.4" height="2.6" fill="url(#hmr53)"/>
<rect x="361.7" y="109.3" width="22.4" height="2.6" fill="url(#hmr54)"/>
<rect x="361.7" y="111.6" width="22.4" height="2.6" fill="url(#hmr50)"/>
<rect x="361.7" y="113.9" width="22.4" height="2.6" fill="url(#hmr52)"/>
<rect x="361.7" y="116.2" width="22.4" height="2.67" fill="url(#hmr58)"/>
<rect x="361.7" y="118.58" width="22.4" height="2.67" fill="url(#hmr513)"/>
<rect x="361.7" y="120.95" width="22.4" height="2.67" fill="url(#hmr55)"/>
<rect x="361.7" y="123.33" width="22.4" height="2.67" fill="url(#hmr56)"/>
<rect x="361.7" y="125.7" width="22.4" height="2.67" fill="url(#hmr514)"/>
<rect x="361.7" y="128.07" width="22.4" height="2.67" fill="url(#hmr56)"/>
<rect x="361.7" y="130.45" width="22.4" height="2.67" fill="url(#hmr54)"/>
<rect x="361.7" y="132.82" width="22.4" height="2.67" fill="url(#hmr56)"/>
<rect x="361.7" y="135.2" width="22.4" height="2.65" fill="url(#hmr56)"/>
<rect x="361.7" y="137.55" width="22.4" height="2.65" fill="url(#hmr513)"/>
<rect x="361.7" y="139.9" width="22.4" height="2.65" fill="url(#hmr55)"/>
<rect x="361.7" y="142.25" width="22.4" height="2.65" fill="url(#hmr58)"/>
<rect x="361.7" y="144.6" width="22.4" height="2.65" fill="url(#hmr53)"/>
<rect x="361.7" y="146.95" width="22.4" height="2.65" fill="url(#hmr57)"/>
<rect x="361.7" y="149.3" width="22.4" height="2.65" fill="url(#hmr59)"/>
<rect x="361.7" y="151.65" width="22.4" height="2.65" fill="url(#hmr510)"/>
<rect x="361.7" y="154" width="22.4" height="2.62" fill="url(#hmr59)"/>
<rect x="361.7" y="156.32" width="22.4" height="2.62" fill="url(#hmr59)"/>
<rect x="361.7" y="158.65" width="22.4" height="2.62" fill="url(#hmr55)"/>
<rect x="361.7" y="160.97" width="22.4" height="2.62" fill="url(#hmr55)"/>
<rect x="361.7" y="163.3" width="22.4" height="2.62" fill="url(#hmr51)"/>
<rect x="361.7" y="165.62" width="22.4" height="2.62" fill="url(#hmr52)"/>
<rect x="361.7" y="167.95" width="22.4" height="2.62" fill="url(#hmr52)"/>
<rect x="361.7" y="170.28" width="22.4" height="2.62" fill="url(#hmr56)"/>
<rect x="361.7" y="172.6" width="22.4" height="2.65" fill="url(#hmr52)"/>
<rect x="361.7" y="174.95" width="22.4" height="2.65" fill="url(#hmr55)"/>
<rect x="361.7" y="177.3" width="22.4" height="2.65" fill="url(#hmr511)"/>
<rect x="361.7" y="179.65" width="22.4" height="2.65" fill="url(#hmr55)"/>
<rect x="361.7" y="182" width="22.4" height="2.65" fill="url(#hmr58)"/>
<rect x="361.7" y="184.35" width="22.4" height="2.65" fill="url(#hmr55)"/>
<rect x="361.7" y="186.7" width="22.4" height="2.65" fill="url(#hmr52)"/>
<rect x="361.7" y="189.05" width="22.4" height="2.65" fill="url(#hmr55)"/>
<rect x="361.7" y="191.4" width="22.4" height="2.62" fill="url(#hmr53)"/>
<rect x="361.7" y="193.72" width="22.4" height="2.62" fill="url(#hmr54)"/>
<rect x="361.7" y="196.05" width="22.4" height="2.62" fill="url(#hmr57)"/>
<rect x="361.7" y="198.38" width="22.4" height="2.62" fill="url(#hmr52)"/>
<rect x="361.7" y="200.7" width="22.4" height="2.62" fill="url(#hmr53)"/>
<rect x="361.7" y="203.03" width="22.4" height="2.62" fill="url(#hmr57)"/>
<rect x="361.7" y="205.35" width="22.4" height="2.62" fill="url(#hmr511)"/>
<rect x="361.7" y="207.68" width="22.4" height="2.62" fill="url(#hmr510)"/>
<line x1="361.4" y1="79.6" x2="384.4" y2="79.6" stroke="#262626" stroke-width="0.95"/>
<line x1="361.4" y1="97.8" x2="384.4" y2="97.8" stroke="#7a7a7a" stroke-width="1.3"/>
<line x1="361.4" y1="116.2" x2="384.4" y2="116.2" stroke="#262626" stroke-width="0.95"/>
<line x1="361.4" y1="135.2" x2="384.4" y2="135.2" stroke="#262626" stroke-width="0.95"/>
<line x1="361.4" y1="154" x2="384.4" y2="154" stroke="#7a7a7a" stroke-width="1.3"/>
<line x1="361.4" y1="172.6" x2="384.4" y2="172.6" stroke="#262626" stroke-width="0.95"/>
<line x1="361.4" y1="191.4" x2="384.4" y2="191.4" stroke="#262626" stroke-width="0.95"/>
<line x1="364.9" y1="23.2" x2="364.9" y2="210" stroke="#111" stroke-width="1.1" stroke-dasharray="2.9 1.6"/>
<line x1="364.9" y1="22.3" x2="371.1" y2="22.3" stroke="#5b7be6" stroke-width="1.3"/>
<text x="373.4" y="19.3" text-anchor="middle">OCT</text>
<line x1="362.3" y1="210" x2="362.3" y2="211.8" stroke="#231f20" stroke-width="0.8"/>
<line x1="383.5" y1="210" x2="383.5" y2="211.8" stroke="#231f20" stroke-width="0.8"/>
<text x="363.7" y="219.8" text-anchor="middle" font-size="8.7">-2</text>
<text x="381.8" y="219.8" text-anchor="middle" font-size="8.7">16</text>
<rect x="388.8" y="23" width="22.4" height="2.64" fill="url(#hmr52)"/>
<rect x="388.8" y="25.34" width="22.4" height="2.64" fill="url(#hmr55)"/>
<rect x="388.8" y="27.68" width="22.4" height="2.64" fill="url(#hmr56)"/>
<rect x="388.8" y="30.01" width="22.4" height="2.64" fill="url(#hmr54)"/>
<rect x="388.8" y="32.35" width="22.4" height="2.64" fill="url(#hmr56)"/>
<rect x="388.8" y="34.69" width="22.4" height="2.64" fill="url(#hmr54)"/>
<rect x="388.8" y="37.03" width="22.4" height="2.64" fill="url(#hmr55)"/>
<rect x="388.8" y="39.36" width="22.4" height="2.64" fill="url(#hmr55)"/>
<rect x="388.8" y="41.7" width="22.4" height="2.62" fill="url(#hmr513)"/>
<rect x="388.8" y="44.03" width="22.4" height="2.62" fill="url(#hmr511)"/>
<rect x="388.8" y="46.35" width="22.4" height="2.62" fill="url(#hmr57)"/>
<rect x="388.8" y="48.67" width="22.4" height="2.62" fill="url(#hmr59)"/>
<rect x="388.8" y="51" width="22.4" height="2.62" fill="url(#hmr52)"/>
<rect x="388.8" y="53.33" width="22.4" height="2.62" fill="url(#hmr59)"/>
<rect x="388.8" y="55.65" width="22.4" height="2.62" fill="url(#hmr51)"/>
<rect x="388.8" y="57.97" width="22.4" height="2.62" fill="url(#hmr51)"/>
<rect x="388.8" y="60.3" width="22.4" height="2.71" fill="url(#hmr55)"/>
<rect x="388.8" y="62.71" width="22.4" height="2.71" fill="url(#hmr55)"/>
<rect x="388.8" y="65.12" width="22.4" height="2.71" fill="url(#hmr55)"/>
<rect x="388.8" y="67.54" width="22.4" height="2.71" fill="url(#hmr59)"/>
<rect x="388.8" y="69.95" width="22.4" height="2.71" fill="url(#hmr54)"/>
<rect x="388.8" y="72.36" width="22.4" height="2.71" fill="url(#hmr56)"/>
<rect x="388.8" y="74.77" width="22.4" height="2.71" fill="url(#hmr53)"/>
<rect x="388.8" y="77.19" width="22.4" height="2.71" fill="url(#hmr53)"/>
<rect x="388.8" y="79.6" width="22.4" height="2.58" fill="url(#hmr52)"/>
<rect x="388.8" y="81.88" width="22.4" height="2.58" fill="url(#hmr51)"/>
<rect x="388.8" y="84.15" width="22.4" height="2.58" fill="url(#hmr51)"/>
<rect x="388.8" y="86.42" width="22.4" height="2.58" fill="url(#hmr52)"/>
<rect x="388.8" y="88.7" width="22.4" height="2.58" fill="url(#hmr51)"/>
<rect x="388.8" y="90.97" width="22.4" height="2.58" fill="url(#hmr54)"/>
<rect x="388.8" y="93.25" width="22.4" height="2.58" fill="url(#hmr52)"/>
<rect x="388.8" y="95.52" width="22.4" height="2.58" fill="url(#hmr53)"/>
<rect x="388.8" y="97.8" width="22.4" height="2.6" fill="url(#hmr53)"/>
<rect x="388.8" y="100.1" width="22.4" height="2.6" fill="url(#hmr51)"/>
<rect x="388.8" y="102.4" width="22.4" height="2.6" fill="url(#hmr55)"/>
<rect x="388.8" y="104.7" width="22.4" height="2.6" fill="url(#hmr55)"/>
<rect x="388.8" y="107" width="22.4" height="2.6" fill="url(#hmr51)"/>
<rect x="388.8" y="109.3" width="22.4" height="2.6" fill="url(#hmr53)"/>
<rect x="388.8" y="111.6" width="22.4" height="2.6" fill="url(#hmr50)"/>
<rect x="388.8" y="113.9" width="22.4" height="2.6" fill="url(#hmr51)"/>
<rect x="388.8" y="116.2" width="22.4" height="2.67" fill="url(#hmr57)"/>
<rect x="388.8" y="118.58" width="22.4" height="2.67" fill="url(#hmr513)"/>
<rect x="388.8" y="120.95" width="22.4" height="2.67" fill="url(#hmr50)"/>
<rect x="388.8" y="123.33" width="22.4" height="2.67" fill="url(#hmr54)"/>
<rect x="388.8" y="125.7" width="22.4" height="2.67" fill="url(#hmr514)"/>
<rect x="388.8" y="128.07" width="22.4" height="2.67" fill="url(#hmr55)"/>
<rect x="388.8" y="130.45" width="22.4" height="2.67" fill="url(#hmr54)"/>
<rect x="388.8" y="132.82" width="22.4" height="2.67" fill="url(#hmr56)"/>
<rect x="388.8" y="135.2" width="22.4" height="2.65" fill="url(#hmr53)"/>
<rect x="388.8" y="137.55" width="22.4" height="2.65" fill="url(#hmr510)"/>
<rect x="388.8" y="139.9" width="22.4" height="2.65" fill="url(#hmr52)"/>
<rect x="388.8" y="142.25" width="22.4" height="2.65" fill="url(#hmr58)"/>
<rect x="388.8" y="144.6" width="22.4" height="2.65" fill="url(#hmr51)"/>
<rect x="388.8" y="146.95" width="22.4" height="2.65" fill="url(#hmr510)"/>
<rect x="388.8" y="149.3" width="22.4" height="2.65" fill="url(#hmr58)"/>
<rect x="388.8" y="151.65" width="22.4" height="2.65" fill="url(#hmr58)"/>
<rect x="388.8" y="154" width="22.4" height="2.62" fill="url(#hmr59)"/>
<rect x="388.8" y="156.32" width="22.4" height="2.62" fill="url(#hmr57)"/>
<rect x="388.8" y="158.65" width="22.4" height="2.62" fill="url(#hmr54)"/>
<rect x="388.8" y="160.97" width="22.4" height="2.62" fill="url(#hmr53)"/>
<rect x="388.8" y="163.3" width="22.4" height="2.62" fill="url(#hmr53)"/>
<rect x="388.8" y="165.62" width="22.4" height="2.62" fill="url(#hmr52)"/>
<rect x="388.8" y="167.95" width="22.4" height="2.62" fill="url(#hmr53)"/>
<rect x="388.8" y="170.28" width="22.4" height="2.62" fill="url(#hmr53)"/>
<rect x="388.8" y="172.6" width="22.4" height="2.65" fill="url(#hmr54)"/>
<rect x="388.8" y="174.95" width="22.4" height="2.65" fill="url(#hmr55)"/>
<rect x="388.8" y="177.3" width="22.4" height="2.65" fill="url(#hmr57)"/>
<rect x="388.8" y="179.65" width="22.4" height="2.65" fill="url(#hmr53)"/>
<rect x="388.8" y="182" width="22.4" height="2.65" fill="url(#hmr58)"/>
<rect x="388.8" y="184.35" width="22.4" height="2.65" fill="url(#hmr53)"/>
<rect x="388.8" y="186.7" width="22.4" height="2.65" fill="url(#hmr53)"/>
<rect x="388.8" y="189.05" width="22.4" height="2.65" fill="url(#hmr56)"/>
<rect x="388.8" y="191.4" width="22.4" height="2.62" fill="url(#hmr53)"/>
<rect x="388.8" y="193.72" width="22.4" height="2.62" fill="url(#hmr56)"/>
<rect x="388.8" y="196.05" width="22.4" height="2.62" fill="url(#hmr54)"/>
<rect x="388.8" y="198.38" width="22.4" height="2.62" fill="url(#hmr55)"/>
<rect x="388.8" y="200.7" width="22.4" height="2.62" fill="url(#hmr55)"/>
<rect x="388.8" y="203.03" width="22.4" height="2.62" fill="url(#hmr57)"/>
<rect x="388.8" y="205.35" width="22.4" height="2.62" fill="url(#hmr58)"/>
<rect x="388.8" y="207.68" width="22.4" height="2.62" fill="url(#hmr56)"/>
<line x1="388.5" y1="79.6" x2="411.5" y2="79.6" stroke="#262626" stroke-width="0.95"/>
<line x1="388.5" y1="97.8" x2="411.5" y2="97.8" stroke="#7a7a7a" stroke-width="1.3"/>
<line x1="388.5" y1="116.2" x2="411.5" y2="116.2" stroke="#262626" stroke-width="0.95"/>
<line x1="388.5" y1="135.2" x2="411.5" y2="135.2" stroke="#262626" stroke-width="0.95"/>
<line x1="388.5" y1="154" x2="411.5" y2="154" stroke="#7a7a7a" stroke-width="1.3"/>
<line x1="388.5" y1="172.6" x2="411.5" y2="172.6" stroke="#262626" stroke-width="0.95"/>
<line x1="388.5" y1="191.4" x2="411.5" y2="191.4" stroke="#262626" stroke-width="0.95"/>
<line x1="392" y1="23.2" x2="392" y2="210" stroke="#111" stroke-width="1.1" stroke-dasharray="2.9 1.6"/>
<line x1="392" y1="22.3" x2="398.2" y2="22.3" stroke="#d0484f" stroke-width="1.3"/>
<text x="401.3" y="19.3" text-anchor="middle">MCH</text>
<line x1="389.4" y1="210" x2="389.4" y2="211.8" stroke="#231f20" stroke-width="0.8"/>
<line x1="410.6" y1="210" x2="410.6" y2="211.8" stroke="#231f20" stroke-width="0.8"/>
<text x="390.8" y="219.8" text-anchor="middle" font-size="8.7">-2</text>
<text x="408.9" y="219.8" text-anchor="middle" font-size="8.7">16</text>
<rect x="415.9" y="23" width="22.4" height="2.64" fill="url(#hmr51)"/>
<rect x="415.9" y="25.34" width="22.4" height="2.64" fill="url(#hmr53)"/>
<rect x="415.9" y="27.68" width="22.4" height="2.64" fill="url(#hmr57)"/>
<rect x="415.9" y="30.01" width="22.4" height="2.64" fill="url(#hmr54)"/>
<rect x="415.9" y="32.35" width="22.4" height="2.64" fill="url(#hmr53)"/>
<rect x="415.9" y="34.69" width="22.4" height="2.64" fill="url(#hmr54)"/>
<rect x="415.9" y="37.03" width="22.4" height="2.64" fill="url(#hmr57)"/>
<rect x="415.9" y="39.36" width="22.4" height="2.64" fill="url(#hmr56)"/>
<rect x="415.9" y="41.7" width="22.4" height="2.62" fill="url(#hmr513)"/>
<rect x="415.9" y="44.03" width="22.4" height="2.62" fill="url(#hmr512)"/>
<rect x="415.9" y="46.35" width="22.4" height="2.62" fill="url(#hmr55)"/>
<rect x="415.9" y="48.67" width="22.4" height="2.62" fill="url(#hmr59)"/>
<rect x="415.9" y="51" width="22.4" height="2.62" fill="url(#hmr53)"/>
<rect x="415.9" y="53.33" width="22.4" height="2.62" fill="url(#hmr511)"/>
<rect x="415.9" y="55.65" width="22.4" height="2.62" fill="url(#hmr52)"/>
<rect x="415.9" y="57.97" width="22.4" height="2.62" fill="url(#hmr53)"/>
<rect x="415.9" y="60.3" width="22.4" height="2.71" fill="url(#hmr58)"/>
<rect x="415.9" y="62.71" width="22.4" height="2.71" fill="url(#hmr52)"/>
<rect x="415.9" y="65.12" width="22.4" height="2.71" fill="url(#hmr54)"/>
<rect x="415.9" y="67.54" width="22.4" height="2.71" fill="url(#hmr510)"/>
<rect x="415.9" y="69.95" width="22.4" height="2.71" fill="url(#hmr53)"/>
<rect x="415.9" y="72.36" width="22.4" height="2.71" fill="url(#hmr55)"/>
<rect x="415.9" y="74.77" width="22.4" height="2.71" fill="url(#hmr55)"/>
<rect x="415.9" y="77.19" width="22.4" height="2.71" fill="url(#hmr53)"/>
<rect x="415.9" y="79.6" width="22.4" height="2.58" fill="url(#hmr52)"/>
<rect x="415.9" y="81.88" width="22.4" height="2.58" fill="url(#hmr53)"/>
<rect x="415.9" y="84.15" width="22.4" height="2.58" fill="url(#hmr55)"/>
<rect x="415.9" y="86.42" width="22.4" height="2.58" fill="url(#hmr51)"/>
<rect x="415.9" y="88.7" width="22.4" height="2.58" fill="url(#hmr51)"/>
<rect x="415.9" y="90.97" width="22.4" height="2.58" fill="url(#hmr54)"/>
<rect x="415.9" y="93.25" width="22.4" height="2.58" fill="url(#hmr51)"/>
<rect x="415.9" y="95.52" width="22.4" height="2.58" fill="url(#hmr56)"/>
<rect x="415.9" y="97.8" width="22.4" height="2.6" fill="url(#hmr54)"/>
<rect x="415.9" y="100.1" width="22.4" height="2.6" fill="url(#hmr51)"/>
<rect x="415.9" y="102.4" width="22.4" height="2.6" fill="url(#hmr54)"/>
<rect x="415.9" y="104.7" width="22.4" height="2.6" fill="url(#hmr55)"/>
<rect x="415.9" y="107" width="22.4" height="2.6" fill="url(#hmr51)"/>
<rect x="415.9" y="109.3" width="22.4" height="2.6" fill="url(#hmr53)"/>
<rect x="415.9" y="111.6" width="22.4" height="2.6" fill="url(#hmr54)"/>
<rect x="415.9" y="113.9" width="22.4" height="2.6" fill="url(#hmr50)"/>
<rect x="415.9" y="116.2" width="22.4" height="2.67" fill="url(#hmr58)"/>
<rect x="415.9" y="118.58" width="22.4" height="2.67" fill="url(#hmr517)"/>
<rect x="415.9" y="120.95" width="22.4" height="2.67" fill="url(#hmr55)"/>
<rect x="415.9" y="123.33" width="22.4" height="2.67" fill="url(#hmr56)"/>
<rect x="415.9" y="125.7" width="22.4" height="2.67" fill="url(#hmr513)"/>
<rect x="415.9" y="128.07" width="22.4" height="2.67" fill="url(#hmr57)"/>
<rect x="415.9" y="130.45" width="22.4" height="2.67" fill="url(#hmr54)"/>
<rect x="415.9" y="132.82" width="22.4" height="2.67" fill="url(#hmr54)"/>
<rect x="415.9" y="135.2" width="22.4" height="2.65" fill="url(#hmr57)"/>
<rect x="415.9" y="137.55" width="22.4" height="2.65" fill="url(#hmr510)"/>
<rect x="415.9" y="139.9" width="22.4" height="2.65" fill="url(#hmr53)"/>
<rect x="415.9" y="142.25" width="22.4" height="2.65" fill="url(#hmr58)"/>
<rect x="415.9" y="144.6" width="22.4" height="2.65" fill="url(#hmr52)"/>
<rect x="415.9" y="146.95" width="22.4" height="2.65" fill="url(#hmr56)"/>
<rect x="415.9" y="149.3" width="22.4" height="2.65" fill="url(#hmr57)"/>
<rect x="415.9" y="151.65" width="22.4" height="2.65" fill="url(#hmr58)"/>
<rect x="415.9" y="154" width="22.4" height="2.62" fill="url(#hmr59)"/>
<rect x="415.9" y="156.32" width="22.4" height="2.62" fill="url(#hmr510)"/>
<rect x="415.9" y="158.65" width="22.4" height="2.62" fill="url(#hmr54)"/>
<rect x="415.9" y="160.97" width="22.4" height="2.62" fill="url(#hmr54)"/>
<rect x="415.9" y="163.3" width="22.4" height="2.62" fill="url(#hmr53)"/>
<rect x="415.9" y="165.62" width="22.4" height="2.62" fill="url(#hmr54)"/>
<rect x="415.9" y="167.95" width="22.4" height="2.62" fill="url(#hmr53)"/>
<rect x="415.9" y="170.28" width="22.4" height="2.62" fill="url(#hmr52)"/>
<rect x="415.9" y="172.6" width="22.4" height="2.65" fill="url(#hmr52)"/>
<rect x="415.9" y="174.95" width="22.4" height="2.65" fill="url(#hmr56)"/>
<rect x="415.9" y="177.3" width="22.4" height="2.65" fill="url(#hmr510)"/>
<rect x="415.9" y="179.65" width="22.4" height="2.65" fill="url(#hmr52)"/>
<rect x="415.9" y="182" width="22.4" height="2.65" fill="url(#hmr57)"/>
<rect x="415.9" y="184.35" width="22.4" height="2.65" fill="url(#hmr54)"/>
<rect x="415.9" y="186.7" width="22.4" height="2.65" fill="url(#hmr55)"/>
<rect x="415.9" y="189.05" width="22.4" height="2.65" fill="url(#hmr55)"/>
<rect x="415.9" y="191.4" width="22.4" height="2.62" fill="url(#hmr53)"/>
<rect x="415.9" y="193.72" width="22.4" height="2.62" fill="url(#hmr56)"/>
<rect x="415.9" y="196.05" width="22.4" height="2.62" fill="url(#hmr56)"/>
<rect x="415.9" y="198.38" width="22.4" height="2.62" fill="url(#hmr56)"/>
<rect x="415.9" y="200.7" width="22.4" height="2.62" fill="url(#hmr51)"/>
<rect x="415.9" y="203.03" width="22.4" height="2.62" fill="url(#hmr59)"/>
<rect x="415.9" y="205.35" width="22.4" height="2.62" fill="url(#hmr59)"/>
<rect x="415.9" y="207.68" width="22.4" height="2.62" fill="url(#hmr58)"/>
<line x1="415.6" y1="79.6" x2="438.6" y2="79.6" stroke="#262626" stroke-width="0.95"/>
<line x1="415.6" y1="97.8" x2="438.6" y2="97.8" stroke="#7a7a7a" stroke-width="1.3"/>
<line x1="415.6" y1="116.2" x2="438.6" y2="116.2" stroke="#262626" stroke-width="0.95"/>
<line x1="415.6" y1="135.2" x2="438.6" y2="135.2" stroke="#262626" stroke-width="0.95"/>
<line x1="415.6" y1="154" x2="438.6" y2="154" stroke="#7a7a7a" stroke-width="1.3"/>
<line x1="415.6" y1="172.6" x2="438.6" y2="172.6" stroke="#262626" stroke-width="0.95"/>
<line x1="415.6" y1="191.4" x2="438.6" y2="191.4" stroke="#262626" stroke-width="0.95"/>
<line x1="419.1" y1="23.2" x2="419.1" y2="210" stroke="#111" stroke-width="1.1" stroke-dasharray="2.9 1.6"/>
<line x1="419.1" y1="22.3" x2="425.3" y2="22.3" stroke="#f3a531" stroke-width="1.3"/>
<text x="424.5" y="19.3" text-anchor="middle">EA</text>
<line x1="416.5" y1="210" x2="416.5" y2="211.8" stroke="#231f20" stroke-width="0.8"/>
<line x1="437.7" y1="210" x2="437.7" y2="211.8" stroke="#231f20" stroke-width="0.8"/>
<text x="417.9" y="219.8" text-anchor="middle" font-size="8.7">-2</text>
<text x="436" y="219.8" text-anchor="middle" font-size="8.7">16</text>
<text x="401.1" y="8.6" text-anchor="middle">r5-HT</text>
<text x="320.1" y="230.6" text-anchor="middle" font-size="8.4">Time (s)</text>
<path d="M195.5,24.4 L200.4,24.1 L197.9,27.6 Z" fill="#111"/>
<path d="M195.5,37.4 L200.4,37.1 L197.9,40.6 Z" fill="#111"/>
<path d="M195.5,77.4 L200.4,77.1 L197.9,80.6 Z" fill="#111"/>
<path d="M195.5,126.4 L200.4,126.1 L197.9,129.6 Z" fill="#111"/>
<path d="M276.9,24.4 L281.8,24.1 L279.3,27.6 Z" fill="#111"/>
<path d="M276.9,37.4 L281.8,37.1 L279.3,40.6 Z" fill="#111"/>
<path d="M276.9,77.4 L281.8,77.1 L279.3,80.6 Z" fill="#111"/>
<path d="M276.9,126.4 L281.8,126.1 L279.3,129.6 Z" fill="#111"/>
<text x="440.6" y="86.4" font-size="8.2">&#916;<tspan font-style="italic">F</tspan><tspan dx="0.5">/</tspan><tspan font-style="italic" dx="0.2">F</tspan></text>
<rect x="442.2" y="100.3" width="3.3" height="25.1" fill="url(#cbG)" stroke="#333" stroke-width="0.5"/>
<text x="450.4" y="94.6" font-size="7.8" transform="rotate(90 450.4 94.6)" dominant-baseline="central">0.2</text>
<text x="450.4" y="123.3" font-size="7.8" transform="rotate(90 450.4 123.3)" dominant-baseline="central">0</text>
<rect x="442.2" y="142.1" width="3.3" height="25.4" fill="url(#cbP)" stroke="#333" stroke-width="0.5"/>
<text x="450.4" y="136.4" font-size="7.8" transform="rotate(90 450.4 136.4)" dominant-baseline="central">0.2</text>
<text x="450.4" y="165.4" font-size="7.8" transform="rotate(90 450.4 165.4)" dominant-baseline="central">0</text>
<rect x="442.2" y="184.8" width="3.3" height="25.4" fill="url(#cbB)" stroke="#333" stroke-width="0.5"/>
<text x="450.4" y="179.1" font-size="7.8" transform="rotate(90 450.4 179.1)" dominant-baseline="central">0.2</text>
<text x="450.4" y="208.1" font-size="7.8" transform="rotate(90 450.4 208.1)" dominant-baseline="central">0</text>
<text x="463.7" y="10.6">&#916;<tspan font-style="italic">F</tspan><tspan dx="0.5">/</tspan><tspan font-style="italic" dx="0.2">F</tspan> = 0.1</text>
<polyline points="505.7,2.6 505.7,11.7 531.6,11.7" stroke="#231f20" stroke-width="0.9" fill="none"/>
<text x="518.8" y="19.6" text-anchor="middle">2 min</text>
<line x1="542.4" y1="11.2" x2="553.6" y2="11.2" stroke="#2a8c50" stroke-width="1.1"/>
<text x="555.4" y="14">G7f</text>
<line x1="571.8" y1="11.2" x2="584.5" y2="11.2" stroke="#9a4fa6" stroke-width="1.1"/>
<text x="586.3" y="14">rACh</text>
<line x1="607.9" y1="11.2" x2="619" y2="11.2" stroke="#2f82c3" stroke-width="1.1"/>
<text x="620.8" y="14">r5-HT</text>
<line x1="651.7" y1="11.2" x2="663" y2="11.2" stroke="#c8c8c8" stroke-width="1.1"/>
<text x="664.8" y="14">Stim</text>
<line x1="477.7" y1="21.7" x2="477.7" y2="226" stroke="#d6d6d6" stroke-width="1.4"/>
<line x1="485.47" y1="21.7" x2="485.47" y2="226" stroke="#d6d6d6" stroke-width="1.4"/>
<line x1="493.24" y1="21.7" x2="493.24" y2="226" stroke="#d6d6d6" stroke-width="1.4"/>
<line x1="501.01" y1="21.7" x2="501.01" y2="226" stroke="#d6d6d6" stroke-width="1.4"/>
<line x1="508.78" y1="21.7" x2="508.78" y2="226" stroke="#d6d6d6" stroke-width="1.4"/>
<line x1="516.55" y1="21.7" x2="516.55" y2="226" stroke="#d6d6d6" stroke-width="1.4"/>
<line x1="524.32" y1="21.7" x2="524.32" y2="226" stroke="#d6d6d6" stroke-width="1.4"/>
<line x1="532.09" y1="21.7" x2="532.09" y2="226" stroke="#d6d6d6" stroke-width="1.4"/>
<line x1="539.86" y1="21.7" x2="539.86" y2="226" stroke="#d6d6d6" stroke-width="1.4"/>
<line x1="547.63" y1="21.7" x2="547.63" y2="226" stroke="#d6d6d6" stroke-width="1.4"/>
<line x1="555.4" y1="21.7" x2="555.4" y2="226" stroke="#d6d6d6" stroke-width="1.4"/>
<line x1="563.17" y1="21.7" x2="563.17" y2="226" stroke="#d6d6d6" stroke-width="1.4"/>
<line x1="570.94" y1="21.7" x2="570.94" y2="226" stroke="#d6d6d6" stroke-width="1.4"/>
<line x1="578.71" y1="21.7" x2="578.71" y2="226" stroke="#d6d6d6" stroke-width="1.4"/>
<line x1="586.48" y1="21.7" x2="586.48" y2="226" stroke="#d6d6d6" stroke-width="1.4"/>
<line x1="594.25" y1="21.7" x2="594.25" y2="226" stroke="#d6d6d6" stroke-width="1.4"/>
<line x1="602.02" y1="21.7" x2="602.02" y2="226" stroke="#d6d6d6" stroke-width="1.4"/>
<line x1="609.79" y1="21.7" x2="609.79" y2="226" stroke="#d6d6d6" stroke-width="1.4"/>
<line x1="617.56" y1="21.7" x2="617.56" y2="226" stroke="#d6d6d6" stroke-width="1.4"/>
<line x1="625.33" y1="21.7" x2="625.33" y2="226" stroke="#d6d6d6" stroke-width="1.4"/>
<line x1="633.1" y1="21.7" x2="633.1" y2="226" stroke="#d6d6d6" stroke-width="1.4"/>
<line x1="640.87" y1="21.7" x2="640.87" y2="226" stroke="#d6d6d6" stroke-width="1.4"/>
<line x1="648.64" y1="21.7" x2="648.64" y2="226" stroke="#d6d6d6" stroke-width="1.4"/>
<line x1="656.41" y1="21.7" x2="656.41" y2="226" stroke="#d6d6d6" stroke-width="1.4"/>
<line x1="664.18" y1="21.7" x2="664.18" y2="226" stroke="#d6d6d6" stroke-width="1.4"/>
<line x1="671.95" y1="21.7" x2="671.95" y2="226" stroke="#d6d6d6" stroke-width="1.4"/>
<line x1="679.72" y1="21.7" x2="679.72" y2="226" stroke="#d6d6d6" stroke-width="1.4"/>
<polyline points="471.1,45.6 471.6,46.48 472.1,46.03 472.6,46.59 473.1,45.87 473.6,46.81 474.1,44.34 474.6,46.21 475.1,45.45 475.6,47.85 476.1,46.51 476.6,47.58 477.1,48.33 477.6,36.89 478.1,39.16 478.6,40.61 479.1,43.23 479.6,45.16 480.1,46.12 480.6,46.08 481.1,47.21 481.6,46.53 482.1,46.9 482.6,48.91 483.1,47.89 483.6,46.7 484.1,46.81 484.6,47.67 485.1,36.78 485.6,34.71 486.1,38.78 486.6,42.7 487.1,43.04 487.6,44.85 488.1,45.51 488.6,45.43 489.1,45.66 489.6,46.23 490.1,45.05 490.6,46.15 491.1,45.94 491.6,47.52 492.1,46.99 492.6,46.62 493.1,35.93 493.6,38.67 494.1,41.1 494.6,43.02 495.1,43.33 495.6,43.49 496.1,43.88 496.6,45.22 497.1,44.8 497.6,45.48 498.1,44.75 498.6,45.98 499.1,46.27 499.6,46.22 500.1,46.32 500.6,40.98 501.1,37.13 501.6,40.84 502.1,42.25 502.6,43.76 503.1,45.14 503.6,45.1 504.1,44.85 504.6,45.27 505.1,46.12 505.6,46.3 506.1,46.39 506.6,45.07 507.1,46.75 507.6,46.63 508.1,46.1 508.6,35.85 509.1,36.96 509.6,39 510.1,40.8 510.6,40.41 511.1,41.94 511.6,42.83 512.1,43.11 512.6,44.57 513.1,43.99 513.6,45.1 514.1,45.18 514.6,45.74 515.1,44.7 515.6,43.83 516.1,40.19 516.6,34.5 517.1,39.61 517.6,40.02 518.1,43.19 518.6,43.2 519.1,44.05 519.6,42.72 520.1,43.12 520.6,45.62 521.1,44.96 521.6,44.51 522.1,47.37 522.6,46.54 523.1,46.58 523.6,46.29 524.1,35.94 524.6,36.63 525.1,40.53 525.6,41.51 526.1,42.91 526.6,42.69 527.1,45.67 527.6,45.53 528.1,46.74 528.6,45.13 529.1,44.96 529.6,45.2 530.1,43.25 530.6,45.03 531.1,44.6 531.6,39.37 532.1,31.84 532.6,35.32 533.1,37.46 533.6,39.64 534.1,40.86 534.6,40.23 535.1,40.18 535.6,41.39 536.1,40.51 536.6,40.57 537.1,39.99 537.6,42.24 538.1,41.89 538.6,42.13 539.1,42.07 539.6,35.06 540.1,33.91 540.6,37.72 541.1,40.68 541.6,39.98 542.1,40.22 542.6,41.37 543.1,39.94 543.6,41.07 544.1,41.21 544.6,40.49 545.1,39.68 545.6,39.69 546.1,40.26 546.6,40.35 547.1,37.53 547.6,33.05 548.1,33.66 548.6,34.66 549.1,35.97 549.6,36.34 550.1,37.96 550.6,37.12 551.1,37.06 551.6,37.91 552.1,38.35 552.6,38.06 553.1,38.65 553.6,37.28 554.1,37.04 554.6,38.67 555.1,26.08 555.6,27.09 556.1,31.59 556.6,34.1 557.1,35.73 557.6,36.69 558.1,37.76 558.6,38.36 559.1,38.85 559.6,38.55 560.1,40.08 560.6,41.33 561.1,40.94 561.6,41.84 562.1,42.28 562.6,41.81 563.1,33.42 563.6,35.73 564.1,40.06 564.6,41.07 565.1,42.05 565.6,41.9 566.1,42.85 566.6,44.2 567.1,42.67 567.6,44.07 568.1,44.95 568.6,45.45 569.1,45.11 569.6,44.7 570.1,44.24 570.6,35.82 571.1,33.12 571.6,37.95 572.1,40.05 572.6,41.66 573.1,41.93 573.6,43.04 574.1,43.23 574.6,41.69 575.1,43.32 575.6,43.65 576.1,43.2 576.6,42.49 577.1,43.47 577.6,43.58 578.1,44.06 578.6,35.95 579.1,38.24 579.6,39.81 580.1,41.4 580.6,41.32 581.1,41.82 581.6,43.57 582.1,42.6 582.6,43.69 583.1,44.19 583.6,45.29 584.1,45.55 584.6,44.7 585.1,44.98 585.6,44.78 586.1,37.01 586.6,35.33 587.1,39.02 587.6,39.87 588.1,40.76 588.6,41.98 589.1,42.01 589.6,42.74 590.1,43.19 590.6,43.54 591.1,43.72 591.6,45.22 592.1,45.29 592.6,44.77 593.1,44.1 593.6,45.16 594.1,33.71 594.6,36.25 595.1,39.49 595.6,41.5 596.1,41.55 596.6,43.41 597.1,43.37 597.6,43.75 598.1,44.55 598.6,45.46 599.1,45.01 599.6,45.27 600.1,45.45 600.6,44.74 601.1,46.78 601.6,41.27 602.1,38.36 602.6,40.55 603.1,40.95 603.6,43.08 604.1,41.85 604.6,43.54 605.1,43.29 605.6,44.37 606.1,43.54 606.6,43.85 607.1,43.86 607.6,43.6 608.1,44.66 608.6,43.07 609.1,44.12 609.6,31.65 610.1,32.81 610.6,37.49 611.1,40.5 611.6,41.44 612.1,42.41 612.6,43.11 613.1,44.42 613.6,43.36 614.1,43.68 614.6,43.8 615.1,43.99 615.6,43.28 616.1,45.03 616.6,43.17 617.1,34.79 617.6,30.41 618.1,36.44 618.6,37.88 619.1,40.05 619.6,42.11 620.1,42.81 620.6,44 621.1,43.3 621.6,43.82 622.1,44.08 622.6,43.8 623.1,44.36 623.6,43.55 624.1,45.02 624.6,44.41 625.1,38.14 625.6,38.91 626.1,40.62 626.6,42.17 627.1,42.02 627.6,43.92 628.1,43.41 628.6,44.12 629.1,45.11 629.6,43.4 630.1,44.16 630.6,43.79 631.1,44.47 631.6,44.61 632.1,42.57 632.6,40.74 633.1,37.1 633.6,39.36 634.1,41.61 634.6,42.87 635.1,42.38 635.6,42.92 636.1,43.16 636.6,43.03 637.1,44.41 637.6,44.19 638.1,43.53 638.6,43.91 639.1,43.7 639.6,43.95 640.1,43.4 640.6,35.35 641.1,34.79 641.6,38.17 642.1,40.43 642.6,42.26 643.1,43.15 643.6,43.1 644.1,42.79 644.6,42.91 645.1,42.58 645.6,41.37 646.1,42.25 646.6,42.26 647.1,42.69 647.6,41.75 648.1,39.52 648.6,27.33 649.1,30.46 649.6,33.91 650.1,35.51 650.6,36.92 651.1,38.64 651.6,38.15 652.1,37.97 652.6,38.73 653.1,37.95 653.6,38.53 654.1,37.31 654.6,38.21 655.1,39.89 655.6,39.48 656.1,30.86 656.6,29.28 657.1,32.21 657.6,33.87 658.1,35.45 658.6,36.71 659.1,36.15 659.6,36.85 660.1,38.39 660.6,38.32 661.1,38.62 661.6,38.58 662.1,38.84 662.6,39.18 663.1,38.5 663.6,37.85 664.1,30.57 664.6,33.62 665.1,35.41 665.6,38.19 666.1,37.92 666.6,40.64 667.1,41.49 667.6,42.7 668.1,42.03 668.6,44.41 669.1,43.52 669.6,44.6 670.1,43.88 670.6,44.31 671.1,44.02 671.6,37.61 672.1,35.18 672.6,39.4 673.1,41.19 673.6,41.99 674.1,44.22 674.6,44.48 675.1,44.89 675.6,44.4 676.1,46.29 676.6,46.81 677.1,47.5 677.6,45.29 678.1,46.85 678.6,46.38 679.1,46.25 679.6,40.85 680.1,40.68 680.6,42.84 681.1,43.26 681.6,44.59 682.1,44.08 682.6,47.17 683.1,46.42 683.6,46.97 684.1,47.7 684.6,47.22" stroke="#2a8c50" stroke-width="1.05" fill="none" stroke-linejoin="round"/>
<polyline points="471.1,66.77 471.6,66.25 472.1,65.56 472.6,65.69 473.1,64.32 473.6,66.34 474.1,65.63 474.6,65.65 475.1,64.63 475.6,63.49 476.1,65.23 476.6,65.2 477.1,65.19 477.6,45.78 478.1,50.85 478.6,55.24 479.1,58.53 479.6,60.23 480.1,60.97 480.6,61.28 481.1,61.89 481.6,62.63 482.1,65.24 482.6,65.41 483.1,66.04 483.6,65.14 484.1,65.93 484.6,64.73 485.1,55.64 485.6,50.52 486.1,55.71 486.6,58.74 487.1,61.19 487.6,63.02 488.1,63.28 488.6,64.51 489.1,64.73 489.6,64.8 490.1,65.65 490.6,65.63 491.1,65.92 491.6,64.88 492.1,65.69 492.6,66.78 493.1,57.57 493.6,59.63 494.1,61.42 494.6,63.7 495.1,64.16 495.6,65.02 496.1,67.06 496.6,67.22 497.1,67 497.6,65.57 498.1,66.39 498.6,66.95 499.1,66.55 499.6,67.02 500.1,65.84 500.6,61.11 501.1,59.67 501.6,62.65 502.1,64.04 502.6,64.81 503.1,66.48 503.6,65.84 504.1,65.87 504.6,66.23 505.1,67.43 505.6,67.89 506.1,66.53 506.6,67.33 507.1,67 507.6,66.27 508.1,66.74 508.6,53.22 509.1,55.21 509.6,60 510.1,62.94 510.6,64.32 511.1,65.19 511.6,65.76 512.1,65.73 512.6,66.61 513.1,65.83 513.6,66.43 514.1,67.22 514.6,65.59 515.1,67.38 515.6,67.91 516.1,59.29 516.6,54.99 517.1,59.61 517.6,62.84 518.1,64.82 518.6,65.27 519.1,66.54 519.6,67.34 520.1,67.84 520.6,68.09 521.1,68.4 521.6,68.41 522.1,69.09 522.6,68.23 523.1,67.5 523.6,68.58 524.1,56.25 524.6,57.83 525.1,61 525.6,64.37 526.1,66.89 526.6,66.67 527.1,66.04 527.6,66.49 528.1,68.88 528.6,68.86 529.1,67.81 529.6,68.01 530.1,68.03 530.6,66.94 531.1,67.25 531.6,62.26 532.1,56.27 532.6,61.31 533.1,63.09 533.6,65.43 534.1,66.08 534.6,66.87 535.1,65.81 535.6,67.49 536.1,67.49 536.6,69.26 537.1,67.74 537.6,67.66 538.1,67.89 538.6,68 539.1,67.75 539.6,57.31 540.1,57.84 540.6,60.92 541.1,64.93 541.6,65.45 542.1,66.47 542.6,68.33 543.1,67.25 543.6,67.59 544.1,68.11 544.6,67.64 545.1,67.43 545.6,68.44 546.1,67.67 546.6,68.19 547.1,62.22 547.6,54.96 548.1,58.95 548.6,62.1 549.1,62.56 549.6,64.47 550.1,65.13 550.6,65.17 551.1,66.05 551.6,66.24 552.1,66.36 552.6,65.36 553.1,66.01 553.6,66.51 554.1,67.26 554.6,66.13 555.1,57.58 555.6,55.63 556.1,59.35 556.6,61.92 557.1,64.63 557.6,64.57 558.1,65.43 558.6,66.39 559.1,67.01 559.6,67.57 560.1,66.29 560.6,66.19 561.1,67.74 561.6,66.65 562.1,66.51 562.6,65.52 563.1,59.27 563.6,61.36 564.1,62.3 564.6,63.65 565.1,64.8 565.6,65.63 566.1,65.22 566.6,65.25 567.1,65.03 567.6,64.69 568.1,66.05 568.6,67.36 569.1,66.17 569.6,66.04 570.1,67.11 570.6,57.63 571.1,56.03 571.6,61.12 572.1,63.05 572.6,64.23 573.1,64.58 573.6,64.92 574.1,66.22 574.6,65.24 575.1,64.93 575.6,66.04 576.1,65.33 576.6,64.21 577.1,65.33 577.6,66.05 578.1,65.81 578.6,55.13 579.1,57.26 579.6,61.28 580.1,62.29 580.6,62.42 581.1,64.11 581.6,65.26 582.1,64.35 582.6,65.5 583.1,65.36 583.6,65.92 584.1,65.98 584.6,65.57 585.1,66.09 585.6,66.81 586.1,55.8 586.6,53.95 587.1,57.89 587.6,61.35 588.1,63.28 588.6,63.05 589.1,64.8 589.6,66.19 590.1,66.59 590.6,66.83 591.1,65.84 591.6,66.21 592.1,65.72 592.6,65.98 593.1,65.99 593.6,65.98 594.1,50.76 594.6,52.97 595.1,57.95 595.6,60.27 596.1,61.14 596.6,61.37 597.1,63.25 597.6,63.78 598.1,64.28 598.6,63.94 599.1,64.44 599.6,64.9 600.1,65.18 600.6,65.35 601.1,65.41 601.6,55.55 602.1,50.73 602.6,55.44 603.1,60.48 603.6,61.74 604.1,63.21 604.6,63.65 605.1,65.07 605.6,64.11 606.1,64.51 606.6,65.38 607.1,66.72 607.6,66.4 608.1,65.35 608.6,66.23 609.1,67.28 609.6,55.57 610.1,57.5 610.6,59.69 611.1,63.27 611.6,64.73 612.1,64.61 612.6,66.18 613.1,65.92 613.6,65.22 614.1,64.68 614.6,65.71 615.1,65.41 615.6,65.26 616.1,64.7 616.6,65.87 617.1,58.1 617.6,55.11 618.1,58.59 618.6,61.63 619.1,62.3 619.6,62.65 620.1,63.99 620.6,65.38 621.1,66.43 621.6,65.24 622.1,67.52 622.6,66.71 623.1,66.59 623.6,66.76 624.1,67.27 624.6,67.52 625.1,58.78 625.6,61.06 626.1,61.98 626.6,65.68 627.1,66.07 627.6,64.86 628.1,66.22 628.6,66.68 629.1,66.17 629.6,65.8 630.1,66.46 630.6,66.97 631.1,67 631.6,66.71 632.1,67.54 632.6,63.3 633.1,59.21 633.6,61.9 634.1,63.6 634.6,63.16 635.1,65.24 635.6,66.8 636.1,66.79 636.6,66.71 637.1,66.49 637.6,67.11 638.1,67.47 638.6,67.15 639.1,67.52 639.6,67.69 640.1,67.05 640.6,61.41 641.1,61.07 641.6,62.08 642.1,63.5 642.6,63.9 643.1,65.4 643.6,66.35 644.1,66.4 644.6,65.53 645.1,65.25 645.6,64.91 646.1,66.37 646.6,65.59 647.1,65.52 647.6,65.94 648.1,61.49 648.6,54.3 649.1,56.89 649.6,58.27 650.1,61 650.6,62.04 651.1,61.76 651.6,62.73 652.1,62.58 652.6,62.17 653.1,62.34 653.6,64.83 654.1,64.1 654.6,62.23 655.1,63.26 655.6,62.82 656.1,55.03 656.6,56.2 657.1,58.94 657.6,58.94 658.1,61.04 658.6,63.06 659.1,62.24 659.6,62.63 660.1,63.17 660.6,63.65 661.1,63.94 661.6,63.84 662.1,64.35 662.6,65.24 663.1,65.35 663.6,64.32 664.1,54.9 664.6,59.64 665.1,61.95 665.6,63.52 666.1,64.57 666.6,65.25 667.1,65.45 667.6,67.69 668.1,67.16 668.6,66.05 669.1,66.96 669.6,66.74 670.1,68.65 670.6,67.74 671.1,66.65 671.6,56.39 672.1,53.61 672.6,58.51 673.1,61.52 673.6,63.01 674.1,64.41 674.6,64.95 675.1,65.11 675.6,65.16 676.1,65.97 676.6,67.28 677.1,65.33 677.6,66.71 678.1,65.92 678.6,65.48 679.1,66.96 679.6,54.28 680.1,57.64 680.6,61.83 681.1,62.74 681.6,63.72 682.1,64.19 682.6,65.92 683.1,67.11 683.6,66.65 684.1,66.94 684.6,66.03" stroke="#9a4fa6" stroke-width="1.05" fill="none" stroke-linejoin="round"/>
<polyline points="471.1,86.91 471.6,87.34 472.1,86.7 472.6,86.95 473.1,86.27 473.6,85.53 474.1,84.1 474.6,85.76 475.1,85.57 475.6,86.12 476.1,87.24 476.6,86.96 477.1,86.43 477.6,67.08 478.1,70.06 478.6,75.04 479.1,78.24 479.6,78.29 480.1,81.02 480.6,80.67 481.1,81.75 481.6,82.84 482.1,82.23 482.6,84.24 483.1,82.82 483.6,82.71 484.1,82.58 484.6,83.71 485.1,76.88 485.6,74.61 486.1,77.69 486.6,79.57 487.1,81.04 487.6,82.25 488.1,82.23 488.6,82.25 489.1,83.71 489.6,84.71 490.1,86.06 490.6,85.63 491.1,86.22 491.6,84.6 492.1,86.74 492.6,86.32 493.1,78.71 493.6,81.07 494.1,81.71 494.6,83.43 495.1,83.86 495.6,85.19 496.1,84.63 496.6,85.12 497.1,85.42 497.6,85.41 498.1,85.64 498.6,86.76 499.1,86.19 499.6,86.41 500.1,87.13 500.6,79.13 501.1,76.93 501.6,80.3 502.1,81.9 502.6,82.6 503.1,84.36 503.6,84.62 504.1,86.79 504.6,86.06 505.1,85.57 505.6,85 506.1,86.36 506.6,85.18 507.1,87.52 507.6,86.54 508.1,85.94 508.6,77.23 509.1,79.08 509.6,81.59 510.1,83.6 510.6,84.31 511.1,84.19 511.6,84.35 512.1,83.25 512.6,85.08 513.1,84.92 513.6,84.84 514.1,84.69 514.6,84.28 515.1,84.51 515.6,86.57 516.1,82.26 516.6,79.2 517.1,81.54 517.6,81.76 518.1,83.81 518.6,84.17 519.1,84.01 519.6,85 520.1,85.24 520.6,84.1 521.1,85.27 521.6,86.26 522.1,85.98 522.6,84.64 523.1,84.95 523.6,84.54 524.1,80.36 524.6,81.17 525.1,82.75 525.6,83.34 526.1,82.74 526.6,84.02 527.1,84.45 527.6,84.32 528.1,85.93 528.6,85.29 529.1,85.53 529.6,86.68 530.1,86.33 530.6,85.89 531.1,87.51 531.6,81.44 532.1,76.54 532.6,79.32 533.1,82.69 533.6,84.1 534.1,83.51 534.6,85.03 535.1,85.19 535.6,86.19 536.1,85 536.6,86.47 537.1,86.23 537.6,87.04 538.1,86.61 538.6,87.11 539.1,86.58 539.6,80.11 540.1,79.14 540.6,81.74 541.1,81.81 541.6,83.18 542.1,84.03 542.6,84.69 543.1,85.18 543.6,85.21 544.1,84.2 544.6,85.22 545.1,84.31 545.6,85.09 546.1,84.65 546.6,85.76 547.1,82.7 547.6,79.27 548.1,80.65 548.6,82.43 549.1,83.67 549.6,85.19 550.1,85.43 550.6,85.12 551.1,86.94 551.6,86.58 552.1,87.98 552.6,86.7 553.1,88.27 553.6,87.33 554.1,87.64 554.6,86.85 555.1,77.46 555.6,75.57 556.1,79.68 556.6,82.19 557.1,83.18 557.6,82.94 558.1,83.47 558.6,83.91 559.1,84.26 559.6,85.23 560.1,84.81 560.6,85.65 561.1,86.09 561.6,85.84 562.1,86.97 562.6,84.4 563.1,77.41 563.6,79.07 564.1,82.42 564.6,82.44 565.1,82.52 565.6,83.08 566.1,85.18 566.6,84.43 567.1,84.64 567.6,84.46 568.1,84.82 568.6,85.4 569.1,84.73 569.6,85.52 570.1,85.14 570.6,77.15 571.1,77.17 571.6,79.36 572.1,81.18 572.6,82.95 573.1,83.76 573.6,82.04 574.1,82.92 574.6,84.47 575.1,85.21 575.6,84.98 576.1,86.22 576.6,85.67 577.1,84.39 577.6,84.48 578.1,86.17 578.6,75.91 579.1,79.06 579.6,81.02 580.1,80.22 580.6,81.43 581.1,83.31 581.6,83.65 582.1,83.78 582.6,83.89 583.1,85.38 583.6,85.28 584.1,84.89 584.6,84.94 585.1,85.23 585.6,84.41 586.1,78.1 586.6,76.22 587.1,80.02 587.6,81.35 588.1,81.9 588.6,81.77 589.1,83.35 589.6,82.64 590.1,84.64 590.6,84.59 591.1,83.32 591.6,83.16 592.1,84.37 592.6,83.28 593.1,83.7 593.6,84.39 594.1,77.03 594.6,79.6 595.1,80.5 595.6,80.46 596.1,82.58 596.6,83.14 597.1,84.24 597.6,83.95 598.1,84.26 598.6,84.6 599.1,85.11 599.6,85.25 600.1,85.24 600.6,83.82 601.1,84.9 601.6,78.34 602.1,74.8 602.6,78.17 603.1,80.21 603.6,79.45 604.1,82.54 604.6,83.36 605.1,82.22 605.6,83.4 606.1,83.28 606.6,84.01 607.1,84.04 607.6,83.88 608.1,84.81 608.6,85.37 609.1,85.85 609.6,75.06 610.1,76.62 610.6,79.8 611.1,80.67 611.6,82.68 612.1,83.14 612.6,82.51 613.1,83.16 613.6,83.53 614.1,83.5 614.6,84.11 615.1,84.06 615.6,84.57 616.1,84.32 616.6,84.45 617.1,79.66 617.6,75.82 618.1,78.71 618.6,79.83 619.1,80.46 619.6,81.83 620.1,81.9 620.6,81.74 621.1,83.57 621.6,83.79 622.1,83.41 622.6,85.3 623.1,84.17 623.6,84.6 624.1,84.55 624.6,84.36 625.1,75.01 625.6,77.35 626.1,77.31 626.6,80.96 627.1,82.26 627.6,81.97 628.1,84.15 628.6,83.2 629.1,83.99 629.6,83.93 630.1,86.07 630.6,83.92 631.1,86.18 631.6,86.29 632.1,85.66 632.6,80.82 633.1,76.05 633.6,78.27 634.1,82.14 634.6,82.6 635.1,82.77 635.6,83.67 636.1,85.08 636.6,84.08 637.1,85.11 637.6,85.06 638.1,84.7 638.6,85.84 639.1,85.37 639.6,85.39 640.1,85.55 640.6,80.59 641.1,81.34 641.6,82.38 642.1,84.38 642.6,84.12 643.1,84.47 643.6,85.25 644.1,85.98 644.6,86.01 645.1,85.04 645.6,84.51 646.1,85.08 646.6,85.21 647.1,85.34 647.6,85.44 648.1,83.19 648.6,75.89 649.1,78.41 649.6,81 650.1,80.84 650.6,83.58 651.1,82.78 651.6,84.23 652.1,84.28 652.6,84.93 653.1,85.97 653.6,85.8 654.1,86.73 654.6,85.53 655.1,86.75 655.6,86.9 656.1,77.7 656.6,79.56 657.1,80.66 657.6,82.18 658.1,82.83 658.6,84.42 659.1,84.49 659.6,84.66 660.1,86.03 660.6,85.94 661.1,85 661.6,85.11 662.1,86.13 662.6,86.59 663.1,86.22 663.6,86.73 664.1,78.73 664.6,80.43 665.1,82.4 665.6,84.48 666.1,83.62 666.6,84.1 667.1,83.52 667.6,84.49 668.1,85.34 668.6,85.63 669.1,85.74 669.6,86.51 670.1,85.02 670.6,86.01 671.1,86.62 671.6,81.83 672.1,80.02 672.6,83.18 673.1,85.96 673.6,84.66 674.1,84.77 674.6,85.02 675.1,85.62 675.6,85.39 676.1,86.43 676.6,85.78 677.1,86.08 677.6,87.98 678.1,87.16 678.6,85.66 679.1,87.07 679.6,75.77 680.1,77.18 680.6,79.67 681.1,81.65 681.6,82.2 682.1,83.09 682.6,83.81 683.1,84.11 683.6,83.4 684.1,84.2 684.6,84.38" stroke="#2f82c3" stroke-width="1.05" fill="none" stroke-linejoin="round"/>
<polyline points="471.1,119.77 471.6,118.39 472.1,117.76 472.6,118.91 473.1,117.31 473.6,119.61 474.1,119.47 474.6,118.77 475.1,119.15 475.6,118.4 476.1,119.28 476.6,119.79 477.1,119.83 477.6,112.89 478.1,115.27 478.6,116.24 479.1,117.3 479.6,118.85 480.1,119.58 480.6,119.06 481.1,118.22 481.6,119.72 482.1,119.21 482.6,119.57 483.1,120.98 483.6,119.62 484.1,119.33 484.6,117.94 485.1,116.41 485.6,114.83 486.1,116.48 486.6,116.28 487.1,116.88 487.6,117.63 488.1,117.71 488.6,116.81 489.1,117.68 489.6,116.64 490.1,117.74 490.6,117.9 491.1,117.11 491.6,117.83 492.1,118.23 492.6,118.21 493.1,112.72 493.6,113.56 494.1,116.27 494.6,117.25 495.1,117.86 495.6,118.79 496.1,118.39 496.6,118.13 497.1,118.23 497.6,118.89 498.1,117.75 498.6,119.71 499.1,118.71 499.6,120.55 500.1,120.33 500.6,115.81 501.1,115.02 501.6,115.83 502.1,117.76 502.6,118.61 503.1,118.6 503.6,119.13 504.1,118.93 504.6,116.99 505.1,117.64 505.6,116.64 506.1,115.49 506.6,116.94 507.1,115.9 507.6,117.48 508.1,117.08 508.6,111.86 509.1,112.03 509.6,112.35 510.1,114.97 510.6,115.12 511.1,114.04 511.6,114.2 512.1,116.01 512.6,115.45 513.1,114.91 513.6,115.48 514.1,115.81 514.6,115.01 515.1,115.71 515.6,116.29 516.1,110.95 516.6,108.2 517.1,110.67 517.6,112.87 518.1,113.43 518.6,115.27 519.1,114.97 519.6,115.61 520.1,113.95 520.6,114.05 521.1,115.07 521.6,114.98 522.1,114.94 522.6,114.1 523.1,114.37 523.6,115.39 524.1,106.53 524.6,108.16 525.1,111.43 525.6,112.1 526.1,113.77 526.6,115.81 527.1,115.62 527.6,115.97 528.1,116.15 528.6,116.25 529.1,116.8 529.6,116.96 530.1,115.73 530.6,116.35 531.1,116.98 531.6,112.37 532.1,107.3 532.6,111.26 533.1,113.38 533.6,114.75 534.1,115.92 534.6,116.94 535.1,116.82 535.6,116.47 536.1,117.68 536.6,118.15 537.1,116.13 537.6,117.29 538.1,117.44 538.6,117.12 539.1,118.13 539.6,111.03 540.1,110.9 540.6,112.93 541.1,115.32 541.6,115.99 542.1,115.48 542.6,118.38 543.1,117.27 543.6,116.74 544.1,116.85 544.6,117.23 545.1,117.81 545.6,118.03 546.1,117.43 546.6,116.8 547.1,114.66 547.6,110.55 548.1,111.64 548.6,112.63 549.1,113.78 549.6,113.93 550.1,113.3 550.6,113.91 551.1,114.64 551.6,114.85 552.1,113.65 552.6,114.03 553.1,113.87 553.6,113.7 554.1,113.61 554.6,113.85 555.1,108.22 555.6,106.96 556.1,109.59 556.6,111.2 557.1,111.62 557.6,110.69 558.1,112.11 558.6,111.12 559.1,111.87 559.6,113.99 560.1,112.69 560.6,113.37 561.1,113.65 561.6,113.68 562.1,112.53 562.6,113.14 563.1,108.54 563.6,110.54 564.1,113.14 564.6,113.84 565.1,113.25 565.6,114.23 566.1,114.02 566.6,115.56 567.1,114.27 567.6,115.55 568.1,114.78 568.6,114.06 569.1,116.02 569.6,116.02 570.1,115 570.6,112.42 571.1,111.51 571.6,113.62 572.1,115.03 572.6,115.29 573.1,116.7 573.6,116.89 574.1,116.47 574.6,116.18 575.1,116.96 575.6,114.97 576.1,116.74 576.6,115.76 577.1,116.76 577.6,115.77 578.1,115.59 578.6,110.47 579.1,112.56 579.6,113.66 580.1,113.8 580.6,114.5 581.1,114.78 581.6,115.2 582.1,116.24 582.6,116.16 583.1,115.58 583.6,116.29 584.1,114.62 584.6,115.57 585.1,116.44 585.6,116.54 586.1,112.46 586.6,110.86 587.1,113.21 587.6,114.42 588.1,114.75 588.6,114.82 589.1,115.42 589.6,115.56 590.1,114.83 590.6,115.64 591.1,115.79 591.6,116.47 592.1,116.21 592.6,116.93 593.1,116.69 593.6,116.85 594.1,108 594.6,110.08 595.1,111.98 595.6,113.24 596.1,114.4 596.6,114.1 597.1,115.47 597.6,115.98 598.1,117.69 598.6,115.43 599.1,117.09 599.6,116.59 600.1,116.18 600.6,116.86 601.1,117.44 601.6,113.06 602.1,109.37 602.6,111.69 603.1,113.07 603.6,114.09 604.1,115.29 604.6,117.84 605.1,116.22 605.6,116.9 606.1,116.87 606.6,117.83 607.1,117.15 607.6,116.74 608.1,117.68 608.6,116.65 609.1,117.35 609.6,109.66 610.1,110.47 610.6,113.74 611.1,114.11 611.6,116.36 612.1,117.01 612.6,117.81 613.1,118.81 613.6,119.34 614.1,118.53 614.6,118.99 615.1,118.5 615.6,118.11 616.1,118.14 616.6,118.36 617.1,115.11 617.6,110.44 618.1,112.49 618.6,115.37 619.1,115.75 619.6,116.59 620.1,116.47 620.6,119.29 621.1,117.51 621.6,118.61 622.1,119.51 622.6,117.31 623.1,118.86 623.6,118.5 624.1,117.95 624.6,118.47 625.1,113.53 625.6,115.78 626.1,116.07 626.6,116.69 627.1,118 627.6,118.28 628.1,118.33 628.6,118.48 629.1,118.13 629.6,119.18 630.1,117.48 630.6,119.04 631.1,118.11 631.6,117.59 632.1,118.34 632.6,116.93 633.1,113.45 633.6,115.65 634.1,116.18 634.6,116.94 635.1,118.18 635.6,117.69 636.1,118.59 636.6,118.83 637.1,118.73 637.6,119.44 638.1,118.72 638.6,118.48 639.1,119.69 639.6,118.71 640.1,118.78 640.6,113.59 641.1,113.76 641.6,113.92 642.1,117.68 642.6,117.48 643.1,117.47 643.6,117.87 644.1,118.25 644.6,118.93 645.1,118.66 645.6,118.45 646.1,119.99 646.6,119.71 647.1,117.6 647.6,118.68 648.1,116.46 648.6,111.3 649.1,112.7 649.6,114.86 650.1,115.16 650.6,116.96 651.1,115.91 651.6,116.53 652.1,115.92 652.6,116.05 653.1,117.63 653.6,116.58 654.1,116.85 654.6,116.07 655.1,117.05 655.6,116.32 656.1,109.06 656.6,106.97 657.1,109.26 657.6,110.17 658.1,110.99 658.6,112.46 659.1,110.33 659.6,110.97 660.1,110.21 660.6,109.74 661.1,108.4 661.6,108.56 662.1,108.88 662.6,108.02 663.1,107.37 663.6,105.91 664.1,98.3 664.6,100.58 665.1,101.62 665.6,103.88 666.1,104.45 666.6,105.74 667.1,106.27 667.6,108.01 668.1,107.96 668.6,108.52 669.1,109.28 669.6,111.14 670.1,112.81 670.6,113.06 671.1,112.34 671.6,109.65 672.1,109.54 672.6,112.71 673.1,113.84 673.6,113.21 674.1,113.95 674.6,115.32 675.1,115.85 675.6,115.9 676.1,117.29 676.6,115.58 677.1,117.36 677.6,116.83 678.1,116.82 678.6,118.24 679.1,116.49 679.6,109.81 680.1,111.98 680.6,112.93 681.1,115.11 681.6,116.22 682.1,117.49 682.6,118.96 683.1,117.41 683.6,117.88 684.1,117.26 684.6,117.5" stroke="#2a8c50" stroke-width="1.05" fill="none" stroke-linejoin="round"/>
<polyline points="471.1,140.18 471.6,138.07 472.1,139.97 472.6,139.52 473.1,139.84 473.6,139.49 474.1,138.97 474.6,138.34 475.1,138.61 475.6,138.59 476.1,138.94 476.6,139.58 477.1,138.3 477.6,124.82 478.1,129.22 478.6,132 479.1,134.37 479.6,136.07 480.1,137.46 480.6,137.65 481.1,137.84 481.6,138.27 482.1,139.82 482.6,138.65 483.1,138.27 483.6,139.26 484.1,140.18 484.6,139.3 485.1,129.37 485.6,126.42 486.1,131.77 486.6,134.38 487.1,135.36 487.6,136.68 488.1,136.67 488.6,137.81 489.1,136.97 489.6,138.24 490.1,137.55 490.6,139.03 491.1,138.61 491.6,138.88 492.1,139.37 492.6,138.5 493.1,125.78 493.6,128.98 494.1,132.55 494.6,135.28 495.1,136.55 495.6,138.98 496.1,138.36 496.6,139.67 497.1,138.75 497.6,138.92 498.1,139.02 498.6,139.79 499.1,139.23 499.6,138.56 500.1,139.93 500.6,130.5 501.1,126.13 501.6,131.15 502.1,134.36 502.6,136.19 503.1,138.02 503.6,138.27 504.1,138.6 504.6,139.25 505.1,140.09 505.6,140.32 506.1,140.13 506.6,140.73 507.1,140.4 507.6,140.69 508.1,141.51 508.6,127.26 509.1,129.62 509.6,134.27 510.1,135.6 510.6,138.13 511.1,136.92 511.6,139.19 512.1,139.05 512.6,140.48 513.1,139.96 513.6,139.25 514.1,140.33 514.6,140.97 515.1,139.77 515.6,139.77 516.1,130.97 516.6,124.76 517.1,130.08 517.6,133.28 518.1,136.25 518.6,137.25 519.1,137.94 519.6,138.69 520.1,139.6 520.6,138.83 521.1,138.55 521.6,138.66 522.1,139.3 522.6,139.01 523.1,140.23 523.6,138.99 524.1,134.06 524.6,134.14 525.1,135.46 525.6,137.65 526.1,139.09 526.6,138.35 527.1,139.5 527.6,139.35 528.1,138.3 528.6,139.36 529.1,140.56 529.6,138.54 530.1,140.48 530.6,139.21 531.1,140.92 531.6,135.91 532.1,130.33 532.6,132.97 533.1,136.53 533.6,138.19 534.1,138.96 534.6,138.63 535.1,137.57 535.6,138.63 536.1,139.83 536.6,141 537.1,139.44 537.6,139.57 538.1,139.97 538.6,140.8 539.1,140.14 539.6,127.68 540.1,127.61 540.6,133 541.1,135.18 541.6,137.37 542.1,138.56 542.6,139.48 543.1,139.5 543.6,139.12 544.1,139.49 544.6,140.24 545.1,140.72 545.6,139.98 546.1,141.4 546.6,139.42 547.1,136.46 547.6,127.2 548.1,132.77 548.6,134.86 549.1,137.6 549.6,137.89 550.1,140.23 550.6,138.67 551.1,138.19 551.6,137.9 552.1,138.86 552.6,138.26 553.1,138.85 553.6,139.42 554.1,138.23 554.6,138.85 555.1,126.58 555.6,125.84 556.1,132.15 556.6,133.15 557.1,134.79 557.6,137.16 558.1,137.88 558.6,138.88 559.1,139.61 559.6,139.45 560.1,139.69 560.6,139.81 561.1,140.46 561.6,139.34 562.1,139.28 562.6,137.75 563.1,131.99 563.6,134.51 564.1,135.51 564.6,136.04 565.1,138.17 565.6,138.83 566.1,139.2 566.6,137.65 567.1,139.48 567.6,137.64 568.1,140.03 568.6,138.29 569.1,138.78 569.6,138.64 570.1,139.04 570.6,129.66 571.1,130.46 571.6,133.21 572.1,136.28 572.6,138.25 573.1,138.48 573.6,138.86 574.1,138.42 574.6,139.26 575.1,139.23 575.6,139.6 576.1,139.12 576.6,139.13 577.1,138.75 577.6,138.84 578.1,139.16 578.6,130.12 579.1,132.46 579.6,135.35 580.1,136.83 580.6,137.43 581.1,138.4 581.6,138.16 582.1,138.87 582.6,139.67 583.1,138.5 583.6,138.68 584.1,138.32 584.6,138.54 585.1,138.01 585.6,137.82 586.1,130.75 586.6,127.07 587.1,131.96 587.6,134.05 588.1,136.09 588.6,137.57 589.1,137.04 589.6,137.43 590.1,137.56 590.6,136.97 591.1,138.26 591.6,138.14 592.1,137.97 592.6,137.91 593.1,138.08 593.6,138.32 594.1,126.79 594.6,129.62 595.1,133.06 595.6,134.77 596.1,137.15 596.6,138.61 597.1,138.26 597.6,139.12 598.1,139.59 598.6,140.4 599.1,139.84 599.6,139.68 600.1,139.69 600.6,139.75 601.1,140.97 601.6,134.94 602.1,132.48 602.6,134.66 603.1,136.9 603.6,136.89 604.1,137.54 604.6,137.54 605.1,137.8 605.6,137.6 606.1,139.6 606.6,140.3 607.1,140.02 607.6,140.37 608.1,139.45 608.6,139.71 609.1,139.72 609.6,130.54 610.1,131.63 610.6,135.16 611.1,135.46 611.6,136.94 612.1,137.29 612.6,137.2 613.1,138.35 613.6,137.66 614.1,138.21 614.6,138.35 615.1,139.21 615.6,137.81 616.1,137.33 616.6,138.37 617.1,134 617.6,128.51 618.1,133.29 618.6,135.63 619.1,137.25 619.6,137.58 620.1,136.94 620.6,137.99 621.1,138.33 621.6,139.11 622.1,139.16 622.6,138.37 623.1,138.12 623.6,138.43 624.1,138.7 624.6,137.6 625.1,126.56 625.6,127.69 626.1,130.55 626.6,134.19 627.1,135.55 627.6,138.22 628.1,136.5 628.6,137.38 629.1,138.96 629.6,139.08 630.1,138.4 630.6,138.98 631.1,138.75 631.6,138.9 632.1,138.84 632.6,134.25 633.1,125.22 633.6,130.29 634.1,133.96 634.6,135.75 635.1,137.28 635.6,137.85 636.1,138.11 636.6,138.19 637.1,140 637.6,138.16 638.1,138.7 638.6,138.92 639.1,141.08 639.6,140.06 640.1,140.19 640.6,132.42 641.1,133.13 641.6,133.94 642.1,137.53 642.6,138.04 643.1,137.7 643.6,139.22 644.1,139.34 644.6,138.29 645.1,139.74 645.6,139.01 646.1,139.41 646.6,139.16 647.1,140.12 647.6,140.97 648.1,136.11 648.6,127.03 649.1,131.53 649.6,134.15 650.1,137.22 650.6,137.76 651.1,140.42 651.6,139.73 652.1,139.39 652.6,140.45 653.1,139.46 653.6,141.25 654.1,140.78 654.6,140.94 655.1,140.93 655.6,141.24 656.1,133.7 656.6,134.35 657.1,135.97 657.6,137.2 658.1,138.15 658.6,139.2 659.1,140.34 659.6,140.41 660.1,141.06 660.6,139.74 661.1,139.57 661.6,139.4 662.1,138.98 662.6,139.74 663.1,140.25 663.6,138.58 664.1,127.81 664.6,132.15 665.1,135.7 665.6,136.63 666.1,136.63 666.6,138.38 667.1,137.74 667.6,138.06 668.1,139.18 668.6,138.49 669.1,140.47 669.6,140 670.1,139.09 670.6,140.22 671.1,140.16 671.6,134.3 672.1,132.73 672.6,136.17 673.1,138.37 673.6,139.12 674.1,138.98 674.6,139.69 675.1,139.89 675.6,139.45 676.1,139.94 676.6,140.16 677.1,140.17 677.6,140.15 678.1,138.86 678.6,141.1 679.1,139.99 679.6,133.75 680.1,136.06 680.6,138.1 681.1,138.42 681.6,139.67 682.1,139.93 682.6,139.5 683.1,139 683.6,139.28 684.1,139.78 684.6,138.83" stroke="#9a4fa6" stroke-width="1.05" fill="none" stroke-linejoin="round"/>
<polyline points="471.1,161.28 471.6,160.45 472.1,160 472.6,161.78 473.1,162.17 473.6,161.72 474.1,161.64 474.6,162.73 475.1,161.65 475.6,161.22 476.1,161.18 476.6,160.81 477.1,161.65 477.6,137.51 478.1,142.18 478.6,148.17 479.1,152.39 479.6,153.4 480.1,154.75 480.6,156.15 481.1,156.14 481.6,157.33 482.1,158.06 482.6,158.48 483.1,158.9 483.6,158.53 484.1,160.73 484.6,160.62 485.1,155.95 485.6,154.21 486.1,157.07 486.6,157.03 487.1,157.8 487.6,159.46 488.1,159.4 488.6,160.32 489.1,159.67 489.6,160.59 490.1,160.38 490.6,161.65 491.1,161.63 491.6,161.2 492.1,160.86 492.6,161.3 493.1,156.36 493.6,156.92 494.1,158.45 494.6,160.19 495.1,160.76 495.6,160.61 496.1,160.79 496.6,161.32 497.1,161.8 497.6,161.36 498.1,160.76 498.6,160.99 499.1,160.76 499.6,161.87 500.1,161.38 500.6,158.24 501.1,157.97 501.6,157.97 502.1,159.3 502.6,160.74 503.1,160.8 503.6,160.92 504.1,160.99 504.6,162.24 505.1,161.71 505.6,161.22 506.1,161.85 506.6,161.53 507.1,161.19 507.6,161.64 508.1,162.05 508.6,159.83 509.1,157.54 509.6,158.8 510.1,158.56 510.6,160.39 511.1,161 511.6,161.84 512.1,161.27 512.6,160.7 513.1,159.93 513.6,162.05 514.1,161.29 514.6,160.04 515.1,159.86 515.6,160.59 516.1,157 516.6,154.58 517.1,156.84 517.6,157.77 518.1,159.37 518.6,159.18 519.1,160.97 519.6,160.62 520.1,160.61 520.6,161.98 521.1,161.88 521.6,161.33 522.1,161.86 522.6,161.75 523.1,162.75 523.6,163.04 524.1,156.65 524.6,157.62 525.1,159.54 525.6,159.79 526.1,160.61 526.6,160.91 527.1,160.77 527.6,161.72 528.1,160.69 528.6,161.54 529.1,161.57 529.6,161.91 530.1,161.96 530.6,160.03 531.1,160.21 531.6,158.5 532.1,154.75 532.6,155.56 533.1,156.34 533.6,159.31 534.1,157.99 534.6,158.14 535.1,161.49 535.6,160.75 536.1,160.3 536.6,160.33 537.1,160.23 537.6,160.54 538.1,160.73 538.6,160.14 539.1,160.42 539.6,155.95 540.1,155.67 540.6,156.47 541.1,157.53 541.6,158.41 542.1,158.86 542.6,159.8 543.1,160.3 543.6,159.68 544.1,160.28 544.6,160.24 545.1,161.87 545.6,161.78 546.1,160.34 546.6,161.22 547.1,159.79 547.6,155.33 548.1,157.51 548.6,156.46 549.1,158.99 549.6,158.44 550.1,158.65 550.6,159.7 551.1,159.28 551.6,158.81 552.1,160.74 552.6,159.05 553.1,158.22 553.6,159.81 554.1,159.29 554.6,159.9 555.1,154.5 555.6,156.34 556.1,157.51 556.6,157.97 557.1,158.07 557.6,159.61 558.1,158.57 558.6,158.52 559.1,159.58 559.6,159.27 560.1,158.8 560.6,158.34 561.1,159.39 561.6,158.46 562.1,159.9 562.6,158.3 563.1,153.24 563.6,155.39 564.1,157.98 564.6,158.75 565.1,158.42 565.6,158.96 566.1,158.96 566.6,158.86 567.1,159.92 567.6,159.82 568.1,160.17 568.6,160.06 569.1,160.63 569.6,160.13 570.1,160.99 570.6,154.98 571.1,153.64 571.6,155.64 572.1,156.83 572.6,156.76 573.1,159.52 573.6,158.57 574.1,157.71 574.6,158.33 575.1,159.43 575.6,158.93 576.1,158.36 576.6,159.77 577.1,158.71 577.6,159.23 578.1,159.24 578.6,154.07 579.1,155.17 579.6,156.14 580.1,158.7 580.6,157.07 581.1,158.67 581.6,159.08 582.1,158.53 582.6,159.14 583.1,158.87 583.6,159.07 584.1,159.3 584.6,160.46 585.1,160.55 585.6,161.94 586.1,156.77 586.6,155.82 587.1,155.63 587.6,157.72 588.1,158.08 588.6,160.63 589.1,159.91 589.6,160.95 590.1,161.32 590.6,160.44 591.1,160.56 591.6,160.26 592.1,160.4 592.6,159.86 593.1,161.39 593.6,161.65 594.1,153.7 594.6,156.73 595.1,156.78 595.6,157.16 596.1,157.99 596.6,158.77 597.1,158.72 597.6,156.85 598.1,157.31 598.6,157.42 599.1,157.47 599.6,157.34 600.1,157.5 600.6,157 601.1,157.39 601.6,155.64 602.1,153.08 602.6,154.69 603.1,154.92 603.6,155.51 604.1,155.68 604.6,157.3 605.1,157.1 605.6,157.08 606.1,156.5 606.6,157.1 607.1,158.31 607.6,156.93 608.1,156.11 608.6,157.16 609.1,158.13 609.6,152.11 610.1,152.96 610.6,154.76 611.1,154.07 611.6,154.57 612.1,156.36 612.6,155.6 613.1,156.37 613.6,156.85 614.1,156.76 614.6,158.18 615.1,157.23 615.6,156.94 616.1,157.63 616.6,156.76 617.1,152.93 617.6,151.16 618.1,153.57 618.6,156.32 619.1,156.57 619.6,157.26 620.1,157.1 620.6,157.14 621.1,157.95 621.6,157.2 622.1,157.49 622.6,157.22 623.1,158.16 623.6,158.11 624.1,155.87 624.6,157.83 625.1,152.14 625.6,154.2 626.1,155.6 626.6,157.73 627.1,157.09 627.6,158.45 628.1,158.23 628.6,158.26 629.1,158.49 629.6,158.39 630.1,158.65 630.6,158.02 631.1,159.26 631.6,156.61 632.1,157.75 632.6,155.55 633.1,152.23 633.6,154.99 634.1,155.24 634.6,156.55 635.1,157.16 635.6,156.82 636.1,157.16 636.6,157.69 637.1,159.15 637.6,158.88 638.1,159.5 638.6,159.09 639.1,158.78 639.6,159.04 640.1,158.15 640.6,152.74 641.1,152.52 641.6,154.71 642.1,156.76 642.6,157.64 643.1,157.15 643.6,157.61 644.1,157.98 644.6,158.88 645.1,158.69 645.6,158.66 646.1,159.16 646.6,158.84 647.1,157.65 647.6,159.25 648.1,156.94 648.6,151.55 649.1,153.55 649.6,154.08 650.1,155.22 650.6,155.74 651.1,158.43 651.6,158.75 652.1,157.47 652.6,158.24 653.1,158.55 653.6,158.37 654.1,157.61 654.6,159.41 655.1,159.78 655.6,158.72 656.1,155.44 656.6,154.79 657.1,155.79 657.6,156.77 658.1,158.04 658.6,157.01 659.1,158.12 659.6,158.57 660.1,158.35 660.6,159.18 661.1,159.31 661.6,158.5 662.1,159.07 662.6,160.08 663.1,159.99 663.6,159.46 664.1,155.86 664.6,157.18 665.1,158.96 665.6,158.7 666.1,159.31 666.6,160.37 667.1,159.74 667.6,161.01 668.1,160.18 668.6,160.6 669.1,161.18 669.6,160.65 670.1,160.33 670.6,161.41 671.1,160.52 671.6,154.58 672.1,154.05 672.6,156.31 673.1,157.32 673.6,158.33 674.1,158.52 674.6,158.09 675.1,158.45 675.6,159 676.1,160.05 676.6,159.67 677.1,159.27 677.6,160.51 678.1,160.11 678.6,161.22 679.1,160.24 679.6,154.46 680.1,156.55 680.6,157.51 681.1,158.32 681.6,158.43 682.1,158.87 682.6,157.38 683.1,158.2 683.6,159.57 684.1,159.24 684.6,160.63" stroke="#2f82c3" stroke-width="1.05" fill="none" stroke-linejoin="round"/>
<polyline points="471.1,189.28 471.6,189.67 472.1,188.91 472.6,189.25 473.1,188.33 473.6,189.15 474.1,189.93 474.6,188.66 475.1,190.11 475.6,190.23 476.1,190.23 476.6,188.03 477.1,189 477.6,182.04 478.1,183.71 478.6,186.71 479.1,187.93 479.6,187.33 480.1,189.29 480.6,189.23 481.1,189.61 481.6,189.69 482.1,190.49 482.6,189.26 483.1,188.72 483.6,189.45 484.1,189.4 484.6,189.27 485.1,184.82 485.6,182.64 486.1,185.45 486.6,186.61 487.1,188 487.6,187.98 488.1,187.87 488.6,188.92 489.1,187.71 489.6,187.72 490.1,188.53 490.6,188.63 491.1,188.66 491.6,190.13 492.1,190.28 492.6,190.44 493.1,179.2 493.6,182.78 494.1,184.62 494.6,185.49 495.1,186.8 495.6,186.91 496.1,186.9 496.6,187.65 497.1,187.57 497.6,187.89 498.1,188.44 498.6,187.47 499.1,187.58 499.6,186.93 500.1,187.55 500.6,183.63 501.1,181.38 501.6,182.68 502.1,184.92 502.6,185.72 503.1,185.21 503.6,185.74 504.1,185.79 504.6,186.37 505.1,185.94 505.6,187.02 506.1,186.87 506.6,185.25 507.1,186.01 507.6,186.86 508.1,186.33 508.6,177.57 509.1,178.9 509.6,180.99 510.1,184.55 510.6,184.13 511.1,184.6 511.6,184.68 512.1,184.84 512.6,184.51 513.1,185.74 513.6,185.45 514.1,185.84 514.6,187.06 515.1,186.85 515.6,185.99 516.1,181.93 516.6,179.35 517.1,180.4 517.6,182.41 518.1,182.81 518.6,182.4 519.1,184.22 519.6,185.44 520.1,184.86 520.6,184.86 521.1,184.15 521.6,185.29 522.1,184.9 522.6,185.31 523.1,184.2 523.6,184.45 524.1,179.96 524.6,180.45 525.1,182.52 525.6,183.48 526.1,184.57 526.6,184.84 527.1,185.36 527.6,185.2 528.1,185.51 528.6,186.11 529.1,186.22 529.6,186.95 530.1,187.31 530.6,187.57 531.1,187.74 531.6,182.61 532.1,179.02 532.6,183.44 533.1,184.18 533.6,186.01 534.1,187.46 534.6,187.76 535.1,187.92 535.6,188.43 536.1,186.92 536.6,187.83 537.1,187.31 537.6,187.72 538.1,187.7 538.6,189.19 539.1,188.45 539.6,184.1 540.1,182.23 540.6,184.91 541.1,185.87 541.6,187.03 542.1,187.85 542.6,187.82 543.1,188.06 543.6,187.82 544.1,188.34 544.6,188.48 545.1,187.96 545.6,188.73 546.1,188.25 546.6,187.93 547.1,184.79 547.6,179.17 548.1,180.41 548.6,182.53 549.1,182.21 549.6,182.71 550.1,182.33 550.6,180.88 551.1,180.54 551.6,179.88 552.1,178.99 552.6,178.12 553.1,177.59 553.6,176.07 554.1,176.36 554.6,175.23 555.1,170.43 555.6,170.58 556.1,172.52 556.6,174.02 557.1,175.88 557.6,177.37 558.1,178.98 558.6,179.85 559.1,181.5 559.6,182.91 560.1,183.1 560.6,184.71 561.1,186.19 561.6,186.77 562.1,187.11 562.6,187.19 563.1,182.09 563.6,183.57 564.1,185.21 564.6,186.91 565.1,186.86 565.6,188.29 566.1,188.15 566.6,187.46 567.1,188.2 567.6,188.46 568.1,188.44 568.6,188.49 569.1,188.34 569.6,188.31 570.1,188.15 570.6,182.23 571.1,181.28 571.6,183.68 572.1,185.52 572.6,186.32 573.1,186.22 573.6,188.05 574.1,189.17 574.6,188.81 575.1,187.34 575.6,187.96 576.1,189.01 576.6,189.75 577.1,189.71 577.6,189.3 578.1,189.42 578.6,179.08 579.1,181.42 579.6,183.79 580.1,185.4 580.6,185.87 581.1,186.51 581.6,187.73 582.1,188.3 582.6,188.72 583.1,187.82 583.6,188.75 584.1,188.74 584.6,187.87 585.1,188.14 585.6,187.54 586.1,182.89 586.6,182.34 587.1,184.15 587.6,187.04 588.1,187.76 588.6,187.4 589.1,186.93 589.6,187.54 590.1,188.34 590.6,187.65 591.1,189.62 591.6,188.23 592.1,189.1 592.6,188.01 593.1,187.11 593.6,188.73 594.1,182.05 594.6,183.6 595.1,184.95 595.6,186.46 596.1,187.32 596.6,188.45 597.1,187.37 597.6,189 598.1,189.52 598.6,189.36 599.1,188.98 599.6,189.28 600.1,189.06 600.6,189.06 601.1,189.5 601.6,184.35 602.1,178.66 602.6,184.25 603.1,184.51 603.6,185.63 604.1,188.21 604.6,188.33 605.1,188.63 605.6,189.23 606.1,188.96 606.6,188.22 607.1,188.39 607.6,188.83 608.1,189.23 608.6,188.76 609.1,188.8 609.6,176.71 610.1,178.92 610.6,183.02 611.1,183.63 611.6,184.63 612.1,185.67 612.6,188.38 613.1,186.33 613.6,186.91 614.1,187.78 614.6,187.76 615.1,188.41 615.6,186.78 616.1,187.93 616.6,187.64 617.1,182.45 617.6,178.2 618.1,181.03 618.6,184.27 619.1,184.86 619.6,186.38 620.1,186.73 620.6,185.89 621.1,187.03 621.6,189 622.1,187.79 622.6,187.79 623.1,188.59 623.6,189.82 624.1,188.8 624.6,190.23 625.1,181.73 625.6,182.32 626.1,184.74 626.6,186.53 627.1,185.9 627.6,186.04 628.1,188.64 628.6,188.57 629.1,188.59 629.6,188.23 630.1,188.71 630.6,188.5 631.1,187.94 631.6,187.48 632.1,188.72 632.6,182.78 633.1,176.41 633.6,179.52 634.1,182.81 634.6,184.74 635.1,187.4 635.6,187.15 636.1,186.07 636.6,188.4 637.1,187.67 637.6,188.54 638.1,187.13 638.6,188.03 639.1,187.44 639.6,187.37 640.1,186.5 640.6,182.93 641.1,180.43 641.6,182.63 642.1,184.02 642.6,185.3 643.1,184.85 643.6,184.19 644.1,184.38 644.6,184.63 645.1,184.22 645.6,184.17 646.1,183.75 646.6,183.23 647.1,184.15 647.6,182.76 648.1,179.21 648.6,171.19 649.1,173.8 649.6,176.44 650.1,178.25 650.6,179.46 651.1,179.46 651.6,179.74 652.1,180.8 652.6,182.68 653.1,182.18 653.6,182.88 654.1,183.48 654.6,183.12 655.1,184.13 655.6,185.45 656.1,178.6 656.6,177.59 657.1,179.86 657.6,182.78 658.1,182.28 658.6,185.13 659.1,186.06 659.6,186.05 660.1,187.87 660.6,188.38 661.1,187.35 661.6,188.06 662.1,188.4 662.6,187.75 663.1,189.03 663.6,187.3 664.1,183.61 664.6,185.12 665.1,185.58 665.6,186.5 666.1,187.55 666.6,188.59 667.1,188.28 667.6,188.92 668.1,188.52 668.6,188.33 669.1,188.18 669.6,188.81 670.1,188.9 670.6,188.95 671.1,190.44 671.6,185.13 672.1,182.35 672.6,184.52 673.1,186.08 673.6,187.02 674.1,187.56 674.6,188.5 675.1,187.79 675.6,188.23 676.1,187.21 676.6,190.36 677.1,188.28 677.6,189.59 678.1,188.64 678.6,188.36 679.1,186.95 679.6,182.19 680.1,182.78 680.6,185.6 681.1,188.2 681.6,186.71 682.1,188.1 682.6,187.98 683.1,187.95 683.6,189.36 684.1,188.86 684.6,188.39" stroke="#2a8c50" stroke-width="1.05" fill="none" stroke-linejoin="round"/>
<polyline points="471.1,204.64 471.6,205.01 472.1,205.99 472.6,205.43 473.1,203.49 473.6,204.29 474.1,203.82 474.6,204.79 475.1,203.42 475.6,203.84 476.1,203.86 476.6,204.67 477.1,203.21 477.6,201.79 478.1,201.27 478.6,202.39 479.1,202.4 479.6,202.69 480.1,202.37 480.6,202.42 481.1,203.01 481.6,203.51 482.1,201.89 482.6,201.28 483.1,201.62 483.6,201.96 484.1,200.55 484.6,200.63 485.1,199.23 485.6,199.09 486.1,200.46 486.6,201.04 487.1,201.13 487.6,201.97 488.1,202.28 488.6,203.52 489.1,202.04 489.6,201.36 490.1,202.96 490.6,202.39 491.1,202.3 491.6,201.08 492.1,200.47 492.6,202.35 493.1,200.11 493.6,199.93 494.1,199.41 494.6,200.84 495.1,200.81 495.6,202.11 496.1,201.27 496.6,202.79 497.1,202.65 497.6,202.85 498.1,202.51 498.6,201.92 499.1,203.42 499.6,202.26 500.1,202.57 500.6,200.5 501.1,200.65 501.6,200.9 502.1,202.71 502.6,202.82 503.1,204.44 503.6,204.81 504.1,203.15 504.6,202.55 505.1,202.49 505.6,201.59 506.1,201.97 506.6,201.03 507.1,200.07 507.6,200.25 508.1,199.83 508.6,198.12 509.1,200.16 509.6,201.47 510.1,201.65 510.6,201.58 511.1,201.71 511.6,203.25 512.1,202.94 512.6,203.61 513.1,203.41 513.6,203.74 514.1,202.88 514.6,204.3 515.1,204.25 515.6,203.94 516.1,204.62 516.6,202.27 517.1,205.13 517.6,204.87 518.1,205.93 518.6,206.75 519.1,204.79 519.6,204.96 520.1,205.84 520.6,204.48 521.1,204.74 521.6,203.86 522.1,205.29 522.6,205.27 523.1,203.38 523.6,203.75 524.1,200.8 524.6,202.16 525.1,202.83 525.6,202.71 526.1,203.19 526.6,202.68 527.1,203.3 527.6,203.15 528.1,204.23 528.6,204.05 529.1,204.06 529.6,204.59 530.1,203.47 530.6,204.73 531.1,204.45 531.6,203.46 532.1,202.71 532.6,202.22 533.1,201.84 533.6,201.86 534.1,201.35 534.6,200.84 535.1,202.5 535.6,202.83 536.1,205.04 536.6,204.12 537.1,203.22 537.6,203.23 538.1,204.5 538.6,205.18 539.1,203.2 539.6,203.47 540.1,204.95 540.6,204.87 541.1,206.45 541.6,206.56 542.1,205.12 542.6,204.8 543.1,204.56 543.6,205.31 544.1,203.5 544.6,203.65 545.1,204.22 545.6,203.65 546.1,205.5 546.6,201.75 547.1,201.52 547.6,202.62 548.1,201.96 548.6,204.14 549.1,203.37 549.6,203.82 550.1,204.26 550.6,204.95 551.1,205 551.6,206.32 552.1,205.15 552.6,204.66 553.1,205.05 553.6,204.99 554.1,206.18 554.6,205.93 555.1,202.71 555.6,202.81 556.1,204.71 556.6,205.91 557.1,205.75 557.6,206.73 558.1,206.95 558.6,206.9 559.1,207.84 559.6,206.95 560.1,207.05 560.6,207.21 561.1,205.37 561.6,204.9 562.1,205.46 562.6,204.24 563.1,202.18 563.6,202.33 564.1,203.41 564.6,203.17 565.1,203.52 565.6,203.32 566.1,203.05 566.6,202.94 567.1,203.69 567.6,202.9 568.1,201.88 568.6,202.1 569.1,201.23 569.6,201.48 570.1,201.35 570.6,201.45 571.1,201.53 571.6,201.56 572.1,202.79 572.6,202.48 573.1,203.65 573.6,204.23 574.1,204.28 574.6,205.48 575.1,203.5 575.6,205.78 576.1,205.34 576.6,205.24 577.1,205.06 577.6,204.71 578.1,204.98 578.6,201.67 579.1,201.11 579.6,202.51 580.1,201.49 580.6,203.09 581.1,202.71 581.6,204 582.1,202.46 582.6,203.84 583.1,204.82 583.6,204.73 584.1,206.36 584.6,205.45 585.1,205.34 585.6,205.18 586.1,205.49 586.6,205.43 587.1,206.73 587.6,206.12 588.1,207.18 588.6,206.76 589.1,206.28 589.6,207.5 590.1,204.21 590.6,204.81 591.1,204.42 591.6,204.37 592.1,204.6 592.6,205.12 593.1,205.99 593.6,207.85 594.1,204.73 594.6,205.44 595.1,205.71 595.6,206.44 596.1,206.44 596.6,206.43 597.1,207.41 597.6,206.94 598.1,206.62 598.6,207.63 599.1,207.09 599.6,205.74 600.1,205.64 600.6,204.34 601.1,204.88 601.6,204.7 602.1,204.65 602.6,204.42 603.1,205.2 603.6,205.03 604.1,204.44 604.6,206.01 605.1,205.14 605.6,204.97 606.1,204.27 606.6,205.86 607.1,205.97 607.6,205.53 608.1,204.6 608.6,205.88 609.1,205.79 609.6,204.21 610.1,203.73 610.6,204.9 611.1,204.95 611.6,204.08 612.1,204.31 612.6,205.71 613.1,205.45 613.6,205.58 614.1,204.75 614.6,204.09 615.1,204.03 615.6,206.21 616.1,203.31 616.6,203.14 617.1,201.76 617.6,201.37 618.1,202.89 618.6,202.64 619.1,201.44 619.6,204.32 620.1,202.66 620.6,203.28 621.1,202.77 621.6,204 622.1,204.18 622.6,204.73 623.1,204.6 623.6,204.44 624.1,205.32 624.6,203.91 625.1,203.01 625.6,203.02 626.1,203.07 626.6,202.44 627.1,203.78 627.6,203.32 628.1,202.34 628.6,202.11 629.1,202.56 629.6,202.06 630.1,202.23 630.6,199.9 631.1,200.69 631.6,200.54 632.1,201.41 632.6,200.04 633.1,199.37 633.6,198.97 634.1,200.11 634.6,201 635.1,200.09 635.6,200 636.1,199.33 636.6,199.42 637.1,198.9 637.6,200.87 638.1,201.08 638.6,199.24 639.1,200.37 639.6,201.47 640.1,201.07 640.6,199.04 641.1,200.6 641.6,200.3 642.1,200.52 642.6,201.88 643.1,203.51 643.6,202.67 644.1,203.56 644.6,204.91 645.1,204.6 645.6,203.76 646.1,204.55 646.6,205.66 647.1,203.93 647.6,204.94 648.1,205.14 648.6,204.02 649.1,204.4 649.6,204.41 650.1,204.73 650.6,204.68 651.1,204.42 651.6,204.42 652.1,205.58 652.6,204.91 653.1,204.7 653.6,204.55 654.1,204.69 654.6,204.37 655.1,204.12 655.6,204.31 656.1,201.84 656.6,201.22 657.1,201.9 657.6,203.95 658.1,203.62 658.6,203.71 659.1,203.38 659.6,203.83 660.1,203.08 660.6,204.35 661.1,203.35 661.6,204.27 662.1,204.66 662.6,204.5 663.1,204.19 663.6,204.45 664.1,203.15 664.6,203.43 665.1,203.68 665.6,205.04 666.1,204.85 666.6,204.11 667.1,204.69 667.6,203.6 668.1,204.85 668.6,204.82 669.1,204.6 669.6,205.58 670.1,206.24 670.6,206.4 671.1,206.41 671.6,205.62 672.1,205.37 672.6,205.55 673.1,206.57 673.6,205.79 674.1,206.52 674.6,205.49 675.1,205.38 675.6,204.56 676.1,204.73 676.6,205.57 677.1,204.31 677.6,204.83 678.1,203.39 678.6,203.35 679.1,203.44 679.6,201.68 680.1,203.11 680.6,203.08 681.1,202.97 681.6,204.38 682.1,204.19 682.6,204.56 683.1,205.01 683.6,204.95 684.1,205.16 684.6,206.1" stroke="#9a4fa6" stroke-width="1.05" fill="none" stroke-linejoin="round"/>
<polyline points="471.1,221.4 471.6,220.33 472.1,220.06 472.6,220.67 473.1,220.29 473.6,219.09 474.1,219.48 474.6,220.07 475.1,219.63 475.6,219.2 476.1,219.68 476.6,219.36 477.1,219.6 477.6,217.47 478.1,218.02 478.6,218.4 479.1,218.21 479.6,217.9 480.1,218.62 480.6,219.66 481.1,219.01 481.6,217.76 482.1,216.85 482.6,217.43 483.1,217.81 483.6,217.89 484.1,219.82 484.6,218.83 485.1,218.27 485.6,217.98 486.1,218.02 486.6,217.32 487.1,217.53 487.6,217.57 488.1,218.18 488.6,218.83 489.1,218.84 489.6,219.5 490.1,219.43 490.6,218.58 491.1,219.5 491.6,219.19 492.1,218.99 492.6,219.52 493.1,217.53 493.6,218.28 494.1,218.28 494.6,217.35 495.1,217.04 495.6,216.58 496.1,216.82 496.6,216.88 497.1,215.89 497.6,216.13 498.1,217.34 498.6,216.36 499.1,217.69 499.6,217.01 500.1,216.63 500.6,217.04 501.1,215.77 501.6,215.67 502.1,215.41 502.6,215.25 503.1,215.99 503.6,215.69 504.1,217.19 504.6,216.53 505.1,216.97 505.6,217.04 506.1,216.33 506.6,217.43 507.1,218.91 507.6,217.93 508.1,219 508.6,219.13 509.1,217.57 509.6,218.87 510.1,219.55 510.6,220.32 511.1,220.15 511.6,220.4 512.1,221.27 512.6,219.8 513.1,221.12 513.6,220.72 514.1,219.96 514.6,220.39 515.1,220.5 515.6,221.09 516.1,220.59 516.6,219.58 517.1,219.53 517.6,218.44 518.1,218.64 518.6,218.62 519.1,219.37 519.6,218.95 520.1,217.67 520.6,218.28 521.1,219.02 521.6,219.21 522.1,219.8 522.6,219.06 523.1,219.08 523.6,219.63 524.1,216.7 524.6,217.07 525.1,218 525.6,217.73 526.1,217.91 526.6,219.47 527.1,219.25 527.6,217.95 528.1,217.29 528.6,216.41 529.1,216.31 529.6,217.75 530.1,218.19 530.6,217.52 531.1,218.66 531.6,219.24 532.1,217.9 532.6,218.68 533.1,219.65 533.6,220.64 534.1,219.07 534.6,219.55 535.1,221.29 535.6,220.73 536.1,219.49 536.6,220.13 537.1,220.99 537.6,220.84 538.1,220.76 538.6,219.19 539.1,219.28 539.6,218.52 540.1,218.61 540.6,218.61 541.1,217.89 541.6,218.01 542.1,218.47 542.6,219.57 543.1,220.3 543.6,219.58 544.1,220.12 544.6,221.8 545.1,221.23 545.6,221.31 546.1,222.05 546.6,223.54 547.1,222.31 547.6,219.91 548.1,221.22 548.6,220.81 549.1,221.46 549.6,223.43 550.1,222.61 550.6,223.15 551.1,221.94 551.6,221.26 552.1,221.71 552.6,220.52 553.1,221.63 553.6,220.82 554.1,221.52 554.6,219.76 555.1,219.47 555.6,221.6 556.1,222.3 556.6,221.79 557.1,221.55 557.6,223.46 558.1,221.27 558.6,221.46 559.1,223.03 559.6,221.54 560.1,221.75 560.6,220.01 561.1,220.71 561.6,220.87 562.1,221.22 562.6,222.31 563.1,221.01 563.6,220.39 564.1,220.19 564.6,221.76 565.1,221.9 565.6,221.07 566.1,221.01 566.6,221.9 567.1,222.33 567.6,222.43 568.1,219.98 568.6,221.15 569.1,222.81 569.6,221.9 570.1,221.67 570.6,220.94 571.1,220.61 571.6,220.14 572.1,219.85 572.6,219.97 573.1,222.05 573.6,221.15 574.1,221.14 574.6,222.21 575.1,222.44 575.6,221.89 576.1,222.08 576.6,221.28 577.1,221.96 577.6,222.67 578.1,221.73 578.6,221.01 579.1,221.09 579.6,222.42 580.1,221.45 580.6,221.92 581.1,221.45 581.6,221.66 582.1,222.12 582.6,221.73 583.1,221.41 583.6,221.27 584.1,220.43 584.6,219.34 585.1,220.28 585.6,220 586.1,219.92 586.6,218.93 587.1,219.77 587.6,219.45 588.1,218.3 588.6,218.07 589.1,218.39 589.6,217.75 590.1,217.57 590.6,218.47 591.1,218.67 591.6,218.76 592.1,218.94 592.6,219.96 593.1,218.36 593.6,219.84 594.1,219.16 594.6,218.34 595.1,219.85 595.6,220.52 596.1,220.44 596.6,220.79 597.1,221.48 597.6,221.84 598.1,222.19 598.6,223.12 599.1,223.8 599.6,223.43 600.1,222.61 600.6,221.41 601.1,223.01 601.6,221.27 602.1,220.84 602.6,221.07 603.1,221.84 603.6,221.66 604.1,220.71 604.6,220.39 605.1,220.9 605.6,222.02 606.1,220.7 606.6,221.1 607.1,220.59 607.6,220.64 608.1,221.21 608.6,220.3 609.1,220.82 609.6,219.29 610.1,220.24 610.6,219.14 611.1,219.78 611.6,220.4 612.1,218.7 612.6,218.25 613.1,219.11 613.6,218.93 614.1,220.98 614.6,220.38 615.1,220.51 615.6,220.9 616.1,219.75 616.6,219.1 617.1,220.18 617.6,218.45 618.1,218.25 618.6,220.34 619.1,220.08 619.6,220.73 620.1,220.25 620.6,220.87 621.1,221.43 621.6,221.43 622.1,221.76 622.6,222.6 623.1,222.4 623.6,221.4 624.1,221.72 624.6,222.06 625.1,218.6 625.6,218.98 626.1,218.27 626.6,219.9 627.1,218.38 627.6,217.97 628.1,219.64 628.6,219.65 629.1,219.26 629.6,219.27 630.1,219.39 630.6,219.86 631.1,220.59 631.6,219.21 632.1,219.35 632.6,219.37 633.1,218.13 633.6,217.98 634.1,218.41 634.6,218.68 635.1,218.98 635.6,220.06 636.1,220.46 636.6,220.74 637.1,220.9 637.6,220.95 638.1,220.51 638.6,220.44 639.1,219.81 639.6,218.94 640.1,218.44 640.6,217.26 641.1,218.34 641.6,217.6 642.1,218.62 642.6,220.28 643.1,220.24 643.6,219.08 644.1,219.22 644.6,219.97 645.1,220.4 645.6,219.59 646.1,218.7 646.6,220.26 647.1,219.39 647.6,220.55 648.1,218.21 648.6,219.22 649.1,219.15 649.6,220.41 650.1,221.12 650.6,221.81 651.1,219.98 651.6,220.21 652.1,220.53 652.6,219.94 653.1,219.69 653.6,218.55 654.1,219.62 654.6,219.09 655.1,219.27 655.6,218.46 656.1,217.7 656.6,216.86 657.1,217.19 657.6,217.91 658.1,218.11 658.6,218.72 659.1,218.25 659.6,218.2 660.1,217.81 660.6,219.14 661.1,219.24 661.6,219.62 662.1,219.18 662.6,219.55 663.1,219.98 663.6,218.88 664.1,219.03 664.6,220.58 665.1,222.25 665.6,221.97 666.1,221.47 666.6,221.1 667.1,221.35 667.6,221.7 668.1,221.93 668.6,223.81 669.1,222.3 669.6,222.21 670.1,223.36 670.6,221.78 671.1,222.14 671.6,222.17 672.1,222.12 672.6,222.34 673.1,223.32 673.6,222.05 674.1,222.46 674.6,221.71 675.1,222.8 675.6,221.84 676.1,222.4 676.6,221.67 677.1,220.7 677.6,220.81 678.1,221.14 678.6,221.02 679.1,222.01 679.6,219.92 680.1,220.81 680.6,220.18 681.1,221.43 681.6,220.83 682.1,220.53 682.6,220.88 683.1,220.45 683.6,221.18 684.1,220.71 684.6,220.22" stroke="#2f82c3" stroke-width="1.05" fill="none" stroke-linejoin="round"/>
<text x="467.2" y="61.2" text-anchor="middle" fill="#f8704e" transform="rotate(-90 467.2 61.2)">MBVL</text>
<text x="467.2" y="133" text-anchor="middle" fill="#f8704e" transform="rotate(-90 467.2 133)">MBML</text>
<text x="467.2" y="205" text-anchor="middle" fill="#f8704e" transform="rotate(-90 467.2 205)">LH</text>
<path d="M466.2,116.7 L471,116.4 L468.3,119.9 Z" fill="#111"/>
<path d="M466.2,138 L471,137.7 L468.3,141.2 Z" fill="#111"/>
<text x="81.9" y="492.6" text-anchor="middle" font-size="8.1">Functional connectivity matrix</text>
<text x="239.4" y="492.2" text-anchor="middle" font-size="8.1">Functional connectivity network</text>
<rect x="21.6" y="505.3" width="123.51" height="123.51" fill="#57c565"/>
<path fill="#440154" d="M21.6 505.3h5.87v5.87h-5.87zM26.97 510.67h5.87v5.87h-5.87zM32.34 516.04h5.87v5.87h-5.87zM37.71 521.41h5.87v5.87h-5.87zM43.08 526.78h5.87v5.87h-5.87zM48.45 532.15h5.87v5.87h-5.87zM53.82 537.52h5.87v5.87h-5.87zM59.19 542.89h5.87v5.87h-5.87zM64.56 548.26h5.87v5.87h-5.87zM69.93 553.63h5.87v5.87h-5.87zM75.3 559h5.87v5.87h-5.87zM80.67 564.37h5.87v5.87h-5.87zM86.04 569.74h5.87v5.87h-5.87zM91.41 575.11h5.87v5.87h-5.87zM96.78 580.48h5.87v5.87h-5.87zM102.15 585.85h5.87v5.87h-5.87zM107.52 591.22h5.87v5.87h-5.87zM112.89 596.59h5.87v5.87h-5.87zM118.26 601.96h5.87v5.87h-5.87zM123.63 607.33h5.87v5.87h-5.87zM129 612.7h5.87v5.87h-5.87zM134.37 618.07h5.87v5.87h-5.87zM139.74 623.44h5.37v5.37h-5.37z"/>
<path fill="#8bd446" d="M26.97 505.3h5.87v5.87h-5.87zM37.71 505.3h5.87v5.87h-5.87zM21.6 510.67h5.87v5.87h-5.87zM37.71 510.67h5.87v5.87h-5.87zM80.67 510.67h5.87v5.87h-5.87zM102.15 510.67h5.87v5.87h-5.87zM21.6 521.41h5.87v5.87h-5.87zM26.97 521.41h5.87v5.87h-5.87zM75.3 537.52h5.87v5.87h-5.87zM53.82 559h5.87v5.87h-5.87zM112.89 559h5.87v5.87h-5.87zM26.97 564.37h5.87v5.87h-5.87zM26.97 585.85h5.87v5.87h-5.87zM123.63 591.22h5.87v5.87h-5.87zM75.3 596.59h5.87v5.87h-5.87zM123.63 596.59h5.87v5.87h-5.87zM107.52 607.33h5.87v5.87h-5.87zM112.89 607.33h5.87v5.87h-5.87z"/>
<path fill="#7ad151" d="M32.34 505.3h5.87v5.87h-5.87zM86.04 510.67h5.87v5.87h-5.87zM21.6 516.04h5.87v5.87h-5.87zM96.78 521.41h5.87v5.87h-5.87zM96.78 537.52h5.87v5.87h-5.87zM26.97 569.74h5.87v5.87h-5.87zM37.71 580.48h5.87v5.87h-5.87zM53.82 580.48h5.87v5.87h-5.87zM123.63 585.85h5.87v5.87h-5.87zM102.15 607.33h5.87v5.87h-5.87z"/>
<path fill="#ede525" d="M43.08 505.3h5.87v5.87h-5.87zM75.3 510.67h5.87v5.87h-5.87zM48.45 521.41h5.87v5.87h-5.87zM64.56 521.41h5.87v5.87h-5.87zM21.6 526.78h5.87v5.87h-5.87zM59.19 526.78h5.87v5.87h-5.87zM69.93 526.78h5.87v5.87h-5.87zM37.71 532.15h5.87v5.87h-5.87zM69.93 532.15h5.87v5.87h-5.87zM75.3 532.15h5.87v5.87h-5.87zM86.04 532.15h5.87v5.87h-5.87zM112.89 532.15h5.87v5.87h-5.87zM59.19 537.52h5.87v5.87h-5.87zM64.56 537.52h5.87v5.87h-5.87zM112.89 537.52h5.87v5.87h-5.87zM43.08 542.89h5.87v5.87h-5.87zM53.82 542.89h5.87v5.87h-5.87zM37.71 548.26h5.87v5.87h-5.87zM53.82 548.26h5.87v5.87h-5.87zM43.08 553.63h5.87v5.87h-5.87zM48.45 553.63h5.87v5.87h-5.87zM26.97 559h5.87v5.87h-5.87zM48.45 559h5.87v5.87h-5.87zM80.67 559h5.87v5.87h-5.87zM75.3 564.37h5.87v5.87h-5.87zM48.45 569.74h5.87v5.87h-5.87zM112.89 591.22h5.87v5.87h-5.87zM48.45 596.59h5.87v5.87h-5.87zM53.82 596.59h5.87v5.87h-5.87zM107.52 596.59h5.87v5.87h-5.87z"/>
<path fill="#cde126" d="M48.45 505.3h5.87v5.87h-5.87zM64.56 505.3h5.87v5.87h-5.87zM86.04 505.3h5.87v5.87h-5.87zM112.89 510.67h5.87v5.87h-5.87zM43.08 516.04h5.87v5.87h-5.87zM86.04 521.41h5.87v5.87h-5.87zM32.34 526.78h5.87v5.87h-5.87zM21.6 532.15h5.87v5.87h-5.87zM80.67 537.52h5.87v5.87h-5.87zM86.04 537.52h5.87v5.87h-5.87zM21.6 548.26h5.87v5.87h-5.87zM80.67 548.26h5.87v5.87h-5.87zM53.82 564.37h5.87v5.87h-5.87zM64.56 564.37h5.87v5.87h-5.87zM86.04 564.37h5.87v5.87h-5.87zM21.6 569.74h5.87v5.87h-5.87zM37.71 569.74h5.87v5.87h-5.87zM53.82 569.74h5.87v5.87h-5.87zM80.67 569.74h5.87v5.87h-5.87zM26.97 596.59h5.87v5.87h-5.87zM118.26 596.59h5.87v5.87h-5.87zM112.89 601.96h5.87v5.87h-5.87zM129 607.33h5.87v5.87h-5.87zM123.63 612.7h5.87v5.87h-5.87z"/>
<path fill="#bddf26" d="M53.82 505.3h5.87v5.87h-5.87zM75.3 505.3h5.87v5.87h-5.87zM32.34 510.67h5.87v5.87h-5.87zM26.97 516.04h5.87v5.87h-5.87zM53.82 516.04h5.87v5.87h-5.87zM59.19 516.04h5.87v5.87h-5.87zM80.67 516.04h5.87v5.87h-5.87zM112.89 521.41h5.87v5.87h-5.87zM21.6 537.52h5.87v5.87h-5.87zM32.34 537.52h5.87v5.87h-5.87zM69.93 537.52h5.87v5.87h-5.87zM32.34 542.89h5.87v5.87h-5.87zM53.82 553.63h5.87v5.87h-5.87zM112.89 553.63h5.87v5.87h-5.87zM21.6 559h5.87v5.87h-5.87zM32.34 564.37h5.87v5.87h-5.87zM112.89 569.74h5.87v5.87h-5.87zM107.52 585.85h5.87v5.87h-5.87zM102.15 591.22h5.87v5.87h-5.87zM37.71 596.59h5.87v5.87h-5.87zM69.93 596.59h5.87v5.87h-5.87zM86.04 596.59h5.87v5.87h-5.87z"/>
<path fill="#acdc31" d="M59.19 505.3h5.87v5.87h-5.87zM80.67 505.3h5.87v5.87h-5.87zM64.56 510.67h5.87v5.87h-5.87zM69.93 510.67h5.87v5.87h-5.87zM75.3 516.04h5.87v5.87h-5.87zM86.04 516.04h5.87v5.87h-5.87zM112.89 516.04h5.87v5.87h-5.87zM21.6 542.89h5.87v5.87h-5.87zM112.89 542.89h5.87v5.87h-5.87zM26.97 548.26h5.87v5.87h-5.87zM112.89 548.26h5.87v5.87h-5.87zM26.97 553.63h5.87v5.87h-5.87zM32.34 559h5.87v5.87h-5.87zM21.6 564.37h5.87v5.87h-5.87zM32.34 569.74h5.87v5.87h-5.87zM107.52 580.48h5.87v5.87h-5.87zM96.78 591.22h5.87v5.87h-5.87zM32.34 596.59h5.87v5.87h-5.87zM59.19 596.59h5.87v5.87h-5.87zM64.56 596.59h5.87v5.87h-5.87zM123.63 601.96h5.87v5.87h-5.87zM118.26 607.33h5.87v5.87h-5.87z"/>
<path fill="#5fc860" d="M69.93 505.3h5.87v5.87h-5.87zM118.26 505.3h5.87v5.87h-5.87zM37.71 516.04h5.87v5.87h-5.87zM32.34 521.41h5.87v5.87h-5.87zM107.52 526.78h5.87v5.87h-5.87zM96.78 542.89h5.87v5.87h-5.87zM96.78 548.26h5.87v5.87h-5.87zM107.52 548.26h5.87v5.87h-5.87zM21.6 553.63h5.87v5.87h-5.87zM102.15 553.63h5.87v5.87h-5.87zM107.52 553.63h5.87v5.87h-5.87zM118.26 569.74h5.87v5.87h-5.87zM59.19 580.48h5.87v5.87h-5.87zM64.56 580.48h5.87v5.87h-5.87zM69.93 585.85h5.87v5.87h-5.87zM43.08 591.22h5.87v5.87h-5.87zM64.56 591.22h5.87v5.87h-5.87zM69.93 591.22h5.87v5.87h-5.87zM21.6 601.96h5.87v5.87h-5.87zM86.04 601.96h5.87v5.87h-5.87z"/>
<path fill="#229c88" d="M91.41 505.3h5.87v5.87h-5.87zM123.63 505.3h5.87v5.87h-5.87zM139.74 505.3h5.37v5.87h-5.37zM139.74 510.67h5.37v5.87h-5.37zM139.74 516.04h5.37v5.87h-5.37zM91.41 521.41h5.87v5.87h-5.87zM91.41 526.78h5.87v5.87h-5.87zM123.63 526.78h5.87v5.87h-5.87zM139.74 526.78h5.37v5.87h-5.37zM139.74 542.89h5.37v5.87h-5.37zM129 559h5.87v5.87h-5.87zM123.63 564.37h5.87v5.87h-5.87zM129 564.37h5.87v5.87h-5.87zM129 569.74h5.87v5.87h-5.87zM21.6 575.11h5.87v5.87h-5.87zM37.71 575.11h5.87v5.87h-5.87zM43.08 575.11h5.87v5.87h-5.87zM21.6 607.33h5.87v5.87h-5.87zM43.08 607.33h5.87v5.87h-5.87zM80.67 607.33h5.87v5.87h-5.87zM75.3 612.7h5.87v5.87h-5.87zM80.67 612.7h5.87v5.87h-5.87zM86.04 612.7h5.87v5.87h-5.87zM21.6 623.44h5.87v5.37h-5.87zM26.97 623.44h5.87v5.37h-5.87zM32.34 623.44h5.87v5.37h-5.87zM43.08 623.44h5.87v5.37h-5.87zM59.19 623.44h5.87v5.37h-5.87z"/>
<path fill="#6ccc59" d="M96.78 505.3h5.87v5.87h-5.87zM48.45 516.04h5.87v5.87h-5.87zM69.93 516.04h5.87v5.87h-5.87zM80.67 521.41h5.87v5.87h-5.87zM86.04 526.78h5.87v5.87h-5.87zM32.34 532.15h5.87v5.87h-5.87zM107.52 537.52h5.87v5.87h-5.87zM69.93 542.89h5.87v5.87h-5.87zM32.34 553.63h5.87v5.87h-5.87zM59.19 553.63h5.87v5.87h-5.87zM37.71 564.37h5.87v5.87h-5.87zM43.08 569.74h5.87v5.87h-5.87zM21.6 580.48h5.87v5.87h-5.87zM118.26 580.48h5.87v5.87h-5.87zM118.26 585.85h5.87v5.87h-5.87zM53.82 591.22h5.87v5.87h-5.87zM96.78 601.96h5.87v5.87h-5.87zM102.15 601.96h5.87v5.87h-5.87zM134.37 607.33h5.87v5.87h-5.87zM123.63 618.07h5.87v5.87h-5.87z"/>
<path fill="#3cb975" d="M102.15 505.3h5.87v5.87h-5.87zM107.52 505.3h5.87v5.87h-5.87zM118.26 510.67h5.87v5.87h-5.87zM107.52 521.41h5.87v5.87h-5.87zM96.78 526.78h5.87v5.87h-5.87zM102.15 526.78h5.87v5.87h-5.87zM118.26 526.78h5.87v5.87h-5.87zM118.26 559h5.87v5.87h-5.87zM107.52 564.37h5.87v5.87h-5.87zM43.08 580.48h5.87v5.87h-5.87zM129 580.48h5.87v5.87h-5.87zM21.6 585.85h5.87v5.87h-5.87zM43.08 585.85h5.87v5.87h-5.87zM21.6 591.22h5.87v5.87h-5.87zM37.71 591.22h5.87v5.87h-5.87zM80.67 591.22h5.87v5.87h-5.87zM129 591.22h5.87v5.87h-5.87zM134.37 591.22h5.87v5.87h-5.87zM26.97 601.96h5.87v5.87h-5.87zM43.08 601.96h5.87v5.87h-5.87zM75.3 601.96h5.87v5.87h-5.87zM139.74 601.96h5.37v5.87h-5.37zM96.78 612.7h5.87v5.87h-5.87zM107.52 612.7h5.87v5.87h-5.87zM107.52 618.07h5.87v5.87h-5.87zM118.26 623.44h5.87v5.37h-5.87z"/>
<path fill="#9cd83c" d="M112.89 505.3h5.87v5.87h-5.87zM48.45 510.67h5.87v5.87h-5.87zM112.89 526.78h5.87v5.87h-5.87zM26.97 532.15h5.87v5.87h-5.87zM59.19 532.15h5.87v5.87h-5.87zM48.45 542.89h5.87v5.87h-5.87zM112.89 564.37h5.87v5.87h-5.87zM21.6 596.59h5.87v5.87h-5.87zM43.08 596.59h5.87v5.87h-5.87zM80.67 596.59h5.87v5.87h-5.87zM129 601.96h5.87v5.87h-5.87zM118.26 612.7h5.87v5.87h-5.87z"/>
<path fill="#21918c" d="M129 505.3h5.87v5.87h-5.87zM91.41 510.67h5.87v5.87h-5.87zM91.41 516.04h5.87v5.87h-5.87zM139.74 521.41h5.37v5.87h-5.37zM91.41 532.15h5.87v5.87h-5.87zM91.41 537.52h5.87v5.87h-5.87zM134.37 542.89h5.87v5.87h-5.87zM123.63 548.26h5.87v5.87h-5.87zM91.41 553.63h5.87v5.87h-5.87zM129 553.63h5.87v5.87h-5.87zM134.37 553.63h5.87v5.87h-5.87zM139.74 569.74h5.37v5.87h-5.37zM26.97 575.11h5.87v5.87h-5.87zM32.34 575.11h5.87v5.87h-5.87zM48.45 575.11h5.87v5.87h-5.87zM53.82 575.11h5.87v5.87h-5.87zM69.93 575.11h5.87v5.87h-5.87zM112.89 575.11h5.87v5.87h-5.87zM118.26 575.11h5.87v5.87h-5.87zM91.41 596.59h5.87v5.87h-5.87zM91.41 601.96h5.87v5.87h-5.87zM64.56 607.33h5.87v5.87h-5.87zM21.6 612.7h5.87v5.87h-5.87zM69.93 612.7h5.87v5.87h-5.87zM59.19 618.07h5.87v5.87h-5.87zM69.93 618.07h5.87v5.87h-5.87zM37.71 623.44h5.87v5.37h-5.87zM86.04 623.44h5.87v5.37h-5.87z"/>
<path fill="#22a286" d="M134.37 505.3h5.87v5.87h-5.87zM123.63 510.67h5.87v5.87h-5.87zM123.63 516.04h5.87v5.87h-5.87zM134.37 516.04h5.87v5.87h-5.87zM129 521.41h5.87v5.87h-5.87zM129 532.15h5.87v5.87h-5.87zM134.37 537.52h5.87v5.87h-5.87zM123.63 569.74h5.87v5.87h-5.87zM134.37 569.74h5.87v5.87h-5.87zM26.97 607.33h5.87v5.87h-5.87zM32.34 607.33h5.87v5.87h-5.87zM86.04 607.33h5.87v5.87h-5.87zM37.71 612.7h5.87v5.87h-5.87zM48.45 612.7h5.87v5.87h-5.87zM21.6 618.07h5.87v5.87h-5.87zM32.34 618.07h5.87v5.87h-5.87zM53.82 618.07h5.87v5.87h-5.87zM86.04 618.07h5.87v5.87h-5.87z"/>
<path fill="#dde326" d="M43.08 510.67h5.87v5.87h-5.87zM53.82 510.67h5.87v5.87h-5.87zM59.19 510.67h5.87v5.87h-5.87zM43.08 521.41h5.87v5.87h-5.87zM53.82 521.41h5.87v5.87h-5.87zM69.93 521.41h5.87v5.87h-5.87zM26.97 526.78h5.87v5.87h-5.87zM37.71 526.78h5.87v5.87h-5.87zM48.45 526.78h5.87v5.87h-5.87zM64.56 526.78h5.87v5.87h-5.87zM43.08 532.15h5.87v5.87h-5.87zM26.97 537.52h5.87v5.87h-5.87zM37.71 537.52h5.87v5.87h-5.87zM26.97 542.89h5.87v5.87h-5.87zM80.67 542.89h5.87v5.87h-5.87zM86.04 542.89h5.87v5.87h-5.87zM43.08 548.26h5.87v5.87h-5.87zM37.71 553.63h5.87v5.87h-5.87zM75.3 553.63h5.87v5.87h-5.87zM69.93 559h5.87v5.87h-5.87zM59.19 564.37h5.87v5.87h-5.87zM59.19 569.74h5.87v5.87h-5.87zM102.15 580.48h5.87v5.87h-5.87zM96.78 585.85h5.87v5.87h-5.87zM118.26 591.22h5.87v5.87h-5.87zM107.52 601.96h5.87v5.87h-5.87z"/>
<path fill="#44bf70" d="M96.78 510.67h5.87v5.87h-5.87zM96.78 516.04h5.87v5.87h-5.87zM102.15 521.41h5.87v5.87h-5.87zM118.26 521.41h5.87v5.87h-5.87zM102.15 542.89h5.87v5.87h-5.87zM118.26 553.63h5.87v5.87h-5.87zM102.15 559h5.87v5.87h-5.87zM102.15 564.37h5.87v5.87h-5.87zM102.15 569.74h5.87v5.87h-5.87zM107.52 569.74h5.87v5.87h-5.87zM26.97 580.48h5.87v5.87h-5.87zM32.34 580.48h5.87v5.87h-5.87zM37.71 585.85h5.87v5.87h-5.87zM59.19 585.85h5.87v5.87h-5.87zM75.3 585.85h5.87v5.87h-5.87zM80.67 585.85h5.87v5.87h-5.87zM86.04 585.85h5.87v5.87h-5.87zM86.04 591.22h5.87v5.87h-5.87zM37.71 601.96h5.87v5.87h-5.87zM69.93 601.96h5.87v5.87h-5.87zM139.74 607.33h5.37v5.87h-5.37zM139.74 612.7h5.37v5.87h-5.37zM123.63 623.44h5.87v5.37h-5.87zM129 623.44h5.87v5.37h-5.87z"/>
<path fill="#33b47a" d="M107.52 510.67h5.87v5.87h-5.87zM64.56 516.04h5.87v5.87h-5.87zM118.26 516.04h5.87v5.87h-5.87zM102.15 532.15h5.87v5.87h-5.87zM32.34 548.26h5.87v5.87h-5.87zM102.15 548.26h5.87v5.87h-5.87zM96.78 564.37h5.87v5.87h-5.87zM118.26 564.37h5.87v5.87h-5.87zM80.67 580.48h5.87v5.87h-5.87zM112.89 580.48h5.87v5.87h-5.87zM134.37 580.48h5.87v5.87h-5.87zM139.74 580.48h5.37v5.87h-5.37zM48.45 585.85h5.87v5.87h-5.87zM64.56 585.85h5.87v5.87h-5.87zM129 585.85h5.87v5.87h-5.87zM26.97 591.22h5.87v5.87h-5.87zM139.74 591.22h5.37v5.87h-5.37zM96.78 596.59h5.87v5.87h-5.87zM139.74 596.59h5.37v5.87h-5.37zM32.34 601.96h5.87v5.87h-5.87zM80.67 601.96h5.87v5.87h-5.87zM102.15 612.7h5.87v5.87h-5.87zM134.37 612.7h5.87v5.87h-5.87zM96.78 618.07h5.87v5.87h-5.87zM129 618.07h5.87v5.87h-5.87zM96.78 623.44h5.87v5.37h-5.87zM107.52 623.44h5.87v5.37h-5.87zM112.89 623.44h5.87v5.37h-5.87z"/>
<path fill="#238b8c" d="M129 510.67h5.87v5.87h-5.87zM129 526.78h5.87v5.87h-5.87zM123.63 532.15h5.87v5.87h-5.87zM139.74 548.26h5.37v5.87h-5.37zM91.41 564.37h5.87v5.87h-5.87zM80.67 575.11h5.87v5.87h-5.87zM102.15 575.11h5.87v5.87h-5.87zM107.52 575.11h5.87v5.87h-5.87zM91.41 585.85h5.87v5.87h-5.87zM91.41 591.22h5.87v5.87h-5.87zM48.45 607.33h5.87v5.87h-5.87zM26.97 612.7h5.87v5.87h-5.87zM43.08 612.7h5.87v5.87h-5.87zM64.56 623.44h5.87v5.37h-5.87z"/>
<path fill="#21978a" d="M134.37 510.67h5.87v5.87h-5.87zM134.37 526.78h5.87v5.87h-5.87zM129 537.52h5.87v5.87h-5.87zM139.74 537.52h5.37v5.87h-5.37zM91.41 542.89h5.87v5.87h-5.87zM123.63 542.89h5.87v5.87h-5.87zM139.74 559h5.37v5.87h-5.37zM139.74 564.37h5.37v5.87h-5.37zM91.41 569.74h5.87v5.87h-5.87zM59.19 575.11h5.87v5.87h-5.87zM86.04 575.11h5.87v5.87h-5.87zM134.37 585.85h5.87v5.87h-5.87zM59.19 607.33h5.87v5.87h-5.87zM53.82 612.7h5.87v5.87h-5.87zM26.97 618.07h5.87v5.87h-5.87zM43.08 618.07h5.87v5.87h-5.87zM102.15 618.07h5.87v5.87h-5.87zM53.82 623.44h5.87v5.37h-5.87zM75.3 623.44h5.87v5.37h-5.87zM80.67 623.44h5.87v5.37h-5.87z"/>
<path fill="#52c468" d="M102.15 516.04h5.87v5.87h-5.87zM118.26 532.15h5.87v5.87h-5.87zM102.15 537.52h5.87v5.87h-5.87zM107.52 542.89h5.87v5.87h-5.87zM118.26 542.89h5.87v5.87h-5.87zM96.78 553.63h5.87v5.87h-5.87zM96.78 559h5.87v5.87h-5.87zM107.52 559h5.87v5.87h-5.87zM96.78 569.74h5.87v5.87h-5.87zM69.93 580.48h5.87v5.87h-5.87zM75.3 580.48h5.87v5.87h-5.87zM86.04 580.48h5.87v5.87h-5.87zM123.63 580.48h5.87v5.87h-5.87zM32.34 585.85h5.87v5.87h-5.87zM53.82 585.85h5.87v5.87h-5.87zM59.19 591.22h5.87v5.87h-5.87zM75.3 591.22h5.87v5.87h-5.87zM48.45 601.96h5.87v5.87h-5.87zM59.19 601.96h5.87v5.87h-5.87zM134.37 601.96h5.87v5.87h-5.87zM96.78 607.33h5.87v5.87h-5.87zM118.26 618.07h5.87v5.87h-5.87z"/>
<path fill="#2aae7f" d="M107.52 516.04h5.87v5.87h-5.87zM123.63 521.41h5.87v5.87h-5.87zM134.37 521.41h5.87v5.87h-5.87zM96.78 532.15h5.87v5.87h-5.87zM107.52 532.15h5.87v5.87h-5.87zM118.26 537.52h5.87v5.87h-5.87zM129 542.89h5.87v5.87h-5.87zM123.63 553.63h5.87v5.87h-5.87zM134.37 564.37h5.87v5.87h-5.87zM48.45 580.48h5.87v5.87h-5.87zM139.74 585.85h5.37v5.87h-5.37zM32.34 591.22h5.87v5.87h-5.87zM48.45 591.22h5.87v5.87h-5.87zM129 596.59h5.87v5.87h-5.87zM134.37 596.59h5.87v5.87h-5.87zM53.82 601.96h5.87v5.87h-5.87zM37.71 607.33h5.87v5.87h-5.87zM69.93 607.33h5.87v5.87h-5.87zM59.19 612.7h5.87v5.87h-5.87zM112.89 612.7h5.87v5.87h-5.87zM37.71 618.07h5.87v5.87h-5.87zM80.67 618.07h5.87v5.87h-5.87zM112.89 618.07h5.87v5.87h-5.87zM102.15 623.44h5.87v5.37h-5.87z"/>
<path fill="#22a884" d="M129 516.04h5.87v5.87h-5.87zM134.37 532.15h5.87v5.87h-5.87zM139.74 532.15h5.37v5.87h-5.37zM123.63 537.52h5.87v5.87h-5.87zM118.26 548.26h5.87v5.87h-5.87zM129 548.26h5.87v5.87h-5.87zM134.37 548.26h5.87v5.87h-5.87zM139.74 553.63h5.37v5.87h-5.37zM123.63 559h5.87v5.87h-5.87zM134.37 559h5.87v5.87h-5.87zM64.56 601.96h5.87v5.87h-5.87zM53.82 607.33h5.87v5.87h-5.87zM75.3 607.33h5.87v5.87h-5.87zM32.34 612.7h5.87v5.87h-5.87zM64.56 612.7h5.87v5.87h-5.87zM48.45 618.07h5.87v5.87h-5.87zM64.56 618.07h5.87v5.87h-5.87zM75.3 618.07h5.87v5.87h-5.87zM139.74 618.07h5.37v5.87h-5.37zM48.45 623.44h5.87v5.37h-5.87zM69.93 623.44h5.87v5.37h-5.87zM134.37 623.44h5.87v5.37h-5.87z"/>
<path fill="#fde725" d="M59.19 521.41h5.87v5.87h-5.87zM75.3 521.41h5.87v5.87h-5.87zM53.82 526.78h5.87v5.87h-5.87zM75.3 526.78h5.87v5.87h-5.87zM80.67 526.78h5.87v5.87h-5.87zM53.82 532.15h5.87v5.87h-5.87zM64.56 532.15h5.87v5.87h-5.87zM80.67 532.15h5.87v5.87h-5.87zM43.08 537.52h5.87v5.87h-5.87zM48.45 537.52h5.87v5.87h-5.87zM37.71 542.89h5.87v5.87h-5.87zM64.56 542.89h5.87v5.87h-5.87zM75.3 542.89h5.87v5.87h-5.87zM48.45 548.26h5.87v5.87h-5.87zM59.19 548.26h5.87v5.87h-5.87zM69.93 548.26h5.87v5.87h-5.87zM75.3 548.26h5.87v5.87h-5.87zM86.04 548.26h5.87v5.87h-5.87zM64.56 553.63h5.87v5.87h-5.87zM80.67 553.63h5.87v5.87h-5.87zM86.04 553.63h5.87v5.87h-5.87zM37.71 559h5.87v5.87h-5.87zM43.08 559h5.87v5.87h-5.87zM59.19 559h5.87v5.87h-5.87zM64.56 559h5.87v5.87h-5.87zM86.04 559h5.87v5.87h-5.87zM43.08 564.37h5.87v5.87h-5.87zM48.45 564.37h5.87v5.87h-5.87zM69.93 564.37h5.87v5.87h-5.87zM64.56 569.74h5.87v5.87h-5.87zM69.93 569.74h5.87v5.87h-5.87zM75.3 569.74h5.87v5.87h-5.87zM112.89 585.85h5.87v5.87h-5.87zM102.15 596.59h5.87v5.87h-5.87z"/>
<path fill="#26848d" d="M91.41 548.26h5.87v5.87h-5.87zM64.56 575.11h5.87v5.87h-5.87zM96.78 575.11h5.87v5.87h-5.87zM134.37 575.11h5.87v5.87h-5.87zM139.74 575.11h5.37v5.87h-5.37zM91.41 580.48h5.87v5.87h-5.87zM91.41 618.07h5.87v5.87h-5.87zM91.41 623.44h5.87v5.37h-5.87z"/>
<path fill="#287e8e" d="M91.41 559h5.87v5.87h-5.87zM75.3 575.11h5.87v5.87h-5.87zM129 575.11h5.87v5.87h-5.87zM91.41 612.7h5.87v5.87h-5.87z"/>
<path fill="#2a788e" d="M123.63 575.11h5.87v5.87h-5.87zM91.41 607.33h5.87v5.87h-5.87z"/>
<rect x="22.1" y="505.8" width="75.18" height="75.18" fill="none" stroke="#111" stroke-width="1.2" stroke-dasharray="2.1 1.2"/>
<rect x="21.6" y="498.1" width="10.74" height="3.7" fill="#000"/>
<rect x="13.7" y="505.3" width="4.2" height="10.74" fill="#000"/>
<rect x="32.34" y="498.1" width="16.11" height="3.7" fill="#f8704e"/>
<rect x="13.7" y="516.04" width="4.2" height="16.11" fill="#f8704e"/>
<rect x="48.45" y="498.1" width="10.74" height="3.7" fill="#000"/>
<rect x="13.7" y="532.15" width="4.2" height="10.74" fill="#000"/>
<rect x="59.19" y="498.1" width="16.11" height="3.7" fill="#f8704e"/>
<rect x="13.7" y="542.89" width="4.2" height="16.11" fill="#f8704e"/>
<rect x="75.3" y="498.1" width="5.37" height="3.7" fill="#000"/>
<rect x="13.7" y="559" width="4.2" height="5.37" fill="#000"/>
<rect x="80.67" y="498.1" width="10.74" height="3.7" fill="#f8704e"/>
<rect x="13.7" y="564.37" width="4.2" height="10.74" fill="#f8704e"/>
<rect x="91.41" y="498.1" width="53.7" height="3.7" fill="#000"/>
<rect x="13.7" y="575.11" width="4.2" height="53.7" fill="#000"/>
<rect x="150.2" y="505.3" width="4.2" height="123.51" fill="url(#vircb)"/>
<text x="156.9" y="509.8" font-size="8.2">0.9</text>
<text x="156.9" y="629.31" font-size="8.2">0</text>
<rect x="21.6" y="645" width="123.51" height="123.51" fill="#26ab82"/>
<path fill="#440154" d="M21.6 645h5.87v5.87h-5.87zM26.97 650.37h5.87v5.87h-5.87zM32.34 655.74h5.87v5.87h-5.87zM37.71 661.11h5.87v5.87h-5.87zM43.08 666.48h5.87v5.87h-5.87zM48.45 671.85h5.87v5.87h-5.87zM53.82 677.22h5.87v5.87h-5.87zM59.19 682.59h5.87v5.87h-5.87zM64.56 687.96h5.87v5.87h-5.87zM69.93 693.33h5.87v5.87h-5.87zM75.3 698.7h5.87v5.87h-5.87zM80.67 704.07h5.87v5.87h-5.87zM86.04 709.44h5.87v5.87h-5.87zM91.41 714.81h5.87v5.87h-5.87zM96.78 720.18h5.87v5.87h-5.87zM102.15 725.55h5.87v5.87h-5.87zM107.52 730.92h5.87v5.87h-5.87zM112.89 736.29h5.87v5.87h-5.87zM118.26 741.66h5.87v5.87h-5.87zM123.63 747.03h5.87v5.87h-5.87zM129 752.4h5.87v5.87h-5.87zM134.37 757.77h5.87v5.87h-5.87zM139.74 763.14h5.37v5.37h-5.37z"/>
<path fill="#3cb975" d="M26.97 645h5.87v5.87h-5.87zM43.08 645h5.87v5.87h-5.87zM48.45 645h5.87v5.87h-5.87zM69.93 645h5.87v5.87h-5.87zM21.6 650.37h5.87v5.87h-5.87zM32.34 650.37h5.87v5.87h-5.87zM64.56 650.37h5.87v5.87h-5.87zM75.3 650.37h5.87v5.87h-5.87zM26.97 655.74h5.87v5.87h-5.87zM43.08 661.11h5.87v5.87h-5.87zM59.19 661.11h5.87v5.87h-5.87zM21.6 666.48h5.87v5.87h-5.87zM37.71 666.48h5.87v5.87h-5.87zM53.82 666.48h5.87v5.87h-5.87zM59.19 666.48h5.87v5.87h-5.87zM21.6 671.85h5.87v5.87h-5.87zM43.08 677.22h5.87v5.87h-5.87zM75.3 677.22h5.87v5.87h-5.87zM37.71 682.59h5.87v5.87h-5.87zM43.08 682.59h5.87v5.87h-5.87zM26.97 687.96h5.87v5.87h-5.87zM80.67 687.96h5.87v5.87h-5.87zM21.6 693.33h5.87v5.87h-5.87zM134.37 693.33h5.87v5.87h-5.87zM26.97 698.7h5.87v5.87h-5.87zM53.82 698.7h5.87v5.87h-5.87zM64.56 704.07h5.87v5.87h-5.87zM86.04 704.07h5.87v5.87h-5.87zM80.67 709.44h5.87v5.87h-5.87zM102.15 714.81h5.87v5.87h-5.87zM129 714.81h5.87v5.87h-5.87zM134.37 714.81h5.87v5.87h-5.87zM91.41 725.55h5.87v5.87h-5.87zM139.74 725.55h5.37v5.87h-5.37zM123.63 730.92h5.87v5.87h-5.87zM129 730.92h5.87v5.87h-5.87zM139.74 736.29h5.37v5.87h-5.37zM107.52 747.03h5.87v5.87h-5.87zM139.74 747.03h5.37v5.87h-5.37zM91.41 752.4h5.87v5.87h-5.87zM107.52 752.4h5.87v5.87h-5.87zM69.93 757.77h5.87v5.87h-5.87zM91.41 757.77h5.87v5.87h-5.87zM102.15 763.14h5.87v5.37h-5.87zM112.89 763.14h5.87v5.37h-5.87zM123.63 763.14h5.87v5.37h-5.87z"/>
<path fill="#33b47a" d="M32.34 645h5.87v5.87h-5.87zM37.71 645h5.87v5.87h-5.87zM21.6 655.74h5.87v5.87h-5.87zM75.3 655.74h5.87v5.87h-5.87zM123.63 655.74h5.87v5.87h-5.87zM21.6 661.11h5.87v5.87h-5.87zM80.67 666.48h5.87v5.87h-5.87zM86.04 666.48h5.87v5.87h-5.87zM129 666.48h5.87v5.87h-5.87zM102.15 687.96h5.87v5.87h-5.87zM112.89 693.33h5.87v5.87h-5.87zM32.34 698.7h5.87v5.87h-5.87zM43.08 704.07h5.87v5.87h-5.87zM102.15 704.07h5.87v5.87h-5.87zM43.08 709.44h5.87v5.87h-5.87zM107.52 714.81h5.87v5.87h-5.87zM118.26 714.81h5.87v5.87h-5.87zM112.89 720.18h5.87v5.87h-5.87zM64.56 725.55h5.87v5.87h-5.87zM80.67 725.55h5.87v5.87h-5.87zM91.41 730.92h5.87v5.87h-5.87zM69.93 736.29h5.87v5.87h-5.87zM96.78 736.29h5.87v5.87h-5.87zM129 736.29h5.87v5.87h-5.87zM134.37 736.29h5.87v5.87h-5.87zM91.41 741.66h5.87v5.87h-5.87zM129 741.66h5.87v5.87h-5.87zM32.34 747.03h5.87v5.87h-5.87zM43.08 752.4h5.87v5.87h-5.87zM112.89 752.4h5.87v5.87h-5.87zM118.26 752.4h5.87v5.87h-5.87zM112.89 757.77h5.87v5.87h-5.87z"/>
<path fill="#2aae7f" d="M53.82 645h5.87v5.87h-5.87zM64.56 645h5.87v5.87h-5.87zM102.15 650.37h5.87v5.87h-5.87zM118.26 650.37h5.87v5.87h-5.87zM129 650.37h5.87v5.87h-5.87zM112.89 666.48h5.87v5.87h-5.87zM96.78 671.85h5.87v5.87h-5.87zM112.89 671.85h5.87v5.87h-5.87zM21.6 677.22h5.87v5.87h-5.87zM80.67 677.22h5.87v5.87h-5.87zM129 677.22h5.87v5.87h-5.87zM102.15 682.59h5.87v5.87h-5.87zM21.6 687.96h5.87v5.87h-5.87zM107.52 687.96h5.87v5.87h-5.87zM129 687.96h5.87v5.87h-5.87zM102.15 698.7h5.87v5.87h-5.87zM107.52 698.7h5.87v5.87h-5.87zM123.63 698.7h5.87v5.87h-5.87zM53.82 704.07h5.87v5.87h-5.87zM118.26 704.07h5.87v5.87h-5.87zM134.37 704.07h5.87v5.87h-5.87zM96.78 714.81h5.87v5.87h-5.87zM112.89 714.81h5.87v5.87h-5.87zM48.45 720.18h5.87v5.87h-5.87zM91.41 720.18h5.87v5.87h-5.87zM107.52 720.18h5.87v5.87h-5.87zM26.97 725.55h5.87v5.87h-5.87zM59.19 725.55h5.87v5.87h-5.87zM75.3 725.55h5.87v5.87h-5.87zM118.26 725.55h5.87v5.87h-5.87zM134.37 725.55h5.87v5.87h-5.87zM64.56 730.92h5.87v5.87h-5.87zM75.3 730.92h5.87v5.87h-5.87zM96.78 730.92h5.87v5.87h-5.87zM118.26 730.92h5.87v5.87h-5.87zM139.74 730.92h5.37v5.87h-5.37zM43.08 736.29h5.87v5.87h-5.87zM48.45 736.29h5.87v5.87h-5.87zM91.41 736.29h5.87v5.87h-5.87zM123.63 736.29h5.87v5.87h-5.87zM26.97 741.66h5.87v5.87h-5.87zM80.67 741.66h5.87v5.87h-5.87zM102.15 741.66h5.87v5.87h-5.87zM107.52 741.66h5.87v5.87h-5.87zM134.37 741.66h5.87v5.87h-5.87zM139.74 741.66h5.37v5.87h-5.37zM75.3 747.03h5.87v5.87h-5.87zM112.89 747.03h5.87v5.87h-5.87zM26.97 752.4h5.87v5.87h-5.87zM53.82 752.4h5.87v5.87h-5.87zM64.56 752.4h5.87v5.87h-5.87zM134.37 752.4h5.87v5.87h-5.87zM80.67 757.77h5.87v5.87h-5.87zM102.15 757.77h5.87v5.87h-5.87zM118.26 757.77h5.87v5.87h-5.87zM129 757.77h5.87v5.87h-5.87zM107.52 763.14h5.87v5.37h-5.87zM118.26 763.14h5.87v5.37h-5.87z"/>
<path fill="#52c468" d="M59.19 645h5.87v5.87h-5.87zM69.93 650.37h5.87v5.87h-5.87zM48.45 655.74h5.87v5.87h-5.87zM80.67 655.74h5.87v5.87h-5.87zM69.93 666.48h5.87v5.87h-5.87zM32.34 671.85h5.87v5.87h-5.87zM21.6 682.59h5.87v5.87h-5.87zM26.97 693.33h5.87v5.87h-5.87zM43.08 693.33h5.87v5.87h-5.87zM80.67 698.7h5.87v5.87h-5.87zM32.34 704.07h5.87v5.87h-5.87zM75.3 704.07h5.87v5.87h-5.87zM123.63 714.81h5.87v5.87h-5.87zM118.26 720.18h5.87v5.87h-5.87zM96.78 741.66h5.87v5.87h-5.87zM123.63 741.66h5.87v5.87h-5.87zM91.41 747.03h5.87v5.87h-5.87zM118.26 747.03h5.87v5.87h-5.87z"/>
<path fill="#5fc860" d="M75.3 645h5.87v5.87h-5.87zM59.19 650.37h5.87v5.87h-5.87zM69.93 655.74h5.87v5.87h-5.87zM48.45 661.11h5.87v5.87h-5.87zM53.82 661.11h5.87v5.87h-5.87zM37.71 671.85h5.87v5.87h-5.87zM37.71 677.22h5.87v5.87h-5.87zM26.97 682.59h5.87v5.87h-5.87zM32.34 693.33h5.87v5.87h-5.87zM21.6 698.7h5.87v5.87h-5.87z"/>
<path fill="#44bf70" d="M80.67 645h5.87v5.87h-5.87zM48.45 650.37h5.87v5.87h-5.87zM59.19 655.74h5.87v5.87h-5.87zM64.56 655.74h5.87v5.87h-5.87zM69.93 661.11h5.87v5.87h-5.87zM75.3 661.11h5.87v5.87h-5.87zM80.67 661.11h5.87v5.87h-5.87zM64.56 666.48h5.87v5.87h-5.87zM75.3 666.48h5.87v5.87h-5.87zM26.97 671.85h5.87v5.87h-5.87zM32.34 682.59h5.87v5.87h-5.87zM80.67 682.59h5.87v5.87h-5.87zM32.34 687.96h5.87v5.87h-5.87zM43.08 687.96h5.87v5.87h-5.87zM37.71 693.33h5.87v5.87h-5.87zM75.3 693.33h5.87v5.87h-5.87zM37.71 698.7h5.87v5.87h-5.87zM43.08 698.7h5.87v5.87h-5.87zM69.93 698.7h5.87v5.87h-5.87zM21.6 704.07h5.87v5.87h-5.87zM37.71 704.07h5.87v5.87h-5.87zM59.19 704.07h5.87v5.87h-5.87zM139.74 714.81h5.37v5.87h-5.37zM129 720.18h5.87v5.87h-5.87zM123.63 725.55h5.87v5.87h-5.87zM102.15 747.03h5.87v5.87h-5.87zM129 747.03h5.87v5.87h-5.87zM134.37 747.03h5.87v5.87h-5.87zM96.78 752.4h5.87v5.87h-5.87zM123.63 752.4h5.87v5.87h-5.87zM123.63 757.77h5.87v5.87h-5.87zM91.41 763.14h5.87v5.37h-5.87z"/>
<path fill="#229c88" d="M86.04 645h5.87v5.87h-5.87zM112.89 645h5.87v5.87h-5.87zM112.89 650.37h5.87v5.87h-5.87zM107.52 655.74h5.87v5.87h-5.87zM118.26 655.74h5.87v5.87h-5.87zM134.37 655.74h5.87v5.87h-5.87zM86.04 661.11h5.87v5.87h-5.87zM96.78 661.11h5.87v5.87h-5.87zM123.63 661.11h5.87v5.87h-5.87zM134.37 661.11h5.87v5.87h-5.87zM123.63 666.48h5.87v5.87h-5.87zM102.15 671.85h5.87v5.87h-5.87zM123.63 671.85h5.87v5.87h-5.87zM134.37 671.85h5.87v5.87h-5.87zM107.52 677.22h5.87v5.87h-5.87zM134.37 677.22h5.87v5.87h-5.87zM112.89 682.59h5.87v5.87h-5.87zM86.04 687.96h5.87v5.87h-5.87zM107.52 693.33h5.87v5.87h-5.87zM123.63 693.33h5.87v5.87h-5.87zM129 693.33h5.87v5.87h-5.87zM129 698.7h5.87v5.87h-5.87zM129 704.07h5.87v5.87h-5.87zM21.6 709.44h5.87v5.87h-5.87zM37.71 709.44h5.87v5.87h-5.87zM64.56 709.44h5.87v5.87h-5.87zM37.71 720.18h5.87v5.87h-5.87zM102.15 720.18h5.87v5.87h-5.87zM48.45 725.55h5.87v5.87h-5.87zM96.78 725.55h5.87v5.87h-5.87zM112.89 725.55h5.87v5.87h-5.87zM129 725.55h5.87v5.87h-5.87zM32.34 730.92h5.87v5.87h-5.87zM53.82 730.92h5.87v5.87h-5.87zM69.93 730.92h5.87v5.87h-5.87zM21.6 736.29h5.87v5.87h-5.87zM26.97 736.29h5.87v5.87h-5.87zM59.19 736.29h5.87v5.87h-5.87zM102.15 736.29h5.87v5.87h-5.87zM32.34 741.66h5.87v5.87h-5.87zM37.71 747.03h5.87v5.87h-5.87zM43.08 747.03h5.87v5.87h-5.87zM48.45 747.03h5.87v5.87h-5.87zM69.93 747.03h5.87v5.87h-5.87zM69.93 752.4h5.87v5.87h-5.87zM75.3 752.4h5.87v5.87h-5.87zM80.67 752.4h5.87v5.87h-5.87zM102.15 752.4h5.87v5.87h-5.87zM32.34 757.77h5.87v5.87h-5.87zM37.71 757.77h5.87v5.87h-5.87zM48.45 757.77h5.87v5.87h-5.87zM53.82 757.77h5.87v5.87h-5.87z"/>
<path fill="#306c8e" d="M91.41 645h5.87v5.87h-5.87zM91.41 666.48h5.87v5.87h-5.87zM21.6 714.81h5.87v5.87h-5.87zM43.08 714.81h5.87v5.87h-5.87z"/>
<path fill="#21978a" d="M96.78 645h5.87v5.87h-5.87zM123.63 645h5.87v5.87h-5.87zM96.78 655.74h5.87v5.87h-5.87zM118.26 666.48h5.87v5.87h-5.87zM118.26 671.85h5.87v5.87h-5.87zM129 671.85h5.87v5.87h-5.87zM112.89 677.22h5.87v5.87h-5.87zM129 682.59h5.87v5.87h-5.87zM134.37 687.96h5.87v5.87h-5.87zM86.04 698.7h5.87v5.87h-5.87zM96.78 698.7h5.87v5.87h-5.87zM123.63 704.07h5.87v5.87h-5.87zM75.3 709.44h5.87v5.87h-5.87zM21.6 720.18h5.87v5.87h-5.87zM32.34 720.18h5.87v5.87h-5.87zM75.3 720.18h5.87v5.87h-5.87zM53.82 736.29h5.87v5.87h-5.87zM43.08 741.66h5.87v5.87h-5.87zM48.45 741.66h5.87v5.87h-5.87zM21.6 747.03h5.87v5.87h-5.87zM80.67 747.03h5.87v5.87h-5.87zM48.45 752.4h5.87v5.87h-5.87zM59.19 752.4h5.87v5.87h-5.87zM64.56 757.77h5.87v5.87h-5.87z"/>
<path fill="#22a286" d="M102.15 645h5.87v5.87h-5.87zM118.26 645h5.87v5.87h-5.87zM123.63 650.37h5.87v5.87h-5.87zM134.37 650.37h5.87v5.87h-5.87zM102.15 661.11h5.87v5.87h-5.87zM129 661.11h5.87v5.87h-5.87zM96.78 666.48h5.87v5.87h-5.87zM134.37 666.48h5.87v5.87h-5.87zM86.04 671.85h5.87v5.87h-5.87zM96.78 677.22h5.87v5.87h-5.87zM118.26 682.59h5.87v5.87h-5.87zM96.78 687.96h5.87v5.87h-5.87zM118.26 693.33h5.87v5.87h-5.87zM112.89 698.7h5.87v5.87h-5.87zM118.26 698.7h5.87v5.87h-5.87zM112.89 704.07h5.87v5.87h-5.87zM48.45 709.44h5.87v5.87h-5.87zM43.08 720.18h5.87v5.87h-5.87zM53.82 720.18h5.87v5.87h-5.87zM64.56 720.18h5.87v5.87h-5.87zM123.63 720.18h5.87v5.87h-5.87zM21.6 725.55h5.87v5.87h-5.87zM37.71 725.55h5.87v5.87h-5.87zM75.3 736.29h5.87v5.87h-5.87zM80.67 736.29h5.87v5.87h-5.87zM21.6 741.66h5.87v5.87h-5.87zM59.19 741.66h5.87v5.87h-5.87zM69.93 741.66h5.87v5.87h-5.87zM75.3 741.66h5.87v5.87h-5.87zM26.97 747.03h5.87v5.87h-5.87zM96.78 747.03h5.87v5.87h-5.87zM37.71 752.4h5.87v5.87h-5.87zM26.97 757.77h5.87v5.87h-5.87zM43.08 757.77h5.87v5.87h-5.87z"/>
<path fill="#22a884" d="M107.52 645h5.87v5.87h-5.87zM86.04 650.37h5.87v5.87h-5.87zM96.78 650.37h5.87v5.87h-5.87zM107.52 650.37h5.87v5.87h-5.87zM86.04 655.74h5.87v5.87h-5.87zM102.15 655.74h5.87v5.87h-5.87zM112.89 655.74h5.87v5.87h-5.87zM129 655.74h5.87v5.87h-5.87zM112.89 661.11h5.87v5.87h-5.87zM102.15 666.48h5.87v5.87h-5.87zM107.52 666.48h5.87v5.87h-5.87zM107.52 671.85h5.87v5.87h-5.87zM86.04 677.22h5.87v5.87h-5.87zM102.15 677.22h5.87v5.87h-5.87zM118.26 677.22h5.87v5.87h-5.87zM123.63 677.22h5.87v5.87h-5.87zM86.04 682.59h5.87v5.87h-5.87zM96.78 682.59h5.87v5.87h-5.87zM107.52 682.59h5.87v5.87h-5.87zM123.63 682.59h5.87v5.87h-5.87zM134.37 682.59h5.87v5.87h-5.87zM75.3 687.96h5.87v5.87h-5.87zM112.89 687.96h5.87v5.87h-5.87zM123.63 687.96h5.87v5.87h-5.87zM86.04 693.33h5.87v5.87h-5.87zM96.78 693.33h5.87v5.87h-5.87zM102.15 693.33h5.87v5.87h-5.87zM64.56 698.7h5.87v5.87h-5.87zM107.52 704.07h5.87v5.87h-5.87zM26.97 709.44h5.87v5.87h-5.87zM32.34 709.44h5.87v5.87h-5.87zM53.82 709.44h5.87v5.87h-5.87zM59.19 709.44h5.87v5.87h-5.87zM69.93 709.44h5.87v5.87h-5.87zM26.97 720.18h5.87v5.87h-5.87zM59.19 720.18h5.87v5.87h-5.87zM69.93 720.18h5.87v5.87h-5.87zM134.37 720.18h5.87v5.87h-5.87zM139.74 720.18h5.37v5.87h-5.37zM32.34 725.55h5.87v5.87h-5.87zM43.08 725.55h5.87v5.87h-5.87zM53.82 725.55h5.87v5.87h-5.87zM69.93 725.55h5.87v5.87h-5.87zM21.6 730.92h5.87v5.87h-5.87zM26.97 730.92h5.87v5.87h-5.87zM43.08 730.92h5.87v5.87h-5.87zM48.45 730.92h5.87v5.87h-5.87zM59.19 730.92h5.87v5.87h-5.87zM80.67 730.92h5.87v5.87h-5.87zM134.37 730.92h5.87v5.87h-5.87zM32.34 736.29h5.87v5.87h-5.87zM37.71 736.29h5.87v5.87h-5.87zM64.56 736.29h5.87v5.87h-5.87zM53.82 741.66h5.87v5.87h-5.87zM53.82 747.03h5.87v5.87h-5.87zM59.19 747.03h5.87v5.87h-5.87zM64.56 747.03h5.87v5.87h-5.87zM32.34 752.4h5.87v5.87h-5.87zM139.74 752.4h5.37v5.87h-5.37zM59.19 757.77h5.87v5.87h-5.87zM96.78 757.77h5.87v5.87h-5.87zM107.52 757.77h5.87v5.87h-5.87zM139.74 757.77h5.37v5.87h-5.37zM96.78 763.14h5.87v5.37h-5.87zM129 763.14h5.87v5.37h-5.87zM134.37 763.14h5.87v5.37h-5.87z"/>
<path fill="#21918c" d="M129 645h5.87v5.87h-5.87zM134.37 645h5.87v5.87h-5.87zM107.52 661.11h5.87v5.87h-5.87zM118.26 661.11h5.87v5.87h-5.87zM118.26 687.96h5.87v5.87h-5.87zM134.37 698.7h5.87v5.87h-5.87zM96.78 704.07h5.87v5.87h-5.87zM80.67 720.18h5.87v5.87h-5.87zM37.71 730.92h5.87v5.87h-5.87zM37.71 741.66h5.87v5.87h-5.87zM64.56 741.66h5.87v5.87h-5.87zM21.6 752.4h5.87v5.87h-5.87zM21.6 757.77h5.87v5.87h-5.87zM75.3 757.77h5.87v5.87h-5.87z"/>
<path fill="#287e8e" d="M139.74 645h5.37v5.87h-5.37zM91.41 661.11h5.87v5.87h-5.87zM139.74 682.59h5.37v5.87h-5.37zM129 709.44h5.87v5.87h-5.87zM37.71 714.81h5.87v5.87h-5.87zM86.04 752.4h5.87v5.87h-5.87zM21.6 763.14h5.87v5.37h-5.87zM59.19 763.14h5.87v5.37h-5.87z"/>
<path fill="#acdc31" d="M37.71 650.37h5.87v5.87h-5.87zM26.97 661.11h5.87v5.87h-5.87z"/>
<path fill="#9cd83c" d="M43.08 650.37h5.87v5.87h-5.87zM26.97 666.48h5.87v5.87h-5.87z"/>
<path fill="#8bd446" d="M53.82 650.37h5.87v5.87h-5.87zM37.71 655.74h5.87v5.87h-5.87zM43.08 655.74h5.87v5.87h-5.87zM53.82 655.74h5.87v5.87h-5.87zM32.34 661.11h5.87v5.87h-5.87zM32.34 666.48h5.87v5.87h-5.87zM80.67 671.85h5.87v5.87h-5.87zM26.97 677.22h5.87v5.87h-5.87zM32.34 677.22h5.87v5.87h-5.87zM48.45 704.07h5.87v5.87h-5.87z"/>
<path fill="#6ccc59" d="M80.67 650.37h5.87v5.87h-5.87zM64.56 661.11h5.87v5.87h-5.87zM48.45 666.48h5.87v5.87h-5.87zM43.08 671.85h5.87v5.87h-5.87zM75.3 671.85h5.87v5.87h-5.87zM75.3 682.59h5.87v5.87h-5.87zM37.71 687.96h5.87v5.87h-5.87zM80.67 693.33h5.87v5.87h-5.87zM48.45 698.7h5.87v5.87h-5.87zM59.19 698.7h5.87v5.87h-5.87zM26.97 704.07h5.87v5.87h-5.87zM69.93 704.07h5.87v5.87h-5.87z"/>
<path fill="#2a788e" d="M91.41 650.37h5.87v5.87h-5.87zM139.74 661.11h5.37v5.87h-5.37zM139.74 671.85h5.37v5.87h-5.37zM91.41 677.22h5.87v5.87h-5.87zM139.74 677.22h5.37v5.87h-5.37zM139.74 687.96h5.37v5.87h-5.37zM107.52 709.44h5.87v5.87h-5.87zM112.89 709.44h5.87v5.87h-5.87zM118.26 709.44h5.87v5.87h-5.87zM123.63 709.44h5.87v5.87h-5.87zM139.74 709.44h5.37v5.87h-5.37zM26.97 714.81h5.87v5.87h-5.87zM53.82 714.81h5.87v5.87h-5.87zM86.04 730.92h5.87v5.87h-5.87zM86.04 736.29h5.87v5.87h-5.87zM86.04 741.66h5.87v5.87h-5.87zM86.04 747.03h5.87v5.87h-5.87zM37.71 763.14h5.87v5.37h-5.87zM48.45 763.14h5.87v5.37h-5.87zM53.82 763.14h5.87v5.37h-5.87zM64.56 763.14h5.87v5.37h-5.87zM86.04 763.14h5.87v5.37h-5.87z"/>
<path fill="#2d728e" d="M139.74 650.37h5.37v5.87h-5.37zM91.41 655.74h5.87v5.87h-5.87zM139.74 655.74h5.37v5.87h-5.37zM139.74 666.48h5.37v5.87h-5.37zM91.41 671.85h5.87v5.87h-5.87zM91.41 698.7h5.87v5.87h-5.87zM102.15 709.44h5.87v5.87h-5.87zM32.34 714.81h5.87v5.87h-5.87zM48.45 714.81h5.87v5.87h-5.87zM75.3 714.81h5.87v5.87h-5.87zM86.04 725.55h5.87v5.87h-5.87zM26.97 763.14h5.87v5.37h-5.87zM32.34 763.14h5.87v5.37h-5.87zM43.08 763.14h5.87v5.37h-5.87z"/>
<path fill="#fde725" d="M53.82 671.85h5.87v5.87h-5.87zM48.45 677.22h5.87v5.87h-5.87zM107.52 725.55h5.87v5.87h-5.87zM102.15 730.92h5.87v5.87h-5.87z"/>
<path fill="#dde326" d="M59.19 671.85h5.87v5.87h-5.87zM64.56 671.85h5.87v5.87h-5.87zM64.56 677.22h5.87v5.87h-5.87zM48.45 682.59h5.87v5.87h-5.87zM48.45 687.96h5.87v5.87h-5.87zM53.82 687.96h5.87v5.87h-5.87zM118.26 736.29h5.87v5.87h-5.87zM112.89 741.66h5.87v5.87h-5.87z"/>
<path fill="#cde126" d="M69.93 671.85h5.87v5.87h-5.87zM59.19 677.22h5.87v5.87h-5.87zM53.82 682.59h5.87v5.87h-5.87zM64.56 682.59h5.87v5.87h-5.87zM59.19 687.96h5.87v5.87h-5.87zM48.45 693.33h5.87v5.87h-5.87zM112.89 730.92h5.87v5.87h-5.87zM107.52 736.29h5.87v5.87h-5.87z"/>
<path fill="#ede525" d="M69.93 677.22h5.87v5.87h-5.87zM69.93 682.59h5.87v5.87h-5.87zM53.82 693.33h5.87v5.87h-5.87zM59.19 693.33h5.87v5.87h-5.87z"/>
<path fill="#32658d" d="M91.41 682.59h5.87v5.87h-5.87zM91.41 693.33h5.87v5.87h-5.87zM91.41 704.07h5.87v5.87h-5.87zM139.74 704.07h5.37v5.87h-5.37zM91.41 709.44h5.87v5.87h-5.87zM59.19 714.81h5.87v5.87h-5.87zM69.93 714.81h5.87v5.87h-5.87zM80.67 714.81h5.87v5.87h-5.87zM86.04 714.81h5.87v5.87h-5.87zM80.67 763.14h5.87v5.37h-5.87z"/>
<path fill="#bddf26" d="M69.93 687.96h5.87v5.87h-5.87zM64.56 693.33h5.87v5.87h-5.87z"/>
<path fill="#355f8d" d="M91.41 687.96h5.87v5.87h-5.87zM134.37 709.44h5.87v5.87h-5.87zM64.56 714.81h5.87v5.87h-5.87zM86.04 757.77h5.87v5.87h-5.87z"/>
<path fill="#26848d" d="M139.74 693.33h5.37v5.87h-5.37zM139.74 698.7h5.37v5.87h-5.37zM96.78 709.44h5.87v5.87h-5.87zM86.04 720.18h5.87v5.87h-5.87zM69.93 763.14h5.87v5.37h-5.87zM75.3 763.14h5.87v5.37h-5.87z"/>
<rect x="22.1" y="645.5" width="69.81" height="69.81" fill="none" stroke="#111" stroke-width="1.2" stroke-dasharray="2.1 1.2"/>
<rect x="21.6" y="637.8" width="16.11" height="3.7" fill="#f8704e"/>
<rect x="13.7" y="645" width="4.2" height="16.11" fill="#f8704e"/>
<rect x="37.71" y="637.8" width="5.37" height="3.7" fill="#000"/>
<rect x="13.7" y="661.11" width="4.2" height="5.37" fill="#000"/>
<rect x="43.08" y="637.8" width="5.37" height="3.7" fill="#f8704e"/>
<rect x="13.7" y="666.48" width="4.2" height="5.37" fill="#f8704e"/>
<rect x="48.45" y="637.8" width="5.37" height="3.7" fill="#000"/>
<rect x="13.7" y="671.85" width="4.2" height="5.37" fill="#000"/>
<rect x="53.82" y="637.8" width="16.11" height="3.7" fill="#f8704e"/>
<rect x="13.7" y="677.22" width="4.2" height="16.11" fill="#f8704e"/>
<rect x="69.93" y="637.8" width="10.74" height="3.7" fill="#000"/>
<rect x="13.7" y="693.33" width="4.2" height="10.74" fill="#000"/>
<rect x="80.67" y="637.8" width="5.37" height="3.7" fill="#f8704e"/>
<rect x="13.7" y="704.07" width="4.2" height="5.37" fill="#f8704e"/>
<rect x="86.04" y="637.8" width="59.07" height="3.7" fill="#000"/>
<rect x="13.7" y="709.44" width="4.2" height="59.07" fill="#000"/>
<rect x="150.2" y="645" width="4.2" height="123.51" fill="url(#vircb)"/>
<text x="156.9" y="649.5" font-size="8.2">0.9</text>
<text x="156.9" y="769.01" font-size="8.2">0</text>
<rect x="21.6" y="786.1" width="123.51" height="123.51" fill="#238b8d"/>
<path fill="#440154" d="M21.6 786.1h5.87v5.87h-5.87zM26.97 791.47h5.87v5.87h-5.87zM32.34 796.84h5.87v5.87h-5.87zM37.71 802.21h5.87v5.87h-5.87zM43.08 807.58h5.87v5.87h-5.87zM48.45 812.95h5.87v5.87h-5.87zM53.82 818.32h5.87v5.87h-5.87zM59.19 823.69h5.87v5.87h-5.87zM64.56 829.06h5.87v5.87h-5.87zM69.93 834.43h5.87v5.87h-5.87zM75.3 839.8h5.87v5.87h-5.87zM80.67 845.17h5.87v5.87h-5.87zM86.04 850.54h5.87v5.87h-5.87zM91.41 855.91h5.87v5.87h-5.87zM96.78 861.28h5.87v5.87h-5.87zM102.15 866.65h5.87v5.87h-5.87zM107.52 872.02h5.87v5.87h-5.87zM112.89 877.39h5.87v5.87h-5.87zM118.26 882.76h5.87v5.87h-5.87zM123.63 888.13h5.87v5.87h-5.87zM129 893.5h5.87v5.87h-5.87zM134.37 898.87h5.87v5.87h-5.87zM139.74 904.24h5.37v5.37h-5.37z"/>
<path fill="#acdc31" d="M26.97 786.1h5.87v5.87h-5.87zM21.6 791.47h5.87v5.87h-5.87zM48.45 802.21h5.87v5.87h-5.87zM37.71 812.95h5.87v5.87h-5.87z"/>
<path fill="#8bd446" d="M32.34 786.1h5.87v5.87h-5.87zM37.71 791.47h5.87v5.87h-5.87zM21.6 796.84h5.87v5.87h-5.87zM26.97 802.21h5.87v5.87h-5.87z"/>
<path fill="#44bf70" d="M37.71 786.1h5.87v5.87h-5.87zM53.82 796.84h5.87v5.87h-5.87zM21.6 802.21h5.87v5.87h-5.87zM32.34 818.32h5.87v5.87h-5.87z"/>
<path fill="#5fc860" d="M43.08 786.1h5.87v5.87h-5.87zM48.45 786.1h5.87v5.87h-5.87zM53.82 786.1h5.87v5.87h-5.87zM21.6 807.58h5.87v5.87h-5.87zM21.6 812.95h5.87v5.87h-5.87zM21.6 818.32h5.87v5.87h-5.87z"/>
<path fill="#3cb975" d="M59.19 786.1h5.87v5.87h-5.87zM64.56 791.47h5.87v5.87h-5.87zM21.6 823.69h5.87v5.87h-5.87zM26.97 829.06h5.87v5.87h-5.87zM118.26 850.54h5.87v5.87h-5.87zM112.89 861.28h5.87v5.87h-5.87zM96.78 877.39h5.87v5.87h-5.87zM86.04 882.76h5.87v5.87h-5.87z"/>
<path fill="#22a884" d="M64.56 786.1h5.87v5.87h-5.87zM59.19 791.47h5.87v5.87h-5.87zM64.56 796.84h5.87v5.87h-5.87zM91.41 796.84h5.87v5.87h-5.87zM59.19 807.58h5.87v5.87h-5.87zM102.15 807.58h5.87v5.87h-5.87zM26.97 823.69h5.87v5.87h-5.87zM43.08 823.69h5.87v5.87h-5.87zM21.6 829.06h5.87v5.87h-5.87zM32.34 829.06h5.87v5.87h-5.87zM102.15 850.54h5.87v5.87h-5.87zM112.89 850.54h5.87v5.87h-5.87zM32.34 855.91h5.87v5.87h-5.87zM96.78 855.91h5.87v5.87h-5.87zM118.26 855.91h5.87v5.87h-5.87zM91.41 861.28h5.87v5.87h-5.87zM118.26 861.28h5.87v5.87h-5.87zM43.08 866.65h5.87v5.87h-5.87zM86.04 866.65h5.87v5.87h-5.87zM86.04 877.39h5.87v5.87h-5.87zM91.41 882.76h5.87v5.87h-5.87zM96.78 882.76h5.87v5.87h-5.87z"/>
<path fill="#22a286" d="M69.93 786.1h5.87v5.87h-5.87zM112.89 796.84h5.87v5.87h-5.87zM75.3 807.58h5.87v5.87h-5.87zM107.52 807.58h5.87v5.87h-5.87zM64.56 818.32h5.87v5.87h-5.87zM80.67 818.32h5.87v5.87h-5.87zM53.82 829.06h5.87v5.87h-5.87zM75.3 829.06h5.87v5.87h-5.87zM102.15 829.06h5.87v5.87h-5.87zM21.6 834.43h5.87v5.87h-5.87zM43.08 839.8h5.87v5.87h-5.87zM64.56 839.8h5.87v5.87h-5.87zM80.67 839.8h5.87v5.87h-5.87zM53.82 845.17h5.87v5.87h-5.87zM75.3 845.17h5.87v5.87h-5.87zM91.41 850.54h5.87v5.87h-5.87zM86.04 855.91h5.87v5.87h-5.87zM107.52 855.91h5.87v5.87h-5.87zM64.56 866.65h5.87v5.87h-5.87zM43.08 872.02h5.87v5.87h-5.87zM91.41 872.02h5.87v5.87h-5.87zM32.34 877.39h5.87v5.87h-5.87z"/>
<path fill="#238b8c" d="M75.3 786.1h5.87v5.87h-5.87zM107.52 786.1h5.87v5.87h-5.87zM80.67 791.47h5.87v5.87h-5.87zM96.78 796.84h5.87v5.87h-5.87zM118.26 802.21h5.87v5.87h-5.87zM112.89 812.95h5.87v5.87h-5.87zM69.93 823.69h5.87v5.87h-5.87zM107.52 823.69h5.87v5.87h-5.87zM96.78 829.06h5.87v5.87h-5.87zM59.19 834.43h5.87v5.87h-5.87zM75.3 834.43h5.87v5.87h-5.87zM102.15 834.43h5.87v5.87h-5.87zM21.6 839.8h5.87v5.87h-5.87zM69.93 839.8h5.87v5.87h-5.87zM91.41 839.8h5.87v5.87h-5.87zM26.97 845.17h5.87v5.87h-5.87zM75.3 855.91h5.87v5.87h-5.87zM123.63 855.91h5.87v5.87h-5.87zM32.34 861.28h5.87v5.87h-5.87zM64.56 861.28h5.87v5.87h-5.87zM69.93 866.65h5.87v5.87h-5.87zM123.63 866.65h5.87v5.87h-5.87zM134.37 866.65h5.87v5.87h-5.87zM21.6 872.02h5.87v5.87h-5.87zM59.19 872.02h5.87v5.87h-5.87zM118.26 872.02h5.87v5.87h-5.87zM48.45 877.39h5.87v5.87h-5.87zM37.71 882.76h5.87v5.87h-5.87zM107.52 882.76h5.87v5.87h-5.87zM91.41 888.13h5.87v5.87h-5.87zM102.15 888.13h5.87v5.87h-5.87zM102.15 898.87h5.87v5.87h-5.87z"/>
<path fill="#26848d" d="M80.67 786.1h5.87v5.87h-5.87zM118.26 796.84h5.87v5.87h-5.87zM80.67 807.58h5.87v5.87h-5.87zM91.41 823.69h5.87v5.87h-5.87zM118.26 839.8h5.87v5.87h-5.87zM21.6 845.17h5.87v5.87h-5.87zM43.08 845.17h5.87v5.87h-5.87zM129 850.54h5.87v5.87h-5.87zM59.19 855.91h5.87v5.87h-5.87zM139.74 861.28h5.37v5.87h-5.37zM129 866.65h5.87v5.87h-5.87zM129 872.02h5.87v5.87h-5.87zM32.34 882.76h5.87v5.87h-5.87zM75.3 882.76h5.87v5.87h-5.87zM86.04 893.5h5.87v5.87h-5.87zM102.15 893.5h5.87v5.87h-5.87zM107.52 893.5h5.87v5.87h-5.87zM96.78 904.24h5.87v5.37h-5.87z"/>
<path fill="#38588c" d="M86.04 786.1h5.87v5.87h-5.87zM129 823.69h5.87v5.87h-5.87zM123.63 834.43h5.87v5.87h-5.87zM123.63 839.8h5.87v5.87h-5.87zM86.04 845.17h5.87v5.87h-5.87zM102.15 845.17h5.87v5.87h-5.87zM107.52 845.17h5.87v5.87h-5.87zM112.89 845.17h5.87v5.87h-5.87zM21.6 850.54h5.87v5.87h-5.87zM80.67 850.54h5.87v5.87h-5.87zM80.67 866.65h5.87v5.87h-5.87zM80.67 872.02h5.87v5.87h-5.87zM80.67 877.39h5.87v5.87h-5.87zM69.93 888.13h5.87v5.87h-5.87zM75.3 888.13h5.87v5.87h-5.87zM59.19 893.5h5.87v5.87h-5.87z"/>
<path fill="#229c88" d="M91.41 786.1h5.87v5.87h-5.87zM96.78 791.47h5.87v5.87h-5.87zM75.3 796.84h5.87v5.87h-5.87zM107.52 796.84h5.87v5.87h-5.87zM69.93 802.21h5.87v5.87h-5.87zM102.15 802.21h5.87v5.87h-5.87zM91.41 807.58h5.87v5.87h-5.87zM64.56 812.95h5.87v5.87h-5.87zM91.41 812.95h5.87v5.87h-5.87zM107.52 812.95h5.87v5.87h-5.87zM118.26 812.95h5.87v5.87h-5.87zM69.93 818.32h5.87v5.87h-5.87zM118.26 823.69h5.87v5.87h-5.87zM48.45 829.06h5.87v5.87h-5.87zM91.41 829.06h5.87v5.87h-5.87zM37.71 834.43h5.87v5.87h-5.87zM53.82 834.43h5.87v5.87h-5.87zM107.52 834.43h5.87v5.87h-5.87zM32.34 839.8h5.87v5.87h-5.87zM107.52 850.54h5.87v5.87h-5.87zM21.6 855.91h5.87v5.87h-5.87zM43.08 855.91h5.87v5.87h-5.87zM48.45 855.91h5.87v5.87h-5.87zM64.56 855.91h5.87v5.87h-5.87zM26.97 861.28h5.87v5.87h-5.87zM37.71 866.65h5.87v5.87h-5.87zM32.34 872.02h5.87v5.87h-5.87zM48.45 872.02h5.87v5.87h-5.87zM69.93 872.02h5.87v5.87h-5.87zM86.04 872.02h5.87v5.87h-5.87zM48.45 882.76h5.87v5.87h-5.87zM59.19 882.76h5.87v5.87h-5.87z"/>
<path fill="#21918c" d="M96.78 786.1h5.87v5.87h-5.87zM102.15 786.1h5.87v5.87h-5.87zM75.3 791.47h5.87v5.87h-5.87zM91.41 791.47h5.87v5.87h-5.87zM102.15 791.47h5.87v5.87h-5.87zM107.52 791.47h5.87v5.87h-5.87zM69.93 796.84h5.87v5.87h-5.87zM102.15 796.84h5.87v5.87h-5.87zM75.3 802.21h5.87v5.87h-5.87zM112.89 802.21h5.87v5.87h-5.87zM69.93 807.58h5.87v5.87h-5.87zM69.93 812.95h5.87v5.87h-5.87zM75.3 812.95h5.87v5.87h-5.87zM91.41 818.32h5.87v5.87h-5.87zM107.52 818.32h5.87v5.87h-5.87zM80.67 823.69h5.87v5.87h-5.87zM102.15 823.69h5.87v5.87h-5.87zM112.89 823.69h5.87v5.87h-5.87zM80.67 829.06h5.87v5.87h-5.87zM32.34 834.43h5.87v5.87h-5.87zM43.08 834.43h5.87v5.87h-5.87zM48.45 834.43h5.87v5.87h-5.87zM80.67 834.43h5.87v5.87h-5.87zM118.26 834.43h5.87v5.87h-5.87zM26.97 839.8h5.87v5.87h-5.87zM37.71 839.8h5.87v5.87h-5.87zM48.45 839.8h5.87v5.87h-5.87zM112.89 839.8h5.87v5.87h-5.87zM59.19 845.17h5.87v5.87h-5.87zM64.56 845.17h5.87v5.87h-5.87zM69.93 845.17h5.87v5.87h-5.87zM139.74 850.54h5.37v5.87h-5.37zM26.97 855.91h5.87v5.87h-5.87zM53.82 855.91h5.87v5.87h-5.87zM112.89 855.91h5.87v5.87h-5.87zM21.6 861.28h5.87v5.87h-5.87zM21.6 866.65h5.87v5.87h-5.87zM26.97 866.65h5.87v5.87h-5.87zM32.34 866.65h5.87v5.87h-5.87zM59.19 866.65h5.87v5.87h-5.87zM26.97 872.02h5.87v5.87h-5.87zM53.82 872.02h5.87v5.87h-5.87zM112.89 872.02h5.87v5.87h-5.87zM37.71 877.39h5.87v5.87h-5.87zM59.19 877.39h5.87v5.87h-5.87zM75.3 877.39h5.87v5.87h-5.87zM91.41 877.39h5.87v5.87h-5.87zM107.52 877.39h5.87v5.87h-5.87zM118.26 877.39h5.87v5.87h-5.87zM69.93 882.76h5.87v5.87h-5.87zM112.89 882.76h5.87v5.87h-5.87zM86.04 904.24h5.87v5.37h-5.87z"/>
<path fill="#287e8e" d="M112.89 786.1h5.87v5.87h-5.87zM107.52 829.06h5.87v5.87h-5.87zM96.78 850.54h5.87v5.87h-5.87zM86.04 861.28h5.87v5.87h-5.87zM139.74 866.65h5.37v5.87h-5.37zM64.56 872.02h5.87v5.87h-5.87zM21.6 877.39h5.87v5.87h-5.87zM139.74 877.39h5.37v5.87h-5.37zM129 882.76h5.87v5.87h-5.87zM139.74 882.76h5.37v5.87h-5.37zM118.26 893.5h5.87v5.87h-5.87zM102.15 904.24h5.87v5.37h-5.87zM112.89 904.24h5.87v5.37h-5.87zM118.26 904.24h5.87v5.37h-5.87z"/>
<path fill="#21978a" d="M118.26 786.1h5.87v5.87h-5.87zM112.89 791.47h5.87v5.87h-5.87zM118.26 791.47h5.87v5.87h-5.87zM80.67 796.84h5.87v5.87h-5.87zM64.56 802.21h5.87v5.87h-5.87zM80.67 802.21h5.87v5.87h-5.87zM91.41 802.21h5.87v5.87h-5.87zM96.78 802.21h5.87v5.87h-5.87zM107.52 802.21h5.87v5.87h-5.87zM96.78 807.58h5.87v5.87h-5.87zM118.26 807.58h5.87v5.87h-5.87zM80.67 812.95h5.87v5.87h-5.87zM96.78 812.95h5.87v5.87h-5.87zM102.15 812.95h5.87v5.87h-5.87zM96.78 818.32h5.87v5.87h-5.87zM102.15 818.32h5.87v5.87h-5.87zM112.89 818.32h5.87v5.87h-5.87zM118.26 818.32h5.87v5.87h-5.87zM75.3 823.69h5.87v5.87h-5.87zM96.78 823.69h5.87v5.87h-5.87zM37.71 829.06h5.87v5.87h-5.87zM112.89 829.06h5.87v5.87h-5.87zM118.26 829.06h5.87v5.87h-5.87zM91.41 834.43h5.87v5.87h-5.87zM96.78 834.43h5.87v5.87h-5.87zM112.89 834.43h5.87v5.87h-5.87zM59.19 839.8h5.87v5.87h-5.87zM96.78 839.8h5.87v5.87h-5.87zM102.15 839.8h5.87v5.87h-5.87zM107.52 839.8h5.87v5.87h-5.87zM32.34 845.17h5.87v5.87h-5.87zM37.71 845.17h5.87v5.87h-5.87zM48.45 845.17h5.87v5.87h-5.87zM37.71 855.91h5.87v5.87h-5.87zM69.93 855.91h5.87v5.87h-5.87zM37.71 861.28h5.87v5.87h-5.87zM43.08 861.28h5.87v5.87h-5.87zM48.45 861.28h5.87v5.87h-5.87zM53.82 861.28h5.87v5.87h-5.87zM59.19 861.28h5.87v5.87h-5.87zM69.93 861.28h5.87v5.87h-5.87zM75.3 861.28h5.87v5.87h-5.87zM134.37 861.28h5.87v5.87h-5.87zM48.45 866.65h5.87v5.87h-5.87zM53.82 866.65h5.87v5.87h-5.87zM75.3 866.65h5.87v5.87h-5.87zM112.89 866.65h5.87v5.87h-5.87zM118.26 866.65h5.87v5.87h-5.87zM37.71 872.02h5.87v5.87h-5.87zM75.3 872.02h5.87v5.87h-5.87zM26.97 877.39h5.87v5.87h-5.87zM53.82 877.39h5.87v5.87h-5.87zM64.56 877.39h5.87v5.87h-5.87zM69.93 877.39h5.87v5.87h-5.87zM102.15 877.39h5.87v5.87h-5.87zM21.6 882.76h5.87v5.87h-5.87zM26.97 882.76h5.87v5.87h-5.87zM43.08 882.76h5.87v5.87h-5.87zM53.82 882.76h5.87v5.87h-5.87zM64.56 882.76h5.87v5.87h-5.87zM102.15 882.76h5.87v5.87h-5.87zM96.78 898.87h5.87v5.87h-5.87zM139.74 898.87h5.37v5.87h-5.37zM134.37 904.24h5.87v5.37h-5.87z"/>
<path fill="#3b528a" d="M123.63 786.1h5.87v5.87h-5.87zM139.74 786.1h5.37v5.87h-5.37zM134.37 791.47h5.87v5.87h-5.87zM86.04 796.84h5.87v5.87h-5.87zM123.63 802.21h5.87v5.87h-5.87zM139.74 802.21h5.37v5.87h-5.37zM129 807.58h5.87v5.87h-5.87zM123.63 829.06h5.87v5.87h-5.87zM134.37 834.43h5.87v5.87h-5.87zM139.74 839.8h5.37v5.87h-5.37zM32.34 850.54h5.87v5.87h-5.87zM21.6 888.13h5.87v5.87h-5.87zM37.71 888.13h5.87v5.87h-5.87zM64.56 888.13h5.87v5.87h-5.87zM43.08 893.5h5.87v5.87h-5.87zM26.97 898.87h5.87v5.87h-5.87zM69.93 898.87h5.87v5.87h-5.87zM21.6 904.24h5.87v5.37h-5.87zM37.71 904.24h5.87v5.37h-5.87zM75.3 904.24h5.87v5.37h-5.87z"/>
<path fill="#3e4b88" d="M129 786.1h5.87v5.87h-5.87zM123.63 791.47h5.87v5.87h-5.87zM129 802.21h5.87v5.87h-5.87zM86.04 812.95h5.87v5.87h-5.87zM123.63 812.95h5.87v5.87h-5.87zM134.37 812.95h5.87v5.87h-5.87zM139.74 812.95h5.37v5.87h-5.37zM123.63 818.32h5.87v5.87h-5.87zM129 818.32h5.87v5.87h-5.87zM139.74 818.32h5.37v5.87h-5.37zM134.37 823.69h5.87v5.87h-5.87zM129 829.06h5.87v5.87h-5.87zM139.74 829.06h5.37v5.87h-5.37zM139.74 834.43h5.37v5.87h-5.37zM129 839.8h5.87v5.87h-5.87zM48.45 850.54h5.87v5.87h-5.87zM26.97 888.13h5.87v5.87h-5.87zM48.45 888.13h5.87v5.87h-5.87zM53.82 888.13h5.87v5.87h-5.87zM21.6 893.5h5.87v5.87h-5.87zM37.71 893.5h5.87v5.87h-5.87zM53.82 893.5h5.87v5.87h-5.87zM64.56 893.5h5.87v5.87h-5.87zM75.3 893.5h5.87v5.87h-5.87zM48.45 898.87h5.87v5.87h-5.87zM59.19 898.87h5.87v5.87h-5.87zM48.45 904.24h5.87v5.37h-5.87zM53.82 904.24h5.87v5.37h-5.87zM64.56 904.24h5.87v5.37h-5.87zM69.93 904.24h5.87v5.37h-5.87z"/>
<path fill="#433c82" d="M134.37 786.1h5.87v5.87h-5.87zM139.74 791.47h5.37v5.87h-5.37zM129 796.84h5.87v5.87h-5.87zM134.37 796.84h5.87v5.87h-5.87zM134.37 807.58h5.87v5.87h-5.87zM32.34 893.5h5.87v5.87h-5.87zM21.6 898.87h5.87v5.87h-5.87zM32.34 898.87h5.87v5.87h-5.87zM43.08 898.87h5.87v5.87h-5.87zM26.97 904.24h5.87v5.37h-5.87z"/>
<path fill="#bddf26" d="M32.34 791.47h5.87v5.87h-5.87zM26.97 796.84h5.87v5.87h-5.87zM53.82 812.95h5.87v5.87h-5.87zM48.45 818.32h5.87v5.87h-5.87z"/>
<path fill="#6ccc59" d="M43.08 791.47h5.87v5.87h-5.87zM26.97 807.58h5.87v5.87h-5.87zM107.52 861.28h5.87v5.87h-5.87zM96.78 872.02h5.87v5.87h-5.87z"/>
<path fill="#2aae7f" d="M48.45 791.47h5.87v5.87h-5.87zM53.82 791.47h5.87v5.87h-5.87zM69.93 791.47h5.87v5.87h-5.87zM26.97 812.95h5.87v5.87h-5.87zM26.97 818.32h5.87v5.87h-5.87zM26.97 834.43h5.87v5.87h-5.87z"/>
<path fill="#306c8e" d="M86.04 791.47h5.87v5.87h-5.87zM86.04 839.8h5.87v5.87h-5.87zM129 845.17h5.87v5.87h-5.87zM26.97 850.54h5.87v5.87h-5.87zM75.3 850.54h5.87v5.87h-5.87zM134.37 855.91h5.87v5.87h-5.87zM123.63 861.28h5.87v5.87h-5.87zM123.63 872.02h5.87v5.87h-5.87zM123.63 882.76h5.87v5.87h-5.87zM96.78 888.13h5.87v5.87h-5.87zM107.52 888.13h5.87v5.87h-5.87zM118.26 888.13h5.87v5.87h-5.87zM80.67 893.5h5.87v5.87h-5.87zM91.41 898.87h5.87v5.87h-5.87z"/>
<path fill="#414487" d="M129 791.47h5.87v5.87h-5.87zM123.63 796.84h5.87v5.87h-5.87zM139.74 796.84h5.37v5.87h-5.37zM134.37 839.8h5.87v5.87h-5.87zM32.34 888.13h5.87v5.87h-5.87zM26.97 893.5h5.87v5.87h-5.87zM75.3 898.87h5.87v5.87h-5.87zM32.34 904.24h5.87v5.37h-5.87z"/>
<path fill="#9cd83c" d="M37.71 796.84h5.87v5.87h-5.87zM32.34 802.21h5.87v5.87h-5.87zM43.08 802.21h5.87v5.87h-5.87zM37.71 807.58h5.87v5.87h-5.87z"/>
<path fill="#7ad151" d="M43.08 796.84h5.87v5.87h-5.87zM32.34 807.58h5.87v5.87h-5.87zM53.82 807.58h5.87v5.87h-5.87zM59.19 812.95h5.87v5.87h-5.87zM43.08 818.32h5.87v5.87h-5.87zM48.45 823.69h5.87v5.87h-5.87zM102.15 855.91h5.87v5.87h-5.87zM102.15 861.28h5.87v5.87h-5.87zM91.41 866.65h5.87v5.87h-5.87zM96.78 866.65h5.87v5.87h-5.87zM107.52 866.65h5.87v5.87h-5.87zM102.15 872.02h5.87v5.87h-5.87z"/>
<path fill="#52c468" d="M48.45 796.84h5.87v5.87h-5.87zM53.82 802.21h5.87v5.87h-5.87zM32.34 812.95h5.87v5.87h-5.87zM37.71 818.32h5.87v5.87h-5.87z"/>
<path fill="#33b47a" d="M59.19 796.84h5.87v5.87h-5.87zM59.19 802.21h5.87v5.87h-5.87zM64.56 807.58h5.87v5.87h-5.87zM32.34 823.69h5.87v5.87h-5.87zM37.71 823.69h5.87v5.87h-5.87zM43.08 829.06h5.87v5.87h-5.87z"/>
<path fill="#2d728e" d="M86.04 802.21h5.87v5.87h-5.87zM134.37 829.06h5.87v5.87h-5.87zM37.71 850.54h5.87v5.87h-5.87zM134.37 850.54h5.87v5.87h-5.87zM139.74 872.02h5.37v5.87h-5.37zM123.63 877.39h5.87v5.87h-5.87zM112.89 888.13h5.87v5.87h-5.87zM139.74 893.5h5.37v5.87h-5.37zM64.56 898.87h5.87v5.87h-5.87zM86.04 898.87h5.87v5.87h-5.87zM107.52 904.24h5.87v5.37h-5.87zM129 904.24h5.87v5.37h-5.87z"/>
<path fill="#462c7a" d="M134.37 802.21h5.87v5.87h-5.87zM37.71 898.87h5.87v5.87h-5.87z"/>
<path fill="#cde126" d="M48.45 807.58h5.87v5.87h-5.87zM43.08 812.95h5.87v5.87h-5.87z"/>
<path fill="#355f8d" d="M86.04 807.58h5.87v5.87h-5.87zM123.63 807.58h5.87v5.87h-5.87zM139.74 807.58h5.37v5.87h-5.37zM86.04 818.32h5.87v5.87h-5.87zM134.37 818.32h5.87v5.87h-5.87zM86.04 823.69h5.87v5.87h-5.87zM123.63 823.69h5.87v5.87h-5.87zM139.74 823.69h5.37v5.87h-5.37zM86.04 834.43h5.87v5.87h-5.87zM139.74 845.17h5.37v5.87h-5.37zM43.08 850.54h5.87v5.87h-5.87zM53.82 850.54h5.87v5.87h-5.87zM59.19 850.54h5.87v5.87h-5.87zM69.93 850.54h5.87v5.87h-5.87zM43.08 888.13h5.87v5.87h-5.87zM59.19 888.13h5.87v5.87h-5.87zM134.37 888.13h5.87v5.87h-5.87zM53.82 898.87h5.87v5.87h-5.87zM123.63 898.87h5.87v5.87h-5.87zM43.08 904.24h5.87v5.37h-5.87zM59.19 904.24h5.87v5.37h-5.87zM80.67 904.24h5.87v5.37h-5.87z"/>
<path fill="#2a788e" d="M112.89 807.58h5.87v5.87h-5.87zM75.3 818.32h5.87v5.87h-5.87zM69.93 829.06h5.87v5.87h-5.87zM64.56 834.43h5.87v5.87h-5.87zM53.82 839.8h5.87v5.87h-5.87zM123.63 850.54h5.87v5.87h-5.87zM129 855.91h5.87v5.87h-5.87zM129 861.28h5.87v5.87h-5.87zM134.37 872.02h5.87v5.87h-5.87zM43.08 877.39h5.87v5.87h-5.87zM134.37 877.39h5.87v5.87h-5.87zM134.37 882.76h5.87v5.87h-5.87zM86.04 888.13h5.87v5.87h-5.87zM129 888.13h5.87v5.87h-5.87zM139.74 888.13h5.37v5.87h-5.37zM91.41 893.5h5.87v5.87h-5.87zM96.78 893.5h5.87v5.87h-5.87zM123.63 893.5h5.87v5.87h-5.87zM107.52 898.87h5.87v5.87h-5.87zM112.89 898.87h5.87v5.87h-5.87zM118.26 898.87h5.87v5.87h-5.87zM123.63 904.24h5.87v5.37h-5.87z"/>
<path fill="#44347e" d="M129 812.95h5.87v5.87h-5.87zM129 834.43h5.87v5.87h-5.87zM48.45 893.5h5.87v5.87h-5.87zM69.93 893.5h5.87v5.87h-5.87z"/>
<path fill="#fde725" d="M59.19 818.32h5.87v5.87h-5.87zM53.82 823.69h5.87v5.87h-5.87zM64.56 823.69h5.87v5.87h-5.87zM59.19 829.06h5.87v5.87h-5.87z"/>
<path fill="#32658d" d="M86.04 829.06h5.87v5.87h-5.87zM91.41 845.17h5.87v5.87h-5.87zM96.78 845.17h5.87v5.87h-5.87zM118.26 845.17h5.87v5.87h-5.87zM123.63 845.17h5.87v5.87h-5.87zM134.37 845.17h5.87v5.87h-5.87zM64.56 850.54h5.87v5.87h-5.87zM80.67 855.91h5.87v5.87h-5.87zM139.74 855.91h5.37v5.87h-5.37zM80.67 861.28h5.87v5.87h-5.87zM129 877.39h5.87v5.87h-5.87zM80.67 882.76h5.87v5.87h-5.87zM80.67 888.13h5.87v5.87h-5.87zM112.89 893.5h5.87v5.87h-5.87zM80.67 898.87h5.87v5.87h-5.87zM91.41 904.24h5.87v5.37h-5.87z"/>
<path fill="#dde326" d="M134.37 893.5h5.87v5.87h-5.87zM129 898.87h5.87v5.87h-5.87z"/>
<rect x="22.1" y="786.6" width="64.44" height="64.44" fill="none" stroke="#111" stroke-width="1.2" stroke-dasharray="2.1 1.2"/>
<rect x="21.6" y="778.9" width="5.37" height="3.7" fill="#f8704e"/>
<rect x="13.7" y="786.1" width="4.2" height="5.37" fill="#f8704e"/>
<rect x="26.97" y="778.9" width="10.74" height="3.7" fill="#000"/>
<rect x="13.7" y="791.47" width="4.2" height="10.74" fill="#000"/>
<rect x="37.71" y="778.9" width="26.85" height="3.7" fill="#f8704e"/>
<rect x="13.7" y="802.21" width="4.2" height="26.85" fill="#f8704e"/>
<rect x="64.56" y="778.9" width="10.74" height="3.7" fill="#000"/>
<rect x="13.7" y="829.06" width="4.2" height="10.74" fill="#000"/>
<rect x="75.3" y="778.9" width="5.37" height="3.7" fill="#f8704e"/>
<rect x="13.7" y="839.8" width="4.2" height="5.37" fill="#f8704e"/>
<rect x="80.67" y="778.9" width="5.37" height="3.7" fill="#000"/>
<rect x="13.7" y="845.17" width="4.2" height="5.37" fill="#000"/>
<rect x="86.04" y="778.9" width="5.37" height="3.7" fill="#f8704e"/>
<rect x="13.7" y="850.54" width="4.2" height="5.37" fill="#f8704e"/>
<rect x="91.41" y="778.9" width="53.7" height="3.7" fill="#000"/>
<rect x="13.7" y="855.91" width="4.2" height="53.7" fill="#000"/>
<rect x="150.2" y="786.1" width="4.2" height="123.51" fill="url(#vircb)"/>
<text x="156.9" y="790.6" font-size="8.2">0.9</text>
<text x="156.9" y="910.11" font-size="8.2">0</text>
<text x="8.5" y="570.6" text-anchor="middle" font-style="italic" transform="rotate(-90 8.5 570.6)">G7f</text>
<text x="8.5" y="707" text-anchor="middle" transform="rotate(-90 8.5 707)">rACh</text>
<text x="8.5" y="847" text-anchor="middle" transform="rotate(-90 8.5 847)">r5-HT</text>
<path d="M214.6 511.8L292 549M215.1 545.8L207.7 575.6M178.6 570.6L217.6 595.7M178.6 570.6L219.6 619" stroke="#bde7d5" stroke-width="0.41" stroke-opacity="0.5" fill="none"/>
<path d="M214.6 511.8L238.2 507.8M214.6 511.8L178.6 570.6M214.6 511.8L207.7 575.6M214.6 511.8L219.6 619M238.2 507.8L192.3 527.2M238.2 507.8L215.1 545.8M238.2 507.8L178.6 570.6M238.2 507.8L232 570.6M238.2 507.8L269.7 567.6M261 511.8L242.6 528.4M261 511.8L178.6 570.6M261 511.8L269.7 567.6M261 511.8L292 580M192.3 527.2L215.1 545.8M192.3 527.2L178.6 570.6M192.3 527.2L232 570.6M192.3 527.2L269.7 567.6M242.6 528.4L207.7 575.6M242.6 528.4L217.6 595.7M242.6 528.4L219.6 619M242.6 528.4L252.3 621M279.9 524.7L269.7 567.6M215.1 545.8L269.7 567.6M215.1 545.8L219.6 619M270.4 542.8L178.6 570.6M270.4 542.8L219.6 619M248.1 554L178.6 570.6M178.6 570.6L232 570.6M178.6 570.6L253.6 592.9M178.6 570.6L279.1 604.1M178.6 570.6L197.2 607.8M292 580L252.3 621" stroke="#a8dfc8" stroke-width="0.43" stroke-opacity="0.54" fill="none"/>
<path d="M214.6 511.8L242.6 528.4M214.6 511.8L270.4 542.8M214.6 511.8L248.1 554M214.6 511.8L269.7 567.6M214.6 511.8L292 580M214.6 511.8L252.3 621M238.2 507.8L279.9 524.7M238.2 507.8L253.6 592.9M261 511.8L292 549M261 511.8L232 570.6M261 511.8L252.3 621M192.3 527.2L270.4 542.8M192.3 527.2L248.1 554M192.3 527.2L207.7 575.6M192.3 527.2L217.6 595.7M242.6 528.4L270.4 542.8M242.6 528.4L292 549M242.6 528.4L253.6 592.9M242.6 528.4L279.1 604.1M279.9 524.7L248.1 554M279.9 524.7L178.6 570.6M279.9 524.7L292 580M182.8 546.5L292 580M215.1 545.8L178.6 570.6M215.1 545.8L253.6 592.9M215.1 545.8L197.2 607.8M215.1 545.8L252.3 621M178.6 570.6L207.7 575.6M178.6 570.6L292 580M178.6 570.6L252.3 621" stroke="#94d7ba" stroke-width="0.47" stroke-opacity="0.59" fill="none"/>
<path d="M214.6 511.8L215.1 545.8M238.2 507.8L261 511.8M238.2 507.8L292 549M238.2 507.8L248.1 554M238.2 507.8L207.7 575.6M261 511.8L279.9 524.7M261 511.8L270.4 542.8M261 511.8L248.1 554M261 511.8L253.6 592.9M261 511.8L279.1 604.1M261 511.8L197.2 607.8M192.3 527.2L279.9 524.7M192.3 527.2L252.3 621M242.6 528.4L215.1 545.8M242.6 528.4L292 580M242.6 528.4L197.2 607.8M279.9 524.7L292 549M279.9 524.7L207.7 575.6M279.9 524.7L197.2 607.8M279.9 524.7L219.6 619M182.8 546.5L178.6 570.6M182.8 546.5L197.2 607.8M215.1 545.8L232 570.6M292 549L197.2 607.8M248.1 554L197.2 607.8M207.7 575.6L232 570.6M207.7 575.6L197.2 607.8M232 570.6L217.6 595.7M269.7 567.6L292 580" stroke="#7fcfad" stroke-width="0.52" stroke-opacity="0.63" fill="none"/>
<path d="M214.6 511.8L261 511.8M214.6 511.8L253.6 592.9M214.6 511.8L197.2 607.8M238.2 507.8L217.6 595.7M238.2 507.8L219.6 619M238.2 507.8L252.3 621M261 511.8L219.6 619M192.3 527.2L242.6 528.4M192.3 527.2L253.6 592.9M192.3 527.2L279.1 604.1M242.6 528.4L269.7 567.6M279.9 524.7L270.4 542.8M279.9 524.7L232 570.6M279.9 524.7L279.1 604.1M182.8 546.5L292 549M215.1 545.8L270.4 542.8M215.1 545.8L248.1 554M215.1 545.8L292 580M215.1 545.8L217.6 595.7M215.1 545.8L279.1 604.1M270.4 542.8L248.1 554M270.4 542.8L217.6 595.7M270.4 542.8L279.1 604.1M292 549L253.6 592.9M248.1 554L279.1 604.1M248.1 554L219.6 619M207.7 575.6L217.6 595.7M207.7 575.6L219.6 619M232 570.6L197.2 607.8M269.7 567.6L197.2 607.8M292 580L197.2 607.8" stroke="#6bc79f" stroke-width="0.59" stroke-opacity="0.68" fill="none"/>
<path d="M214.6 511.8L279.9 524.7M214.6 511.8L232 570.6M214.6 511.8L279.1 604.1M238.2 507.8L242.6 528.4M238.2 507.8L182.8 546.5M238.2 507.8L270.4 542.8M238.2 507.8L292 580M238.2 507.8L279.1 604.1M238.2 507.8L197.2 607.8M261 511.8L215.1 545.8M192.3 527.2L182.8 546.5M192.3 527.2L292 549M192.3 527.2L292 580M192.3 527.2L197.2 607.8M192.3 527.2L219.6 619M242.6 528.4L248.1 554M242.6 528.4L232 570.6M279.9 524.7L217.6 595.7M279.9 524.7L253.6 592.9M279.9 524.7L252.3 621M182.8 546.5L215.1 545.8M182.8 546.5L270.4 542.8M182.8 546.5L217.6 595.7M182.8 546.5L279.1 604.1M182.8 546.5L252.3 621M215.1 545.8L292 549M270.4 542.8L292 580M292 549L232 570.6M248.1 554L269.7 567.6M207.7 575.6L292 580M232 570.6L269.7 567.6M269.7 567.6L217.6 595.7M269.7 567.6L252.3 621M253.6 592.9L197.2 607.8" stroke="#59bb8e" stroke-width="0.68" stroke-opacity="0.73" fill="none"/>
<path d="M214.6 511.8L217.6 595.7M261 511.8L207.7 575.6M261 511.8L217.6 595.7M242.6 528.4L279.9 524.7M279.9 524.7L182.8 546.5M279.9 524.7L215.1 545.8M270.4 542.8L292 549M270.4 542.8L207.7 575.6M270.4 542.8L232 570.6M270.4 542.8L197.2 607.8M292 549L248.1 554M292 549L207.7 575.6M292 549L217.6 595.7M292 549L219.6 619M248.1 554L253.6 592.9M207.7 575.6L269.7 567.6M207.7 575.6L279.1 604.1M207.7 575.6L252.3 621M292 580L253.6 592.9M217.6 595.7L253.6 592.9M217.6 595.7L219.6 619" stroke="#48ae7d" stroke-width="0.77" stroke-opacity="0.77" fill="none"/>
<path d="M214.6 511.8L182.8 546.5M182.8 546.5L248.1 554M182.8 546.5L269.7 567.6M248.1 554L292 580M248.1 554L252.3 621M232 570.6L219.6 619M197.2 607.8L219.6 619" stroke="#36a26c" stroke-width="0.89" stroke-opacity="0.82" fill="none"/>
<path d="M182.8 546.5L207.7 575.6M270.4 542.8L252.3 621M248.1 554L207.7 575.6M248.1 554L232 570.6M207.7 575.6L253.6 592.9M292 580L217.6 595.7M292 580L219.6 619M217.6 595.7L197.2 607.8" stroke="#2a975e" stroke-width="1.02" stroke-opacity="0.86" fill="none"/>
<path d="M270.4 542.8L269.7 567.6M270.4 542.8L253.6 592.9M292 549L269.7 567.6M292 549L252.3 621M248.1 554L217.6 595.7M232 570.6L292 580M232 570.6L253.6 592.9M232 570.6L279.1 604.1M269.7 567.6L279.1 604.1M269.7 567.6L219.6 619M292 580L279.1 604.1M217.6 595.7L279.1 604.1M217.6 595.7L252.3 621M253.6 592.9L279.1 604.1M279.1 604.1L197.2 607.8" stroke="#228d54" stroke-width="1.16" stroke-opacity="0.91" fill="none"/>
<path d="M214.6 511.8L192.3 527.2M261 511.8L192.3 527.2M182.8 546.5L253.6 592.9M182.8 546.5L219.6 619M292 549L292 580M253.6 592.9L219.6 619M279.1 604.1L219.6 619M219.6 619L252.3 621" stroke="#1b8449" stroke-width="1.32" stroke-opacity="0.95" fill="none"/>
<path d="M261 511.8L182.8 546.5M242.6 528.4L182.8 546.5M182.8 546.5L232 570.6M292 549L279.1 604.1M232 570.6L252.3 621M269.7 567.6L253.6 592.9M253.6 592.9L252.3 621M279.1 604.1L252.3 621M197.2 607.8L252.3 621" stroke="#137a3e" stroke-width="1.5" stroke-opacity="1" fill="none"/>
<circle cx="214.6" cy="511.8" r="6.7" fill="#fdf9f9" stroke="#cfcfcf" stroke-width="0.5"/>
<text x="214.6" y="513.9" text-anchor="middle" font-size="6.2" font-weight="bold" fill="#111">PVLP</text>
<circle cx="238.2" cy="507.8" r="6.7" fill="#fdf9f9" stroke="#cfcfcf" stroke-width="0.5"/>
<text x="238.2" y="509.9" text-anchor="middle" font-size="6.2" font-weight="bold" fill="#111">IVLP</text>
<circle cx="261" cy="511.8" r="6.7" fill="#fdf9f9" stroke="#cfcfcf" stroke-width="0.5"/>
<text x="261" y="513.9" text-anchor="middle" font-size="6.2" font-weight="bold" fill="#111">VES</text>
<circle cx="192.3" cy="527.2" r="6.7" fill="#fdf9f9" stroke="#cfcfcf" stroke-width="0.5"/>
<text x="192.3" y="529.3" text-anchor="middle" font-size="6.2" font-weight="bold" fill="#111">AVLP</text>
<circle cx="242.6" cy="528.4" r="6.7" fill="#fdf9f9" stroke="#cfcfcf" stroke-width="0.5"/>
<text x="242.6" y="530.5" text-anchor="middle" font-size="6.2" font-weight="bold" fill="#111">EPA</text>
<circle cx="279.9" cy="524.7" r="6.7" fill="#fdf9f9" stroke="#cfcfcf" stroke-width="0.5"/>
<text x="279.9" y="526.8" text-anchor="middle" font-size="6.2" font-weight="bold" fill="#111">FLA</text>
<circle cx="182.8" cy="546.5" r="6.7" fill="#fdf9f9" stroke="#cfcfcf" stroke-width="0.5"/>
<text x="182.8" y="548.6" text-anchor="middle" font-size="6.2" font-weight="bold" fill="#111">LAL</text>
<circle cx="215.1" cy="545.8" r="6.7" fill="#fdf9f9" stroke="#cfcfcf" stroke-width="0.5"/>
<text x="215.1" y="547.9" text-anchor="middle" font-size="6.2" font-weight="bold" fill="#111">SPS</text>
<circle cx="270.4" cy="542.8" r="6.7" fill="#f5d6c3" stroke="#dcc4b8" stroke-width="0.5"/>
<text x="270.4" y="544.9" text-anchor="middle" font-size="6.2" font-weight="bold" fill="#111">LH</text>
<circle cx="292" cy="549" r="6.7" fill="#f5d6c3" stroke="#dcc4b8" stroke-width="0.5"/>
<text x="292" y="551.1" text-anchor="middle" font-size="6.2" font-weight="bold" fill="#111">SLP</text>
<circle cx="248.1" cy="554" r="6.7" fill="#fdf9f9" stroke="#cfcfcf" stroke-width="0.5"/>
<text x="248.1" y="556.1" text-anchor="middle" font-size="6.2" font-weight="bold" fill="#111">AUTO</text>
<circle cx="178.6" cy="570.6" r="6.7" fill="#fdf9f9" stroke="#cfcfcf" stroke-width="0.5"/>
<text x="178.6" y="572.7" text-anchor="middle" font-size="6.2" font-weight="bold" fill="#111">GOR</text>
<circle cx="207.7" cy="575.6" r="6.7" fill="#fdf9f9" stroke="#cfcfcf" stroke-width="0.5"/>
<text x="207.7" y="577.7" text-anchor="middle" font-size="6.2" font-weight="bold" fill="#111">ICL</text>
<circle cx="232" cy="570.6" r="6.7" fill="#fdf9f9" stroke="#cfcfcf" stroke-width="0.5"/>
<text x="232" y="572.7" text-anchor="middle" font-size="6.2" font-weight="bold" fill="#111">FB</text>
<circle cx="269.7" cy="567.6" r="6.7" fill="#f5d6c3" stroke="#dcc4b8" stroke-width="0.5"/>
<text x="269.7" y="569.7" text-anchor="middle" font-size="6.2" font-weight="bold" fill="#111">SIP</text>
<circle cx="292" cy="580" r="6.7" fill="#fdf9f9" stroke="#cfcfcf" stroke-width="0.5"/>
<text x="292" y="582.1" text-anchor="middle" font-size="6.2" font-weight="bold" fill="#111">SCL</text>
<circle cx="183.6" cy="590.4" r="6.7" fill="#fdf9f9" stroke="#cfcfcf" stroke-width="0.5"/>
<text x="183.6" y="592.5" text-anchor="middle" font-size="6.2" font-weight="bold" fill="#111">NO</text>
<circle cx="217.6" cy="595.7" r="6.7" fill="#fdf9f9" stroke="#cfcfcf" stroke-width="0.5"/>
<text x="217.6" y="597.8" text-anchor="middle" font-size="6.2" font-weight="bold" fill="#111">EB</text>
<circle cx="253.6" cy="592.9" r="6.7" fill="#f5d6c3" stroke="#dcc4b8" stroke-width="0.5"/>
<text x="253.6" y="595" text-anchor="middle" font-size="6.2" font-weight="bold" fill="#111">SMP</text>
<circle cx="279.1" cy="604.1" r="6.7" fill="#f5d6c3" stroke="#dcc4b8" stroke-width="0.5"/>
<text x="279.1" y="606.2" text-anchor="middle" font-size="6.2" font-weight="bold" fill="#111">CRE</text>
<circle cx="197.2" cy="607.8" r="6.7" fill="#f5d6c3" stroke="#dcc4b8" stroke-width="0.5"/>
<text x="197.2" y="609.9" text-anchor="middle" font-size="5.8" font-weight="bold" fill="#111">MBPED</text>
<circle cx="219.6" cy="619" r="6.7" fill="#f5d6c3" stroke="#dcc4b8" stroke-width="0.5"/>
<text x="219.6" y="621.1" text-anchor="middle" font-size="6.2" font-weight="bold" fill="#111">MBVL</text>
<circle cx="252.3" cy="621" r="6.7" fill="#f5d6c3" stroke="#dcc4b8" stroke-width="0.5"/>
<text x="252.3" y="623.1" text-anchor="middle" font-size="6.2" font-weight="bold" fill="#111">MBML</text>
<rect x="312.6" y="506.8" width="4.3" height="123.4" fill="url(#ngG)" stroke="#555" stroke-width="0.5"/>
<text x="318.6" y="511.3" font-size="8.2">0.9</text>
<text x="318.6" y="631.5" font-size="8.2">0</text>
<path d="M214.6 649.1L242.6 665.7M214.6 649.1L219.6 756.3M238.2 645.1L279.9 662M238.2 645.1L253.6 730.2M192.3 664.5L270.4 680.1M192.3 664.5L232 707.9M192.3 664.5L253.6 730.2M242.6 665.7L279.9 662M279.9 662L232 707.9M279.9 662L253.6 730.2M182.8 683.8L215.1 683.1M270.4 680.1L178.6 707.9M292 686.3L252.3 758.3M248.1 691.3L178.6 707.9M178.6 707.9L207.7 712.9M178.6 707.9L292 717.3M178.6 707.9L197.2 745.1" stroke="#d5d5f2" stroke-width="0.41" stroke-opacity="0.5" fill="none"/>
<path d="M214.6 649.1L215.1 683.1M214.6 649.1L292 686.3M214.6 649.1L197.2 745.1M238.2 645.1L292 686.3M261 649.1L270.4 680.1M261 649.1L248.1 691.3M261 649.1L178.6 707.9M261 649.1L232 707.9M261 649.1L253.6 730.2M261 649.1L279.1 741.4M261 649.1L197.2 745.1M192.3 664.5L248.1 691.3M192.3 664.5L207.7 712.9M192.3 664.5L219.6 756.3M182.8 683.8L270.4 680.1M182.8 683.8L178.6 707.9M182.8 683.8L232 707.9M182.8 683.8L253.6 730.2M182.8 683.8L252.3 758.3M215.1 683.1L270.4 680.1M215.1 683.1L292 686.3M215.1 683.1L178.6 707.9M270.4 680.1L207.7 712.9M270.4 680.1L269.7 704.9M270.4 680.1L197.2 745.1M248.1 691.3L219.6 756.3M248.1 691.3L252.3 758.3M178.6 707.9L253.6 730.2M178.6 707.9L219.6 756.3M178.6 707.9L252.3 758.3M207.7 712.9L232 707.9M207.7 712.9L292 717.3M207.7 712.9L217.6 733M217.6 733L279.1 741.4M217.6 733L219.6 756.3M253.6 730.2L197.2 745.1" stroke="#c8c6ec" stroke-width="0.43" stroke-opacity="0.54" fill="none"/>
<path d="M214.6 649.1L182.8 683.8M214.6 649.1L207.7 712.9M214.6 649.1L279.1 741.4M238.2 645.1L261 649.1M238.2 645.1L182.8 683.8M238.2 645.1L270.4 680.1M238.2 645.1L269.7 704.9M238.2 645.1L197.2 745.1M261 649.1L192.3 664.5M261 649.1L242.6 665.7M261 649.1L182.8 683.8M261 649.1L292 686.3M261 649.1L207.7 712.9M261 649.1L292 717.3M192.3 664.5L242.6 665.7M192.3 664.5L292 686.3M192.3 664.5L292 717.3M192.3 664.5L217.6 733M242.6 665.7L182.8 683.8M242.6 665.7L270.4 680.1M242.6 665.7L292 686.3M242.6 665.7L248.1 691.3M242.6 665.7L178.6 707.9M242.6 665.7L232 707.9M242.6 665.7L292 717.3M242.6 665.7L279.1 741.4M242.6 665.7L252.3 758.3M182.8 683.8L217.6 733M182.8 683.8L219.6 756.3M215.1 683.1L269.7 704.9M215.1 683.1L217.6 733M215.1 683.1L279.1 741.4M270.4 680.1L279.1 741.4M292 686.3L217.6 733M248.1 691.3L279.1 741.4M207.7 712.9L219.6 756.3M207.7 712.9L252.3 758.3M269.7 704.9L279.1 741.4M292 717.3L252.3 758.3" stroke="#bcb7e5" stroke-width="0.47" stroke-opacity="0.59" fill="none"/>
<path d="M214.6 649.1L269.7 704.9M214.6 649.1L253.6 730.2M214.6 649.1L252.3 758.3M238.2 645.1L242.6 665.7M238.2 645.1L215.1 683.1M238.2 645.1L207.7 712.9M238.2 645.1L217.6 733M261 649.1L269.7 704.9M192.3 664.5L279.1 741.4M192.3 664.5L252.3 758.3M242.6 665.7L215.1 683.1M242.6 665.7L207.7 712.9M242.6 665.7L269.7 704.9M242.6 665.7L217.6 733M242.6 665.7L253.6 730.2M182.8 683.8L292 686.3M182.8 683.8L269.7 704.9M182.8 683.8L279.1 741.4M182.8 683.8L197.2 745.1M215.1 683.1L219.6 756.3M270.4 680.1L292 717.3M248.1 691.3L197.2 745.1M207.7 712.9L253.6 730.2M269.7 704.9L292 717.3M292 717.3L219.6 756.3M279.1 741.4L197.2 745.1M197.2 745.1L252.3 758.3" stroke="#afa8de" stroke-width="0.52" stroke-opacity="0.63" fill="none"/>
<path d="M214.6 649.1L238.2 645.1M214.6 649.1L270.4 680.1M214.6 649.1L248.1 691.3M214.6 649.1L232 707.9M214.6 649.1L292 717.3M238.2 645.1L192.3 664.5M238.2 645.1L248.1 691.3M238.2 645.1L232 707.9M238.2 645.1L252.3 758.3M261 649.1L217.6 733M261 649.1L219.6 756.3M261 649.1L252.3 758.3M192.3 664.5L215.1 683.1M242.6 665.7L197.2 745.1M182.8 683.8L248.1 691.3M215.1 683.1L232 707.9M270.4 680.1L248.1 691.3M270.4 680.1L253.6 730.2M292 686.3L232 707.9M292 686.3L219.6 756.3M248.1 691.3L232 707.9M248.1 691.3L269.7 704.9M248.1 691.3L253.6 730.2M207.7 712.9L279.1 741.4M232 707.9L292 717.3M232 707.9L197.2 745.1M232 707.9L219.6 756.3M269.7 704.9L219.6 756.3M292 717.3L217.6 733M217.6 733L197.2 745.1M217.6 733L252.3 758.3" stroke="#a499d7" stroke-width="0.59" stroke-opacity="0.68" fill="none"/>
<path d="M270.4 680.1L219.6 756.3M292 686.3L248.1 691.3M207.7 712.9L197.2 745.1M292 717.3L197.2 745.1M217.6 733L253.6 730.2M279.1 741.4L219.6 756.3" stroke="#9c83ce" stroke-width="0.68" stroke-opacity="0.73" fill="none"/>
<path d="M270.4 680.1L292 686.3M270.4 680.1L232 707.9M270.4 680.1L217.6 733M270.4 680.1L252.3 758.3M292 686.3L207.7 712.9M292 686.3L197.2 745.1M248.1 691.3L217.6 733M207.7 712.9L269.7 704.9M232 707.9L269.7 704.9M269.7 704.9L217.6 733M269.7 704.9L197.2 745.1M269.7 704.9L252.3 758.3" stroke="#956cc5" stroke-width="0.77" stroke-opacity="0.77" fill="none"/>
<path d="M248.1 691.3L207.7 712.9M248.1 691.3L292 717.3" stroke="#8d56bc" stroke-width="0.89" stroke-opacity="0.82" fill="none"/>
<path d="M261 649.1L215.1 683.1M292 686.3L269.7 704.9M232 707.9L253.6 730.2M292 717.3L253.6 730.2M253.6 730.2L219.6 756.3M253.6 730.2L252.3 758.3" stroke="#7c37a4" stroke-width="1.16" stroke-opacity="0.91" fill="none"/>
<path d="M292 686.3L292 717.3M292 686.3L253.6 730.2M232 707.9L217.6 733M232 707.9L279.1 741.4M269.7 704.9L253.6 730.2M253.6 730.2L279.1 741.4M219.6 756.3L252.3 758.3" stroke="#732997" stroke-width="1.32" stroke-opacity="0.95" fill="none"/>
<path d="M214.6 649.1L192.3 664.5M292 686.3L279.1 741.4M232 707.9L252.3 758.3M292 717.3L279.1 741.4M279.1 741.4L252.3 758.3" stroke="#6a1b8a" stroke-width="1.5" stroke-opacity="1" fill="none"/>
<circle cx="214.6" cy="649.1" r="6.7" fill="#fdf9f9" stroke="#cfcfcf" stroke-width="0.5"/>
<text x="214.6" y="651.2" text-anchor="middle" font-size="6.2" font-weight="bold" fill="#111">PVLP</text>
<circle cx="238.2" cy="645.1" r="6.7" fill="#fdf9f9" stroke="#cfcfcf" stroke-width="0.5"/>
<text x="238.2" y="647.2" text-anchor="middle" font-size="6.2" font-weight="bold" fill="#111">IVLP</text>
<circle cx="261" cy="649.1" r="6.7" fill="#fdf9f9" stroke="#cfcfcf" stroke-width="0.5"/>
<text x="261" y="651.2" text-anchor="middle" font-size="6.2" font-weight="bold" fill="#111">VES</text>
<circle cx="192.3" cy="664.5" r="6.7" fill="#fdf9f9" stroke="#cfcfcf" stroke-width="0.5"/>
<text x="192.3" y="666.6" text-anchor="middle" font-size="6.2" font-weight="bold" fill="#111">AVLP</text>
<circle cx="242.6" cy="665.7" r="6.7" fill="#fdf9f9" stroke="#cfcfcf" stroke-width="0.5"/>
<text x="242.6" y="667.8" text-anchor="middle" font-size="6.2" font-weight="bold" fill="#111">EPA</text>
<circle cx="279.9" cy="662" r="6.7" fill="#fdf9f9" stroke="#cfcfcf" stroke-width="0.5"/>
<text x="279.9" y="664.1" text-anchor="middle" font-size="6.2" font-weight="bold" fill="#111">FLA</text>
<circle cx="182.8" cy="683.8" r="6.7" fill="#fdf9f9" stroke="#cfcfcf" stroke-width="0.5"/>
<text x="182.8" y="685.9" text-anchor="middle" font-size="6.2" font-weight="bold" fill="#111">LAL</text>
<circle cx="215.1" cy="683.1" r="6.7" fill="#fdf9f9" stroke="#cfcfcf" stroke-width="0.5"/>
<text x="215.1" y="685.2" text-anchor="middle" font-size="6.2" font-weight="bold" fill="#111">SPS</text>
<circle cx="270.4" cy="680.1" r="6.7" fill="#f5d6c3" stroke="#dcc4b8" stroke-width="0.5"/>
<text x="270.4" y="682.2" text-anchor="middle" font-size="6.2" font-weight="bold" fill="#111">LH</text>
<circle cx="292" cy="686.3" r="6.7" fill="#f5d6c3" stroke="#dcc4b8" stroke-width="0.5"/>
<text x="292" y="688.4" text-anchor="middle" font-size="6.2" font-weight="bold" fill="#111">SLP</text>
<circle cx="248.1" cy="691.3" r="6.7" fill="#fdf9f9" stroke="#cfcfcf" stroke-width="0.5"/>
<text x="248.1" y="693.4" text-anchor="middle" font-size="6.2" font-weight="bold" fill="#111">AUTO</text>
<circle cx="178.6" cy="707.9" r="6.7" fill="#fdf9f9" stroke="#cfcfcf" stroke-width="0.5"/>
<text x="178.6" y="710" text-anchor="middle" font-size="6.2" font-weight="bold" fill="#111">GOR</text>
<circle cx="207.7" cy="712.9" r="6.7" fill="#fdf9f9" stroke="#cfcfcf" stroke-width="0.5"/>
<text x="207.7" y="715" text-anchor="middle" font-size="6.2" font-weight="bold" fill="#111">ICL</text>
<circle cx="232" cy="707.9" r="6.7" fill="#fdf9f9" stroke="#cfcfcf" stroke-width="0.5"/>
<text x="232" y="710" text-anchor="middle" font-size="6.2" font-weight="bold" fill="#111">FB</text>
<circle cx="269.7" cy="704.9" r="6.7" fill="#f5d6c3" stroke="#dcc4b8" stroke-width="0.5"/>
<text x="269.7" y="707" text-anchor="middle" font-size="6.2" font-weight="bold" fill="#111">SIP</text>
<circle cx="292" cy="717.3" r="6.7" fill="#fdf9f9" stroke="#cfcfcf" stroke-width="0.5"/>
<text x="292" y="719.4" text-anchor="middle" font-size="6.2" font-weight="bold" fill="#111">SCL</text>
<circle cx="183.6" cy="727.7" r="6.7" fill="#fdf9f9" stroke="#cfcfcf" stroke-width="0.5"/>
<text x="183.6" y="729.8" text-anchor="middle" font-size="6.2" font-weight="bold" fill="#111">NO</text>
<circle cx="217.6" cy="733" r="6.7" fill="#fdf9f9" stroke="#cfcfcf" stroke-width="0.5"/>
<text x="217.6" y="735.1" text-anchor="middle" font-size="6.2" font-weight="bold" fill="#111">EB</text>
<circle cx="253.6" cy="730.2" r="6.7" fill="#f5d6c3" stroke="#dcc4b8" stroke-width="0.5"/>
<text x="253.6" y="732.3" text-anchor="middle" font-size="6.2" font-weight="bold" fill="#111">SMP</text>
<circle cx="279.1" cy="741.4" r="6.7" fill="#f5d6c3" stroke="#dcc4b8" stroke-width="0.5"/>
<text x="279.1" y="743.5" text-anchor="middle" font-size="6.2" font-weight="bold" fill="#111">CRE</text>
<circle cx="197.2" cy="745.1" r="6.7" fill="#f5d6c3" stroke="#dcc4b8" stroke-width="0.5"/>
<text x="197.2" y="747.2" text-anchor="middle" font-size="5.8" font-weight="bold" fill="#111">MBPED</text>
<circle cx="219.6" cy="756.3" r="6.7" fill="#f5d6c3" stroke="#dcc4b8" stroke-width="0.5"/>
<text x="219.6" y="758.4" text-anchor="middle" font-size="6.2" font-weight="bold" fill="#111">MBVL</text>
<circle cx="252.3" cy="758.3" r="6.7" fill="#f5d6c3" stroke="#dcc4b8" stroke-width="0.5"/>
<text x="252.3" y="760.4" text-anchor="middle" font-size="6.2" font-weight="bold" fill="#111">MBML</text>
<rect x="312.6" y="644.1" width="4.3" height="123.4" fill="url(#ngP)" stroke="#555" stroke-width="0.5"/>
<text x="318.6" y="648.6" font-size="8.2">0.9</text>
<text x="318.6" y="768.8" font-size="8.2">0</text>
<path d="M214.6 792.8L232 851.6M214.6 792.8L279.1 885.1M238.2 788.8L248.1 835M238.2 788.8L252.3 902M261 792.8L232 851.6M192.3 808.2L279.9 805.7M192.3 808.2L197.2 888.8M242.6 809.4L215.1 826.8M279.9 805.7L252.3 902M215.1 826.8L292 830M215.1 826.8L253.6 873.9M270.4 823.8L178.6 851.6M178.6 851.6L269.7 848.6M178.6 851.6L279.1 885.1M232 851.6L219.6 900" stroke="#cbe2f4" stroke-width="0.41" stroke-opacity="0.5" fill="none"/>
<path d="M214.6 792.8L215.1 826.8M214.6 792.8L270.4 823.8M214.6 792.8L248.1 835M214.6 792.8L178.6 851.6M238.2 788.8L178.6 851.6M238.2 788.8L217.6 876.7M238.2 788.8L197.2 888.8M238.2 788.8L219.6 900M261 792.8L242.6 809.4M261 792.8L270.4 823.8M261 792.8L292 830M261 792.8L178.6 851.6M261 792.8L207.7 856.6M261 792.8L217.6 876.7M261 792.8L252.3 902M192.3 808.2L279.1 885.1M192.3 808.2L252.3 902M242.6 809.4L292 830M242.6 809.4L207.7 856.6M279.9 805.7L270.4 823.8M279.9 805.7L292 830M279.9 805.7L178.6 851.6M279.9 805.7L292 861M279.9 805.7L197.2 888.8M182.8 827.5L292 830M182.8 827.5L178.6 851.6M182.8 827.5L217.6 876.7M182.8 827.5L279.1 885.1M182.8 827.5L219.6 900M215.1 826.8L178.6 851.6M248.1 835L217.6 876.7M178.6 851.6L207.7 856.6M178.6 851.6L197.2 888.8M269.7 848.6L197.2 888.8" stroke="#b9d7ef" stroke-width="0.43" stroke-opacity="0.54" fill="none"/>
<path d="M214.6 792.8L279.9 805.7M214.6 792.8L292 830M214.6 792.8L292 861M214.6 792.8L253.6 873.9M238.2 788.8L242.6 809.4M238.2 788.8L182.8 827.5M238.2 788.8L292 830M238.2 788.8L269.7 848.6M238.2 788.8L253.6 873.9M261 792.8L215.1 826.8M192.3 808.2L182.8 827.5M192.3 808.2L178.6 851.6M192.3 808.2L253.6 873.9M192.3 808.2L219.6 900M242.6 809.4L178.6 851.6M242.6 809.4L232 851.6M242.6 809.4L292 861M242.6 809.4L219.6 900M279.9 805.7L248.1 835M279.9 805.7L217.6 876.7M182.8 827.5L207.7 856.6M182.8 827.5L292 861M182.8 827.5L252.3 902M215.1 826.8L270.4 823.8M215.1 826.8L219.6 900M270.4 823.8L217.6 876.7M270.4 823.8L253.6 873.9M270.4 823.8L197.2 888.8M292 830L253.6 873.9M292 830L252.3 902M178.6 851.6L232 851.6M178.6 851.6L292 861M178.6 851.6L217.6 876.7M178.6 851.6L219.6 900M207.7 856.6L292 861M269.7 848.6L253.6 873.9M292 861L253.6 873.9" stroke="#a5ccea" stroke-width="0.47" stroke-opacity="0.59" fill="none"/>
<path d="M214.6 792.8L242.6 809.4M214.6 792.8L182.8 827.5M214.6 792.8L219.6 900M214.6 792.8L252.3 902M238.2 788.8L261 792.8M238.2 788.8L215.1 826.8M238.2 788.8L270.4 823.8M238.2 788.8L232 851.6M238.2 788.8L292 861M261 792.8L279.9 805.7M261 792.8L253.6 873.9M261 792.8L197.2 888.8M192.3 808.2L292 830M192.3 808.2L232 851.6M242.6 809.4L270.4 823.8M242.6 809.4L248.1 835M242.6 809.4L197.2 888.8M242.6 809.4L252.3 902M279.9 805.7L215.1 826.8M279.9 805.7L207.7 856.6M279.9 805.7L232 851.6M279.9 805.7L253.6 873.9M182.8 827.5L215.1 826.8M182.8 827.5L270.4 823.8M182.8 827.5L248.1 835M182.8 827.5L197.2 888.8M215.1 826.8L248.1 835M215.1 826.8L207.7 856.6M215.1 826.8L232 851.6M215.1 826.8L269.7 848.6M215.1 826.8L292 861M270.4 823.8L248.1 835M270.4 823.8L232 851.6M270.4 823.8L219.6 900M292 830L232 851.6M248.1 835L279.1 885.1M207.7 856.6L217.6 876.7M207.7 856.6L279.1 885.1M207.7 856.6L219.6 900M232 851.6L279.1 885.1M232 851.6L197.2 888.8M269.7 848.6L217.6 876.7M292 861L197.2 888.8M217.6 876.7L252.3 902M197.2 888.8L252.3 902" stroke="#91c1e5" stroke-width="0.52" stroke-opacity="0.63" fill="none"/>
<path d="M214.6 792.8L269.7 848.6M214.6 792.8L217.6 876.7M214.6 792.8L197.2 888.8M238.2 788.8L279.9 805.7M238.2 788.8L207.7 856.6M238.2 788.8L279.1 885.1M261 792.8L248.1 835M261 792.8L269.7 848.6M261 792.8L292 861M192.3 808.2L270.4 823.8M192.3 808.2L292 861M242.6 809.4L217.6 876.7M242.6 809.4L253.6 873.9M242.6 809.4L279.1 885.1M279.9 805.7L182.8 827.5M279.9 805.7L269.7 848.6M279.9 805.7L279.1 885.1M182.8 827.5L232 851.6M182.8 827.5L253.6 873.9M215.1 826.8L217.6 876.7M215.1 826.8L279.1 885.1M215.1 826.8L197.2 888.8M215.1 826.8L252.3 902M270.4 823.8L292 861M292 830L248.1 835M292 830L217.6 876.7M292 830L197.2 888.8M248.1 835L252.3 902M207.7 856.6L197.2 888.8M269.7 848.6L252.3 902M217.6 876.7L279.1 885.1M217.6 876.7L219.6 900M253.6 873.9L197.2 888.8M197.2 888.8L219.6 900" stroke="#7eb5df" stroke-width="0.59" stroke-opacity="0.68" fill="none"/>
<path d="M214.6 792.8L238.2 788.8M214.6 792.8L261 792.8M238.2 788.8L192.3 808.2M261 792.8L279.1 885.1M261 792.8L219.6 900M192.3 808.2L242.6 809.4M192.3 808.2L248.1 835M192.3 808.2L207.7 856.6M192.3 808.2L269.7 848.6M192.3 808.2L217.6 876.7M242.6 809.4L279.9 805.7M242.6 809.4L269.7 848.6M279.9 805.7L219.6 900M270.4 823.8L207.7 856.6M270.4 823.8L269.7 848.6M270.4 823.8L252.3 902M292 830L292 861M292 830L219.6 900M248.1 835L207.7 856.6M248.1 835L292 861M248.1 835L253.6 873.9M248.1 835L197.2 888.8M207.7 856.6L232 851.6M232 851.6L292 861M232 851.6L253.6 873.9M269.7 848.6L279.1 885.1M292 861L217.6 876.7M292 861L252.3 902M217.6 876.7L197.2 888.8M253.6 873.9L252.3 902" stroke="#67a6d4" stroke-width="0.68" stroke-opacity="0.73" fill="none"/>
<path d="M270.4 823.8L292 830M270.4 823.8L279.1 885.1M248.1 835L232 851.6M248.1 835L219.6 900M207.7 856.6L269.7 848.6M207.7 856.6L253.6 873.9M207.7 856.6L252.3 902M269.7 848.6L292 861M292 861L279.1 885.1M292 861L219.6 900M279.1 885.1L197.2 888.8M219.6 900L252.3 902" stroke="#5096c9" stroke-width="0.77" stroke-opacity="0.77" fill="none"/>
<path d="M292 830L207.7 856.6M292 830L279.1 885.1M248.1 835L269.7 848.6M232 851.6L269.7 848.6M217.6 876.7L253.6 873.9" stroke="#3a86bd" stroke-width="0.89" stroke-opacity="0.82" fill="none"/>
<path d="M232 851.6L217.6 876.7" stroke="#2a79b3" stroke-width="1.02" stroke-opacity="0.86" fill="none"/>
<path d="M214.6 792.8L192.3 808.2M261 792.8L182.8 827.5M242.6 809.4L182.8 827.5M292 830L269.7 848.6M279.1 885.1L219.6 900" stroke="#206fa9" stroke-width="1.16" stroke-opacity="0.91" fill="none"/>
<path d="M232 851.6L252.3 902M269.7 848.6L219.6 900M253.6 873.9L279.1 885.1M253.6 873.9L219.6 900M279.1 885.1L252.3 902" stroke="#1764a0" stroke-width="1.32" stroke-opacity="0.95" fill="none"/>
<circle cx="214.6" cy="792.8" r="6.7" fill="#fdf9f9" stroke="#cfcfcf" stroke-width="0.5"/>
<text x="214.6" y="794.9" text-anchor="middle" font-size="6.2" font-weight="bold" fill="#111">PVLP</text>
<circle cx="238.2" cy="788.8" r="6.7" fill="#fdf9f9" stroke="#cfcfcf" stroke-width="0.5"/>
<text x="238.2" y="790.9" text-anchor="middle" font-size="6.2" font-weight="bold" fill="#111">IVLP</text>
<circle cx="261" cy="792.8" r="6.7" fill="#fdf9f9" stroke="#cfcfcf" stroke-width="0.5"/>
<text x="261" y="794.9" text-anchor="middle" font-size="6.2" font-weight="bold" fill="#111">VES</text>
<circle cx="192.3" cy="808.2" r="6.7" fill="#fdf9f9" stroke="#cfcfcf" stroke-width="0.5"/>
<text x="192.3" y="810.3" text-anchor="middle" font-size="6.2" font-weight="bold" fill="#111">AVLP</text>
<circle cx="242.6" cy="809.4" r="6.7" fill="#fdf9f9" stroke="#cfcfcf" stroke-width="0.5"/>
<text x="242.6" y="811.5" text-anchor="middle" font-size="6.2" font-weight="bold" fill="#111">EPA</text>
<circle cx="279.9" cy="805.7" r="6.7" fill="#fdf9f9" stroke="#cfcfcf" stroke-width="0.5"/>
<text x="279.9" y="807.8" text-anchor="middle" font-size="6.2" font-weight="bold" fill="#111">FLA</text>
<circle cx="182.8" cy="827.5" r="6.7" fill="#fdf9f9" stroke="#cfcfcf" stroke-width="0.5"/>
<text x="182.8" y="829.6" text-anchor="middle" font-size="6.2" font-weight="bold" fill="#111">LAL</text>
<circle cx="215.1" cy="826.8" r="6.7" fill="#fdf9f9" stroke="#cfcfcf" stroke-width="0.5"/>
<text x="215.1" y="828.9" text-anchor="middle" font-size="6.2" font-weight="bold" fill="#111">SPS</text>
<circle cx="270.4" cy="823.8" r="6.7" fill="#f5d6c3" stroke="#dcc4b8" stroke-width="0.5"/>
<text x="270.4" y="825.9" text-anchor="middle" font-size="6.2" font-weight="bold" fill="#111">LH</text>
<circle cx="292" cy="830" r="6.7" fill="#f5d6c3" stroke="#dcc4b8" stroke-width="0.5"/>
<text x="292" y="832.1" text-anchor="middle" font-size="6.2" font-weight="bold" fill="#111">SLP</text>
<circle cx="248.1" cy="835" r="6.7" fill="#fdf9f9" stroke="#cfcfcf" stroke-width="0.5"/>
<text x="248.1" y="837.1" text-anchor="middle" font-size="6.2" font-weight="bold" fill="#111">AUTO</text>
<circle cx="178.6" cy="851.6" r="6.7" fill="#fdf9f9" stroke="#cfcfcf" stroke-width="0.5"/>
<text x="178.6" y="853.7" text-anchor="middle" font-size="6.2" font-weight="bold" fill="#111">GOR</text>
<circle cx="207.7" cy="856.6" r="6.7" fill="#fdf9f9" stroke="#cfcfcf" stroke-width="0.5"/>
<text x="207.7" y="858.7" text-anchor="middle" font-size="6.2" font-weight="bold" fill="#111">ICL</text>
<circle cx="232" cy="851.6" r="6.7" fill="#fdf9f9" stroke="#cfcfcf" stroke-width="0.5"/>
<text x="232" y="853.7" text-anchor="middle" font-size="6.2" font-weight="bold" fill="#111">FB</text>
<circle cx="269.7" cy="848.6" r="6.7" fill="#f5d6c3" stroke="#dcc4b8" stroke-width="0.5"/>
<text x="269.7" y="850.7" text-anchor="middle" font-size="6.2" font-weight="bold" fill="#111">SIP</text>
<circle cx="292" cy="861" r="6.7" fill="#fdf9f9" stroke="#cfcfcf" stroke-width="0.5"/>
<text x="292" y="863.1" text-anchor="middle" font-size="6.2" font-weight="bold" fill="#111">SCL</text>
<circle cx="183.6" cy="871.4" r="6.7" fill="#fdf9f9" stroke="#cfcfcf" stroke-width="0.5"/>
<text x="183.6" y="873.5" text-anchor="middle" font-size="6.2" font-weight="bold" fill="#111">NO</text>
<circle cx="217.6" cy="876.7" r="6.7" fill="#fdf9f9" stroke="#cfcfcf" stroke-width="0.5"/>
<text x="217.6" y="878.8" text-anchor="middle" font-size="6.2" font-weight="bold" fill="#111">EB</text>
<circle cx="253.6" cy="873.9" r="6.7" fill="#f5d6c3" stroke="#dcc4b8" stroke-width="0.5"/>
<text x="253.6" y="876" text-anchor="middle" font-size="6.2" font-weight="bold" fill="#111">SMP</text>
<circle cx="279.1" cy="885.1" r="6.7" fill="#f5d6c3" stroke="#dcc4b8" stroke-width="0.5"/>
<text x="279.1" y="887.2" text-anchor="middle" font-size="6.2" font-weight="bold" fill="#111">CRE</text>
<circle cx="197.2" cy="888.8" r="6.7" fill="#f5d6c3" stroke="#dcc4b8" stroke-width="0.5"/>
<text x="197.2" y="890.9" text-anchor="middle" font-size="5.8" font-weight="bold" fill="#111">MBPED</text>
<circle cx="219.6" cy="900" r="6.7" fill="#f5d6c3" stroke="#dcc4b8" stroke-width="0.5"/>
<text x="219.6" y="902.1" text-anchor="middle" font-size="6.2" font-weight="bold" fill="#111">MBVL</text>
<circle cx="252.3" cy="902" r="6.7" fill="#f5d6c3" stroke="#dcc4b8" stroke-width="0.5"/>
<text x="252.3" y="904.1" text-anchor="middle" font-size="6.2" font-weight="bold" fill="#111">MBML</text>
<rect x="312.6" y="787.8" width="4.3" height="123.4" fill="url(#ngB)" stroke="#555" stroke-width="0.5"/>
<text x="318.6" y="792.3" font-size="8.2">0.9</text>
<text x="318.6" y="912.5" font-size="8.2">0</text>
<path d="M271.7,532.1 C279.32,531.93 294.13,536.03 300,541 C305.87,545.97 306.07,553.73 306.9,561.9 C307.73,570.07 307.57,581.32 305,590 C302.43,598.68 298.17,607.83 291.5,614 C284.83,620.17 273.27,624.3 265,627 C256.73,629.7 251.07,630.03 241.9,630.2 C232.73,630.37 220.32,631.03 210,628 C199.68,624.97 186.47,618.05 180,612 C173.53,605.95 169.98,596.95 171.2,591.7 C172.42,586.45 178.83,585.88 187.3,580.5 C195.77,575.12 210.83,565.82 222,559.4 C233.17,552.98 246.02,546.55 254.3,542 C262.58,537.45 264.08,532.27 271.7,532.1 Z" fill="none" stroke="#111" stroke-width="1.35" stroke-dasharray="3 1.8"/>
<path d="M272.7,669.4 C280.32,669.23 295.13,673.33 301,678.3 C306.87,683.27 307.07,691.03 307.9,699.2 C308.73,707.37 308.57,718.62 306,727.3 C303.43,735.98 299.17,745.13 292.5,751.3 C285.83,757.47 274.27,761.6 266,764.3 C257.73,767 252.07,767.33 242.9,767.5 C233.73,767.67 221.32,768.33 211,765.3 C200.68,762.27 187.47,755.35 181,749.3 C174.53,743.25 170.98,734.25 172.2,729 C173.42,723.75 179.83,723.18 188.3,717.8 C196.77,712.42 211.83,703.12 223,696.7 C234.17,690.28 247.02,683.85 255.3,679.3 C263.58,674.75 265.08,669.57 272.7,669.4 Z" fill="none" stroke="#111" stroke-width="1.35" stroke-dasharray="3 1.8"/>
<path d="M174.9,866.8 C174.9,871.63 183.32,888.13 190,895 C196.68,901.87 206.35,905.05 215,908 C223.65,910.95 231.9,912.87 241.9,912.7 C251.9,912.53 265.82,911.12 275,907 C284.18,902.88 292.38,895.53 297,888 C301.62,880.47 301.53,870.13 302.7,861.8 C303.87,853.47 304.95,844.63 304,838 C303.05,831.37 299.5,825.07 297,822 C294.5,818.93 291.57,818.97 289,819.6 C286.43,820.23 283.25,823.32 281.6,825.8 C279.95,828.28 282,833.25 279.1,834.5 C276.2,835.75 268.33,834.75 264.2,833.3 C260.07,831.85 258.43,826.83 254.3,825.8 C250.17,824.77 243.95,824.4 239.4,827.1 C234.85,829.8 230.52,836.22 227,842 C223.48,847.78 221.6,857.47 218.3,861.8 C215,866.13 211.92,867.3 207.2,868 C202.48,868.7 195.38,866.2 190,866 C184.62,865.8 174.9,861.97 174.9,866.8 Z" fill="none" stroke="#111" stroke-width="1.35" stroke-dasharray="3 1.8"/>
</svg></body></html>
